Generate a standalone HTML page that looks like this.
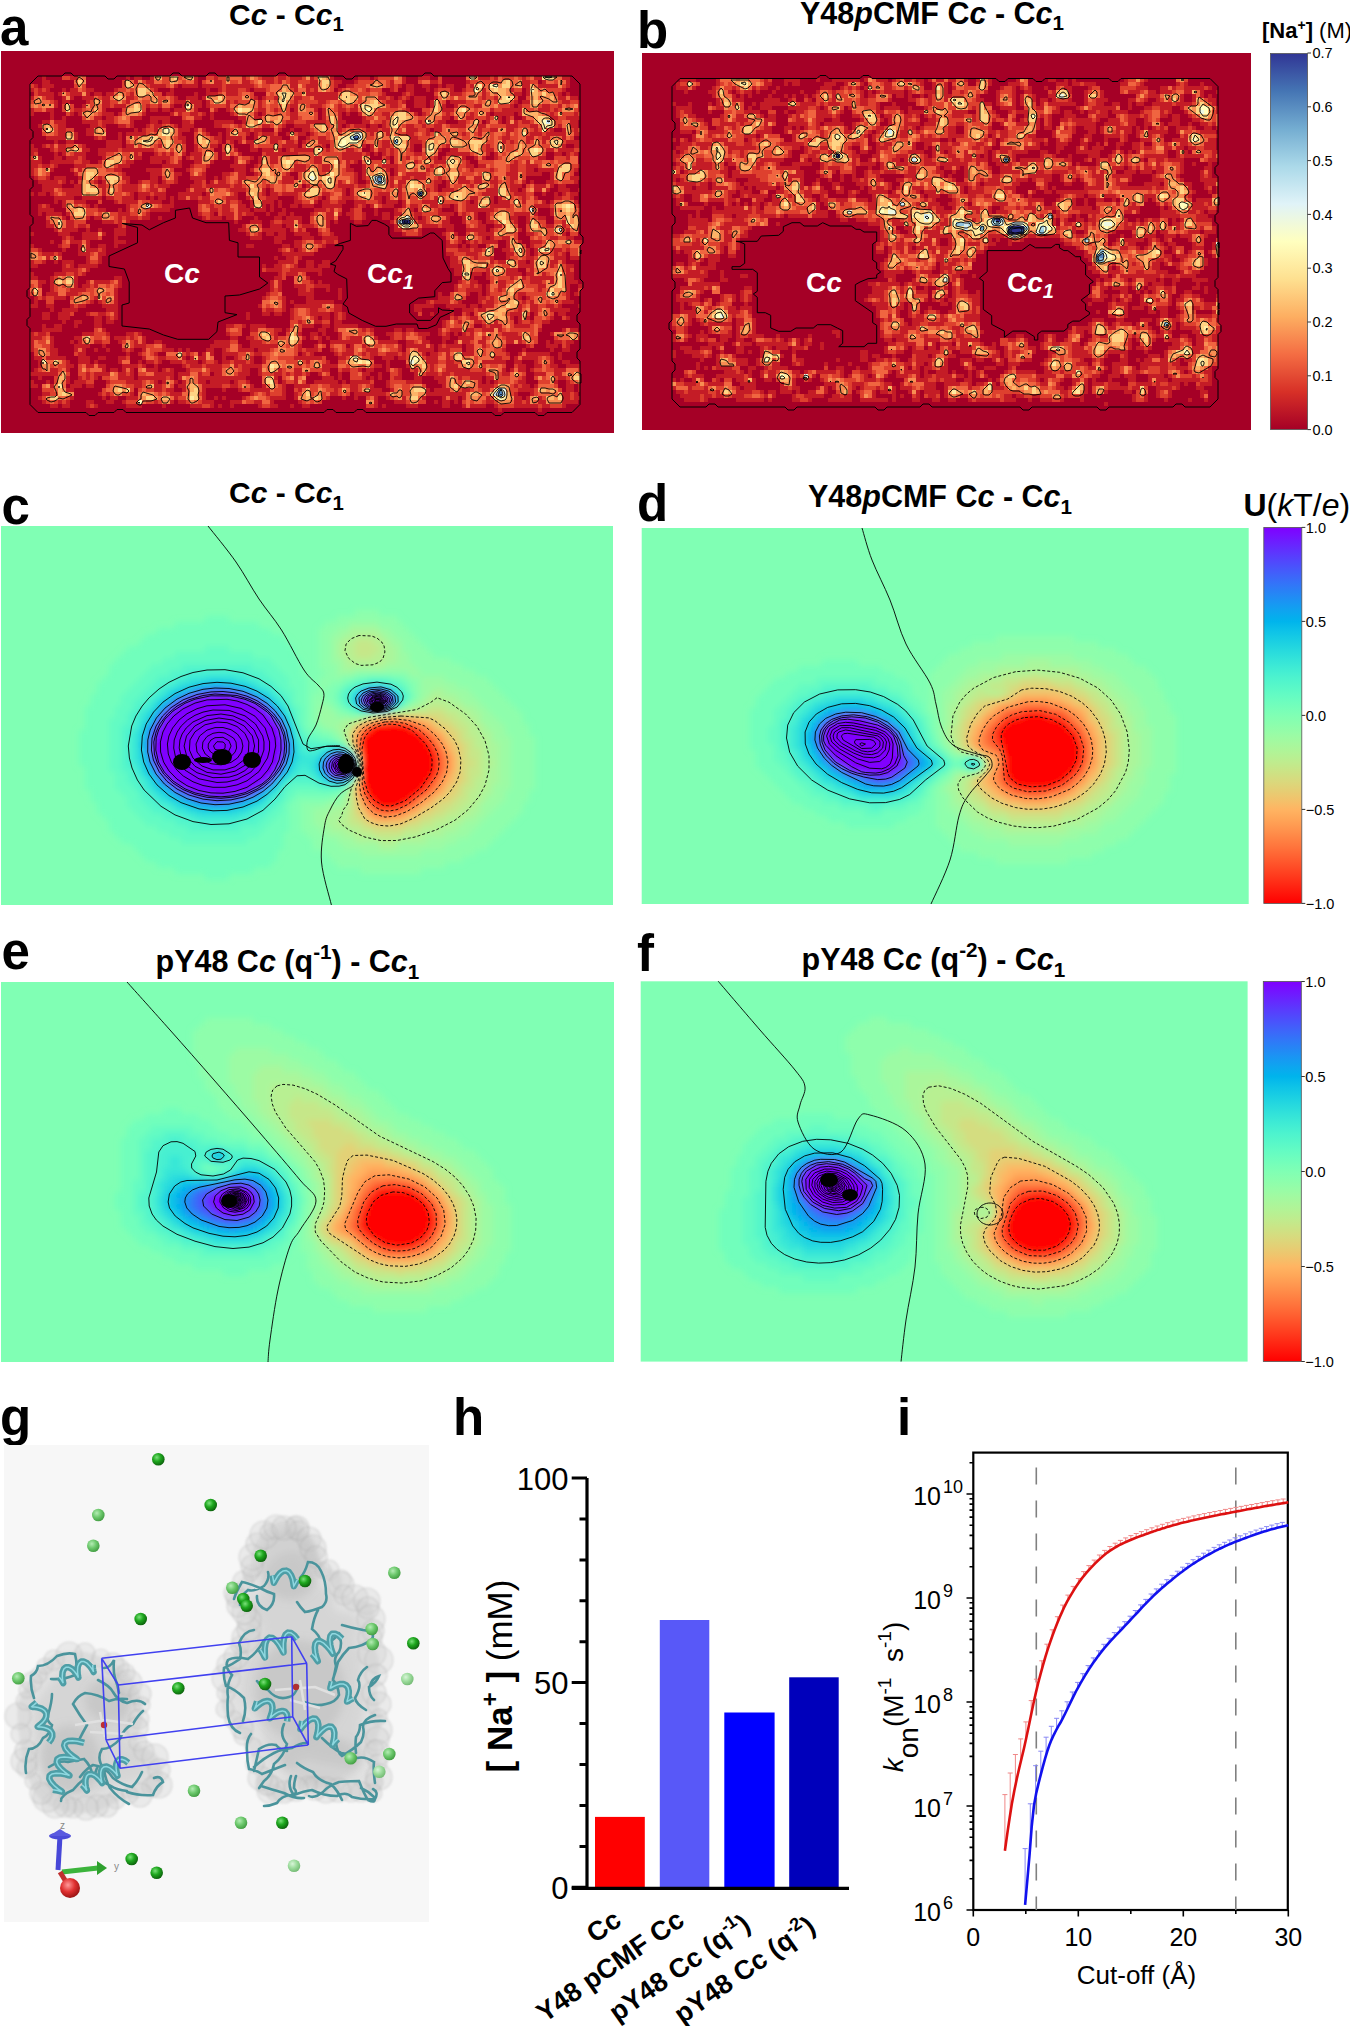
<!DOCTYPE html><html><head><meta charset="utf-8"><style>html,body{margin:0;padding:0;background:#fff;}svg{display:block;} text{font-family:"Liberation Sans", sans-serif;}</style></head><body><svg width="1350" height="2026" viewBox="0 0 1350 2026"><defs><linearGradient id="gNa" x1="0" y1="1" x2="0" y2="0"><stop offset="0.00" stop-color="#a50026"/><stop offset="0.10" stop-color="#d73027"/><stop offset="0.20" stop-color="#f46d43"/><stop offset="0.30" stop-color="#fdae61"/><stop offset="0.40" stop-color="#fee090"/><stop offset="0.50" stop-color="#ffffbf"/><stop offset="0.60" stop-color="#e0f3f8"/><stop offset="0.70" stop-color="#abd9e9"/><stop offset="0.80" stop-color="#74add1"/><stop offset="0.90" stop-color="#4575b4"/><stop offset="1.00" stop-color="#313695"/></linearGradient><linearGradient id="gU" x1="0" y1="0" x2="0" y2="1"><stop offset="0.000" stop-color="#8000ff"/><stop offset="0.025" stop-color="#7314ff"/><stop offset="0.050" stop-color="#6628fe"/><stop offset="0.075" stop-color="#593cfd"/><stop offset="0.100" stop-color="#4c4ffc"/><stop offset="0.125" stop-color="#4062fa"/><stop offset="0.150" stop-color="#3374f8"/><stop offset="0.175" stop-color="#2685f5"/><stop offset="0.200" stop-color="#1996f3"/><stop offset="0.225" stop-color="#0da6ef"/><stop offset="0.250" stop-color="#00b4ec"/><stop offset="0.275" stop-color="#0dc2e8"/><stop offset="0.300" stop-color="#19cee3"/><stop offset="0.325" stop-color="#26d9de"/><stop offset="0.350" stop-color="#33e3d9"/><stop offset="0.375" stop-color="#40ecd4"/><stop offset="0.400" stop-color="#4df3ce"/><stop offset="0.425" stop-color="#59f8c8"/><stop offset="0.450" stop-color="#66fcc2"/><stop offset="0.475" stop-color="#73febb"/><stop offset="0.500" stop-color="#80ffb4"/><stop offset="0.525" stop-color="#8cfead"/><stop offset="0.550" stop-color="#99fca6"/><stop offset="0.575" stop-color="#a6f89e"/><stop offset="0.600" stop-color="#b2f396"/><stop offset="0.625" stop-color="#bfec8e"/><stop offset="0.650" stop-color="#cce385"/><stop offset="0.675" stop-color="#d9d97d"/><stop offset="0.700" stop-color="#e5ce74"/><stop offset="0.725" stop-color="#f2c26b"/><stop offset="0.750" stop-color="#ffb462"/><stop offset="0.775" stop-color="#ffa658"/><stop offset="0.800" stop-color="#ff964f"/><stop offset="0.825" stop-color="#ff8545"/><stop offset="0.850" stop-color="#ff743c"/><stop offset="0.875" stop-color="#ff6232"/><stop offset="0.900" stop-color="#ff4f28"/><stop offset="0.925" stop-color="#ff3c1e"/><stop offset="0.950" stop-color="#ff2814"/><stop offset="0.975" stop-color="#ff140a"/><stop offset="1.000" stop-color="#ff0000"/></linearGradient></defs><rect width="1350" height="2026" fill="#fff"/><text x="0.0" y="44.5" font-size="51" font-weight="bold">a</text><text x="637.0" y="47.5" font-size="51" font-weight="bold">b</text><text x="1.5" y="524.0" font-size="51" font-weight="bold">c</text><text x="637.0" y="521.0" font-size="51" font-weight="bold">d</text><text x="1.5" y="968.5" font-size="51" font-weight="bold">e</text><text x="637.0" y="970.5" font-size="51" font-weight="bold">f</text><text x="0.0" y="1435.0" font-size="51" font-weight="bold">g</text><text x="453.0" y="1435.0" font-size="51" font-weight="bold">h</text><text x="897.0" y="1435.0" font-size="51" font-weight="bold">i</text><defs><filter id="nb" x="0" y="0" width="1" height="1"><feGaussianBlur stdDeviation="0.6"/></filter></defs><rect x="1.0" y="51.0" width="613.0" height="382.0" fill="#a50026"/><clipPath id="nca"><path d="M38.0 76.0L62.0 76.0L65.0 73.0L71.0 73.0L74.0 76.0L105.0 76.0L108.0 79.0L114.0 79.0L117.0 76.0L170.0 76.0L173.0 73.0L179.0 73.0L182.0 76.0L206.0 76.0L209.0 73.0L215.0 73.0L218.0 76.0L276.0 76.0L279.0 73.0L285.0 73.0L288.0 76.0L343.0 76.0L346.0 79.0L352.0 79.0L355.0 76.0L422.0 76.0L425.0 73.0L431.0 73.0L434.0 76.0L572.0 76.0L580.0 84.0L580.0 234.0L583.0 237.0L583.0 243.0L580.0 246.0L580.0 279.0L583.0 282.0L583.0 288.0L580.0 291.0L580.0 312.0L577.0 315.0L577.0 321.0L580.0 324.0L580.0 349.0L577.0 352.0L577.0 358.0L580.0 361.0L580.0 404.5L572.0 412.5L547.0 412.5L544.0 415.5L538.0 415.5L535.0 412.5L504.0 412.5L501.0 415.5L495.0 415.5L492.0 412.5L366.0 412.5L363.0 409.5L357.0 409.5L354.0 412.5L336.0 412.5L333.0 409.5L327.0 409.5L324.0 412.5L126.0 412.5L123.0 409.5L117.0 409.5L114.0 412.5L98.0 412.5L95.0 415.5L89.0 415.5L86.0 412.5L38.0 412.5L30.0 404.5L30.0 328.5L27.0 325.5L27.0 319.5L30.0 316.5L30.0 299.5L27.0 296.5L27.0 290.5L30.0 287.5L30.0 226.5L33.0 223.5L33.0 217.5L30.0 214.5L30.0 189.5L33.0 186.5L33.0 180.5L30.0 177.5L30.0 140.5L33.0 137.5L33.0 131.5L30.0 128.5L30.0 84.0Z"/></clipPath><g clip-path="url(#nca)"><g filter="url(#nb)" shape-rendering="crispEdges"><path fill="#c41e27" d="M42 76h4v4h-4zm20 0h24v4h-24zm64 0h4v4h-4zm8 0h8v4h-8zm16 0h48v4h-48zm56 0h128v4h-128zm152 0h12v4h-12zm16 0h32v4h-32zm44 0h12v4h-12zm20 0h4v4h-4zm28 0h104v4h-104zm-424 4h8v4h-8zm32 0h12v4h-12zm48 0h76v4h-76zm80 0h140v4h-140zm152 0h52v4h-52zm64 0h24v4h-24zm48 0h72v4h-72zm76 0h28v4h-28zm-512 4h8v4h-8zm12 0h12v4h-12zm32 0h12v4h-12zm48 0h56v4h-56zm60 0h16v4h-16zm20 0h136v4h-136zm144 0h56v4h-56zm60 0h8v4h-8zm16 0h8v4h-8zm16 0h4v4h-4zm8 0h8v4h-8zm20 0h104v4h-104zm-436 4h20v4h-20zm32 0h4v4h-4zm8 0h24v4h-24zm44 0h44v4h-44zm56 0h4v4h-4zm36 0h4v4h-4zm12 0h32v4h-32zm36 0h80v4h-80zm84 0h44v4h-44zm52 0h8v4h-8zm16 0h8v4h-8zm20 0h4v4h-4zm8 0h20v4h-20zm28 0h60v4h-60zm64 0h40v4h-40zm-492 4h20v4h-20zm24 0h32v4h-32zm36 0h8v4h-8zm12 0h56v4h-56zm60 0h8v4h-8zm28 0h4v4h-4zm12 0h48v4h-48zm60 0h120v4h-120zm136 0h12v4h-12zm32 0h88v4h-88zm92 0h36v4h-36zm40 0h4v4h-4zm-536 4h24v4h-24zm32 0h12v4h-12zm20 0h96v4h-96zm104 0h12v4h-12zm16 0h56v4h-56zm60 0h132v4h-132zm136 0h12v4h-12zm16 0h12v4h-12zm20 0h84v4h-84zm92 0h52v4h-52zm-496 4h28v4h-28zm32 0h8v4h-8zm24 0h116v4h-116zm120 0h200v4h-200zm208 0h12v4h-12zm16 0h16v4h-16zm20 0h68v4h-68zm72 0h60v4h-60zm-492 4h28v4h-28zm32 0h12v4h-12zm20 0h92v4h-92zm100 0h20v4h-20zm24 0h200v4h-200zm208 0h12v4h-12zm16 0h16v4h-16zm24 0h60v4h-60zm64 0h64v4h-64zm-488 4h24v4h-24zm32 0h44v4h-44zm60 0h24v4h-24zm28 0h8v4h-8zm12 0h8v4h-8zm12 0h24v4h-24zm36 0h8v4h-8zm16 0h64v4h-64zm68 0h24v4h-24zm28 0h88v4h-88zm100 0h160v4h-160zm-392 4h4v4h-4zm20 0h4v4h-4zm16 0h8v4h-8zm12 0h36v4h-36zm40 0h28v4h-28zm52 0h36v4h-36zm40 0h4v4h-4zm20 0h28v4h-28zm32 0h56v4h-56zm60 0h20v4h-20zm24 0h4v4h-4zm12 0h60v4h-60zm64 0h68v4h-68zm72 0h20v4h-20zm24 0h64v4h-64zm-468 4h4v4h-4zm12 0h4v4h-4zm20 0h20v4h-20zm24 0h36v4h-36zm44 0h20v4h-20zm32 0h20v4h-20zm28 0h4v4h-4zm28 0h80v4h-80zm84 0h20v4h-20zm40 0h88v4h-88zm92 0h48v4h-48zm52 0h8v4h-8zm16 0h60v4h-60zm-480 4h24v4h-24zm40 0h52v4h-52zm68 0h8v4h-8zm12 0h8v4h-8zm20 0h12v4h-12zm32 0h20v4h-20zm28 0h104v4h-104zm120 0h84v4h-84zm96 0h24v4h-24zm28 0h16v4h-16zm20 0h72v4h-72zm-468 4h28v4h-28zm52 0h16v4h-16zm28 0h16v4h-16zm28 0h32v4h-32zm36 0h12v4h-12zm32 0h72v4h-72zm80 0h48v4h-48zm52 0h20v4h-20zm24 0h8v4h-8zm12 0h196v4h-196zm-340 4h32v4h-32zm44 0h20v4h-20zm48 0h4v4h-4zm8 0h48v4h-48zm52 0h12v4h-12zm32 0h36v4h-36zm48 0h8v4h-8zm16 0h4v4h-4zm12 0h128v4h-128zm132 0h120v4h-120zm128 0h20v4h-20zm-520 4h36v4h-36zm44 0h20v4h-20zm32 0h4v4h-4zm8 0h56v4h-56zm68 0h16v4h-16zm24 0h4v4h-4zm8 0h24v4h-24zm28 0h24v4h-24zm32 0h20v4h-20zm24 0h272v4h-272zm-264 4h32v4h-32zm48 0h12v4h-12zm24 0h4v4h-4zm8 0h60v4h-60zm68 0h28v4h-28zm32 0h20v4h-20zm28 0h28v4h-28zm36 0h8v4h-8zm16 0h268v4h-268zm-252 4h4v4h-4zm12 0h8v4h-8zm40 0h16v4h-16zm20 0h60v4h-60zm68 0h28v4h-28zm32 0h8v4h-8zm12 0h60v4h-60zm64 0h280v4h-280zm-272 4h4v4h-4zm12 0h44v4h-44zm64 0h16v4h-16zm20 0h60v4h-60zm68 0h24v4h-24zm28 0h12v4h-12zm28 0h48v4h-48zm52 0h24v4h-24zm28 0h36v4h-36zm40 0h44v4h-44zm52 0h144v4h-144zm152 0h8v4h-8zm-544 4h8v4h-8zm20 0h40v4h-40zm48 0h88v4h-88zm96 0h20v4h-20zm28 0h16v4h-16zm28 0h8v4h-8zm12 0h20v4h-20zm24 0h76v4h-76zm84 0h44v4h-44zm52 0h20v4h-20zm28 0h132v4h-132zm-420 4h8v4h-8zm24 0h4v4h-4zm8 0h24v4h-24zm36 0h44v4h-44zm56 0h32v4h-32zm36 0h28v4h-28zm32 0h20v4h-20zm40 0h108v4h-108zm112 0h4v4h-4zm8 0h56v4h-56zm64 0h44v4h-44zm48 0h52v4h-52zm60 0h8v4h-8zm12 0h12v4h-12zm-536 4h12v4h-12zm24 0h8v4h-8zm12 0h20v4h-20zm36 0h40v4h-40zm48 0h32v4h-32zm36 0h32v4h-32zm36 0h8v4h-8zm12 0h20v4h-20zm24 0h112v4h-112zm124 0h8v4h-8zm12 0h44v4h-44zm48 0h24v4h-24zm32 0h12v4h-12zm20 0h52v4h-52zm60 0h24v4h-24zm-524 4h12v4h-12zm20 0h40v4h-40zm48 0h36v4h-36zm52 0h12v4h-12zm16 0h16v4h-16zm28 0h20v4h-20zm40 0h16v4h-16zm24 0h100v4h-100zm104 0h28v4h-28zm32 0h76v4h-76zm84 0h100v4h-100zm-448 4h28v4h-28zm44 0h56v4h-56zm88 0h20v4h-20zm28 0h20v4h-20zm40 0h16v4h-16zm24 0h96v4h-96zm108 0h112v4h-112zm116 0h104v4h-104zm-448 4h24v4h-24zm40 0h52v4h-52zm76 0h28v4h-28zm40 0h20v4h-20zm48 0h12v4h-12zm16 0h104v4h-104zm112 0h28v4h-28zm32 0h140v4h-140zm144 0h40v4h-40zm-508 4h20v4h-20zm44 0h52v4h-52zm76 0h32v4h-32zm40 0h16v4h-16zm32 0h24v4h-24zm32 0h36v4h-36zm44 0h60v4h-60zm64 0h28v4h-28zm32 0h148v4h-148zm156 0h24v4h-24zm-516 4h16v4h-16zm20 0h12v4h-12zm24 0h52v4h-52zm72 0h8v4h-8zm12 0h16v4h-16zm28 0h16v4h-16zm24 0h4v4h-4zm8 0h72v4h-72zm76 0h60v4h-60zm64 0h164v4h-164zm188 0h32v4h-32zm-512 4h28v4h-28zm32 0h4v4h-4zm8 0h20v4h-20zm24 0h28v4h-28zm36 0h20v4h-20zm24 0h16v4h-16zm32 0h12v4h-12zm16 0h148v4h-148zm156 0h76v4h-76zm80 0h80v4h-80zm84 0h4v4h-4zm16 0h32v4h-32zm-504 4h20v4h-20zm32 0h96v4h-96zm116 0h112v4h-112zm116 0h132v4h-132zm140 0h76v4h-76zm80 0h28v4h-28zm32 0h8v4h-8zm-516 4h124v4h-124zm144 0h80v4h-80zm84 0h76v4h-76zm80 0h88v4h-88zm92 0h76v4h-76zm80 0h28v4h-28zm36 0h12v4h-12zm20 0h4v4h-4zm-548 4h4v4h-4zm8 0h8v4h-8zm12 0h84v4h-84zm88 0h28v4h-28zm40 0h24v4h-24zm28 0h32v4h-32zm40 0h20v4h-20zm24 0h76v4h-76zm80 0h184v4h-184zm192 0h4v4h-4zm12 0h4v4h-4zm8 0h16v4h-16zm-508 4h20v4h-20zm28 0h20v4h-20zm24 0h28v4h-28zm32 0h8v4h-8zm12 0h4v4h-4zm8 0h8v4h-8zm12 0h4v4h-4zm8 0h60v4h-60zm68 0h32v4h-32zm48 0h28v4h-28zm32 0h56v4h-56zm60 0h108v4h-108zm112 0h40v4h-40zm56 0h20v4h-20zm-500 4h4v4h-4zm8 0h24v4h-24zm36 0h4v4h-4zm16 0h48v4h-48zm56 0h4v4h-4zm28 0h44v4h-44zm52 0h24v4h-24zm28 0h4v4h-4zm16 0h24v4h-24zm28 0h24v4h-24zm32 0h28v4h-28zm32 0h12v4h-12zm16 0h68v4h-68zm72 0h20v4h-20zm24 0h48v4h-48zm52 0h28v4h-28zm-512 4h12v4h-12zm24 0h28v4h-28zm32 0h4v4h-4zm32 0h48v4h-48zm72 0h48v4h-48zm52 0h16v4h-16zm20 0h4v4h-4zm8 0h4v4h-4zm12 0h8v4h-8zm12 0h12v4h-12zm20 0h20v4h-20zm32 0h12v4h-12zm16 0h24v4h-24zm32 0h48v4h-48zm52 0h128v4h-128zm-416 4h16v4h-16zm28 0h40v4h-40zm52 0h4v4h-4zm8 0h44v4h-44zm72 0h52v4h-52zm56 0h12v4h-12zm16 0h4v4h-4zm12 0h4v4h-4zm32 0h28v4h-28zm36 0h12v4h-12zm24 0h4v4h-4zm20 0h20v4h-20zm24 0h24v4h-24zm36 0h84v4h-84zm96 0h32v4h-32zm-512 4h4v4h-4zm8 0h16v4h-16zm20 0h84v4h-84zm132 0h16v4h-16zm20 0h36v4h-36zm48 0h4v4h-4zm12 0h8v4h-8zm12 0h4v4h-4zm20 0h32v4h-32zm36 0h20v4h-20zm28 0h4v4h-4zm8 0h8v4h-8zm12 0h60v4h-60zm64 0h20v4h-20zm28 0h52v4h-52zm64 0h32v4h-32zm-504 4h20v4h-20zm24 0h20v4h-20zm24 0h56v4h-56zm64 0h4v4h-4zm44 0h20v4h-20zm24 0h16v4h-16zm28 0h4v4h-4zm20 0h8v4h-8zm12 0h16v4h-16zm24 0h28v4h-28zm40 0h16v4h-16zm32 0h8v4h-8zm12 0h24v4h-24zm28 0h28v4h-28zm40 0h16v4h-16zm24 0h32v4h-32zm40 0h20v4h-20zm28 0h28v4h-28zm-508 4h40v4h-40zm56 0h28v4h-28zm132 0h4v4h-4zm16 0h12v4h-12zm20 0h32v4h-32zm40 0h20v4h-20zm24 0h4v4h-4zm20 0h8v4h-8zm36 0h60v4h-60zm72 0h20v4h-20zm24 0h32v4h-32zm40 0h20v4h-20zm28 0h28v4h-28zm-508 4h44v4h-44zm72 0h8v4h-8zm124 0h20v4h-20zm28 0h12v4h-12zm16 0h44v4h-44zm108 0h60v4h-60zm72 0h20v4h-20zm28 0h24v4h-24zm32 0h56v4h-56zm-472 4h24v4h-24zm32 0h4v4h-4zm12 0h4v4h-4zm16 0h12v4h-12zm124 0h48v4h-48zm52 0h16v4h-16zm28 0h12v4h-12zm76 0h28v4h-28zm52 0h8v4h-8zm20 0h20v4h-20zm24 0h32v4h-32zm36 0h56v4h-56zm-496 4h4v4h-4zm28 0h12v4h-12zm24 0h24v4h-24zm32 0h12v4h-12zm132 0h16v4h-16zm20 0h8v4h-8zm12 0h8v4h-8zm16 0h16v4h-16zm24 0h16v4h-16zm84 0h20v4h-20zm40 0h16v4h-16zm24 0h52v4h-52zm60 0h40v4h-40zm44 0h8v4h-8zm-508 4h12v4h-12zm20 0h20v4h-20zm32 0h4v4h-4zm136 0h12v4h-12zm24 0h12v4h-12zm28 0h12v4h-12zm20 0h16v4h-16zm124 0h40v4h-40zm44 0h28v4h-28zm40 0h44v4h-44zm-480 4h4v4h-4zm12 0h28v4h-28zm52 0h12v4h-12zm160 0h8v4h-8zm20 0h44v4h-44zm152 0h16v4h-16zm20 0h32v4h-32zm40 0h16v4h-16zm24 0h52v4h-52zm-500 4h4v4h-4zm28 0h12v4h-12zm20 0h12v4h-12zm20 0h8v4h-8zm16 0h4v4h-4zm132 0h8v4h-8zm36 0h8v4h-8zm12 0h32v4h-32zm152 0h12v4h-12zm16 0h4v4h-4zm8 0h8v4h-8zm16 0h12v4h-12zm20 0h20v4h-20zm24 0h52v4h-52zm-500 4h12v4h-12zm32 0h4v4h-4zm16 0h28v4h-28zm200 0h16v4h-16zm20 0h20v4h-20zm148 0h48v4h-48zm56 0h28v4h-28zm32 0h48v4h-48zm-504 4h32v4h-32zm48 0h28v4h-28zm204 0h32v4h-32zm164 0h48v4h-48zm60 0h24v4h-24zm28 0h32v4h-32zm36 0h12v4h-12zm-540 4h32v4h-32zm56 0h16v4h-16zm188 0h4v4h-4zm12 0h16v4h-16zm164 0h44v4h-44zm56 0h60v4h-60zm64 0h12v4h-12zm-540 4h16v4h-16zm24 0h4v4h-4zm8 0h12v4h-12zm24 0h16v4h-16zm192 0h20v4h-20zm28 0h8v4h-8zm16 0h8v4h-8zm128 0h76v4h-76zm80 0h36v4h-36zm-500 4h8v4h-8zm32 0h12v4h-12zm16 0h20v4h-20zm184 0h4v4h-4zm12 0h24v4h-24zm32 0h8v4h-8zm12 0h12v4h-12zm132 0h124v4h-124zm-388 4h28v4h-28zm200 0h60v4h-60zm192 0h64v4h-64zm72 0h48v4h-48zm-496 4h4v4h-4zm24 0h32v4h-32zm224 0h28v4h-28zm40 0h4v4h-4zm136 0h28v4h-28zm32 0h36v4h-36zm40 0h48v4h-48zm-496 4h8v4h-8zm20 0h28v4h-28zm64 0h8v4h-8zm160 0h12v4h-12zm20 0h16v4h-16zm168 0h12v4h-12zm24 0h88v4h-88zm-456 4h16v4h-16zm20 0h28v4h-28zm36 0h36v4h-36zm184 0h12v4h-12zm24 0h20v4h-20zm24 0h4v4h-4zm140 0h20v4h-20zm32 0h88v4h-88zm-460 4h12v4h-12zm20 0h28v4h-28zm32 0h40v4h-40zm188 0h12v4h-12zm24 0h36v4h-36zm160 0h28v4h-28zm32 0h84v4h-84zm92 0h4v4h-4zm-548 4h12v4h-12zm20 0h68v4h-68zm220 0h12v4h-12zm28 0h16v4h-16zm28 0h4v4h-4zm12 0h4v4h-4zm116 0h28v4h-28zm32 0h84v4h-84zm92 0h4v4h-4zm-548 4h12v4h-12zm16 0h72v4h-72zm220 0h16v4h-16zm32 0h16v4h-16zm40 0h4v4h-4zm100 0h4v4h-4zm12 0h20v4h-20zm28 0h4v4h-4zm8 0h84v4h-84zm88 0h8v4h-8zm-540 4h32v4h-32zm36 0h48v4h-48zm192 0h24v4h-24zm44 0h8v4h-8zm32 0h4v4h-4zm100 0h28v4h-28zm40 0h44v4h-44zm48 0h44v4h-44zm-492 4h4v4h-4zm12 0h8v4h-8zm24 0h24v4h-24zm28 0h20v4h-20zm164 0h24v4h-24zm28 0h4v4h-4zm16 0h28v4h-28zm120 0h36v4h-36zm52 0h96v4h-96zm-448 4h8v4h-8zm16 0h8v4h-8zm24 0h16v4h-16zm32 0h16v4h-16zm156 0h28v4h-28zm36 0h48v4h-48zm120 0h20v4h-20zm32 0h20v4h-20zm24 0h8v4h-8zm12 0h80v4h-80zm96 0h4v4h-4zm-528 4h4v4h-4zm12 0h16v4h-16zm44 0h12v4h-12zm156 0h24v4h-24zm28 0h52v4h-52zm124 0h8v4h-8zm36 0h4v4h-4zm12 0h108v4h-108zm-420 4h8v4h-8zm16 0h16v4h-16zm28 0h32v4h-32zm160 0h4v4h-4zm16 0h8v4h-8zm12 0h8v4h-8zm16 0h40v4h-40zm44 0h12v4h-12zm84 0h4v4h-4zm12 0h4v4h-4zm20 0h4v4h-4zm12 0h8v4h-8zm12 0h56v4h-56zm60 0h20v4h-20zm24 0h8v4h-8zm-516 4h8v4h-8zm16 0h12v4h-12zm36 0h8v4h-8zm12 0h12v4h-12zm140 0h4v4h-4zm44 0h28v4h-28zm32 0h8v4h-8zm12 0h12v4h-12zm116 0h64v4h-64zm68 0h12v4h-12zm16 0h20v4h-20zm28 0h8v4h-8zm-500 4h4v4h-4zm12 0h8v4h-8zm20 0h8v4h-8zm12 0h8v4h-8zm184 0h40v4h-40zm44 0h8v4h-8zm108 0h72v4h-72zm76 0h32v4h-32zm-476 4h4v4h-4zm12 0h8v4h-8zm20 0h4v4h-4zm20 0h8v4h-8zm132 0h20v4h-20zm24 0h16v4h-16zm40 0h24v4h-24zm32 0h8v4h-8zm12 0h24v4h-24zm108 0h32v4h-32zm40 0h60v4h-60zm-440 4h20v4h-20zm52 0h12v4h-12zm132 0h16v4h-16zm24 0h32v4h-32zm36 0h16v4h-16zm32 0h8v4h-8zm16 0h40v4h-40zm60 0h8v4h-8zm12 0h8v4h-8zm32 0h104v4h-104zm124 0h16v4h-16zm-532 4h20v4h-20zm52 0h28v4h-28zm44 0h16v4h-16zm100 0h16v4h-16zm24 0h28v4h-28zm36 0h16v4h-16zm24 0h8v4h-8zm12 0h4v4h-4zm16 0h36v4h-36zm48 0h44v4h-44zm52 0h12v4h-12zm16 0h4v4h-4zm8 0h76v4h-76zm88 0h32v4h-32zm-520 4h24v4h-24zm44 0h36v4h-36zm40 0h32v4h-32zm116 0h8v4h-8zm16 0h60v4h-60zm64 0h12v4h-12zm16 0h4v4h-4zm12 0h40v4h-40zm52 0h36v4h-36zm52 0h8v4h-8zm16 0h80v4h-80zm96 0h28v4h-28zm-524 4h24v4h-24zm40 0h4v4h-4zm8 0h32v4h-32zm40 0h28v4h-28zm36 0h8v4h-8zm60 0h24v4h-24zm36 0h52v4h-52zm68 0h4v4h-4zm12 0h68v4h-68zm76 0h24v4h-24zm36 0h4v4h-4zm12 0h84v4h-84zm92 0h4v4h-4zm8 0h20v4h-20zm-524 4h24v4h-24zm44 0h16v4h-16zm28 0h4v4h-4zm20 0h44v4h-44zm88 0h32v4h-32zm40 0h52v4h-52zm64 0h12v4h-12zm16 0h16v4h-16zm20 0h52v4h-52zm56 0h28v4h-28zm32 0h24v4h-24zm28 0h40v4h-40zm60 0h8v4h-8zm20 0h12v4h-12zm16 0h8v4h-8zm-532 4h28v4h-28zm44 0h12v4h-12zm20 0h4v4h-4zm12 0h4v4h-4zm16 0h12v4h-12zm20 0h32v4h-32zm36 0h4v4h-4zm8 0h4v4h-4zm20 0h8v4h-8zm16 0h32v4h-32zm36 0h64v4h-64zm72 0h72v4h-72zm76 0h28v4h-28zm32 0h24v4h-24zm28 0h40v4h-40zm56 0h4v4h-4zm28 0h4v4h-4zm12 0h8v4h-8zm-528 4h24v4h-24zm40 0h12v4h-12zm52 0h4v4h-4zm12 0h20v4h-20zm28 0h32v4h-32zm36 0h12v4h-12zm20 0h76v4h-76zm80 0h12v4h-12zm32 0h92v4h-92zm96 0h80v4h-80zm88 0h32v4h-32zm40 0h4v4h-4zm-524 4h32v4h-32zm44 0h12v4h-12zm20 0h8v4h-8zm20 0h12v4h-12zm24 0h44v4h-44zm48 0h24v4h-24zm32 0h4v4h-4zm12 0h20v4h-20zm28 0h64v4h-64zm76 0h36v4h-36zm44 0h12v4h-12zm16 0h112v4h-112zm116 0h40v4h-40zm44 0h4v4h-4zm-520 4h32v4h-32zm40 0h12v4h-12zm16 0h4v4h-4zm24 0h12v4h-12zm20 0h4v4h-4zm8 0h16v4h-16zm24 0h28v4h-28zm32 0h16v4h-16zm20 0h32v4h-32zm40 0h68v4h-68zm76 0h36v4h-36zm48 0h4v4h-4zm20 0h100v4h-100zm108 0h8v4h-8zm20 0h20v4h-20zm28 0h8v4h-8zm-524 4h36v4h-36zm40 0h28v4h-28zm44 0h24v4h-24zm32 0h4v4h-4zm28 0h200v4h-200zm204 0h4v4h-4zm20 0h100v4h-100zm108 0h12v4h-12zm20 0h24v4h-24zm32 0h16v4h-16zm-532 4h36v4h-36zm44 0h28v4h-28zm32 0h8v4h-8zm12 0h12v4h-12zm16 0h20v4h-20zm24 0h12v4h-12zm24 0h64v4h-64zm72 0h72v4h-72zm80 0h24v4h-24zm28 0h8v4h-8zm20 0h16v4h-16zm24 0h96v4h-96zm100 0h16v4h-16zm20 0h52v4h-52zm-500 4h40v4h-40zm48 0h56v4h-56zm60 0h36v4h-36zm40 0h32v4h-32zm36 0h36v4h-36zm44 0h52v4h-52zm60 0h12v4h-12zm20 0h4v4h-4zm12 0h20v4h-20zm28 0h4v4h-4zm12 0h12v4h-12zm24 0h112v4h-112zm120 0h48v4h-48zm-496 4h4v4h-4zm16 0h16v4h-16zm24 0h20v4h-20zm24 0h32v4h-32zm36 0h36v4h-36zm40 0h68v4h-68zm84 0h16v4h-16zm20 0h24v4h-24zm40 0h12v4h-12zm16 0h4v4h-4zm12 0h16v4h-16zm20 0h4v4h-4zm8 0h4v4h-4zm12 0h12v4h-12zm24 0h8v4h-8zm20 0h48v4h-48zm52 0h40v4h-40zm48 0h48v4h-48zm-504 4h4v4h-4zm16 0h4v4h-4zm8 0h16v4h-16zm20 0h20v4h-20zm32 0h52v4h-52zm56 0h16v4h-16zm20 0h24v4h-24zm28 0h20v4h-20zm24 0h16v4h-16zm28 0h16v4h-16zm20 0h24v4h-24zm32 0h24v4h-24zm28 0h4v4h-4zm8 0h24v4h-24zm36 0h36v4h-36zm52 0h44v4h-44zm48 0h4v4h-4zm8 0h32v4h-32zm44 0h20v4h-20zm28 0h16v4h-16zm-536 4h8v4h-8zm12 0h24v4h-24zm28 0h12v4h-12zm16 0h8v4h-8zm20 0h68v4h-68zm72 0h76v4h-76zm84 0h24v4h-24zm32 0h80v4h-80zm92 0h40v4h-40zm56 0h88v4h-88zm92 0h24v4h-24zm32 0h8v4h-8zm12 0h4v4h-4zm-536 4h32v4h-32zm60 0h32v4h-32zm36 0h36v4h-36zm44 0h24v4h-24zm40 0h4v4h-4zm16 0h48v4h-48zm56 0h88v4h-88zm96 0h40v4h-40zm44 0h128v4h-128zm132 0h8v4h-8zm12 0h4v4h-4zm-536 4h32v4h-32zm56 0h36v4h-36zm40 0h68v4h-68zm112 0h36v4h-36zm44 0h56v4h-56zm60 0h164v4h-164zm176 0h48v4h-48zm-492 4h36v4h-36zm64 0h4v4h-4zm8 0h8v4h-8zm16 0h80v4h-80zm88 0h4v4h-4zm8 0h4v4h-4zm20 0h44v4h-44zm52 0h36v4h-36zm48 0h4v4h-4zm12 0h4v4h-4zm12 0h12v4h-12zm20 0h40v4h-40zm56 0h16v4h-16zm20 0h60v4h-60zm64 0h56v4h-56zm-484 4h28v4h-28zm44 0h8v4h-8zm20 0h8v4h-8zm16 0h52v4h-52zm56 0h36v4h-36zm52 0h44v4h-44zm68 0h24v4h-24zm68 0h12v4h-12zm28 0h32v4h-32zm40 0h4v4h-4zm8 0h8v4h-8zm12 0h4v4h-4zm8 0h116v4h-116zm-412 4h8v4h-8zm12 0h8v4h-8zm24 0h12v4h-12zm40 0h16v4h-16zm36 0h4v4h-4zm28 0h24v4h-24zm28 0h4v4h-4zm12 0h4v4h-4zm28 0h20v4h-20zm32 0h4v4h-4zm12 0h8v4h-8zm64 0h12v4h-12zm16 0h4v4h-4zm24 0h12v4h-12zm36 0h8v4h-8zm20 0h24v4h-24zm32 0h72v4h-72zm4 4h4v4h-4zm40 0h4v4h-4z"/><path fill="#de3f2e" d="M62 76h8v4h-8zm16 0h8v4h-8zm76 0h40v4h-40zm52 0h8v4h-8zm12 0h24v4h-24zm28 0h16v4h-16zm28 0h4v4h-4zm12 0h4v4h-4zm16 0h8v4h-8zm12 0h16v4h-16zm64 0h24v4h-24zm60 0h4v4h-4zm28 0h12v4h-12zm24 0h4v4h-4zm8 0h24v4h-24zm28 0h8v4h-8zm16 0h20v4h-20zm-468 4h12v4h-12zm48 0h12v4h-12zm16 0h8v4h-8zm16 0h40v4h-40zm48 0h12v4h-12zm20 0h20v4h-20zm28 0h16v4h-16zm24 0h4v4h-4zm8 0h8v4h-8zm16 0h12v4h-12zm20 0h16v4h-16zm40 0h32v4h-32zm36 0h8v4h-8zm24 0h12v4h-12zm20 0h4v4h-4zm32 0h52v4h-52zm60 0h8v4h-8zm16 0h20v4h-20zm-516 4h4v4h-4zm44 0h12v4h-12zm48 0h28v4h-28zm44 0h8v4h-8zm56 0h4v4h-4zm32 0h36v4h-36zm44 0h8v4h-8zm20 0h16v4h-16zm36 0h36v4h-36zm40 0h4v4h-4zm72 0h4v4h-4zm8 0h48v4h-48zm56 0h8v4h-8zm28 0h8v4h-8zm-524 4h4v4h-4zm8 0h4v4h-4zm36 0h8v4h-8zm40 0h36v4h-36zm104 0h4v4h-4zm16 0h8v4h-8zm28 0h28v4h-28zm32 0h8v4h-8zm12 0h4v4h-4zm8 0h16v4h-16zm24 0h24v4h-24zm28 0h12v4h-12zm24 0h4v4h-4zm44 0h12v4h-12zm28 0h16v4h-16zm20 0h24v4h-24zm28 0h8v4h-8zm16 0h32v4h-32zm-496 4h4v4h-4zm28 0h8v4h-8zm20 0h4v4h-4zm32 0h16v4h-16zm20 0h28v4h-28zm84 0h8v4h-8zm20 0h16v4h-16zm28 0h40v4h-40zm72 0h44v4h-44zm68 0h4v4h-4zm28 0h16v4h-16zm28 0h20v4h-20zm24 0h28v4h-28zm44 0h28v4h-28zm-496 4h12v4h-12zm32 0h4v4h-4zm28 0h8v4h-8zm16 0h16v4h-16zm24 0h40v4h-40zm72 0h48v4h-48zm60 0h8v4h-8zm12 0h16v4h-16zm24 0h12v4h-12zm36 0h40v4h-40zm48 0h4v4h-4zm16 0h4v4h-4zm36 0h44v4h-44zm48 0h8v4h-8zm12 0h20v4h-20zm28 0h32v4h-32zm40 0h4v4h-4zm-536 4h24v4h-24zm60 0h12v4h-12zm20 0h16v4h-16zm20 0h44v4h-44zm56 0h4v4h-4zm24 0h16v4h-16zm20 0h4v4h-4zm8 0h20v4h-20zm24 0h32v4h-32zm36 0h20v4h-20zm28 0h60v4h-60zm72 0h4v4h-4zm36 0h12v4h-12zm32 0h48v4h-48zm64 0h32v4h-32zm40 0h8v4h-8zm-540 4h24v4h-24zm32 0h12v4h-12zm24 0h16v4h-16zm24 0h4v4h-4zm16 0h20v4h-20zm24 0h8v4h-8zm12 0h8v4h-8zm24 0h8v4h-8zm24 0h16v4h-16zm20 0h28v4h-28zm32 0h28v4h-28zm36 0h12v4h-12zm24 0h16v4h-16zm20 0h12v4h-12zm16 0h32v4h-32zm40 0h8v4h-8zm36 0h8v4h-8zm24 0h16v4h-16zm24 0h28v4h-28zm40 0h20v4h-20zm28 0h8v4h-8zm12 0h16v4h-16zm-528 4h12v4h-12zm28 0h12v4h-12zm20 0h20v4h-20zm40 0h24v4h-24zm64 0h8v4h-8zm24 0h4v4h-4zm20 0h28v4h-28zm36 0h8v4h-8zm12 0h12v4h-12zm20 0h16v4h-16zm28 0h12v4h-12zm20 0h4v4h-4zm12 0h48v4h-48zm64 0h20v4h-20zm32 0h36v4h-36zm40 0h8v4h-8zm28 0h16v4h-16zm28 0h4v4h-4zm8 0h20v4h-20zm-492 4h4v4h-4zm16 0h20v4h-20zm40 0h20v4h-20zm52 0h4v4h-4zm8 0h8v4h-8zm16 0h4v4h-4zm36 0h20v4h-20zm32 0h24v4h-24zm32 0h20v4h-20zm28 0h12v4h-12zm36 0h20v4h-20zm28 0h24v4h-24zm36 0h20v4h-20zm24 0h20v4h-20zm24 0h12v4h-12zm48 0h28v4h-28zm32 0h20v4h-20zm24 0h4v4h-4zm-496 4h12v4h-12zm32 0h16v4h-16zm68 0h12v4h-12zm64 0h8v4h-8zm16 0h28v4h-28zm36 0h20v4h-20zm28 0h12v4h-12zm40 0h20v4h-20zm24 0h52v4h-52zm64 0h12v4h-12zm20 0h12v4h-12zm16 0h8v4h-8zm20 0h4v4h-4zm16 0h24v4h-24zm32 0h8v4h-8zm-508 4h4v4h-4zm48 0h4v4h-4zm16 0h16v4h-16zm76 0h4v4h-4zm56 0h40v4h-40zm48 0h12v4h-12zm32 0h12v4h-12zm44 0h12v4h-12zm16 0h32v4h-32zm36 0h16v4h-16zm44 0h16v4h-16zm24 0h8v4h-8zm20 0h4v4h-4zm8 0h4v4h-4zm12 0h40v4h-40zm-488 4h16v4h-16zm56 0h4v4h-4zm28 0h4v4h-4zm24 0h4v4h-4zm12 0h12v4h-12zm60 0h16v4h-16zm20 0h20v4h-20zm28 0h12v4h-12zm40 0h28v4h-28zm40 0h4v4h-4zm36 0h20v4h-20zm28 0h8v4h-8zm12 0h8v4h-8zm16 0h8v4h-8zm24 0h12v4h-12zm20 0h20v4h-20zm32 0h12v4h-12zm20 0h20v4h-20zm24 0h8v4h-8zm-520 4h16v4h-16zm24 0h8v4h-8zm28 0h12v4h-12zm52 0h8v4h-8zm12 0h20v4h-20zm40 0h4v4h-4zm32 0h12v4h-12zm20 0h4v4h-4zm24 0h4v4h-4zm36 0h28v4h-28zm32 0h24v4h-24zm36 0h4v4h-4zm12 0h16v4h-16zm28 0h8v4h-8zm24 0h36v4h-36zm40 0h8v4h-8zm16 0h8v4h-8zm16 0h20v4h-20zm24 0h12v4h-12zm28 0h8v4h-8zm12 0h4v4h-4zm-536 4h16v4h-16zm24 0h8v4h-8zm28 0h12v4h-12zm52 0h32v4h-32zm48 0h12v4h-12zm36 0h16v4h-16zm28 0h4v4h-4zm16 0h4v4h-4zm16 0h8v4h-8zm24 0h56v4h-56zm60 0h12v4h-12zm16 0h16v4h-16zm24 0h12v4h-12zm16 0h32v4h-32zm36 0h12v4h-12zm16 0h24v4h-24zm28 0h20v4h-20zm32 0h4v4h-4zm24 0h8v4h-8zm-500 4h8v4h-8zm32 0h4v4h-4zm28 0h52v4h-52zm68 0h20v4h-20zm48 0h4v4h-4zm16 0h12v4h-12zm32 0h8v4h-8zm20 0h8v4h-8zm16 0h84v4h-84zm92 0h84v4h-84zm92 0h16v4h-16zm24 0h8v4h-8zm16 0h12v4h-12zm16 0h8v4h-8zm-440 4h56v4h-56zm68 0h24v4h-24zm32 0h4v4h-4zm16 0h4v4h-4zm12 0h16v4h-16zm24 0h8v4h-8zm16 0h4v4h-4zm12 0h12v4h-12zm24 0h52v4h-52zm60 0h20v4h-20zm32 0h80v4h-80zm84 0h4v4h-4zm8 0h12v4h-12zm16 0h12v4h-12zm16 0h20v4h-20zm-500 4h4v4h-4zm8 0h4v4h-4zm12 0h16v4h-16zm68 0h24v4h-24zm28 0h24v4h-24zm36 0h12v4h-12zm24 0h12v4h-12zm32 0h28v4h-28zm48 0h20v4h-20zm28 0h32v4h-32zm44 0h8v4h-8zm16 0h20v4h-20zm32 0h24v4h-24zm28 0h36v4h-36zm40 0h72v4h-72zm-436 4h4v4h-4zm12 0h16v4h-16zm52 0h4v4h-4zm36 0h32v4h-32zm44 0h16v4h-16zm24 0h12v4h-12zm52 0h4v4h-4zm16 0h4v4h-4zm24 0h12v4h-12zm16 0h16v4h-16zm24 0h8v4h-8zm20 0h4v4h-4zm12 0h4v4h-4zm8 0h16v4h-16zm28 0h16v4h-16zm36 0h28v4h-28zm36 0h52v4h-52zm60 0h4v4h-4zm20 0h8v4h-8zm-540 4h4v4h-4zm32 0h8v4h-8zm40 0h28v4h-28zm32 0h4v4h-4zm20 0h4v4h-4zm8 0h4v4h-4zm8 0h8v4h-8zm28 0h16v4h-16zm24 0h12v4h-12zm36 0h4v4h-4zm36 0h44v4h-44zm64 0h4v4h-4zm24 0h4v4h-4zm8 0h20v4h-20zm28 0h16v4h-16zm48 0h16v4h-16zm28 0h48v4h-48zm72 0h4v4h-4zm-540 4h8v4h-8zm48 0h4v4h-4zm28 0h28v4h-28zm64 0h12v4h-12zm20 0h4v4h-4zm12 0h16v4h-16zm36 0h12v4h-12zm24 0h8v4h-8zm16 0h36v4h-36zm44 0h20v4h-20zm40 0h8v4h-8zm20 0h4v4h-4zm12 0h12v4h-12zm16 0h24v4h-24zm36 0h16v4h-16zm32 0h4v4h-4zm20 0h40v4h-40zm56 0h12v4h-12zm16 0h8v4h-8zm-496 4h8v4h-8zm28 0h24v4h-24zm68 0h8v4h-8zm32 0h8v4h-8zm36 0h8v4h-8zm24 0h8v4h-8zm16 0h36v4h-36zm44 0h24v4h-24zm28 0h4v4h-4zm12 0h28v4h-28zm32 0h20v4h-20zm24 0h16v4h-16zm28 0h20v4h-20zm32 0h36v4h-36zm40 0h8v4h-8zm12 0h48v4h-48zm-492 4h4v4h-4zm12 0h4v4h-4zm36 0h32v4h-32zm108 0h12v4h-12zm64 0h36v4h-36zm48 0h16v4h-16zm24 0h16v4h-16zm36 0h16v4h-16zm32 0h32v4h-32zm36 0h32v4h-32zm52 0h24v4h-24zm32 0h8v4h-8zm20 0h40v4h-40zm-504 4h16v4h-16zm40 0h4v4h-4zm8 0h32v4h-32zm80 0h12v4h-12zm28 0h16v4h-16zm64 0h40v4h-40zm52 0h16v4h-16zm24 0h16v4h-16zm36 0h20v4h-20zm32 0h28v4h-28zm32 0h40v4h-40zm44 0h16v4h-16zm20 0h16v4h-16zm24 0h8v4h-8zm36 0h20v4h-20zm-520 4h16v4h-16zm44 0h44v4h-44zm84 0h12v4h-12zm28 0h12v4h-12zm40 0h8v4h-8zm28 0h28v4h-28zm40 0h56v4h-56zm68 0h24v4h-24zm32 0h8v4h-8zm28 0h80v4h-80zm92 0h8v4h-8zm36 0h20v4h-20zm-516 4h8v4h-8zm44 0h16v4h-16zm20 0h20v4h-20zm60 0h12v4h-12zm64 0h12v4h-12zm20 0h36v4h-36zm52 0h56v4h-56zm68 0h24v4h-24zm28 0h8v4h-8zm16 0h4v4h-4zm16 0h12v4h-12zm16 0h16v4h-16zm24 0h8v4h-8zm16 0h12v4h-12zm16 0h12v4h-12zm20 0h8v4h-8zm36 0h16v4h-16zm-496 4h4v4h-4zm20 0h16v4h-16zm28 0h20v4h-20zm36 0h8v4h-8zm24 0h8v4h-8zm36 0h4v4h-4zm12 0h4v4h-4zm12 0h12v4h-12zm16 0h40v4h-40zm52 0h44v4h-44zm48 0h12v4h-12zm28 0h20v4h-20zm24 0h4v4h-4zm12 0h28v4h-28zm44 0h8v4h-8zm20 0h4v4h-4zm12 0h8v4h-8zm16 0h12v4h-12zm16 0h8v4h-8zm40 0h20v4h-20zm-472 4h16v4h-16zm24 0h16v4h-16zm32 0h12v4h-12zm16 0h4v4h-4zm48 0h4v4h-4zm28 0h4v4h-4zm12 0h24v4h-24zm28 0h32v4h-32zm40 0h28v4h-28zm44 0h4v4h-4zm12 0h24v4h-24zm28 0h4v4h-4zm8 0h32v4h-32zm48 0h20v4h-20zm24 0h20v4h-20zm24 0h12v4h-12zm28 0h8v4h-8zm20 0h4v4h-4zm-492 4h8v4h-8zm28 0h20v4h-20zm24 0h16v4h-16zm32 0h12v4h-12zm20 0h8v4h-8zm32 0h4v4h-4zm16 0h24v4h-24zm40 0h16v4h-16zm28 0h20v4h-20zm32 0h36v4h-36zm48 0h44v4h-44zm48 0h24v4h-24zm28 0h4v4h-4zm24 0h32v4h-32zm44 0h12v4h-12zm28 0h8v4h-8zm16 0h4v4h-4zm-488 4h12v4h-12zm28 0h20v4h-20zm24 0h24v4h-24zm44 0h4v4h-4zm60 0h24v4h-24zm36 0h16v4h-16zm32 0h4v4h-4zm20 0h24v4h-24zm32 0h12v4h-12zm24 0h24v4h-24zm36 0h8v4h-8zm12 0h80v4h-80zm96 0h16v4h-16zm28 0h8v4h-8zm40 0h4v4h-4zm-452 4h8v4h-8zm72 0h4v4h-4zm12 0h4v4h-4zm12 0h16v4h-16zm40 0h16v4h-16zm48 0h20v4h-20zm32 0h12v4h-12zm24 0h20v4h-20zm36 0h8v4h-8zm12 0h32v4h-32zm36 0h32v4h-32zm40 0h12v4h-12zm24 0h20v4h-20zm24 0h8v4h-8zm36 0h8v4h-8zm-496 4h8v4h-8zm32 0h4v4h-4zm20 0h4v4h-4zm20 0h12v4h-12zm72 0h16v4h-16zm20 0h8v4h-8zm24 0h8v4h-8zm48 0h12v4h-12zm28 0h8v4h-8zm36 0h12v4h-12zm40 0h16v4h-16zm32 0h28v4h-28zm40 0h12v4h-12zm32 0h12v4h-12zm16 0h16v4h-16zm28 0h20v4h-20zm-512 4h4v4h-4zm24 0h20v4h-20zm64 0h32v4h-32zm68 0h12v4h-12zm16 0h8v4h-8zm16 0h8v4h-8zm24 0h8v4h-8zm104 0h4v4h-4zm16 0h8v4h-8zm32 0h4v4h-4zm12 0h12v4h-12zm20 0h4v4h-4zm20 0h8v4h-8zm20 0h12v4h-12zm32 0h24v4h-24zm40 0h28v4h-28zm-484 4h32v4h-32zm64 0h20v4h-20zm68 0h12v4h-12zm20 0h4v4h-4zm12 0h8v4h-8zm96 0h4v4h-4zm8 0h8v4h-8zm20 0h8v4h-8zm44 0h12v4h-12zm20 0h20v4h-20zm40 0h8v4h-8zm36 0h44v4h-44zm60 0h28v4h-28zm-484 4h48v4h-48zm60 0h16v4h-16zm72 0h8v4h-8zm16 0h4v4h-4zm16 0h4v4h-4zm8 0h4v4h-4zm72 0h12v4h-12zm20 0h4v4h-4zm20 0h8v4h-8zm48 0h12v4h-12zm20 0h16v4h-16zm36 0h4v4h-4zm8 0h8v4h-8zm24 0h24v4h-24zm40 0h4v4h-4zm24 0h24v4h-24zm-508 4h16v4h-16zm24 0h16v4h-16zm32 0h16v4h-16zm20 0h4v4h-4zm16 0h4v4h-4zm68 0h4v4h-4zm28 0h4v4h-4zm76 0h16v4h-16zm24 0h4v4h-4zm20 0h8v4h-8zm40 0h20v4h-20zm32 0h20v4h-20zm40 0h8v4h-8zm24 0h20v4h-20zm40 0h8v4h-8zm24 0h24v4h-24zm-504 4h16v4h-16zm24 0h12v4h-12zm40 0h4v4h-4zm8 0h4v4h-4zm152 0h8v4h-8zm20 0h4v4h-4zm16 0h16v4h-16zm84 0h24v4h-24zm32 0h16v4h-16zm40 0h12v4h-12zm28 0h20v4h-20zm36 0h16v4h-16zm24 0h8v4h-8zm12 0h16v4h-16zm-512 4h12v4h-12zm20 0h4v4h-4zm12 0h4v4h-4zm36 0h4v4h-4zm124 0h16v4h-16zm48 0h8v4h-8zm20 0h12v4h-12zm84 0h24v4h-24zm40 0h4v4h-4zm28 0h12v4h-12zm36 0h16v4h-16zm24 0h20v4h-20zm28 0h8v4h-8zm12 0h12v4h-12zm-508 4h4v4h-4zm188 0h16v4h-16zm48 0h4v4h-4zm8 0h4v4h-4zm16 0h12v4h-12zm84 0h16v4h-16zm92 0h24v4h-24zm32 0h40v4h-40zm44 0h8v4h-8zm-472 4h4v4h-4zm152 0h8v4h-8zm72 0h8v4h-8zm84 0h12v4h-12zm40 0h8v4h-8zm20 0h12v4h-12zm28 0h24v4h-24zm40 0h28v4h-28zm36 0h8v4h-8zm-504 4h4v4h-4zm32 0h4v4h-4zm348 0h12v4h-12zm20 0h16v4h-16zm28 0h8v4h-8zm16 0h8v4h-8zm20 0h20v4h-20zm28 0h8v4h-8zm-496 4h8v4h-8zm20 0h4v4h-4zm220 0h12v4h-12zm20 0h4v4h-4zm12 0h4v4h-4zm116 0h8v4h-8zm20 0h4v4h-4zm8 0h4v4h-4zm32 0h8v4h-8zm32 0h32v4h-32zm-480 4h8v4h-8zm20 0h4v4h-4zm220 0h20v4h-20zm184 0h12v4h-12zm24 0h16v4h-16zm24 0h48v4h-48zm-504 4h8v4h-8zm52 0h4v4h-4zm16 0h4v4h-4zm184 0h8v4h-8zm20 0h16v4h-16zm144 0h12v4h-12zm24 0h4v4h-4zm12 0h12v4h-12zm28 0h16v4h-16zm28 0h16v4h-16zm24 0h4v4h-4zm8 0h12v4h-12zm-540 4h12v4h-12zm24 0h4v4h-4zm36 0h8v4h-8zm364 0h12v4h-12zm24 0h16v4h-16zm36 0h12v4h-12zm24 0h16v4h-16zm20 0h4v4h-4zm12 0h12v4h-12zm-540 4h16v4h-16zm20 0h12v4h-12zm40 0h8v4h-8zm204 0h4v4h-4zm164 0h16v4h-16zm20 0h12v4h-12zm32 0h16v4h-16zm24 0h20v4h-20zm-500 4h8v4h-8zm56 0h8v4h-8zm204 0h4v4h-4zm164 0h32v4h-32zm36 0h4v4h-4zm12 0h12v4h-12zm28 0h16v4h-16zm24 0h4v4h-4zm-492 4h4v4h-4zm216 0h12v4h-12zm180 0h56v4h-56zm72 0h16v4h-16zm20 0h12v4h-12zm-476 4h8v4h-8zm184 0h4v4h-4zm20 0h8v4h-8zm180 0h24v4h-24zm28 0h16v4h-16zm36 0h4v4h-4zm8 0h32v4h-32zm36 0h4v4h-4zm-504 4h8v4h-8zm12 0h4v4h-4zm204 0h4v4h-4zm16 0h8v4h-8zm164 0h8v4h-8zm28 0h16v4h-16zm44 0h8v4h-8zm12 0h20v4h-20zm-492 4h20v4h-20zm228 0h4v4h-4zm12 0h12v4h-12zm168 0h8v4h-8zm28 0h20v4h-20zm24 0h8v4h-8zm12 0h4v4h-4zm28 0h12v4h-12zm-524 4h8v4h-8zm24 0h20v4h-20zm36 0h4v4h-4zm20 0h8v4h-8zm164 0h4v4h-4zm20 0h16v4h-16zm168 0h8v4h-8zm28 0h8v4h-8zm16 0h24v4h-24zm36 0h8v4h-8zm12 0h12v4h-12zm-524 4h8v4h-8zm24 0h20v4h-20zm36 0h4v4h-4zm8 0h20v4h-20zm176 0h4v4h-4zm32 0h8v4h-8zm152 0h12v4h-12zm16 0h4v4h-4zm16 0h8v4h-8zm16 0h32v4h-32zm40 0h20v4h-20zm-516 4h12v4h-12zm24 0h16v4h-16zm32 0h28v4h-28zm188 0h4v4h-4zm32 0h4v4h-4zm152 0h8v4h-8zm32 0h8v4h-8zm12 0h36v4h-36zm40 0h24v4h-24zm36 0h4v4h-4zm-548 4h12v4h-12zm28 0h8v4h-8zm20 0h36v4h-36zm192 0h12v4h-12zm180 0h16v4h-16zm40 0h28v4h-28zm36 0h40v4h-40zm52 0h4v4h-4zm-540 4h4v4h-4zm8 0h8v4h-8zm24 0h24v4h-24zm28 0h16v4h-16zm168 0h16v4h-16zm184 0h16v4h-16zm36 0h4v4h-4zm8 0h24v4h-24zm36 0h36v4h-36zm-484 4h8v4h-8zm24 0h20v4h-20zm32 0h12v4h-12zm160 0h20v4h-20zm168 0h4v4h-4zm20 0h8v4h-8zm32 0h4v4h-4zm12 0h28v4h-28zm32 0h4v4h-4zm8 0h28v4h-28zm-460 4h4v4h-4zm188 0h20v4h-20zm60 0h12v4h-12zm172 0h24v4h-24zm28 0h8v4h-8zm16 0h8v4h-8zm16 0h4v4h-4zm-292 4h4v4h-4zm12 0h8v4h-8zm20 0h16v4h-16zm24 0h16v4h-16zm156 0h4v4h-4zm12 0h32v4h-32zm36 0h8v4h-8zm16 0h12v4h-12zm-468 4h4v4h-4zm20 0h8v4h-8zm16 0h8v4h-8zm188 0h16v4h-16zm44 0h4v4h-4zm80 0h4v4h-4zm44 0h4v4h-4zm12 0h36v4h-36zm48 0h8v4h-8zm16 0h16v4h-16zm-428 4h4v4h-4zm184 0h20v4h-20zm44 0h4v4h-4zm112 0h4v4h-4zm8 0h12v4h-12zm20 0h32v4h-32zm44 0h4v4h-4zm12 0h16v4h-16zm28 0h4v4h-4zm-272 4h8v4h-8zm12 0h12v4h-12zm20 0h8v4h-8zm124 0h12v4h-12zm16 0h12v4h-12zm20 0h12v4h-12zm16 0h16v4h-16zm24 0h8v4h-8zm12 0h8v4h-8zm-300 4h8v4h-8zm56 0h12v4h-12zm156 0h28v4h-28zm40 0h4v4h-4zm16 0h12v4h-12zm28 0h12v4h-12zm-436 4h8v4h-8zm132 0h16v4h-16zm32 0h16v4h-16zm32 0h12v4h-12zm48 0h24v4h-24zm28 0h4v4h-4zm76 0h8v4h-8zm20 0h4v4h-4zm12 0h8v4h-8zm20 0h4v4h-4zm8 0h36v4h-36zm64 0h4v4h-4zm-532 4h4v4h-4zm12 0h4v4h-4zm48 0h12v4h-12zm40 0h4v4h-4zm96 0h12v4h-12zm20 0h24v4h-24zm36 0h12v4h-12zm56 0h32v4h-32zm52 0h8v4h-8zm12 0h12v4h-12zm36 0h4v4h-4zm24 0h4v4h-4zm8 0h28v4h-28zm44 0h20v4h-20zm36 0h28v4h-28zm-512 4h8v4h-8zm40 0h28v4h-28zm44 0h4v4h-4zm8 0h8v4h-8zm120 0h20v4h-20zm24 0h24v4h-24zm36 0h4v4h-4zm28 0h8v4h-8zm20 0h12v4h-12zm32 0h8v4h-8zm12 0h16v4h-16zm68 0h8v4h-8zm12 0h20v4h-20zm36 0h16v4h-16zm32 0h24v4h-24zm-520 4h16v4h-16zm48 0h12v4h-12zm20 0h8v4h-8zm20 0h12v4h-12zm16 0h4v4h-4zm92 0h8v4h-8zm32 0h40v4h-40zm100 0h16v4h-16zm52 0h8v4h-8zm44 0h4v4h-4zm12 0h8v4h-8zm16 0h20v4h-20zm28 0h4v4h-4zm8 0h16v4h-16zm40 0h4v4h-4zm-528 4h16v4h-16zm88 0h12v4h-12zm24 0h16v4h-16zm84 0h8v4h-8zm48 0h20v4h-20zm40 0h8v4h-8zm12 0h16v4h-16zm24 0h8v4h-8zm12 0h32v4h-32zm60 0h4v4h-4zm16 0h4v4h-4zm32 0h8v4h-8zm12 0h20v4h-20zm44 0h4v4h-4zm32 0h4v4h-4zm-528 4h16v4h-16zm44 0h4v4h-4zm48 0h4v4h-4zm20 0h16v4h-16zm80 0h12v4h-12zm44 0h28v4h-28zm32 0h4v4h-4zm16 0h4v4h-4zm16 0h12v4h-12zm20 0h12v4h-12zm24 0h20v4h-20zm28 0h12v4h-12zm44 0h12v4h-12zm24 0h28v4h-28zm-440 4h16v4h-16zm40 0h4v4h-4zm68 0h12v4h-12zm24 0h20v4h-20zm24 0h8v4h-8zm16 0h4v4h-4zm32 0h16v4h-16zm24 0h36v4h-36zm44 0h4v4h-4zm32 0h4v4h-4zm16 0h8v4h-8zm12 0h4v4h-4zm12 0h8v4h-8zm20 0h4v4h-4zm8 0h16v4h-16zm32 0h8v4h-8zm12 0h12v4h-12zm24 0h32v4h-32zm48 0h4v4h-4zm-480 4h4v4h-4zm84 0h4v4h-4zm20 0h12v4h-12zm20 0h16v4h-16zm28 0h4v4h-4zm12 0h8v4h-8zm32 0h12v4h-12zm28 0h28v4h-28zm56 0h4v4h-4zm24 0h24v4h-24zm60 0h20v4h-20zm32 0h8v4h-8zm12 0h44v4h-44zm52 0h8v4h-8zm16 0h4v4h-4zm20 0h12v4h-12zm-496 4h24v4h-24zm80 0h8v4h-8zm32 0h4v4h-4zm28 0h4v4h-4zm24 0h8v4h-8zm24 0h4v4h-4zm16 0h4v4h-4zm20 0h40v4h-40zm44 0h16v4h-16zm28 0h36v4h-36zm68 0h20v4h-20zm32 0h8v4h-8zm16 0h28v4h-28zm84 0h12v4h-12zm-496 4h24v4h-24zm36 0h8v4h-8zm16 0h4v4h-4zm44 0h4v4h-4zm48 0h4v4h-4zm16 0h4v4h-4zm20 0h12v4h-12zm16 0h4v4h-4zm24 0h60v4h-60zm76 0h36v4h-36zm72 0h20v4h-20zm24 0h12v4h-12zm24 0h48v4h-48zm56 0h4v4h-4zm28 0h8v4h-8zm-504 4h12v4h-12zm20 0h8v4h-8zm20 0h24v4h-24zm48 0h4v4h-4zm12 0h8v4h-8zm28 0h4v4h-4zm24 0h20v4h-20zm32 0h20v4h-20zm40 0h16v4h-16zm20 0h12v4h-12zm20 0h20v4h-20zm36 0h4v4h-4zm12 0h8v4h-8zm40 0h8v4h-8zm20 0h4v4h-4zm8 0h12v4h-12zm16 0h12v4h-12zm36 0h12v4h-12zm16 0h16v4h-16zm28 0h4v4h-4zm20 0h20v4h-20zm32 0h16v4h-16zm-508 4h12v4h-12zm20 0h8v4h-8zm12 0h4v4h-4zm20 0h8v4h-8zm16 0h4v4h-4zm12 0h16v4h-16zm52 0h8v4h-8zm12 0h8v4h-8zm20 0h16v4h-16zm40 0h12v4h-12zm20 0h4v4h-4zm8 0h4v4h-4zm12 0h4v4h-4zm20 0h8v4h-8zm28 0h12v4h-12zm40 0h8v4h-8zm28 0h8v4h-8zm20 0h4v4h-4zm12 0h4v4h-4zm36 0h16v4h-16zm24 0h16v4h-16zm36 0h8v4h-8zm16 0h20v4h-20zm-508 4h12v4h-12zm28 0h4v4h-4zm8 0h4v4h-4zm12 0h16v4h-16zm64 0h4v4h-4zm16 0h16v4h-16zm80 0h12v4h-12zm20 0h12v4h-12zm16 0h8v4h-8zm52 0h12v4h-12zm40 0h4v4h-4zm56 0h12v4h-12zm16 0h8v4h-8zm32 0h28v4h-28zm40 0h24v4h-24zm32 0h16v4h-16zm-512 4h12v4h-12zm32 0h8v4h-8zm24 0h16v4h-16zm32 0h12v4h-12zm24 0h8v4h-8zm20 0h12v4h-12zm52 0h8v4h-8zm24 0h16v4h-16zm24 0h8v4h-8zm12 0h8v4h-8zm72 0h4v4h-4zm20 0h16v4h-16zm56 0h32v4h-32zm52 0h20v4h-20zm40 0h16v4h-16zm32 0h12v4h-12zm-528 4h8v4h-8zm12 0h12v4h-12zm52 0h28v4h-28zm36 0h12v4h-12zm20 0h12v4h-12zm24 0h16v4h-16zm36 0h8v4h-8zm16 0h12v4h-12zm28 0h16v4h-16zm44 0h20v4h-20zm32 0h8v4h-8zm16 0h12v4h-12zm32 0h36v4h-36zm56 0h32v4h-32zm48 0h20v4h-20zm24 0h4v4h-4zm20 0h20v4h-20zm-496 4h24v4h-24zm60 0h32v4h-32zm36 0h16v4h-16zm24 0h4v4h-4zm24 0h16v4h-16zm56 0h8v4h-8zm28 0h12v4h-12zm24 0h4v4h-4zm8 0h32v4h-32zm36 0h12v4h-12zm20 0h12v4h-12zm36 0h32v4h-32zm56 0h12v4h-12zm20 0h12v4h-12zm20 0h28v4h-28zm44 0h28v4h-28zm-484 4h24v4h-24zm52 0h4v4h-4zm8 0h20v4h-20zm28 0h32v4h-32zm44 0h20v4h-20zm72 0h12v4h-12zm16 0h12v4h-12zm28 0h32v4h-32zm40 0h12v4h-12zm48 0h40v4h-40zm80 0h48v4h-48zm68 0h28v4h-28zm36 0h4v4h-4zm-528 4h28v4h-28zm96 0h36v4h-36zm40 0h24v4h-24zm68 0h24v4h-24zm52 0h28v4h-28zm68 0h8v4h-8zm24 0h12v4h-12zm16 0h16v4h-16zm40 0h4v4h-4zm20 0h20v4h-20zm24 0h24v4h-24zm40 0h8v4h-8zm12 0h20v4h-20zm28 0h4v4h-4zm-524 4h12v4h-12zm16 0h4v4h-4zm64 0h28v4h-28zm32 0h12v4h-12zm28 0h16v4h-16zm56 0h12v4h-12zm20 0h8v4h-8zm40 0h20v4h-20zm64 0h8v4h-8zm40 0h20v4h-20zm56 0h24v4h-24zm32 0h20v4h-20zm28 0h4v4h-4zm8 0h8v4h-8zm16 0h16v4h-16zm-456 4h4v4h-4zm112 0h8v4h-8zm60 0h8v4h-8zm104 0h8v4h-8zm100 0h4v4h-4zm32 0h16v4h-16zm40 0h4v4h-4zm12 0h12v4h-12z"/><path fill="#f06540" d="M78 76h8v4h-8zm76 0h8v4h-8zm16 0h8v4h-8zm12 0h12v4h-12zm44 0h16v4h-16zm24 0h8v4h-8zm56 0h4v4h-4zm12 0h12v4h-12zm76 0h8v4h-8zm72 0h12v4h-12zm32 0h4v4h-4zm16 0h4v4h-4zm16 0h4v4h-4zm12 0h20v4h-20zm-468 4h12v4h-12zm52 0h8v4h-8zm12 0h4v4h-4zm16 0h8v4h-8zm16 0h12v4h-12zm16 0h8v4h-8zm20 0h8v4h-8zm20 0h4v4h-4zm12 0h4v4h-4zm16 0h8v4h-8zm28 0h4v4h-4zm36 0h12v4h-12zm56 0h12v4h-12zm20 0h8v4h-8zm28 0h8v4h-8zm56 0h4v4h-4zm20 0h24v4h-24zm48 0h8v4h-8zm12 0h8v4h-8zm-480 4h4v4h-4zm48 0h20v4h-20zm44 0h4v4h-4zm88 0h4v4h-4zm12 0h20v4h-20zm28 0h4v4h-4zm20 0h12v4h-12zm48 0h20v4h-20zm108 0h48v4h-48zm56 0h8v4h-8zm28 0h4v4h-4zm-480 4h4v4h-4zm48 0h4v4h-4zm8 0h16v4h-16zm136 0h20v4h-20zm28 0h8v4h-8zm20 0h12v4h-12zm28 0h4v4h-4zm12 0h4v4h-4zm116 0h8v4h-8zm12 0h24v4h-24zm44 0h16v4h-16zm-468 4h4v4h-4zm20 0h4v4h-4zm32 0h12v4h-12zm20 0h20v4h-20zm88 0h4v4h-4zm20 0h8v4h-8zm24 0h4v4h-4zm8 0h20v4h-20zm28 0h4v4h-4zm36 0h20v4h-20zm32 0h8v4h-8zm68 0h12v4h-12zm28 0h16v4h-16zm24 0h24v4h-24zm40 0h24v4h-24zm-496 4h8v4h-8zm32 0h4v4h-4zm28 0h4v4h-4zm16 0h16v4h-16zm28 0h20v4h-20zm28 0h4v4h-4zm40 0h20v4h-20zm36 0h8v4h-8zm36 0h16v4h-16zm32 0h4v4h-4zm28 0h20v4h-20zm24 0h16v4h-16zm76 0h12v4h-12zm16 0h4v4h-4zm12 0h12v4h-12zm32 0h16v4h-16zm32 0h28v4h-28zm36 0h4v4h-4zm-532 4h16v4h-16zm60 0h8v4h-8zm24 0h4v4h-4zm12 0h12v4h-12zm20 0h8v4h-8zm12 0h8v4h-8zm24 0h4v4h-4zm24 0h16v4h-16zm40 0h8v4h-8zm16 0h8v4h-8zm12 0h12v4h-12zm52 0h8v4h-8zm12 0h16v4h-16zm20 0h20v4h-20zm72 0h8v4h-8zm40 0h4v4h-4zm8 0h12v4h-12zm16 0h12v4h-12zm32 0h28v4h-28zm-500 4h24v4h-24zm36 0h4v4h-4zm20 0h4v4h-4zm8 0h8v4h-8zm32 0h16v4h-16zm36 0h8v4h-8zm24 0h8v4h-8zm44 0h28v4h-28zm36 0h4v4h-4zm12 0h8v4h-8zm20 0h8v4h-8zm28 0h8v4h-8zm20 0h4v4h-4zm12 0h28v4h-28zm44 0h4v4h-4zm32 0h8v4h-8zm24 0h8v4h-8zm24 0h16v4h-16zm48 0h8v4h-8zm32 0h4v4h-4zm8 0h8v4h-8zm-528 4h4v4h-4zm24 0h4v4h-4zm20 0h16v4h-16zm40 0h16v4h-16zm60 0h8v4h-8zm24 0h4v4h-4zm24 0h20v4h-20zm32 0h4v4h-4zm16 0h4v4h-4zm16 0h16v4h-16zm28 0h8v4h-8zm32 0h20v4h-20zm40 0h4v4h-4zm32 0h12v4h-12zm24 0h20v4h-20zm24 0h12v4h-12zm44 0h4v4h-4zm12 0h4v4h-4zm28 0h12v4h-12zm-480 4h16v4h-16zm40 0h20v4h-20zm52 0h4v4h-4zm64 0h16v4h-16zm28 0h8v4h-8zm12 0h8v4h-8zm20 0h16v4h-16zm28 0h12v4h-12zm36 0h12v4h-12zm28 0h24v4h-24zm40 0h12v4h-12zm24 0h12v4h-12zm24 0h8v4h-8zm44 0h24v4h-24zm36 0h4v4h-4zm-472 4h8v4h-8zm32 0h12v4h-12zm68 0h8v4h-8zm60 0h8v4h-8zm16 0h28v4h-28zm40 0h12v4h-12zm24 0h12v4h-12zm48 0h4v4h-4zm16 0h28v4h-28zm36 0h16v4h-16zm32 0h8v4h-8zm36 0h4v4h-4zm32 0h24v4h-24zm-476 4h4v4h-4zm68 0h12v4h-12zm128 0h36v4h-36zm84 0h8v4h-8zm40 0h4v4h-4zm20 0h28v4h-28zm36 0h8v4h-8zm44 0h8v4h-8zm20 0h8v4h-8zm20 0h4v4h-4zm24 0h20v4h-20zm28 0h8v4h-8zm-520 4h12v4h-12zm124 0h4v4h-4zm64 0h4v4h-4zm16 0h16v4h-16zm28 0h4v4h-4zm36 0h16v4h-16zm20 0h8v4h-8zm60 0h12v4h-12zm52 0h4v4h-4zm24 0h12v4h-12zm20 0h4v4h-4zm52 0h16v4h-16zm24 0h8v4h-8zm-520 4h12v4h-12zm52 0h12v4h-12zm64 0h20v4h-20zm40 0h4v4h-4zm36 0h8v4h-8zm40 0h4v4h-4zm40 0h24v4h-24zm32 0h4v4h-4zm8 0h8v4h-8zm36 0h8v4h-8zm12 0h4v4h-4zm40 0h16v4h-16zm24 0h12v4h-12zm32 0h8v4h-8zm20 0h12v4h-12zm24 0h4v4h-4zm24 0h4v4h-4zm-520 4h8v4h-8zm20 0h8v4h-8zm28 0h12v4h-12zm56 0h4v4h-4zm8 0h20v4h-20zm40 0h4v4h-4zm32 0h8v4h-8zm60 0h4v4h-4zm28 0h8v4h-8zm12 0h8v4h-8zm12 0h24v4h-24zm32 0h12v4h-12zm16 0h8v4h-8zm28 0h4v4h-4zm16 0h24v4h-24zm36 0h4v4h-4zm12 0h8v4h-8zm12 0h8v4h-8zm16 0h4v4h-4zm8 0h8v4h-8zm48 0h8v4h-8zm-500 4h8v4h-8zm60 0h8v4h-8zm12 0h36v4h-36zm60 0h12v4h-12zm60 0h12v4h-12zm36 0h4v4h-4zm36 0h36v4h-36zm44 0h36v4h-36zm56 0h32v4h-32zm40 0h8v4h-8zm12 0h8v4h-8zm12 0h4v4h-4zm24 0h8v4h-8zm16 0h4v4h-4zm16 0h12v4h-12zm16 0h4v4h-4zm-436 4h28v4h-28zm32 0h12v4h-12zm36 0h12v4h-12zm44 0h4v4h-4zm12 0h16v4h-16zm28 0h4v4h-4zm28 0h8v4h-8zm24 0h28v4h-28zm32 0h12v4h-12zm24 0h20v4h-20zm36 0h60v4h-60zm68 0h8v4h-8zm24 0h8v4h-8zm16 0h8v4h-8zm12 0h16v4h-16zm-492 4h4v4h-4zm20 0h4v4h-4zm60 0h4v4h-4zm8 0h12v4h-12zm20 0h20v4h-20zm36 0h12v4h-12zm28 0h4v4h-4zm28 0h4v4h-4zm20 0h4v4h-4zm32 0h12v4h-12zm28 0h28v4h-28zm40 0h4v4h-4zm20 0h16v4h-16zm32 0h16v4h-16zm24 0h32v4h-32zm44 0h12v4h-12zm20 0h28v4h-28zm36 0h12v4h-12zm-484 4h16v4h-16zm92 0h12v4h-12zm16 0h8v4h-8zm28 0h8v4h-8zm24 0h8v4h-8zm48 0h4v4h-4zm40 0h8v4h-8zm20 0h12v4h-12zm24 0h4v4h-4zm16 0h4v4h-4zm24 0h8v4h-8zm24 0h16v4h-16zm36 0h24v4h-24zm36 0h12v4h-12zm20 0h32v4h-32zm40 0h4v4h-4zm-488 4h4v4h-4zm48 0h8v4h-8zm16 0h4v4h-4zm44 0h8v4h-8zm28 0h12v4h-12zm24 0h4v4h-4zm8 0h4v4h-4zm80 0h8v4h-8zm84 0h8v4h-8zm28 0h12v4h-12zm48 0h12v4h-12zm24 0h4v4h-4zm8 0h36v4h-36zm-472 4h4v4h-4zm72 0h20v4h-20zm24 0h4v4h-4zm44 0h4v4h-4zm28 0h12v4h-12zm36 0h4v4h-4zm24 0h8v4h-8zm16 0h32v4h-32zm44 0h16v4h-16zm40 0h8v4h-8zm36 0h4v4h-4zm12 0h4v4h-4zm8 0h4v4h-4zm8 0h4v4h-4zm20 0h16v4h-16zm32 0h4v4h-4zm24 0h16v4h-16zm28 0h8v4h-8zm40 0h8v4h-8zm-468 4h20v4h-20zm72 0h4v4h-4zm28 0h8v4h-8zm36 0h8v4h-8zm24 0h8v4h-8zm16 0h16v4h-16zm20 0h12v4h-12zm24 0h16v4h-16zm20 0h4v4h-4zm20 0h8v4h-8zm20 0h4v4h-4zm16 0h4v4h-4zm8 0h8v4h-8zm16 0h12v4h-12zm24 0h16v4h-16zm48 0h16v4h-16zm28 0h4v4h-4zm8 0h4v4h-4zm12 0h8v4h-8zm12 0h4v4h-4zm16 0h8v4h-8zm-468 4h12v4h-12zm160 0h8v4h-8zm12 0h20v4h-20zm36 0h8v4h-8zm20 0h16v4h-16zm36 0h4v4h-4zm8 0h4v4h-4zm32 0h20v4h-20zm32 0h4v4h-4zm8 0h12v4h-12zm40 0h4v4h-4zm8 0h12v4h-12zm48 0h12v4h-12zm16 0h12v4h-12zm-520 4h12v4h-12zm36 0h4v4h-4zm8 0h24v4h-24zm80 0h8v4h-8zm32 0h8v4h-8zm60 0h36v4h-36zm52 0h12v4h-12zm24 0h12v4h-12zm36 0h4v4h-4zm8 0h12v4h-12zm32 0h8v4h-8zm12 0h8v4h-8zm16 0h24v4h-24zm28 0h4v4h-4zm36 0h8v4h-8zm60 0h12v4h-12zm-520 4h8v4h-8zm40 0h40v4h-40zm84 0h12v4h-12zm32 0h4v4h-4zm40 0h4v4h-4zm28 0h20v4h-20zm40 0h16v4h-16zm24 0h16v4h-16zm40 0h20v4h-20zm32 0h4v4h-4zm32 0h32v4h-32zm44 0h4v4h-4zm8 0h8v4h-8zm12 0h12v4h-12zm24 0h4v4h-4zm36 0h16v4h-16zm-472 4h12v4h-12zm24 0h16v4h-16zm60 0h8v4h-8zm64 0h8v4h-8zm28 0h24v4h-24zm44 0h48v4h-48zm68 0h16v4h-16zm56 0h8v4h-8zm20 0h12v4h-12zm20 0h8v4h-8zm16 0h8v4h-8zm16 0h8v4h-8zm20 0h4v4h-4zm36 0h16v4h-16zm-472 4h8v4h-8zm24 0h16v4h-16zm108 0h4v4h-4zm16 0h4v4h-4zm12 0h20v4h-20zm24 0h12v4h-12zm28 0h8v4h-8zm12 0h32v4h-32zm40 0h4v4h-4zm24 0h16v4h-16zm24 0h4v4h-4zm12 0h24v4h-24zm44 0h8v4h-8zm32 0h8v4h-8zm20 0h4v4h-4zm16 0h4v4h-4zm40 0h4v4h-4zm-476 4h16v4h-16zm28 0h8v4h-8zm32 0h8v4h-8zm104 0h16v4h-16zm28 0h8v4h-8zm12 0h12v4h-12zm24 0h8v4h-8zm12 0h12v4h-12zm48 0h16v4h-16zm36 0h20v4h-20zm44 0h4v4h-4zm12 0h4v4h-4zm12 0h16v4h-16zm24 0h8v4h-8zm32 0h4v4h-4zm16 0h4v4h-4zm-492 4h4v4h-4zm28 0h20v4h-20zm24 0h12v4h-12zm36 0h4v4h-4zm16 0h4v4h-4zm32 0h4v4h-4zm16 0h8v4h-8zm12 0h8v4h-8zm32 0h12v4h-12zm24 0h8v4h-8zm12 0h8v4h-8zm20 0h16v4h-16zm20 0h8v4h-8zm28 0h20v4h-20zm28 0h4v4h-4zm8 0h8v4h-8zm12 0h24v4h-24zm56 0h28v4h-28zm40 0h12v4h-12zm28 0h8v4h-8zm16 0h4v4h-4zm-484 4h4v4h-4zm24 0h20v4h-20zm24 0h8v4h-8zm16 0h4v4h-4zm88 0h20v4h-20zm36 0h12v4h-12zm56 0h20v4h-20zm32 0h8v4h-8zm20 0h20v4h-20zm36 0h8v4h-8zm16 0h20v4h-20zm24 0h8v4h-8zm16 0h32v4h-32zm52 0h12v4h-12zm-312 4h4v4h-4zm24 0h12v4h-12zm40 0h8v4h-8zm52 0h12v4h-12zm28 0h8v4h-8zm28 0h16v4h-16zm32 0h8v4h-8zm16 0h4v4h-4zm12 0h4v4h-4zm12 0h4v4h-4zm8 0h32v4h-32zm40 0h12v4h-12zm24 0h8v4h-8zm12 0h4v4h-4zm16 0h4v4h-4zm-464 4h8v4h-8zm72 0h4v4h-4zm76 0h12v4h-12zm40 0h8v4h-8zm56 0h4v4h-4zm96 0h4v4h-4zm32 0h4v4h-4zm20 0h4v4h-4zm20 0h12v4h-12zm32 0h12v4h-12zm16 0h8v4h-8zm12 0h4v4h-4zm16 0h20v4h-20zm-488 4h8v4h-8zm12 0h4v4h-4zm60 0h20v4h-20zm64 0h4v4h-4zm28 0h8v4h-8zm24 0h8v4h-8zm120 0h4v4h-4zm32 0h4v4h-4zm16 0h8v4h-8zm36 0h4v4h-4zm20 0h12v4h-12zm36 0h8v4h-8zm12 0h8v4h-8zm28 0h20v4h-20zm-488 4h20v4h-20zm64 0h4v4h-4zm8 0h8v4h-8zm64 0h8v4h-8zm32 0h4v4h-4zm100 0h4v4h-4zm68 0h8v4h-8zm20 0h12v4h-12zm36 0h4v4h-4zm40 0h8v4h-8zm16 0h8v4h-8zm12 0h12v4h-12zm28 0h24v4h-24zm-484 4h16v4h-16zm24 0h4v4h-4zm8 0h8v4h-8zm36 0h4v4h-4zm96 0h4v4h-4zm84 0h8v4h-8zm16 0h4v4h-4zm68 0h8v4h-8zm68 0h4v4h-4zm24 0h16v4h-16zm36 0h4v4h-4zm24 0h24v4h-24zm-504 4h12v4h-12zm24 0h12v4h-12zm28 0h12v4h-12zm132 0h4v4h-4zm80 0h12v4h-12zm20 0h4v4h-4zm64 0h16v4h-16zm32 0h16v4h-16zm36 0h8v4h-8zm24 0h20v4h-20zm40 0h4v4h-4zm24 0h24v4h-24zm-504 4h16v4h-16zm72 0h4v4h-4zm172 0h4v4h-4zm20 0h12v4h-12zm80 0h20v4h-20zm36 0h12v4h-12zm36 0h4v4h-4zm32 0h12v4h-12zm32 0h8v4h-8zm36 0h12v4h-12zm-512 4h12v4h-12zm192 0h12v4h-12zm48 0h4v4h-4zm24 0h8v4h-8zm80 0h24v4h-24zm72 0h4v4h-4zm32 0h12v4h-12zm28 0h12v4h-12zm24 0h8v4h-8zm16 0h8v4h-8zm-512 4h4v4h-4zm192 0h12v4h-12zm44 0h4v4h-4zm28 0h4v4h-4zm80 0h4v4h-4zm12 0h4v4h-4zm84 0h20v4h-20zm32 0h16v4h-16zm24 0h8v4h-8zm16 0h8v4h-8zm-472 4h4v4h-4zm152 0h4v4h-4zm200 0h4v4h-4zm20 0h4v4h-4zm24 0h20v4h-20zm44 0h8v4h-8zm16 0h8v4h-8zm-104 4h8v4h-8zm16 0h12v4h-12zm44 0h4v4h-4zm24 0h4v4h-4zm8 0h4v4h-4zm-476 4h4v4h-4zm16 0h4v4h-4zm224 0h8v4h-8zm144 0h4v4h-4zm60 0h8v4h-8zm36 0h28v4h-28zm-464 4h4v4h-4zm220 0h16v4h-16zm188 0h8v4h-8zm20 0h12v4h-12zm32 0h20v4h-20zm28 0h12v4h-12zm-488 4h4v4h-4zm204 0h4v4h-4zm20 0h8v4h-8zm180 0h8v4h-8zm28 0h12v4h-12zm24 0h12v4h-12zm40 0h4v4h-4zm-548 4h8v4h-8zm64 0h4v4h-4zm388 0h12v4h-12zm32 0h12v4h-12zm24 0h12v4h-12zm40 0h4v4h-4zm-548 4h16v4h-16zm20 0h8v4h-8zm40 0h8v4h-8zm368 0h12v4h-12zm60 0h4v4h-4zm20 0h16v4h-16zm-76 4h28v4h-28zm44 0h12v4h-12zm28 0h16v4h-16zm24 0h4v4h-4zm-272 4h4v4h-4zm176 0h24v4h-24zm32 0h8v4h-8zm16 0h8v4h-8zm24 0h16v4h-16zm24 0h4v4h-4zm-476 4h4v4h-4zm380 0h12v4h-12zm28 0h16v4h-16zm44 0h28v4h-28zm-236 4h4v4h-4zm164 0h8v4h-8zm28 0h16v4h-16zm44 0h8v4h-8zm16 0h16v4h-16zm-492 4h16v4h-16zm236 0h12v4h-12zm168 0h8v4h-8zm32 0h4v4h-4zm24 0h4v4h-4zm36 0h12v4h-12zm-524 4h8v4h-8zm24 0h20v4h-20zm36 0h4v4h-4zm24 0h4v4h-4zm160 0h4v4h-4zm20 0h8v4h-8zm172 0h4v4h-4zm28 0h4v4h-4zm20 0h8v4h-8zm32 0h4v4h-4zm8 0h12v4h-12zm-520 4h4v4h-4zm24 0h4v4h-4zm8 0h8v4h-8zm32 0h8v4h-8zm12 0h4v4h-4zm164 0h4v4h-4zm184 0h4v4h-4zm32 0h8v4h-8zm16 0h20v4h-20zm40 0h20v4h-20zm-516 4h12v4h-12zm28 0h8v4h-8zm36 0h20v4h-20zm396 0h4v4h-4zm16 0h28v4h-28zm40 0h20v4h-20zm-512 4h8v4h-8zm24 0h8v4h-8zm24 0h8v4h-8zm12 0h12v4h-12zm16 0h4v4h-4zm168 0h4v4h-4zm176 0h12v4h-12zm48 0h12v4h-12zm44 0h16v4h-16zm-472 4h16v4h-16zm24 0h4v4h-4zm8 0h8v4h-8zm164 0h8v4h-8zm184 0h8v4h-8zm44 0h16v4h-16zm36 0h8v4h-8zm12 0h20v4h-20zm-476 4h16v4h-16zm36 0h8v4h-8zm156 0h20v4h-20zm188 0h4v4h-4zm48 0h20v4h-20zm36 0h12v4h-12zm16 0h8v4h-8zm-288 4h4v4h-4zm8 0h12v4h-12zm52 0h12v4h-12zm172 0h24v4h-24zm32 0h4v4h-4zm-228 4h8v4h-8zm28 0h4v4h-4zm160 0h28v4h-28zm36 0h8v4h-8zm20 0h8v4h-8zm-432 4h4v4h-4zm188 0h8v4h-8zm180 0h28v4h-28zm44 0h4v4h-4zm16 0h12v4h-12zm-236 4h8v4h-8zm160 0h4v4h-4zm16 0h32v4h-32zm44 0h4v4h-4zm20 0h4v4h-4zm-236 4h8v4h-8zm144 0h4v4h-4zm12 0h12v4h-12zm24 0h8v4h-8zm12 0h12v4h-12zm-204 4h4v4h-4zm156 0h4v4h-4zm12 0h8v4h-8zm40 0h8v4h-8zm32 0h4v4h-4zm-436 4h4v4h-4zm132 0h8v4h-8zm28 0h8v4h-8zm32 0h8v4h-8zm48 0h20v4h-20zm104 0h4v4h-4zm20 0h4v4h-4zm32 0h4v4h-4zm12 0h4v4h-4zm28 0h4v4h-4zm32 0h4v4h-4zm-308 4h12v4h-12zm32 0h8v4h-8zm52 0h16v4h-16zm24 0h4v4h-4zm44 0h4v4h-4zm64 0h8v4h-8zm12 0h12v4h-12zm36 0h8v4h-8zm12 0h4v4h-4zm20 0h24v4h-24zm-508 4h4v4h-4zm36 0h12v4h-12zm20 0h4v4h-4zm36 0h4v4h-4zm120 0h16v4h-16zm28 0h16v4h-16zm56 0h4v4h-4zm20 0h12v4h-12zm44 0h12v4h-12zm68 0h8v4h-8zm16 0h12v4h-12zm32 0h8v4h-8zm36 0h20v4h-20zm-524 4h4v4h-4zm12 0h4v4h-4zm36 0h12v4h-12zm44 0h4v4h-4zm12 0h4v4h-4zm128 0h4v4h-4zm12 0h20v4h-20zm84 0h16v4h-16zm56 0h4v4h-4zm40 0h4v4h-4zm16 0h4v4h-4zm12 0h20v4h-20zm28 0h4v4h-4zm12 0h8v4h-8zm-492 4h8v4h-8zm88 0h8v4h-8zm32 0h8v4h-8zm76 0h8v4h-8zm48 0h8v4h-8zm12 0h4v4h-4zm28 0h4v4h-4zm16 0h8v4h-8zm20 0h8v4h-8zm16 0h4v4h-4zm12 0h4v4h-4zm12 0h4v4h-4zm32 0h4v4h-4zm48 0h8v4h-8zm16 0h12v4h-12zm-452 4h8v4h-8zm40 0h4v4h-4zm68 0h4v4h-4zm84 0h8v4h-8zm44 0h20v4h-20zm64 0h4v4h-4zm16 0h8v4h-8zm24 0h12v4h-12zm32 0h8v4h-8zm64 0h8v4h-8zm12 0h8v4h-8zm-448 4h12v4h-12zm108 0h4v4h-4zm20 0h16v4h-16zm28 0h4v4h-4zm12 0h4v4h-4zm40 0h4v4h-4zm24 0h24v4h-24zm84 0h4v4h-4zm56 0h12v4h-12zm32 0h4v4h-4zm8 0h12v4h-12zm24 0h8v4h-8zm12 0h8v4h-8zm36 0h4v4h-4zm-480 4h4v4h-4zm104 0h8v4h-8zm32 0h4v4h-4zm16 0h4v4h-4zm12 0h8v4h-8zm36 0h8v4h-8zm28 0h8v4h-8zm80 0h12v4h-12zm60 0h12v4h-12zm28 0h8v4h-8zm16 0h20v4h-20zm24 0h16v4h-16zm40 0h4v4h-4zm24 0h4v4h-4zm-500 4h20v4h-20zm80 0h8v4h-8zm144 0h20v4h-20zm32 0h4v4h-4zm12 0h12v4h-12zm36 0h28v4h-28zm60 0h20v4h-20zm56 0h12v4h-12zm16 0h4v4h-4zm64 0h8v4h-8zm-500 4h8v4h-8zm12 0h4v4h-4zm28 0h4v4h-4zm12 0h4v4h-4zm136 0h4v4h-4zm32 0h32v4h-32zm40 0h4v4h-4zm8 0h12v4h-12zm28 0h8v4h-8zm12 0h20v4h-20zm60 0h16v4h-16zm28 0h8v4h-8zm20 0h24v4h-24zm28 0h4v4h-4zm12 0h4v4h-4zm44 0h4v4h-4zm-500 4h8v4h-8zm20 0h4v4h-4zm20 0h4v4h-4zm8 0h12v4h-12zm36 0h4v4h-4zm12 0h8v4h-8zm64 0h4v4h-4zm20 0h16v4h-16zm40 0h16v4h-16zm24 0h8v4h-8zm16 0h8v4h-8zm88 0h4v4h-4zm28 0h8v4h-8zm20 0h4v4h-4zm48 0h16v4h-16zm28 0h4v4h-4zm28 0h4v4h-4zm24 0h12v4h-12zm-508 4h8v4h-8zm52 0h8v4h-8zm36 0h8v4h-8zm44 0h8v4h-8zm32 0h12v4h-12zm100 0h4v4h-4zm36 0h4v4h-4zm60 0h4v4h-4zm72 0h8v4h-8zm20 0h12v4h-12zm36 0h8v4h-8zm16 0h20v4h-20zm-504 4h8v4h-8zm52 0h8v4h-8zm72 0h16v4h-16zm80 0h12v4h-12zm24 0h8v4h-8zm12 0h8v4h-8zm148 0h12v4h-12zm48 0h4v4h-4zm16 0h8v4h-8zm28 0h4v4h-4zm8 0h8v4h-8zm24 0h12v4h-12zm-512 4h8v4h-8zm88 0h4v4h-4zm20 0h8v4h-8zm20 0h12v4h-12zm76 0h12v4h-12zm36 0h4v4h-4zm148 0h12v4h-12zm16 0h16v4h-16zm48 0h4v4h-4zm40 0h4v4h-4zm24 0h8v4h-8zm-532 4h8v4h-8zm12 0h12v4h-12zm56 0h16v4h-16zm36 0h8v4h-8zm20 0h4v4h-4zm20 0h16v4h-16zm56 0h8v4h-8zm24 0h12v4h-12zm52 0h4v4h-4zm44 0h4v4h-4zm32 0h8v4h-8zm16 0h12v4h-12zm36 0h32v4h-32zm52 0h12v4h-12zm40 0h16v4h-16zm-484 4h12v4h-12zm52 0h24v4h-24zm36 0h4v4h-4zm44 0h16v4h-16zm84 0h4v4h-4zm32 0h8v4h-8zm16 0h8v4h-8zm24 0h8v4h-8zm20 0h8v4h-8zm32 0h8v4h-8zm16 0h16v4h-16zm40 0h8v4h-8zm24 0h4v4h-4zm16 0h20v4h-20zm48 0h20v4h-20zm-480 4h16v4h-16zm56 0h8v4h-8zm24 0h20v4h-20zm24 0h4v4h-4zm20 0h16v4h-16zm76 0h4v4h-4zm44 0h8v4h-8zm12 0h8v4h-8zm12 0h4v4h-4zm16 0h4v4h-4zm48 0h12v4h-12zm20 0h16v4h-16zm56 0h16v4h-16zm20 0h24v4h-24zm52 0h24v4h-24zm-492 4h20v4h-20zm92 0h36v4h-36zm48 0h16v4h-16zm64 0h16v4h-16zm48 0h24v4h-24zm72 0h4v4h-4zm24 0h8v4h-8zm12 0h16v4h-16zm40 0h4v4h-4zm20 0h20v4h-20zm28 0h20v4h-20zm36 0h8v4h-8zm16 0h16v4h-16zm-496 4h4v4h-4zm88 0h8v4h-8zm24 0h8v4h-8zm28 0h8v4h-8zm52 0h4v4h-4zm20 0h8v4h-8zm44 0h4v4h-4zm8 0h4v4h-4zm52 0h8v4h-8zm44 0h8v4h-8zm56 0h4v4h-4zm8 0h8v4h-8zm24 0h16v4h-16zm32 0h8v4h-8zm16 0h16v4h-16zm-80 4h4v4h-4z"/><path fill="#f88e52" d="M78 76h4v4h-4zm76 0h8v4h-8zm16 0h8v4h-8zm16 0h8v4h-8zm40 0h4v4h-4zm24 0h4v4h-4zm56 0h4v4h-4zm12 0h12v4h-12zm76 0h4v4h-4zm76 0h8v4h-8zm72 0h12v4h-12zm-464 4h8v4h-8zm48 0h4v4h-4zm12 0h4v4h-4zm32 0h8v4h-8zm40 0h4v4h-4zm16 0h4v4h-4zm32 0h4v4h-4zm60 0h12v4h-12zm56 0h4v4h-4zm128 0h8v4h-8zm16 0h4v4h-4zm40 0h4v4h-4zm-480 4h4v4h-4zm48 0h8v4h-8zm12 0h8v4h-8zm144 0h8v4h-8zm16 0h4v4h-4zm20 0h12v4h-12zm52 0h12v4h-12zm104 0h8v4h-8zm16 0h20v4h-20zm24 0h8v4h-8zm16 0h4v4h-4zm28 0h4v4h-4zm-420 4h12v4h-12zm144 0h8v4h-8zm36 0h8v4h-8zm156 0h8v4h-8zm16 0h20v4h-20zm40 0h8v4h-8zm12 0h4v4h-4zm-480 4h4v4h-4zm20 0h4v4h-4zm36 0h4v4h-4zm20 0h16v4h-16zm140 0h16v4h-16zm24 0h4v4h-4zm40 0h12v4h-12zm96 0h12v4h-12zm36 0h4v4h-4zm16 0h4v4h-4zm8 0h12v4h-12zm32 0h24v4h-24zm-492 4h4v4h-4zm28 0h4v4h-4zm48 0h12v4h-12zm24 0h4v4h-4zm12 0h8v4h-8zm56 0h20v4h-20zm36 0h8v4h-8zm36 0h12v4h-12zm60 0h20v4h-20zm24 0h16v4h-16zm80 0h4v4h-4zm12 0h4v4h-4zm12 0h12v4h-12zm32 0h16v4h-16zm32 0h8v4h-8zm12 0h12v4h-12zm-508 4h8v4h-8zm60 0h8v4h-8zm24 0h4v4h-4zm32 0h8v4h-8zm12 0h8v4h-8zm24 0h4v4h-4zm28 0h12v4h-12zm36 0h4v4h-4zm16 0h4v4h-4zm12 0h12v4h-12zm64 0h12v4h-12zm24 0h12v4h-12zm68 0h4v4h-4zm52 0h4v4h-4zm12 0h12v4h-12zm32 0h12v4h-12zm20 0h8v4h-8zm-516 4h4v4h-4zm8 0h12v4h-12zm24 0h4v4h-4zm20 0h4v4h-4zm8 0h4v4h-4zm36 0h12v4h-12zm56 0h8v4h-8zm52 0h16v4h-16zm44 0h4v4h-4zm16 0h8v4h-8zm32 0h4v4h-4zm28 0h28v4h-28zm76 0h8v4h-8zm48 0h8v4h-8zm12 0h4v4h-4zm36 0h8v4h-8zm44 0h4v4h-4zm-508 4h4v4h-4zm28 0h4v4h-4zm32 0h16v4h-16zm60 0h4v4h-4zm48 0h20v4h-20zm48 0h4v4h-4zm16 0h8v4h-8zm28 0h4v4h-4zm36 0h12v4h-12zm72 0h8v4h-8zm24 0h12v4h-12zm64 0h4v4h-4zm40 0h12v4h-12zm-480 4h12v4h-12zm44 0h12v4h-12zm112 0h12v4h-12zm72 0h4v4h-4zm16 0h8v4h-8zm36 0h12v4h-12zm32 0h16v4h-16zm36 0h12v4h-12zm24 0h12v4h-12zm24 0h8v4h-8zm44 0h20v4h-20zm36 0h4v4h-4zm-472 4h4v4h-4zm36 0h4v4h-4zm124 0h8v4h-8zm20 0h16v4h-16zm64 0h8v4h-8zm44 0h4v4h-4zm16 0h24v4h-24zm36 0h8v4h-8zm32 0h4v4h-4zm36 0h4v4h-4zm40 0h16v4h-16zm-288 4h16v4h-16zm20 0h4v4h-4zm8 0h8v4h-8zm56 0h8v4h-8zm60 0h16v4h-16zm36 0h8v4h-8zm48 0h4v4h-4zm36 0h4v4h-4zm24 0h20v4h-20zm-492 4h8v4h-8zm204 0h12v4h-12zm28 0h4v4h-4zm40 0h12v4h-12zm20 0h4v4h-4zm56 0h8v4h-8zm80 0h8v4h-8zm72 0h12v4h-12zm24 0h4v4h-4zm-520 4h8v4h-8zm48 0h8v4h-8zm64 0h16v4h-16zm76 0h4v4h-4zm84 0h8v4h-8zm12 0h8v4h-8zm60 0h8v4h-8zm12 0h4v4h-4zm44 0h4v4h-4zm20 0h8v4h-8zm32 0h8v4h-8zm24 0h4v4h-4zm20 0h4v4h-4zm24 0h4v4h-4zm-500 4h8v4h-8zm28 0h12v4h-12zm64 0h16v4h-16zm40 0h4v4h-4zm32 0h8v4h-8zm60 0h4v4h-4zm44 0h4v4h-4zm8 0h24v4h-24zm36 0h4v4h-4zm12 0h4v4h-4zm44 0h4v4h-4zm16 0h8v4h-8zm20 0h4v4h-4zm16 0h4v4h-4zm36 0h4v4h-4zm44 0h4v4h-4zm-500 4h8v4h-8zm64 0h4v4h-4zm8 0h32v4h-32zm60 0h8v4h-8zm60 0h8v4h-8zm76 0h32v4h-32zm44 0h4v4h-4zm12 0h20v4h-20zm44 0h12v4h-12zm16 0h4v4h-4zm20 0h4v4h-4zm12 0h4v4h-4zm72 0h4v4h-4zm-420 4h20v4h-20zm28 0h12v4h-12zm36 0h12v4h-12zm56 0h12v4h-12zm56 0h8v4h-8zm24 0h28v4h-28zm40 0h4v4h-4zm16 0h16v4h-16zm36 0h20v4h-20zm24 0h36v4h-36zm48 0h4v4h-4zm20 0h4v4h-4zm16 0h4v4h-4zm16 0h12v4h-12zm-476 4h4v4h-4zm60 0h4v4h-4zm8 0h8v4h-8zm20 0h8v4h-8zm16 0h4v4h-4zm24 0h8v4h-8zm24 0h4v4h-4zm48 0h4v4h-4zm32 0h8v4h-8zm28 0h16v4h-16zm20 0h8v4h-8zm20 0h4v4h-4zm20 0h12v4h-12zm32 0h12v4h-12zm24 0h16v4h-16zm20 0h12v4h-12zm28 0h4v4h-4zm20 0h8v4h-8zm16 0h4v4h-4zm16 0h12v4h-12zm-484 4h16v4h-16zm100 0h4v4h-4zm8 0h8v4h-8zm52 0h4v4h-4zm48 0h4v4h-4zm40 0h8v4h-8zm24 0h4v4h-4zm60 0h8v4h-8zm28 0h12v4h-12zm44 0h12v4h-12zm28 0h4v4h-4zm20 0h4v4h-4zm8 0h16v4h-16zm-408 4h4v4h-4zm12 0h4v4h-4zm48 0h4v4h-4zm28 0h8v4h-8zm20 0h4v4h-4zm88 0h4v4h-4zm84 0h4v4h-4zm28 0h8v4h-8zm52 0h4v4h-4zm32 0h12v4h-12zm20 0h12v4h-12zm-496 4h4v4h-4zm76 0h12v4h-12zm20 0h4v4h-4zm72 0h12v4h-12zm60 0h4v4h-4zm20 0h28v4h-28zm40 0h16v4h-16zm40 0h8v4h-8zm36 0h4v4h-4zm52 0h12v4h-12zm56 0h8v4h-8zm-400 4h16v4h-16zm96 0h8v4h-8zm36 0h4v4h-4zm24 0h4v4h-4zm20 0h12v4h-12zm20 0h4v4h-4zm20 0h16v4h-16zm44 0h4v4h-4zm16 0h4v4h-4zm16 0h4v4h-4zm12 0h4v4h-4zm12 0h8v4h-8zm24 0h16v4h-16zm60 0h4v4h-4zm24 0h4v4h-4zm-424 4h8v4h-8zm156 0h8v4h-8zm20 0h12v4h-12zm28 0h4v4h-4zm24 0h4v4h-4zm40 0h4v4h-4zm32 0h8v4h-8zm12 0h4v4h-4zm28 0h12v4h-12zm96 0h8v4h-8zm16 0h12v4h-12zm-520 4h4v4h-4zm8 0h4v4h-4zm40 0h12v4h-12zm80 0h4v4h-4zm92 0h12v4h-12zm16 0h4v4h-4zm8 0h8v4h-8zm28 0h8v4h-8zm20 0h8v4h-8zm36 0h4v4h-4zm8 0h8v4h-8zm32 0h4v4h-4zm12 0h8v4h-8zm16 0h12v4h-12zm16 0h8v4h-8zm108 0h12v4h-12zm-520 4h4v4h-4zm44 0h16v4h-16zm84 0h4v4h-4zm28 0h4v4h-4zm68 0h12v4h-12zm16 0h4v4h-4zm24 0h16v4h-16zm24 0h12v4h-12zm40 0h20v4h-20zm32 0h4v4h-4zm36 0h8v4h-8zm12 0h12v4h-12zm36 0h8v4h-8zm36 0h4v4h-4zm36 0h8v4h-8zm-472 4h12v4h-12zm24 0h16v4h-16zm60 0h4v4h-4zm92 0h24v4h-24zm44 0h32v4h-32zm68 0h16v4h-16zm80 0h8v4h-8zm32 0h8v4h-8zm20 0h4v4h-4zm16 0h4v4h-4zm36 0h8v4h-8zm-472 4h8v4h-8zm24 0h12v4h-12zm136 0h20v4h-20zm28 0h8v4h-8zm28 0h4v4h-4zm12 0h8v4h-8zm12 0h12v4h-12zm24 0h4v4h-4zm24 0h16v4h-16zm24 0h4v4h-4zm12 0h12v4h-12zm20 0h4v4h-4zm24 0h4v4h-4zm-368 4h12v4h-12zm28 0h4v4h-4zm32 0h4v4h-4zm108 0h8v4h-8zm44 0h4v4h-4zm20 0h4v4h-4zm12 0h8v4h-8zm44 0h16v4h-16zm36 0h16v4h-16zm56 0h4v4h-4zm16 0h12v4h-12zm20 0h8v4h-8zm-416 4h16v4h-16zm28 0h4v4h-4zm100 0h4v4h-4zm40 0h12v4h-12zm60 0h12v4h-12zm52 0h8v4h-8zm32 0h4v4h-4zm12 0h20v4h-20zm52 0h12v4h-12zm16 0h4v4h-4zm24 0h8v4h-8zm32 0h4v4h-4zm12 0h4v4h-4zm-460 4h16v4h-16zm28 0h4v4h-4zm100 0h4v4h-4zm16 0h4v4h-4zm24 0h8v4h-8zm52 0h16v4h-16zm56 0h12v4h-12zm32 0h8v4h-8zm16 0h4v4h-4zm8 0h12v4h-12zm36 0h24v4h-24zm48 0h12v4h-12zm-244 4h4v4h-4zm52 0h4v4h-4zm56 0h8v4h-8zm32 0h4v4h-4zm12 0h4v4h-4zm12 0h4v4h-4zm20 0h4v4h-4zm8 0h20v4h-20zm36 0h8v4h-8zm24 0h4v4h-4zm-292 4h8v4h-8zm40 0h8v4h-8zm56 0h4v4h-4zm96 0h4v4h-4zm32 0h4v4h-4zm40 0h12v4h-12zm36 0h4v4h-4zm48 0h8v4h-8zm-496 4h8v4h-8zm76 0h12v4h-12zm112 0h8v4h-8zm120 0h4v4h-4zm48 0h4v4h-4zm56 0h8v4h-8zm36 0h8v4h-8zm40 0h20v4h-20zm-484 4h16v4h-16zm68 0h4v4h-4zm268 0h4v4h-4zm16 0h8v4h-8zm108 0h4v4h-4zm24 0h4v4h-4zm8 0h12v4h-12zm-488 4h12v4h-12zm28 0h8v4h-8zm36 0h4v4h-4zm180 0h4v4h-4zm16 0h4v4h-4zm68 0h8v4h-8zm92 0h16v4h-16zm36 0h4v4h-4zm24 0h20v4h-20zm-504 4h8v4h-8zm24 0h12v4h-12zm28 0h8v4h-8zm212 0h8v4h-8zm84 0h12v4h-12zm32 0h12v4h-12zm36 0h4v4h-4zm28 0h16v4h-16zm64 0h4v4h-4zm8 0h12v4h-12zm-512 4h8v4h-8zm240 0h4v4h-4zm24 0h8v4h-8zm80 0h16v4h-16zm36 0h4v4h-4zm64 0h12v4h-12zm32 0h8v4h-8zm36 0h12v4h-12zm-508 4h4v4h-4zm192 0h8v4h-8zm44 0h4v4h-4zm24 0h8v4h-8zm80 0h20v4h-20zm108 0h8v4h-8zm24 0h8v4h-8zm28 0h4v4h-4zm12 0h8v4h-8zm-320 4h8v4h-8zm252 0h16v4h-16zm28 0h16v4h-16zm24 0h8v4h-8zm20 0h4v4h-4zm-476 4h4v4h-4zm352 0h4v4h-4zm20 0h4v4h-4zm24 0h12v4h-12zm48 0h4v4h-4zm16 0h4v4h-4zm-108 4h4v4h-4zm16 0h8v4h-8zm44 0h4v4h-4zm0 4h4v4h-4zm36 0h8v4h-8zm12 0h12v4h-12zm-476 4h4v4h-4zm224 0h8v4h-8zm184 0h4v4h-4zm20 0h12v4h-12zm36 0h8v4h-8zm-464 4h4v4h-4zm224 0h4v4h-4zm180 0h8v4h-8zm28 0h8v4h-8zm24 0h12v4h-12zm40 0h4v4h-4zm-548 4h8v4h-8zm452 0h12v4h-12zm36 0h4v4h-4zm60 0h4v4h-4zm-548 4h8v4h-8zm12 0h4v4h-4zm12 0h4v4h-4zm408 0h4v4h-4zm76 0h12v4h-12zm-76 4h16v4h-16zm24 0h4v4h-4zm20 0h8v4h-8zm28 0h16v4h-16zm-72 4h24v4h-24zm32 0h4v4h-4zm16 0h8v4h-8zm24 0h12v4h-12zm24 0h4v4h-4zm-96 4h8v4h-8zm28 0h16v4h-16zm48 0h4v4h-4zm20 0h4v4h-4zm-96 4h8v4h-8zm32 0h8v4h-8zm40 0h4v4h-4zm20 0h8v4h-8zm-496 4h4v4h-4zm8 0h8v4h-8zm232 0h4v4h-4zm164 0h8v4h-8zm56 0h4v4h-4zm36 0h12v4h-12zm-500 4h20v4h-20zm244 0h4v4h-4zm196 0h4v4h-4zm20 0h8v4h-8zm32 0h4v4h-4zm8 0h12v4h-12zm-488 4h8v4h-8zm444 0h12v4h-12zm36 0h20v4h-20zm-512 4h4v4h-4zm64 0h8v4h-8zm408 0h12v4h-12zm44 0h16v4h-16zm-516 4h4v4h-4zm64 0h4v4h-4zm356 0h4v4h-4zm52 0h8v4h-8zm40 0h12v4h-12zm-472 4h16v4h-16zm24 0h4v4h-4zm8 0h8v4h-8zm348 0h8v4h-8zm44 0h16v4h-16zm40 0h4v4h-4zm12 0h4v4h-4zm-476 4h8v4h-8zm32 0h4v4h-4zm164 0h8v4h-8zm236 0h12v4h-12zm32 0h4v4h-4zm16 0h4v4h-4zm-280 4h4v4h-4zm52 0h4v4h-4zm172 0h20v4h-20zm-4 4h12v4h-12zm32 0h4v4h-4zm16 0h4v4h-4zm-64 4h28v4h-28zm44 0h4v4h-4zm20 0h4v4h-4zm-236 4h4v4h-4zm176 0h24v4h-24zm40 0h4v4h-4zm-216 4h8v4h-8zm144 0h4v4h-4zm16 0h4v4h-4zm20 0h8v4h-8zm16 0h4v4h-4zm-208 4h4v4h-4zm168 0h4v4h-4zm44 0h4v4h-4zm-212 4h4v4h-4zm52 0h12v4h-12zm116 0h4v4h-4zm32 0h4v4h-4zm-236 4h12v4h-12zm32 0h8v4h-8zm64 0h4v4h-4zm124 0h4v4h-4zm8 0h4v4h-4zm8 0h4v4h-4zm28 0h8v4h-8zm32 0h8v4h-8zm12 0h12v4h-12zm-484 4h8v4h-8zm180 0h8v4h-8zm28 0h8v4h-8zm72 0h12v4h-12zm132 0h4v4h-4zm28 0h8v4h-8zm48 0h8v4h-8zm-524 4h4v4h-4zm40 0h4v4h-4zm40 0h4v4h-4zm152 0h8v4h-8zm12 0h8v4h-8zm76 0h8v4h-8zm92 0h4v4h-4zm32 0h12v4h-12zm24 0h4v4h-4zm12 0h4v4h-4zm-400 4h4v4h-4zm152 0h4v4h-4zm12 0h4v4h-4zm80 0h4v4h-4zm124 0h8v4h-8zm-456 4h8v4h-8zm240 0h8v4h-8zm80 0h4v4h-4zm24 0h4v4h-4zm28 0h4v4h-4zm68 0h4v4h-4zm-440 4h8v4h-8zm140 0h4v4h-4zm28 0h4v4h-4zm40 0h4v4h-4zm28 0h4v4h-4zm136 0h8v4h-8zm44 0h8v4h-8zm24 0h4v4h-4zm12 0h4v4h-4zm-312 4h4v4h-4zm16 0h4v4h-4zm12 0h4v4h-4zm40 0h4v4h-4zm104 0h12v4h-12zm60 0h12v4h-12zm44 0h8v4h-8zm16 0h4v4h-4zm-428 4h4v4h-4zm12 0h8v4h-8zm216 0h8v4h-8zm28 0h4v4h-4zm16 0h4v4h-4zm32 0h24v4h-24zm64 0h16v4h-16zm52 0h12v4h-12zm16 0h4v4h-4zm64 0h4v4h-4zm-500 4h8v4h-8zm188 0h4v4h-4zm40 0h12v4h-12zm16 0h8v4h-8zm28 0h8v4h-8zm36 0h8v4h-8zm16 0h4v4h-4zm44 0h4v4h-4zm8 0h8v4h-8zm44 0h8v4h-8zm16 0h4v4h-4zm-432 4h4v4h-4zm36 0h4v4h-4zm60 0h4v4h-4zm60 0h4v4h-4zm24 0h8v4h-8zm36 0h4v4h-4zm8 0h8v4h-8zm32 0h8v4h-8zm120 0h4v4h-4zm16 0h4v4h-4zm48 0h12v4h-12zm-424 4h4v4h-4zm48 0h4v4h-4zm116 0h8v4h-8zm192 0h4v4h-4zm76 0h4v4h-4zm20 0h4v4h-4zm52 0h4v4h-4zm8 0h8v4h-8zm-516 4h8v4h-8zm124 0h4v4h-4zm8 0h4v4h-4zm76 0h8v4h-8zm24 0h4v4h-4zm12 0h4v4h-4zm148 0h4v4h-4zm44 0h4v4h-4zm44 0h4v4h-4zm12 0h4v4h-4zm20 0h12v4h-12zm-512 4h4v4h-4zm108 0h4v4h-4zm24 0h4v4h-4zm76 0h8v4h-8zm32 0h4v4h-4zm152 0h4v4h-4zm12 0h12v4h-12zm88 0h4v4h-4zm28 0h4v4h-4zm-532 4h4v4h-4zm8 0h8v4h-8zm60 0h8v4h-8zm32 0h8v4h-8zm20 0h4v4h-4zm20 0h12v4h-12zm56 0h4v4h-4zm28 0h4v4h-4zm144 0h8v4h-8zm36 0h8v4h-8zm12 0h12v4h-12zm36 0h12v4h-12zm-440 4h8v4h-8zm56 0h16v4h-16zm76 0h8v4h-8zm116 0h4v4h-4zm12 0h4v4h-4zm24 0h4v4h-4zm20 0h8v4h-8zm36 0h4v4h-4zm12 0h16v4h-16zm44 0h4v4h-4zm40 0h16v4h-16zm44 0h20v4h-20zm-480 4h16v4h-16zm56 0h8v4h-8zm28 0h12v4h-12zm48 0h8v4h-8zm112 0h8v4h-8zm16 0h4v4h-4zm72 0h12v4h-12zm20 0h16v4h-16zm60 0h12v4h-12zm20 0h20v4h-20zm60 0h4v4h-4zm8 0h4v4h-4zm-512 4h12v4h-12zm96 0h16v4h-16zm20 0h8v4h-8zm24 0h12v4h-12zm68 0h4v4h-4zm44 0h12v4h-12zm16 0h8v4h-8zm84 0h4v4h-4zm12 0h8v4h-8zm60 0h8v4h-8zm24 0h20v4h-20zm36 0h8v4h-8zm16 0h16v4h-16zm-408 4h4v4h-4zm24 0h8v4h-8zm28 0h4v4h-4zm176 0h8v4h-8zm44 0h8v4h-8zm88 0h12v4h-12zm32 0h4v4h-4zm16 0h16v4h-16z"/><path fill="#fdb467" d="M158 76h4v4h-4zm12 0h8v4h-8zm16 0h8v4h-8zm132 0h8v4h-8zm152 0h4v4h-4zm72 0h12v4h-12zm-464 4h4v4h-4zm48 0h4v4h-4zm44 0h4v4h-4zm152 0h8v4h-8zm180 0h8v4h-8zm-376 4h8v4h-8zm196 0h8v4h-8zm52 0h4v4h-4zm100 0h8v4h-8zm16 0h8v4h-8zm12 0h8v4h-8zm16 0h4v4h-4zm12 0h4v4h-4zm-392 4h12v4h-12zm144 0h4v4h-4zm40 0h4v4h-4zm152 0h8v4h-8zm16 0h16v4h-16zm40 0h8v4h-8zm-412 4h4v4h-4zm20 0h8v4h-8zm12 0h4v4h-4zm128 0h16v4h-16zm24 0h4v4h-4zm40 0h8v4h-8zm100 0h4v4h-4zm56 0h8v4h-8zm32 0h8v4h-8zm12 0h4v4h-4zm-428 4h8v4h-8zm92 0h4v4h-4zm12 0h4v4h-4zm60 0h12v4h-12zm60 0h20v4h-20zm104 0h4v4h-4zm60 0h12v4h-12zm32 0h4v4h-4zm16 0h4v4h-4zm-456 4h4v4h-4zm60 0h4v4h-4zm60 0h8v4h-8zm36 0h4v4h-4zm28 0h8v4h-8zm68 0h8v4h-8zm24 0h8v4h-8zm64 0h4v4h-4zm52 0h4v4h-4zm12 0h12v4h-12zm32 0h12v4h-12zm-464 4h4v4h-4zm68 0h8v4h-8zm52 0h4v4h-4zm52 0h4v4h-4zm44 0h4v4h-4zm80 0h20v4h-20zm72 0h4v4h-4zm100 0h4v4h-4zm-468 4h4v4h-4zm28 0h4v4h-4zm32 0h16v4h-16zm60 0h4v4h-4zm48 0h20v4h-20zm48 0h4v4h-4zm80 0h12v4h-12zm72 0h4v4h-4zm24 0h8v4h-8zm64 0h4v4h-4zm-436 4h4v4h-4zm152 0h4v4h-4zm128 0h4v4h-4zm28 0h12v4h-12zm84 0h4v4h-4zm44 0h16v4h-16zm36 0h4v4h-4zm-292 4h4v4h-4zm12 0h4v4h-4zm52 0h4v4h-4zm60 0h20v4h-20zm68 0h4v4h-4zm36 0h4v4h-4zm40 0h16v4h-16zm-284 4h4v4h-4zm8 0h4v4h-4zm8 0h4v4h-4zm8 0h8v4h-8zm56 0h4v4h-4zm60 0h12v4h-12zm36 0h8v4h-8zm48 0h4v4h-4zm64 0h16v4h-16zm-492 4h4v4h-4zm200 0h8v4h-8zm68 0h12v4h-12zm20 0h4v4h-4zm56 0h8v4h-8zm152 0h12v4h-12zm24 0h4v4h-4zm-520 4h8v4h-8zm52 0h4v4h-4zm64 0h12v4h-12zm156 0h8v4h-8zm152 0h4v4h-4zm52 0h4v4h-4zm20 0h4v4h-4zm24 0h4v4h-4zm-500 4h4v4h-4zm36 0h4v4h-4zm56 0h16v4h-16zm76 0h4v4h-4zm56 0h4v4h-4zm44 0h4v4h-4zm12 0h20v4h-20zm32 0h4v4h-4zm12 0h4v4h-4zm44 0h4v4h-4zm20 0h4v4h-4zm68 0h4v4h-4zm-456 4h8v4h-8zm64 0h4v4h-4zm12 0h16v4h-16zm24 0h4v4h-4zm32 0h4v4h-4zm64 0h4v4h-4zm76 0h28v4h-28zm40 0h4v4h-4zm12 0h20v4h-20zm-252 4h16v4h-16zm24 0h12v4h-12zm36 0h12v4h-12zm56 0h8v4h-8zm80 0h28v4h-28zm60 0h12v4h-12zm32 0h8v4h-8zm12 0h8v4h-8zm12 0h12v4h-12zm20 0h16v4h-16zm64 0h4v4h-4zm16 0h12v4h-12zm-404 4h4v4h-4zm20 0h4v4h-4zm12 0h4v4h-4zm24 0h4v4h-4zm24 0h4v4h-4zm48 0h4v4h-4zm32 0h4v4h-4zm28 0h16v4h-16zm24 0h4v4h-4zm16 0h4v4h-4zm20 0h12v4h-12zm32 0h12v4h-12zm24 0h12v4h-12zm20 0h12v4h-12zm28 0h4v4h-4zm20 0h4v4h-4zm32 0h8v4h-8zm-484 4h4v4h-4zm8 0h4v4h-4zm104 0h4v4h-4zm48 0h4v4h-4zm48 0h4v4h-4zm40 0h8v4h-8zm88 0h4v4h-4zm24 0h8v4h-8zm44 0h8v4h-8zm28 0h4v4h-4zm20 0h4v4h-4zm12 0h12v4h-12zm-324 4h8v4h-8zm20 0h4v4h-4zm88 0h4v4h-4zm112 0h8v4h-8zm52 0h4v4h-4zm32 0h12v4h-12zm20 0h8v4h-8zm-496 4h4v4h-4zm80 0h8v4h-8zm16 0h4v4h-4zm76 0h4v4h-4zm56 0h4v4h-4zm20 0h4v4h-4zm8 0h20v4h-20zm72 0h4v4h-4zm88 0h4v4h-4zm60 0h4v4h-4zm-404 4h16v4h-16zm156 0h4v4h-4zm20 0h12v4h-12zm48 0h8v4h-8zm36 0h4v4h-4zm16 0h4v4h-4zm44 0h4v4h-4zm20 0h12v4h-12zm-340 4h4v4h-4zm176 0h8v4h-8zm52 0h4v4h-4zm72 0h8v4h-8zm44 0h8v4h-8zm112 0h8v4h-8zm-516 4h4v4h-4zm40 0h12v4h-12zm176 0h8v4h-8zm48 0h8v4h-8zm24 0h4v4h-4zm32 0h4v4h-4zm12 0h4v4h-4zm56 0h8v4h-8zm124 0h12v4h-12zm-472 4h12v4h-12zm80 0h4v4h-4zm96 0h8v4h-8zm44 0h12v4h-12zm24 0h8v4h-8zm36 0h4v4h-4zm8 0h12v4h-12zm60 0h8v4h-8zm16 0h8v4h-8zm32 0h8v4h-8zm76 0h4v4h-4zm-472 4h8v4h-8zm20 0h12v4h-12zm160 0h8v4h-8zm40 0h12v4h-12zm16 0h12v4h-12zm48 0h16v4h-16zm80 0h4v4h-4zm32 0h8v4h-8zm76 0h4v4h-4zm-476 4h4v4h-4zm28 0h8v4h-8zm136 0h4v4h-4zm24 0h4v4h-4zm28 0h4v4h-4zm12 0h8v4h-8zm12 0h12v4h-12zm52 0h12v4h-12zm36 0h8v4h-8zm16 0h4v4h-4zm24 0h4v4h-4zm-368 4h8v4h-8zm168 0h4v4h-4zm44 0h4v4h-4zm32 0h8v4h-8zm52 0h8v4h-8zm28 0h16v4h-16zm72 0h8v4h-8zm24 0h4v4h-4zm-420 4h16v4h-16zm28 0h4v4h-4zm100 0h4v4h-4zm40 0h8v4h-8zm60 0h8v4h-8zm56 0h4v4h-4zm28 0h4v4h-4zm12 0h8v4h-8zm12 0h4v4h-4zm44 0h4v4h-4zm36 0h8v4h-8zm-416 4h4v4h-4zm8 0h8v4h-8zm20 0h4v4h-4zm140 0h8v4h-8zm56 0h12v4h-12zm52 0h12v4h-12zm60 0h8v4h-8zm32 0h16v4h-16zm48 0h8v4h-8zm-244 4h4v4h-4zm112 0h4v4h-4zm52 0h4v4h-4zm20 0h4v4h-4zm12 0h16v4h-16zm36 0h4v4h-4zm20 0h4v4h-4zm-288 4h4v4h-4zm36 0h8v4h-8zm184 0h4v4h-4zm44 0h8v4h-8zm32 0h4v4h-4zm-444 4h4v4h-4zm72 0h8v4h-8zm112 0h8v4h-8zm224 0h8v4h-8zm76 0h20v4h-20zm-480 4h12v4h-12zm332 0h4v4h-4zm16 0h8v4h-8zm108 0h4v4h-4zm32 0h12v4h-12zm-488 4h12v4h-12zm32 0h4v4h-4zm228 0h4v4h-4zm72 0h4v4h-4zm92 0h8v4h-8zm56 0h4v4h-4zm12 0h4v4h-4zm-248 4h4v4h-4zm80 0h12v4h-12zm32 0h8v4h-8zm36 0h4v4h-4zm28 0h12v4h-12zm72 0h4v4h-4zm8 0h4v4h-4zm-516 4h4v4h-4zm260 0h4v4h-4zm80 0h16v4h-16zm104 0h8v4h-8zm28 0h4v4h-4zm36 0h4v4h-4zm8 0h4v4h-4zm-516 4h4v4h-4zm236 0h4v4h-4zm104 0h20v4h-20zm108 0h8v4h-8zm24 0h8v4h-8zm40 0h8v4h-8zm-320 4h8v4h-8zm256 0h8v4h-8zm28 0h4v4h-4zm8 0h4v4h-4zm12 0h8v4h-8zm-56 4h4v4h-4zm44 0h4v4h-4zm-76 4h8v4h-8zm44 4h4v4h-4zm36 0h4v4h-4zm20 0h4v4h-4zm-260 4h4v4h-4zm208 0h8v4h-8zm32 0h4v4h-4zm-464 4h4v4h-4zm404 0h4v4h-4zm28 0h8v4h-8zm24 0h12v4h-12zm-52 4h4v4h-4zm32 0h4v4h-4zm-464 4h4v4h-4zm484 0h8v4h-8zm-76 4h8v4h-8zm44 0h8v4h-8zm32 0h8v4h-8zm-72 4h8v4h-8zm12 0h8v4h-8zm32 0h4v4h-4zm28 0h8v4h-8zm20 0h4v4h-4zm-92 4h4v4h-4zm28 0h8v4h-8zm64 0h4v4h-4zm-96 4h8v4h-8zm32 0h4v4h-4zm64 0h4v4h-4zm-492 4h8v4h-8zm232 0h4v4h-4zm168 0h4v4h-4zm92 0h4v4h-4zm-504 4h8v4h-8zm12 0h8v4h-8zm452 0h4v4h-4zm40 0h4v4h-4zm-48 4h12v4h-12zm44 0h8v4h-8zm-520 4h4v4h-4zm64 0h4v4h-4zm408 0h8v4h-8zm44 0h4v4h-4zm12 0h4v4h-4zm-528 4h4v4h-4zm476 0h4v4h-4zm36 0h12v4h-12zm-464 4h4v4h-4zm16 0h4v4h-4zm356 0h8v4h-8zm44 0h8v4h-8zm12 4h8v4h-8zm-4 4h12v4h-12zm-8 4h8v4h-8zm-16 4h20v4h-20zm40 0h4v4h-4zm-36 4h8v4h-8zm12 0h8v4h-8zm24 0h4v4h-4zm-36 4h4v4h-4zm-192 4h4v4h-4zm168 0h4v4h-4zm-168 4h4v4h-4zm168 0h4v4h-4zm-200 4h8v4h-8zm28 0h4v4h-4zm196 0h4v4h-4zm36 0h4v4h-4zm48 0h4v4h-4zm-484 4h4v4h-4zm176 0h8v4h-8zm28 0h8v4h-8zm76 0h4v4h-4zm156 0h8v4h-8zm48 0h4v4h-4zm-484 4h4v4h-4zm192 0h4v4h-4zm12 0h8v4h-8zm76 0h8v4h-8zm128 0h4v4h-4zm-368 4h4v4h-4zm368 0h4v4h-4zm-16 4h4v4h-4zm-300 4h4v4h-4zm232 0h8v4h-8zm44 0h8v4h-8zm24 0h4v4h-4zm12 0h4v4h-4zm-296 4h4v4h-4zm52 0h4v4h-4zm104 0h8v4h-8zm60 0h12v4h-12zm44 0h8v4h-8zm-412 4h4v4h-4zm12 0h4v4h-4zm244 0h4v4h-4zm52 0h20v4h-20zm60 0h16v4h-16zm52 0h8v4h-8zm-192 4h8v4h-8zm44 0h4v4h-4zm52 0h4v4h-4zm44 0h4v4h-4zm12 0h4v4h-4zm44 0h4v4h-4zm12 0h4v4h-4zm-208 4h4v4h-4zm152 0h4v4h-4zm-360 4h4v4h-4zm356 0h4v4h-4zm96 0h4v4h-4zm60 0h4v4h-4zm-516 4h8v4h-8zm208 0h8v4h-8zm184 0h4v4h-4zm44 0h4v4h-4zm56 0h4v4h-4zm24 0h8v4h-8zm-516 4h4v4h-4zm208 0h8v4h-8zm184 0h4v4h-4zm16 0h4v4h-4zm-408 4h4v4h-4zm92 0h4v4h-4zm40 0h8v4h-8zm80 0h4v4h-4zm180 0h8v4h-8zm12 0h4v4h-4zm36 0h8v4h-8zm-440 4h4v4h-4zm56 0h8v4h-8zm12 0h4v4h-4zm64 0h8v4h-8zm116 0h4v4h-4zm36 0h4v4h-4zm24 0h4v4h-4zm44 0h16v4h-16zm44 0h4v4h-4zm40 0h12v4h-12zm44 0h8v4h-8zm12 0h4v4h-4zm-492 4h12v4h-12zm84 0h4v4h-4zm48 0h8v4h-8zm116 0h4v4h-4zm84 0h4v4h-4zm20 0h8v4h-8zm60 0h8v4h-8zm20 0h20v4h-20zm68 0h4v4h-4zm-508 4h8v4h-8zm96 0h8v4h-8zm16 0h8v4h-8zm28 0h8v4h-8zm116 0h4v4h-4zm8 0h8v4h-8zm96 0h8v4h-8zm84 0h16v4h-16zm40 0h4v4h-4zm12 0h8v4h-8zm12 0h4v4h-4zm-420 4h4v4h-4z"/><path fill="#fed484" d="M174 76h4v4h-4zm144 0h4v4h-4zm152 0h4v4h-4zm72 0h12v4h-12zm-464 4h4v4h-4zm48 0h4v4h-4zm196 0h8v4h-8zm184 0h4v4h-4zm-380 4h4v4h-4zm196 0h4v4h-4zm156 0h4v4h-4zm12 0h8v4h-8zm12 0h8v4h-8zm-364 4h8v4h-8zm336 0h4v4h-4zm20 0h4v4h-4zm36 0h4v4h-4zm-392 4h8v4h-8zm140 0h12v4h-12zm64 0h8v4h-8zm100 0h4v4h-4zm100 0h4v4h-4zm-424 4h4v4h-4zm100 0h4v4h-4zm64 0h8v4h-8zm60 0h8v4h-8zm160 0h12v4h-12zm-288 4h4v4h-4zm64 0h8v4h-8zm68 0h4v4h-4zm28 0h4v4h-4zm60 0h4v4h-4zm64 0h12v4h-12zm36 0h4v4h-4zm-468 4h4v4h-4zm68 0h4v4h-4zm52 0h4v4h-4zm96 0h4v4h-4zm80 0h16v4h-16zm72 0h4v4h-4zm-368 4h4v4h-4zm68 0h8v4h-8zm104 0h12v4h-12zm124 0h12v4h-12zm72 0h4v4h-4zm24 0h8v4h-8zm-92 4h4v4h-4zm32 0h8v4h-8zm-68 4h4v4h-4zm64 0h12v4h-12zm100 0h4v4h-4zm44 0h8v4h-8zm-280 4h4v4h-4zm72 0h4v4h-4zm60 0h8v4h-8zm36 0h4v4h-4zm48 0h4v4h-4zm64 0h16v4h-16zm-288 4h4v4h-4zm72 0h4v4h-4zm68 0h8v4h-8zm152 0h12v4h-12zm-496 4h4v4h-4zm116 0h12v4h-12zm160 0h4v4h-4zm220 0h4v4h-4zm-380 4h8v4h-8zm72 0h4v4h-4zm56 0h4v4h-4zm60 0h12v4h-12zm28 0h4v4h-4zm56 0h4v4h-4zm88 0h4v4h-4zm-456 4h4v4h-4zm84 0h8v4h-8zm48 0h4v4h-4zm140 0h24v4h-24zm52 0h20v4h-20zm-248 4h12v4h-12zm24 0h4v4h-4zm32 0h4v4h-4zm8 0h4v4h-4zm48 0h4v4h-4zm84 0h20v4h-20zm56 0h8v4h-8zm36 0h4v4h-4zm20 0h8v4h-8zm20 0h12v4h-12zm80 0h12v4h-12zm-384 4h4v4h-4zm60 0h4v4h-4zm48 0h4v4h-4zm32 0h4v4h-4zm32 0h12v4h-12zm20 0h4v4h-4zm36 0h12v4h-12zm32 0h8v4h-8zm48 0h4v4h-4zm24 0h4v4h-4zm56 0h4v4h-4zm-480 4h4v4h-4zm152 0h4v4h-4zm88 0h8v4h-8zm112 0h8v4h-8zm48 0h4v4h-4zm24 0h4v4h-4zm32 0h12v4h-12zm-324 4h4v4h-4zm108 0h4v4h-4zm112 0h4v4h-4zm88 0h4v4h-4zm16 0h8v4h-8zm-496 4h4v4h-4zm416 0h4v4h-4zm-344 4h8v4h-8zm156 0h4v4h-4zm20 0h12v4h-12zm52 0h4v4h-4zm32 0h4v4h-4zm16 0h4v4h-4zm44 0h4v4h-4zm20 0h12v4h-12zm-340 4h4v4h-4zm180 0h4v4h-4zm48 0h4v4h-4zm72 0h8v4h-8zm44 0h4v4h-4zm112 0h8v4h-8zm-300 4h8v4h-8zm48 0h4v4h-4zm128 0h4v4h-4zm120 0h12v4h-12zm-472 4h8v4h-8zm180 0h4v4h-4zm40 0h12v4h-12zm24 0h4v4h-4zm48 0h4v4h-4zm60 0h4v4h-4zm12 0h8v4h-8zm32 0h4v4h-4zm76 0h4v4h-4zm-472 4h4v4h-4zm20 0h12v4h-12zm200 0h12v4h-12zm16 0h12v4h-12zm48 0h16v4h-16zm80 0h4v4h-4zm36 0h4v4h-4zm72 0h4v4h-4zm-448 4h4v4h-4zm200 0h4v4h-4zm16 0h8v4h-8zm48 0h12v4h-12zm36 0h4v4h-4zm16 0h4v4h-4zm-340 4h4v4h-4zm164 0h4v4h-4zm76 0h8v4h-8zm52 0h8v4h-8zm32 0h12v4h-12zm72 0h4v4h-4zm-396 4h12v4h-12zm24 0h4v4h-4zm200 0h8v4h-8zm108 0h4v4h-4zm80 0h8v4h-8zm-248 4h4v4h-4zm56 0h12v4h-12zm52 0h12v4h-12zm60 0h8v4h-8zm36 0h8v4h-8zm44 0h8v4h-8zm-244 4h4v4h-4zm112 0h4v4h-4zm72 0h4v4h-4zm16 0h8v4h-8zm52 0h4v4h-4zm-288 4h4v4h-4zm220 0h4v4h-4zm44 0h8v4h-8zm32 0h4v4h-4zm-368 4h4v4h-4zm108 0h8v4h-8zm224 0h4v4h-4zm84 0h12v4h-12zm-484 4h4v4h-4zm344 0h4v4h-4zm108 0h4v4h-4zm36 0h4v4h-4zm-492 4h12v4h-12zm428 0h4v4h-4zm-100 4h8v4h-8zm96 0h8v4h-8zm68 0h4v4h-4zm-508 4h4v4h-4zm340 0h16v4h-16zm104 0h4v4h-4zm28 0h4v4h-4zm36 0h4v4h-4zm-508 4h4v4h-4zm344 0h8v4h-8zm104 0h4v4h-4zm24 0h8v4h-8zm40 0h4v4h-4zm-316 4h4v4h-4zm252 0h8v4h-8zm48 0h8v4h-8zm-88 8h4v4h-4zm100 4h4v4h-4zm-48 4h4v4h-4zm28 0h4v4h-4zm-464 4h4v4h-4zm404 0h4v4h-4zm28 0h8v4h-8zm24 0h12v4h-12zm-52 4h4v4h-4zm32 0h4v4h-4zm-464 4h4v4h-4zm408 4h8v4h-8zm44 0h8v4h-8zm32 0h8v4h-8zm-72 4h4v4h-4zm16 0h4v4h-4zm56 0h8v4h-8zm-72 4h4v4h-4zm28 0h8v4h-8zm-32 4h8v4h-8zm96 0h4v4h-4zm-92 4h4v4h-4zm92 0h4v4h-4zm-500 4h4v4h-4zm8 0h8v4h-8zm492 0h4v4h-4zm-40 4h4v4h-4zm40 0h4v4h-4zm-524 4h4v4h-4zm476 0h4v4h-4zm40 0h4v4h-4zm-4 4h8v4h-8zm-32 8h4v4h-4zm-8 4h4v4h-4zm-20 8h8v4h-8zm36 0h4v4h-4zm-36 4h8v4h-8zm-224 16h4v4h-4zm28 0h4v4h-4zm-204 4h4v4h-4zm180 0h4v4h-4zm24 0h8v4h-8zm76 0h4v4h-4zm160 0h4v4h-4zm-236 4h4v4h-4zm76 0h8v4h-8zm-188 12h4v4h-4zm232 0h8v4h-8zm48 0h4v4h-4zm32 0h4v4h-4zm-140 4h8v4h-8zm60 0h12v4h-12zm44 0h8v4h-8zm-412 4h4v4h-4zm12 0h4v4h-4zm244 0h4v4h-4zm56 0h16v4h-16zm56 0h12v4h-12zm52 0h8v4h-8zm-192 4h8v4h-8zm140 0h4v4h-4zm12 0h4v4h-4zm44 0h4v4h-4zm-196 4h4v4h-4zm-4 8h4v4h-4zm308 0h8v4h-8zm-308 4h8v4h-8zm200 0h4v4h-4zm-408 4h4v4h-4zm212 0h4v4h-4zm184 0h4v4h-4zm-336 4h4v4h-4zm8 0h4v4h-4zm68 0h4v4h-4zm172 0h4v4h-4zm48 0h12v4h-12zm80 0h12v4h-12zm-432 4h4v4h-4zm128 0h8v4h-8zm116 0h4v4h-4zm184 0h16v4h-16zm-440 4h8v4h-8zm96 0h8v4h-8zm44 0h8v4h-8zm124 0h4v4h-4zm96 0h8v4h-8zm84 0h12v4h-12zm64 0h4v4h-4zm-420 4h4v4h-4z"/><path fill="#feeca2" d="M470 76h4v4h-4zm76 0h4v4h-4zm-68 8h4v4h-4zm12 0h8v4h-8zm-16 4h4v4h-4zm56 0h4v4h-4zm-248 4h4v4h-4zm0 4h4v4h-4zm224 0h4v4h-4zm-224 4h4v4h-4zm-96 4h4v4h-4zm176 0h4v4h-4zm-124 4h4v4h-4zm128 0h4v4h-4zm96 0h4v4h-4zm-68 8h4v4h-4zm-136 4h4v4h-4zm136 0h4v4h-4zm32 0h4v4h-4zm116 0h8v4h-8zm-148 4h4v4h-4zm148 0h8v4h-8zm-496 4h4v4h-4zm116 0h8v4h-8zm380 0h4v4h-4zm-380 4h8v4h-8zm188 0h12v4h-12zm172 0h4v4h-4zm-372 4h4v4h-4zm192 0h20v4h-20zm52 0h4v4h-4zm-252 4h8v4h-8zm196 0h20v4h-20zm56 0h8v4h-8zm160 0h4v4h-4zm-280 4h4v4h-4zm64 0h8v4h-8zm92 0h4v4h-4zm68 0h4v4h-4zm-272 4h4v4h-4zm92 0h4v4h-4zm108 0h8v4h-8zm72 0h4v4h-4zm36 0h4v4h-4zm-248 12h4v4h-4zm48 0h4v4h-4zm32 0h4v4h-4zm16 0h4v4h-4zm68 0h4v4h-4zm-12 8h4v4h-4zm-128 4h4v4h-4zm20 0h4v4h-4zm48 0h4v4h-4zm-68 4h8v4h-8zm16 0h4v4h-4zm44 0h16v4h-16zm-44 4h4v4h-4zm48 0h12v4h-12zm36 4h4v4h-4zm8 4h4v4h-4zm-56 4h4v4h-4zm56 0h4v4h-4zm36 4h4v4h-4zm-16 4h4v4h-4zm76 0h4v4h-4zm-368 4h4v4h-4zm420 0h4v4h-4zm-36 4h4v4h-4zm-128 8h8v4h-8zm-344 4h4v4h-4zm340 0h16v4h-16zm104 0h4v4h-4zm-100 4h8v4h-8zm156 4h4v4h-4zm-72 20h4v4h-4zm32 0h4v4h-4zm24 0h8v4h-8zm-4 12h4v4h-4zm-44 8h4v4h-4zm-32 4h8v4h-8zm96 0h4v4h-4zm-8 20h4v4h-4zm-64 20h8v4h-8zm0 4h4v4h-4zm-196 20h4v4h-4zm76 0h4v4h-4zm0 4h4v4h-4zm-188 12h4v4h-4zm176 4h4v4h-4zm56 0h8v4h-8zm-368 4h4v4h-4zm316 0h4v4h-4zm8 0h4v4h-4zm44 0h8v4h-8zm56 0h4v4h-4zm-196 4h4v4h-4zm0 16h4v4h-4zm-212 4h4v4h-4zm436 4h12v4h-12zm0 4h12v4h-12zm-304 4h4v4h-4zm308 0h8v4h-8zm-360 4h4v4h-4z"/><path fill="#ffffbf" d="M494 84h4v4h-4zm-20 4h4v4h-4zm-288 16h4v4h-4zm180 4h4v4h-4zm60 12h4v4h-4zm116 0h8v4h-8zm-376 8h4v4h-4zm188 4h8v4h-8zm-4 4h12v4h-12zm44 0h4v4h-4zm-52 4h4v4h-4zm8 0h8v4h-8zm44 0h4v4h-4zm-56 4h8v4h-8zm-20 4h4v4h-4zm48 12h4v4h-4zm-56 12h4v4h-4zm0 4h4v4h-4zm64 0h12v4h-12zm0 4h12v4h-12zm44 12h4v4h-4zm20 8h4v4h-4zm-292 4h4v4h-4zm384 4h4v4h-4zm-124 8h4v4h-4zm-8 4h16v4h-16zm4 4h8v4h-8zm156 4h4v4h-4zm-64 40h4v4h-4zm56 24h4v4h-4zm-196 64h4v4h-4zm60 0h4v4h-4zm-4 4h4v4h-4zm88 28h8v4h-8zm-4 4h12v4h-12zm4 4h4v4h-4zm-360 4h4v4h-4z"/><path fill="#ecf8e3" d="M546 120h4v4h-4zm-192 12h8v4h-8zm-4 4h12v4h-12zm44 4h4v4h-4zm-84 36h4v4h-4zm64 0h8v4h-8zm0 4h12v4h-12zm44 12h4v4h-4zm-272 12h4v4h-4zm384 4h4v4h-4zm-124 8h4v4h-4zm-8 4h12v4h-12zm160 8h4v4h-4zm-148 132h4v4h-4zm88 28h8v4h-8zm-4 4h12v4h-12z"/><path fill="#d3ecf4" d="M546 120h4v4h-4zm-196 16h12v4h-12zm44 4h4v4h-4zm-20 36h8v4h-8zm0 4h8v4h-8zm44 12h4v4h-4zm-20 28h12v4h-12zm100 168h4v4h-4zm-4 4h12v4h-12z"/><path fill="#b2dceb" d="M350 136h8v4h-8zm44 4h4v4h-4zm-20 36h8v4h-8zm4 4h4v4h-4zm40 12h4v4h-4zm-20 28h12v4h-12zm100 168h4v4h-4zm0 4h4v4h-4z"/><path fill="#90c3dd" d="M354 136h4v4h-4zm40 4h4v4h-4zm-16 36h4v4h-4zm0 4h4v4h-4zm40 12h4v4h-4zm-16 28h8v4h-8zm96 168h4v4h-4zm0 4h4v4h-4z"/><path fill="#6ea6cd" d="M354 136h4v4h-4zm24 40h4v4h-4zm0 4h4v4h-4zm40 12h4v4h-4zm-16 28h8v4h-8zm96 168h4v4h-4zm0 4h4v4h-4z"/><path fill="#5183bb" d="M354 136h4v4h-4zm24 40h4v4h-4zm40 16h4v4h-4zm-16 28h8v4h-8zm96 172h4v4h-4z"/><path fill="#3e5da8" d="M354 136h4v4h-4zm64 56h4v4h-4zm-16 28h8v4h-8z"/><path fill="#313695" d="M402 220h8v4h-8z"/></g></g><path fill="none" stroke="#000" stroke-width="0.9" d="M161 77L159 80L157 80L155 77ZM178 77L177 81L171 82L170 81L170 77ZM193 77L191 80L187 79L184 77ZM229 77L229 81L227 81L227 77ZM328 77L330 81L330 85L329 87L327 89L323 90L321 89L319 85L320 81L318 77ZM477 77L475 79L473 79L471 79L469 77ZM557 77L553 80L549 80L545 79L543 77ZM31 253L35 255L36 257L35 258L31 258ZM581 254L580 253L581 250ZM581 383L577 383L573 380L572 379L572 377L577 372L581 374ZM79 77L82 79L84 81L79 87L76 81L79 77ZM505 79L509 79L512 81L513 85L510 89L510 91L511 93L513 94L515 97L509 103L501 104L499 103L498 101L501 97L497 93L493 93L489 89L489 85L491 83L493 82L497 82L501 83L503 80L505 79ZM127 80L130 81L134 85L133 86L129 88L127 88L126 87L125 85L125 81L127 80ZM211 81L212 81L210 81L211 81ZM377 80L383 85L377 87L373 86L370 85L373 84L375 81L377 80ZM561 80L562 81L561 85L561 80ZM139 83L143 84L153 93L153 95L157 99L157 102L155 103L151 101L151 97L149 95L147 95L143 97L139 97L137 95L136 89L139 83ZM479 82L481 81L485 85L481 91L478 93L476 97L469 97L469 96L473 96L475 95L475 93L474 91L474 89L477 83L479 82ZM519 82L521 81L522 85L521 86L515 85L519 82ZM283 85L287 85L289 89L294 93L287 104L285 111L283 112L281 107L278 101L279 97L276 93L278 91L281 89L283 85ZM533 84L541 91L545 89L549 93L553 92L557 101L557 102L553 102L549 99L541 96L540 97L542 99L543 101L539 104L537 107L533 107L532 105L532 97L531 89L533 84ZM345 91L349 91L357 95L358 97L355 101L353 103L349 104L347 104L339 98L339 97L341 93L345 91ZM445 91L449 93L447 97L445 98L443 98L440 93L441 92L445 91ZM63 93L64 93L63 94L63 93ZM119 92L123 93L124 97L122 99L119 101L115 99L113 97L119 92ZM303 92L305 93L303 94L302 93L303 92ZM219 95L223 95L225 97L223 101L219 103L215 103L211 98L209 98L207 97L209 96L215 96L219 95ZM245 97L247 95L249 97L247 98L245 97ZM367 97L375 97L381 103L385 105L377 108L372 115L369 116L367 115L362 111L360 105L366 101L366 97L367 97ZM39 98L41 101L41 103L35 104L34 101L39 98ZM95 98L99 100L100 101L99 104L96 105L97 105L98 109L95 112L93 112L88 117L87 118L83 113L87 111L91 112L92 109L95 105L94 101L95 98ZM251 99L255 101L254 105L253 109L252 111L248 113L247 115L245 114L239 114L237 113L234 109L235 107L239 104L245 105L247 104L249 103L251 99ZM163 101L167 100L168 101L167 102L165 102L163 102L163 101ZM269 101L270 101L269 101ZM435 101L437 99L439 101L442 109L441 111L439 113L435 115L434 121L433 122L429 124L427 124L425 121L427 118L431 115L433 111L435 105L435 101ZM487 101L489 100L491 101L490 105L489 106L487 106L485 105L487 101ZM135 103L139 102L140 103L141 105L141 110L139 112L131 113L127 115L126 113L127 107L135 103ZM187 101L189 102L192 105L191 109L189 110L187 110L185 107L185 105L187 101ZM43 104L45 105L43 106L42 105L43 104ZM49 105L51 105L49 105ZM65 105L67 103L69 105L70 109L67 111L65 109L65 105ZM87 105L87 106L87 105ZM301 105L303 104L305 105L304 109L301 111L300 109L301 105ZM461 106L465 106L470 109L465 113L464 117L461 119L459 117L458 115L456 113L458 109L461 106ZM329 108L334 113L335 115L337 121L337 131L339 134L341 135L345 133L349 130L359 129L361 130L366 133L366 137L363 141L361 147L359 148L353 145L341 150L339 150L335 147L335 145L334 137L331 129L333 128L334 125L331 124L330 121L328 109L329 108ZM525 108L529 112L537 111L541 113L545 114L549 116L555 121L555 125L553 127L549 128L545 132L543 130L541 125L533 117L525 114L524 113L524 111L524 109L525 108ZM565 109L569 108L573 109L569 110L565 109ZM399 111L405 111L409 113L413 117L412 119L405 121L401 124L395 133L401 135L407 135L410 137L410 139L408 141L408 145L405 151L402 153L401 161L401 153L400 151L399 149L395 147L392 143L390 137L392 131L392 129L390 125L391 117L395 112L399 111ZM481 111L483 112L484 113L481 115L479 113L481 111ZM311 112L313 113L311 115L309 113L311 112ZM561 112L562 113L561 115L560 113L561 112ZM269 115L273 116L281 114L283 117L281 122L277 125L275 124L273 122L267 122L266 121L265 117L267 115L269 115ZM249 115L255 120L261 119L263 121L261 124L257 125L253 127L249 127L246 125L248 117L249 115ZM495 117L497 116L498 117L497 120L495 119L495 117ZM475 120L477 119L479 121L477 126L473 133L468 129L473 125L474 121L475 120ZM569 123L570 125L571 131L571 133L569 135L568 131L567 125L569 123ZM43 125L47 124L50 125L53 129L52 131L51 132L47 133L45 131L43 129L43 125ZM315 124L325 124L328 129L325 132L321 132L315 127L314 125L315 124ZM163 127L169 126L174 129L174 133L171 137L173 141L173 143L169 148L167 149L164 147L161 139L159 138L155 141L153 144L149 146L147 146L139 143L135 145L135 141L139 138L143 136L147 136L151 134L155 135L157 134L159 129L163 127ZM95 129L99 127L101 128L103 130L104 133L103 134L95 133L95 129ZM449 129L449 132L449 129ZM501 129L503 129L501 131L501 129ZM523 129L525 128L527 129L528 133L525 136L523 136L522 133L523 129ZM233 131L235 129L237 130L238 133L237 134L235 135L233 134L231 133L233 131ZM67 132L71 132L72 133L72 137L71 139L67 139L66 137L66 133L67 132ZM291 132L293 132L294 133L293 135L291 134L290 133L291 132ZM379 132L381 131L383 133L383 136L383 137L381 138L378 139L377 147L375 145L375 141L377 138L377 133L379 132ZM435 132L437 132L440 133L441 135L445 138L446 141L445 143L441 144L439 146L435 153L429 157L427 155L426 153L426 149L426 143L427 141L429 139L433 138L435 137L435 132ZM451 133L457 132L458 133L457 136L455 136L453 136L452 135L450 133L451 133ZM487 133L489 132L489 135L487 137L487 141L482 145L481 149L483 153L481 155L481 155L472 151L470 149L469 144L468 143L469 141L473 137L481 139L484 137L487 133ZM199 134L209 140L210 141L209 143L207 148L203 148L198 143L197 137L199 134ZM131 136L132 137L131 139L130 137L131 136ZM261 137L263 136L267 137L266 139L265 141L257 144L255 143L254 141L259 139L261 137ZM557 137L561 139L563 141L561 146L557 148L553 147L551 145L550 141L553 138L557 137ZM451 138L453 137L457 138L464 141L466 143L467 145L463 147L453 147L451 145L450 141L451 138ZM311 141L313 140L315 141L314 143L312 145L309 147L307 146L306 145L307 144L311 141ZM521 140L523 141L526 145L526 147L524 149L523 153L521 155L516 157L511 160L509 162L506 161L507 157L509 155L510 153L518 149L519 143L521 140ZM537 139L539 141L539 145L541 146L543 149L543 151L541 154L537 156L533 157L531 155L528 149L535 145L536 141L537 139ZM499 142L501 142L504 145L504 149L503 151L501 153L499 151L498 149L498 145L499 142ZM177 145L179 144L181 145L182 149L179 153L177 151L176 149L177 145ZM227 144L230 145L231 149L229 153L227 154L225 149L226 145L227 144ZM275 144L277 144L278 145L277 150L275 150L274 149L274 145L275 144ZM73 147L75 145L77 147L79 149L77 151L75 151L71 150L67 152L66 149L67 148L71 148L73 147ZM315 147L319 146L321 147L323 149L322 151L317 155L315 155L314 153L314 149L315 147ZM207 150L211 151L213 153L213 155L209 160L207 161L205 161L204 161L204 157L206 151L207 150ZM119 153L121 155L122 157L121 161L119 163L115 164L109 167L107 168L105 167L104 165L105 161L107 159L116 155L119 153ZM131 154L133 157L131 159L130 157L131 154ZM35 156L36 157L35 159L33 157L35 156ZM263 157L265 156L266 157L268 165L271 169L273 171L275 169L276 171L275 173L277 175L277 177L276 181L275 183L271 183L267 180L263 179L261 182L257 185L259 189L258 193L258 197L259 199L261 201L262 205L261 207L259 208L255 207L254 205L253 199L250 195L249 193L250 189L249 187L245 183L244 181L247 180L255 182L257 181L261 176L262 173L259 169L262 165L262 161L263 157ZM283 156L305 155L309 156L310 157L309 160L305 162L297 160L295 161L291 167L289 169L287 170L284 169L282 167L281 159L282 157L283 156ZM327 157L333 157L337 157L339 161L339 165L339 169L339 173L339 175L336 177L334 187L331 189L327 188L321 180L319 181L317 185L315 185L311 184L305 179L304 177L304 173L309 169L311 166L313 165L317 168L319 175L321 176L325 175L329 173L332 169L332 165L329 162L324 161L325 158L327 157ZM365 156L369 158L371 161L371 163L369 165L367 164L365 161L364 157L365 156ZM451 156L453 156L459 157L461 159L461 161L459 165L457 169L459 173L459 175L456 181L453 184L451 182L449 177L446 173L449 171L450 169L447 163L447 161L451 156ZM427 159L429 157L431 161L429 163L425 164L424 161L427 159ZM383 160L385 159L386 161L385 163L383 163L382 161L383 160ZM409 163L413 162L415 165L413 168L409 169L407 168L406 165L409 163ZM565 163L569 163L571 164L571 169L569 172L565 173L563 179L561 181L557 179L556 177L557 173L559 167L563 164L565 163ZM547 164L549 163L551 165L549 166L546 165L547 164ZM421 166L423 166L425 169L421 169L421 166ZM439 167L441 166L444 169L445 173L441 175L435 175L434 173L435 169L439 167ZM47 168L48 169L47 171L46 169L47 168ZM87 168L95 168L97 169L98 173L97 174L92 179L89 181L91 185L95 186L98 189L99 193L96 195L83 195L82 193L82 183L83 173L85 169L87 168ZM167 169L170 173L169 177L167 178L165 173L167 169ZM367 169L369 167L371 171L373 172L376 169L377 167L381 168L385 171L387 175L388 181L387 185L385 189L373 186L370 177L367 173L367 169ZM39 171L39 171L39 171ZM279 172L280 173L279 176L277 175L277 173L279 172ZM483 173L485 172L490 173L491 177L489 181L485 180L484 179L483 175L483 173ZM107 175L111 174L115 175L119 177L119 178L119 181L117 183L113 185L114 189L114 191L113 194L111 195L108 193L110 185L106 179L105 177L107 175ZM521 174L522 177L521 178L520 177L521 174ZM505 177L505 180L504 177L505 177ZM429 178L431 181L430 183L427 183L426 181L429 178ZM299 181L301 181L299 182L299 181ZM411 180L413 180L417 180L422 183L424 185L424 189L427 193L426 195L421 199L419 198L415 194L413 193L410 195L409 199L407 191L406 187L408 183L411 180ZM505 182L508 191L511 197L510 199L509 200L505 197L501 196L499 193L499 189L501 185L505 182ZM295 184L297 183L298 185L297 186L295 187L294 185L295 184ZM479 185L485 183L487 183L489 185L485 188L481 189L479 189L478 187L479 185ZM313 186L315 185L317 185L320 189L319 193L318 195L315 196L309 198L306 197L304 195L305 193L313 186ZM465 186L469 190L475 193L469 194L465 199L461 201L455 200L452 199L449 197L451 193L459 190L465 186ZM211 188L213 189L213 192L211 193L210 191L210 189L211 188ZM365 189L369 189L371 190L372 193L371 197L369 200L367 199L361 197L358 195L357 193L359 191L365 189ZM395 189L397 189L398 191L397 197L395 197L393 195L392 193L395 189ZM439 197L441 196L443 197L444 199L443 203L441 204L439 203L438 201L439 197ZM485 197L489 197L490 201L490 203L489 205L486 207L481 207L479 205L482 199L485 197ZM219 199L223 201L222 203L219 204L216 203L215 201L217 199L219 199ZM517 199L519 201L521 207L517 207L514 203L514 201L515 200L517 199ZM565 201L569 201L573 203L575 205L576 211L573 215L573 218L575 215L577 215L578 217L579 223L577 231L573 229L570 225L568 223L565 215L561 219L557 217L556 215L555 205L557 203L561 203L565 201ZM147 203L152 205L151 207L149 208L145 209L141 207L142 205L147 203ZM67 204L71 204L73 207L75 208L79 207L83 208L84 209L85 213L83 218L75 219L71 211L67 207L67 204ZM423 207L425 205L427 206L431 209L430 211L425 212L423 211L422 209L423 207ZM531 206L533 206L536 209L536 211L533 215L530 211L529 209L531 206ZM139 209L140 209L141 211L140 213L139 214L138 213L139 209ZM407 209L409 208L412 217L418 225L418 227L417 228L413 228L409 229L403 229L399 226L397 223L397 219L404 213L407 209ZM561 210L561 212L561 210ZM105 213L108 213L109 215L109 217L107 218L103 218L102 217L103 214L105 213ZM497 213L501 211L505 211L509 213L510 221L516 229L516 231L513 233L507 233L501 236L499 235L498 233L503 229L505 227L504 225L495 218L494 217L495 215L497 213ZM319 215L321 215L323 217L323 226L321 226L319 225L317 221L317 217L319 215ZM433 216L437 216L440 217L441 219L437 222L433 221L431 219L432 217L433 216ZM469 216L471 217L471 219L469 220L468 219L468 217L469 216ZM51 217L55 218L59 218L60 219L62 223L62 225L61 228L59 229L56 227L53 220L51 219L51 217ZM533 218L539 223L541 228L545 228L546 229L547 233L545 236L541 231L535 231L533 231L531 229L530 225L531 221L533 218ZM295 225L297 225L297 226L295 225L295 225ZM251 226L255 225L257 226L259 229L258 231L255 232L251 232L250 229L250 227L251 226ZM557 226L561 226L564 229L564 231L561 234L557 233L555 231L555 229L557 226ZM453 234L454 237L453 239L451 237L452 235L453 234ZM471 235L473 235L474 237L473 239L469 240L468 239L467 237L469 235L471 235ZM513 238L516 243L521 244L523 247L525 251L524 253L524 255L521 257L519 256L515 251L514 247L512 243L512 241L513 238ZM549 240L552 241L554 243L555 245L552 251L549 254L545 255L541 253L539 251L539 249L541 248L545 246L548 241L549 240ZM567 241L569 240L571 241L571 243L569 244L566 243L566 241L567 241ZM83 245L85 249L85 251L83 252L82 251L81 249L83 245ZM307 244L309 244L311 244L313 245L313 247L311 249L308 249L306 247L307 244ZM491 247L493 246L493 247L493 253L491 255L489 256L487 256L485 255L486 251L487 249L491 247ZM55 256L56 257L56 259L55 260L54 259L54 257L55 256ZM541 256L545 255L548 257L549 259L547 268L542 271L541 272L539 273L537 267L536 263L537 261L541 256ZM463 258L465 257L469 259L473 262L477 263L488 263L487 267L485 268L477 267L473 268L472 271L470 279L469 280L467 280L465 279L462 275L464 269L462 261L463 258ZM509 260L513 260L515 261L516 265L515 266L513 267L507 263L508 261L509 260ZM561 264L565 275L566 291L565 292L561 291L558 297L553 299L548 297L547 295L547 293L550 287L555 285L556 283L557 279L556 275L561 264ZM497 266L503 268L505 271L503 274L497 276L494 275L492 271L493 269L497 266ZM537 273L539 273L537 274L537 273ZM67 277L71 277L73 279L73 283L71 287L67 287L63 284L59 286L54 283L55 280L59 278L63 280L67 277ZM299 276L301 276L302 279L301 281L299 282L298 281L298 279L299 276ZM521 279L524 287L523 288L517 291L514 295L514 299L518 301L519 303L518 305L517 308L509 310L507 311L506 315L507 319L507 323L505 325L502 321L497 319L491 323L489 324L487 323L482 317L481 315L489 311L495 310L500 307L501 306L505 305L507 303L510 299L509 298L507 301L501 302L499 299L500 297L507 295L507 291L509 288L521 279ZM497 281L497 283L496 283L497 281ZM549 283L549 284L549 283ZM33 289L35 288L38 291L37 295L35 296L33 295L32 293L32 291L33 289ZM99 288L103 289L104 291L100 293L99 295L100 297L99 299L98 297L99 295L97 291L99 288ZM83 295L87 296L88 297L88 299L83 301L75 303L74 301L75 299L83 295ZM457 294L461 296L462 297L462 299L457 300L455 299L455 297L457 294ZM109 298L111 298L111 301L107 303L106 301L107 299L109 298ZM539 298L541 297L542 299L541 303L538 299L539 298ZM557 300L558 301L557 303L555 301L557 300ZM275 302L278 303L277 305L275 304L274 303L275 302ZM327 307L330 307L329 308L327 308L327 307ZM525 311L527 311L526 317L525 320L523 315L525 311ZM545 310L547 313L547 315L545 316L544 313L544 311L545 310ZM307 320L309 320L310 321L310 323L308 323L307 320ZM465 322L467 322L469 323L465 332L463 329L463 327L465 322ZM295 326L297 326L298 327L297 335L299 339L297 343L293 346L291 346L289 343L289 339L291 333L293 331L295 326ZM351 331L355 330L357 331L357 333L355 334L349 331L351 331ZM261 332L265 332L268 333L270 335L271 339L269 341L267 341L262 339L259 335L261 332ZM525 332L529 335L530 337L531 341L529 343L524 339L523 335L525 332ZM569 333L573 333L577 334L578 335L577 337L575 339L573 340L572 339L569 336L566 335L569 333ZM489 334L491 335L489 336L488 335L489 334ZM497 334L497 337L501 340L502 343L501 347L497 348L494 347L492 343L495 339L497 334ZM557 335L564 335L561 337L557 335L557 335ZM87 337L90 339L89 343L87 344L85 343L83 339L87 337ZM367 336L369 336L373 339L375 343L373 346L369 346L365 343L364 339L365 337L367 336ZM279 342L281 341L285 343L281 347L279 345L278 343L279 342ZM127 343L128 345L128 347L127 348L125 347L127 343ZM281 349L285 351L283 352L281 352L280 351L281 349ZM479 349L481 349L483 351L481 357L479 355L477 351L479 349ZM39 350L43 351L45 355L43 357L39 354L39 350ZM179 353L181 353L182 355L181 357L179 358L176 355L179 353ZM411 353L413 351L417 352L426 363L427 367L425 371L423 373L422 375L421 376L419 375L421 371L419 367L417 366L413 369L411 368L410 365L409 361L410 355L411 353ZM457 353L461 353L465 359L471 359L473 360L474 363L472 367L469 369L463 367L461 361L457 361L455 360L454 359L454 355L457 353ZM491 352L493 352L494 353L495 355L493 358L491 357L490 355L491 352ZM247 354L249 355L249 357L249 359L247 360L246 359L247 354ZM353 356L357 356L361 359L369 360L372 363L369 367L363 366L353 367L351 366L348 363L350 359L353 356ZM195 358L196 359L195 359L195 358ZM43 359L45 361L47 363L47 371L45 369L43 369L41 365L41 362L43 359ZM55 361L59 363L55 366L53 363L55 361ZM275 361L277 362L280 367L275 371L271 373L269 371L268 367L271 362L275 361ZM545 360L547 363L545 364L544 363L545 360ZM299 361L301 361L303 363L301 365L299 365L298 363L299 361ZM315 363L317 362L319 363L320 367L317 368L314 367L315 363ZM481 363L482 367L481 368L479 367L481 363ZM287 367L289 366L292 367L291 368L289 368L287 367ZM231 367L234 371L231 374L229 374L227 373L226 371L231 367ZM307 370L308 371L305 371L307 370ZM489 370L495 370L498 371L498 379L497 380L496 379L496 375L495 373L493 372L489 371L489 370ZM63 371L65 375L65 379L62 383L63 389L65 392L71 394L72 395L63 399L59 398L55 401L51 402L47 400L46 399L47 398L51 397L55 397L57 395L56 391L54 387L57 383L59 376L63 371ZM515 375L517 373L519 375L517 377L515 376L515 375ZM569 373L572 375L569 376L568 375L569 373ZM267 377L271 377L273 379L275 387L273 389L271 389L265 383L265 379L267 377ZM553 376L555 379L553 383L551 379L552 377L553 376ZM191 378L193 379L193 383L198 387L199 391L198 395L199 399L197 401L193 403L191 403L188 399L189 391L187 387L190 383L190 379L191 378ZM451 378L453 378L455 379L456 383L461 387L457 392L455 391L450 387L450 383L451 378ZM467 381L470 381L475 383L474 387L473 388L469 387L465 388L461 387L465 381L467 381ZM167 382L169 383L167 384L167 382ZM505 385L509 387L511 396L512 399L511 402L510 403L501 404L495 400L490 395L495 389L501 385L505 385ZM115 386L127 389L129 391L127 393L123 392L119 395L117 395L115 394L113 391L114 387L115 386ZM147 386L151 385L152 387L151 388L149 388L147 388L146 387L147 386ZM245 387L246 387L244 387L245 387ZM415 387L421 387L425 389L426 391L425 394L421 397L417 402L413 403L411 402L410 399L411 395L410 391L413 387L415 387ZM367 389L369 389L370 391L369 392L367 392L364 391L365 389L367 389ZM541 388L545 388L549 389L553 389L556 391L555 393L553 394L549 393L541 393L540 391L541 388ZM307 390L310 391L311 398L313 398L318 395L319 392L321 391L322 399L320 401L317 402L315 401L313 399L311 399L307 401L301 399L303 394L307 390ZM343 391L345 390L346 391L345 393L343 391ZM399 390L401 390L402 391L402 395L401 397L399 398L397 396L393 397L390 395L393 393L397 393L399 390ZM143 392L153 395L157 399L151 401L143 401L142 403L141 405L139 405L136 403L139 400L141 399L141 395L143 392ZM475 392L477 392L482 395L477 401L473 400L471 399L471 395L475 392ZM559 394L561 393L563 397L563 399L561 403L549 403L547 399L548 397L553 395L557 397L559 394ZM163 397L167 397L170 399L167 403L163 403L161 399L163 397ZM533 398L537 397L539 399L537 402L533 403L532 399L533 398ZM371 402L372 403L371 404L369 403L371 402ZM552 77L549 78L545 77ZM493 85L497 84L498 85L497 87L493 86L493 85ZM477 87L479 89L477 90L476 89L477 87ZM533 89L533 90L533 89ZM283 93L286 93L285 98L284 99L284 101L283 102L282 101L284 97L282 93L283 93ZM347 97L346 97L347 97ZM509 97L510 97L509 98L508 97L509 97ZM187 104L189 105L187 106L187 104ZM365 105L369 106L371 107L372 109L369 112L365 109L365 105ZM397 117L398 117L398 119L397 123L395 125L393 125L393 121L397 117ZM543 119L545 118L549 118L552 121L552 125L547 126L545 129L544 125L542 121L543 119ZM429 120L431 121L429 122L428 121L429 120ZM47 128L48 129L47 130L46 129L47 128ZM163 129L167 128L169 129L169 133L167 134L163 133L163 129ZM353 132L357 132L361 132L362 133L363 137L362 139L357 143L349 143L347 145L343 147L341 147L339 146L338 145L339 143L341 139L353 132ZM525 133L525 133L525 133ZM151 137L153 137L151 141L147 142L143 141L149 140L151 137ZM395 137L399 137L401 139L402 141L401 143L399 145L397 145L394 143L394 139L395 137ZM555 141L557 140L558 141L557 145L555 143L554 141L555 141ZM431 144L433 143L434 145L433 149L431 150L429 150L429 145L431 144ZM501 146L501 149L501 146ZM319 149L320 149L319 150L318 149L319 149ZM453 159L455 161L453 164L450 161L453 159ZM369 161L369 161L367 161L369 161ZM313 171L316 177L316 179L313 181L311 180L308 177L310 173L313 171ZM381 173L384 175L385 179L385 184L383 185L379 185L375 183L372 177L375 175L381 173ZM329 178L331 178L331 181L331 183L329 183L328 181L328 179L329 178ZM419 190L421 189L424 193L423 195L421 197L419 196L418 195L417 193L419 190ZM365 193L365 193L364 193L365 193ZM457 196L458 197L457 197L457 196ZM441 200L441 202L440 201L441 200ZM147 204L149 205L147 207L146 205L147 204ZM533 208L534 209L533 212L532 209L533 208ZM405 217L407 215L409 216L413 221L413 223L409 227L405 227L403 226L399 223L399 220L401 218L405 217ZM59 222L59 225L59 222ZM561 228L562 229L561 232L560 231L559 229L561 228ZM519 249L521 248L522 251L521 253L519 251L519 249ZM545 249L549 248L549 249L549 250L545 251L545 249ZM489 251L489 252L489 251ZM541 261L544 263L543 264L541 265L540 263L541 261ZM497 269L499 271L497 272L496 271L497 269ZM465 273L468 273L469 275L465 275L465 273ZM561 274L561 276L561 274ZM553 292L554 293L554 295L553 295L552 295L552 293L553 292ZM489 314L494 315L493 317L489 320L487 315L489 314ZM293 339L293 339L293 339ZM415 356L417 357L419 359L419 361L413 366L411 364L411 362L413 357L415 356ZM355 358L357 358L358 359L357 362L354 361L353 359L355 358ZM43 362L43 364L43 362ZM467 363L469 362L470 363L469 365L466 363L467 363ZM59 386L59 388L59 386ZM499 388L501 388L505 388L507 391L507 395L506 399L505 400L501 401L497 399L493 395L496 391L499 388ZM139 402L140 403L139 403L138 403L139 402ZM549 121L550 121L549 122L547 121L549 121ZM353 135L357 133L359 134L361 137L357 140L353 140L351 139L350 137L353 135ZM397 139L398 141L397 143L395 141L397 139ZM377 176L381 175L383 177L384 181L382 183L379 183L376 181L375 177L377 176ZM419 192L421 191L423 193L421 196L419 194L419 192ZM405 219L409 218L411 221L411 223L409 225L405 225L400 223L400 221L401 220L405 219ZM501 389L504 391L505 395L504 397L501 398L496 395L498 391L501 389ZM355 136L357 135L359 137L357 139L355 139L353 137L355 136ZM379 177L381 177L382 181L381 182L378 181L377 179L378 177L379 177ZM421 193L421 194L420 193L421 193ZM403 220L407 219L409 220L410 221L410 223L407 224L403 223L402 221L403 220ZM501 390L502 391L503 395L501 397L498 395L500 391L501 390ZM405 221L408 221L407 223L405 223L404 221L405 221ZM501 394L501 395L501 394Z"/><path fill="none" stroke="#000" stroke-width="1" stroke-linejoin="round" d="M38.0 76.0L62.0 76.0L65.0 73.0L71.0 73.0L74.0 76.0L105.0 76.0L108.0 79.0L114.0 79.0L117.0 76.0L170.0 76.0L173.0 73.0L179.0 73.0L182.0 76.0L206.0 76.0L209.0 73.0L215.0 73.0L218.0 76.0L276.0 76.0L279.0 73.0L285.0 73.0L288.0 76.0L343.0 76.0L346.0 79.0L352.0 79.0L355.0 76.0L422.0 76.0L425.0 73.0L431.0 73.0L434.0 76.0L572.0 76.0L580.0 84.0L580.0 234.0L583.0 237.0L583.0 243.0L580.0 246.0L580.0 279.0L583.0 282.0L583.0 288.0L580.0 291.0L580.0 312.0L577.0 315.0L577.0 321.0L580.0 324.0L580.0 349.0L577.0 352.0L577.0 358.0L580.0 361.0L580.0 404.5L572.0 412.5L547.0 412.5L544.0 415.5L538.0 415.5L535.0 412.5L504.0 412.5L501.0 415.5L495.0 415.5L492.0 412.5L366.0 412.5L363.0 409.5L357.0 409.5L354.0 412.5L336.0 412.5L333.0 409.5L327.0 409.5L324.0 412.5L126.0 412.5L123.0 409.5L117.0 409.5L114.0 412.5L98.0 412.5L95.0 415.5L89.0 415.5L86.0 412.5L38.0 412.5L30.0 404.5L30.0 328.5L27.0 325.5L27.0 319.5L30.0 316.5L30.0 299.5L27.0 296.5L27.0 290.5L30.0 287.5L30.0 226.5L33.0 223.5L33.0 217.5L30.0 214.5L30.0 189.5L33.0 186.5L33.0 180.5L30.0 177.5L30.0 140.5L33.0 137.5L33.0 131.5L30.0 128.5L30.0 84.0ZM175.4 210.3L189.6 208.0L192.5 218.0L206.0 222.7L228.7 222.7L229.4 240.4L238.0 242.8L238.0 257.0L259.5 257.0L259.5 277.0L267.8 283.0L259.5 289.0L239.4 295.0L225.0 296.0L225.0 312.7L237.0 314.6L218.0 322.0L216.9 331.7L208.6 339.3L177.8 339.3L163.5 335.0L149.3 329.0L122.0 326.0L122.0 305.0L129.2 303.0L129.2 282.0L124.4 269.0L109.0 266.5L109.0 256.0L137.5 242.8L137.5 227.4L122.0 223.4L142.0 225.0L149.3 229.8L163.5 222.7L175.4 218.0ZM350.4 223.3L356.3 226.3L368.1 225.6L371.9 220.4L376.3 220.4L384.4 224.1L388.9 227.0L388.9 234.4L391.9 238.1L421.5 238.1L430.4 233.0L434.0 233.0L442.2 240.4L443.0 258.0L448.0 268.5L451.0 273.0L451.0 281.9L442.2 282.6L434.8 290.7L434.8 296.7L418.5 298.1L409.6 304.0L409.6 313.0L417.0 320.4L430.4 320.4L438.5 313.0L438.5 307.8L442.2 310.0L454.0 310.7L449.6 313.0L440.0 317.4L436.3 324.8L427.4 328.5L418.5 328.5L417.0 324.0L396.3 324.0L386.0 326.3L375.6 326.3L362.2 320.4L348.9 313.0L347.4 307.0L343.0 304.0L347.4 298.0L346.7 278.9L337.8 274.4L334.0 271.5L335.6 265.6L330.4 264.0L335.6 261.0L343.0 249.3L343.0 245.6L334.8 245.6L340.7 243.3L350.4 240.4Z"/><rect x="642.0" y="53.0" width="609.0" height="377.0" fill="#a50026"/><clipPath id="ncb"><path d="M680.0 78.5L817.0 78.5L820.0 75.5L826.0 75.5L829.0 78.5L860.0 78.5L863.0 75.5L869.0 75.5L872.0 78.5L996.0 78.5L999.0 81.5L1005.0 81.5L1008.0 78.5L1033.0 78.5L1036.0 81.5L1042.0 81.5L1045.0 78.5L1109.0 78.5L1112.0 81.5L1118.0 81.5L1121.0 78.5L1210.0 78.5L1218.0 86.5L1218.0 164.5L1215.0 167.5L1215.0 173.5L1218.0 176.5L1218.0 212.5L1215.0 215.5L1215.0 221.5L1218.0 224.5L1218.0 277.5L1215.0 280.5L1215.0 286.5L1218.0 289.5L1218.0 322.5L1221.0 325.5L1221.0 331.5L1218.0 334.5L1218.0 368.5L1215.0 371.5L1215.0 377.5L1218.0 380.5L1218.0 399.0L1210.0 407.0L1185.0 407.0L1182.0 404.0L1176.0 404.0L1173.0 407.0L1109.0 407.0L1106.0 410.0L1100.0 410.0L1097.0 407.0L1032.0 407.0L1029.0 410.0L1023.0 410.0L1020.0 407.0L932.0 407.0L929.0 404.0L923.0 404.0L920.0 407.0L887.0 407.0L884.0 410.0L878.0 410.0L875.0 407.0L797.0 407.0L794.0 410.0L788.0 410.0L785.0 407.0L718.0 407.0L715.0 404.0L709.0 404.0L706.0 407.0L680.0 407.0L672.0 399.0L672.0 373.0L675.0 370.0L675.0 364.0L672.0 361.0L672.0 332.0L669.0 329.0L669.0 323.0L672.0 320.0L672.0 291.0L675.0 288.0L675.0 282.0L672.0 279.0L672.0 226.0L675.0 223.0L675.0 217.0L672.0 214.0L672.0 132.0L675.0 129.0L675.0 123.0L672.0 120.0L672.0 86.5Z"/></clipPath><g clip-path="url(#ncb)"><g filter="url(#nb)" shape-rendering="crispEdges"><path fill="#c41e27" d="M680 78h16v4h-16zm36 0h56v4h-56zm68 0h16v4h-16zm32 0h4v4h-4zm16 0h28v4h-28zm32 0h24v4h-24zm28 0h32v4h-32zm36 0h40v4h-40zm48 0h16v4h-16zm40 0h12v4h-12zm32 0h8v4h-8zm16 0h4v4h-4zm8 0h4v4h-4zm52 0h24v4h-24zm52 0h12v4h-12zm-500 4h24v4h-24zm40 0h56v4h-56zm68 0h4v4h-4zm8 0h8v4h-8zm32 0h12v4h-12zm20 0h20v4h-20zm24 0h56v4h-56zm64 0h16v4h-16zm20 0h16v4h-16zm24 0h16v4h-16zm32 0h20v4h-20zm48 0h12v4h-12zm16 0h24v4h-24zm48 0h24v4h-24zm56 0h12v4h-12zm24 0h4v4h-4zm-524 4h20v4h-20zm36 0h56v4h-56zm64 0h4v4h-4zm44 0h12v4h-12zm20 0h20v4h-20zm24 0h60v4h-60zm68 0h16v4h-16zm20 0h36v4h-36zm48 0h16v4h-16zm20 0h12v4h-12zm24 0h4v4h-4zm12 0h16v4h-16zm32 0h12v4h-12zm32 0h28v4h-28zm40 0h52v4h-52zm-476 4h4v4h-4zm24 0h24v4h-24zm28 0h16v4h-16zm20 0h4v4h-4zm16 0h4v4h-4zm28 0h4v4h-4zm16 0h48v4h-48zm52 0h4v4h-4zm8 0h28v4h-28zm32 0h40v4h-40zm44 0h36v4h-36zm44 0h20v4h-20zm28 0h8v4h-8zm24 0h24v4h-24zm36 0h20v4h-20zm36 0h36v4h-36zm40 0h44v4h-44zm56 0h4v4h-4zm-504 4h24v4h-24zm28 0h4v4h-4zm8 0h4v4h-4zm20 0h4v4h-4zm16 0h4v4h-4zm8 0h4v4h-4zm12 0h4v4h-4zm8 0h52v4h-52zm56 0h24v4h-24zm28 0h8v4h-8zm12 0h4v4h-4zm12 0h4v4h-4zm8 0h52v4h-52zm68 0h20v4h-20zm24 0h16v4h-16zm28 0h24v4h-24zm36 0h20v4h-20zm52 0h48v4h-48zm56 0h12v4h-12zm16 0h4v4h-4zm-492 4h28v4h-28zm48 0h16v4h-16zm24 0h8v4h-8zm16 0h8v4h-8zm12 0h76v4h-76zm92 0h76v4h-76zm88 0h20v4h-20zm24 0h16v4h-16zm20 0h8v4h-8zm12 0h20v4h-20zm32 0h24v4h-24zm44 0h20v4h-20zm28 0h28v4h-28zm36 0h24v4h-24zm-520 4h4v4h-4zm16 0h4v4h-4zm20 0h4v4h-4zm8 0h28v4h-28zm36 0h4v4h-4zm8 0h120v4h-120zm132 0h4v4h-4zm24 0h76v4h-76zm80 0h20v4h-20zm24 0h16v4h-16zm20 0h36v4h-36zm44 0h20v4h-20zm28 0h8v4h-8zm16 0h4v4h-4zm8 0h8v4h-8zm16 0h64v4h-64zm-476 4h16v4h-16zm32 0h36v4h-36zm40 0h4v4h-4zm12 0h12v4h-12zm28 0h32v4h-32zm36 0h20v4h-20zm24 0h32v4h-32zm36 0h16v4h-16zm24 0h4v4h-4zm16 0h68v4h-68zm76 0h16v4h-16zm24 0h36v4h-36zm52 0h44v4h-44zm52 0h4v4h-4zm16 0h28v4h-28zm36 0h40v4h-40zm-504 4h16v4h-16zm32 0h4v4h-4zm16 0h36v4h-36zm44 0h8v4h-8zm16 0h4v4h-4zm12 0h48v4h-48zm56 0h52v4h-52zm56 0h60v4h-60zm68 0h20v4h-20zm32 0h52v4h-52zm56 0h8v4h-8zm16 0h4v4h-4zm8 0h20v4h-20zm24 0h16v4h-16zm28 0h32v4h-32zm44 0h36v4h-36zm-508 4h20v4h-20zm44 0h44v4h-44zm48 0h8v4h-8zm20 0h52v4h-52zm64 0h28v4h-28zm32 0h36v4h-36zm40 0h76v4h-76zm84 0h8v4h-8zm16 0h28v4h-28zm40 0h12v4h-12zm24 0h20v4h-20zm28 0h52v4h-52zm56 0h8v4h-8zm16 0h32v4h-32zm-508 4h24v4h-24zm32 0h64v4h-64zm76 0h36v4h-36zm44 0h8v4h-8zm28 0h24v4h-24zm28 0h32v4h-32zm40 0h88v4h-88zm92 0h20v4h-20zm24 0h8v4h-8zm16 0h40v4h-40zm48 0h28v4h-28zm36 0h16v4h-16zm28 0h8v4h-8zm20 0h28v4h-28zm-512 4h28v4h-28zm32 0h64v4h-64zm76 0h32v4h-32zm36 0h20v4h-20zm28 0h28v4h-28zm36 0h32v4h-32zm36 0h68v4h-68zm76 0h40v4h-40zm44 0h8v4h-8zm16 0h36v4h-36zm44 0h32v4h-32zm40 0h20v4h-20zm24 0h12v4h-12zm20 0h4v4h-4zm12 0h20v4h-20zm-520 4h28v4h-28zm36 0h56v4h-56zm68 0h8v4h-8zm12 0h4v4h-4zm8 0h44v4h-44zm48 0h64v4h-64zm68 0h36v4h-36zm44 0h28v4h-28zm40 0h36v4h-36zm40 0h8v4h-8zm12 0h20v4h-20zm28 0h12v4h-12zm16 0h32v4h-32zm36 0h4v4h-4zm8 0h4v4h-4zm8 0h16v4h-16zm24 0h20v4h-20zm28 0h8v4h-8zm12 0h4v4h-4zm-536 4h12v4h-12zm16 0h76v4h-76zm88 0h88v4h-88zm92 0h80v4h-80zm88 0h72v4h-72zm88 0h24v4h-24zm36 0h8v4h-8zm12 0h32v4h-32zm36 0h32v4h-32zm40 0h40v4h-40zm-484 4h64v4h-64zm68 0h20v4h-20zm32 0h76v4h-76zm80 0h116v4h-116zm120 0h44v4h-44zm60 0h20v4h-20zm32 0h8v4h-8zm20 0h24v4h-24zm32 0h28v4h-28zm44 0h40v4h-40zm-508 4h4v4h-4zm8 0h8v4h-8zm12 0h52v4h-52zm56 0h36v4h-36zm44 0h76v4h-76zm80 0h68v4h-68zm76 0h4v4h-4zm8 0h40v4h-40zm44 0h48v4h-48zm56 0h16v4h-16zm24 0h12v4h-12zm24 0h4v4h-4zm16 0h8v4h-8zm20 0h24v4h-24zm32 0h44v4h-44zm-492 4h188v4h-188zm196 0h40v4h-40zm48 0h72v4h-72zm76 0h40v4h-40zm44 0h4v4h-4zm12 0h12v4h-12zm24 0h8v4h-8zm16 0h4v4h-4zm8 0h4v4h-4zm12 0h8v4h-8zm16 0h12v4h-12zm20 0h64v4h-64zm-476 4h124v4h-124zm128 0h48v4h-48zm56 0h12v4h-12zm16 0h40v4h-40zm48 0h4v4h-4zm8 0h60v4h-60zm68 0h40v4h-40zm56 0h8v4h-8zm20 0h12v4h-12zm16 0h12v4h-12zm24 0h4v4h-4zm16 0h52v4h-52zm56 0h28v4h-28zm-516 4h4v4h-4zm8 0h112v4h-112zm124 0h52v4h-52zm56 0h8v4h-8zm16 0h48v4h-48zm56 0h12v4h-12zm16 0h40v4h-40zm44 0h36v4h-36zm48 0h8v4h-8zm16 0h4v4h-4zm20 0h24v4h-24zm36 0h12v4h-12zm16 0h4v4h-4zm8 0h32v4h-32zm40 0h12v4h-12zm16 0h28v4h-28zm-520 4h120v4h-120zm128 0h60v4h-60zm72 0h56v4h-56zm60 0h48v4h-48zm52 0h4v4h-4zm8 0h24v4h-24zm48 0h16v4h-16zm28 0h4v4h-4zm20 0h12v4h-12zm20 0h60v4h-60zm68 0h44v4h-44zm-504 4h112v4h-112zm128 0h8v4h-8zm12 0h48v4h-48zm56 0h32v4h-32zm36 0h84v4h-84zm88 0h24v4h-24zm28 0h52v4h-52zm64 0h8v4h-8zm12 0h48v4h-48zm52 0h36v4h-36zm52 0h20v4h-20zm-524 4h48v4h-48zm52 0h52v4h-52zm64 0h20v4h-20zm28 0h56v4h-56zm60 0h108v4h-108zm116 0h76v4h-76zm80 0h4v4h-4zm20 0h88v4h-88zm96 0h4v4h-4zm16 0h4v4h-4zm-536 4h56v4h-56zm64 0h64v4h-64zm84 0h36v4h-36zm48 0h4v4h-4zm12 0h60v4h-60zm64 0h16v4h-16zm20 0h28v4h-28zm36 0h124v4h-124zm128 0h56v4h-56zm76 0h8v4h-8zm-532 4h8v4h-8zm12 0h44v4h-44zm48 0h72v4h-72zm84 0h20v4h-20zm24 0h16v4h-16zm24 0h80v4h-80zm88 0h4v4h-4zm12 0h28v4h-28zm36 0h116v4h-116zm124 0h12v4h-12zm16 0h12v4h-12zm16 0h28v4h-28zm44 0h12v4h-12zm-528 4h56v4h-56zm60 0h72v4h-72zm88 0h12v4h-12zm20 0h4v4h-4zm12 0h4v4h-4zm12 0h16v4h-16zm40 0h40v4h-40zm44 0h4v4h-4zm16 0h88v4h-88zm96 0h72v4h-72zm92 0h28v4h-28zm48 0h12v4h-12zm-528 4h4v4h-4zm8 0h56v4h-56zm68 0h56v4h-56zm68 0h4v4h-4zm12 0h4v4h-4zm12 0h4v4h-4zm12 0h32v4h-32zm44 0h60v4h-60zm68 0h64v4h-64zm68 0h20v4h-20zm28 0h16v4h-16zm20 0h52v4h-52zm72 0h32v4h-32zm48 0h20v4h-20zm-528 4h36v4h-36zm40 0h28v4h-28zm32 0h60v4h-60zm68 0h8v4h-8zm20 0h8v4h-8zm24 0h36v4h-36zm44 0h80v4h-80zm84 0h36v4h-36zm52 0h12v4h-12zm28 0h8v4h-8zm20 0h44v4h-44zm60 0h16v4h-16zm20 0h28v4h-28zm40 0h16v4h-16zm-532 4h20v4h-20zm24 0h12v4h-12zm16 0h32v4h-32zm36 0h4v4h-4zm8 0h20v4h-20zm24 0h44v4h-44zm52 0h12v4h-12zm28 0h4v4h-4zm8 0h24v4h-24zm28 0h68v4h-68zm72 0h48v4h-48zm68 0h12v4h-12zm16 0h4v4h-4zm32 0h108v4h-108zm120 0h8v4h-8zm12 0h4v4h-4zm-544 4h64v4h-64zm68 0h12v4h-12zm20 0h8v4h-8zm16 0h52v4h-52zm60 0h8v4h-8zm12 0h12v4h-12zm20 0h20v4h-20zm24 0h28v4h-28zm32 0h40v4h-40zm44 0h48v4h-48zm60 0h8v4h-8zm16 0h8v4h-8zm12 0h140v4h-140zm152 0h4v4h-4zm8 0h4v4h-4zm-544 4h12v4h-12zm20 0h40v4h-40zm48 0h28v4h-28zm32 0h40v4h-40zm48 0h8v4h-8zm28 0h8v4h-8zm24 0h52v4h-52zm56 0h12v4h-12zm20 0h76v4h-76zm80 0h4v4h-4zm32 0h24v4h-24zm28 0h104v4h-104zm124 0h8v4h-8zm-536 4h8v4h-8zm16 0h48v4h-48zm60 0h12v4h-12zm20 0h44v4h-44zm48 0h48v4h-48zm52 0h64v4h-64zm80 0h92v4h-92zm104 0h20v4h-20zm28 0h4v4h-4zm12 0h8v4h-8zm16 0h4v4h-4zm8 0h28v4h-28zm32 0h40v4h-40zm44 0h24v4h-24zm-520 4h12v4h-12zm28 0h4v4h-4zm20 0h8v4h-8zm12 0h4v4h-4zm8 0h4v4h-4zm8 0h8v4h-8zm12 0h56v4h-56zm60 0h116v4h-116zm124 0h20v4h-20zm24 0h72v4h-72zm80 0h24v4h-24zm32 0h4v4h-4zm12 0h48v4h-48zm60 0h64v4h-64zm-476 4h24v4h-24zm32 0h4v4h-4zm12 0h36v4h-36zm40 0h56v4h-56zm64 0h116v4h-116zm124 0h40v4h-40zm48 0h92v4h-92zm96 0h44v4h-44zm64 0h4v4h-4zm8 0h52v4h-52zm-472 4h4v4h-4zm16 0h116v4h-116zm124 0h156v4h-156zm160 0h56v4h-56zm60 0h84v4h-84zm104 0h44v4h-44zm48 0h8v4h-8zm-520 4h4v4h-4zm8 0h4v4h-4zm16 0h20v4h-20zm24 0h48v4h-48zm52 0h40v4h-40zm48 0h236v4h-236zm240 0h4v4h-4zm12 0h36v4h-36zm72 0h48v4h-48zm-472 4h20v4h-20zm24 0h56v4h-56zm128 0h8v4h-8zm16 0h200v4h-200zm204 0h8v4h-8zm16 0h8v4h-8zm12 0h40v4h-40zm48 0h4v4h-4zm8 0h24v4h-24zm28 0h4v4h-4zm8 0h32v4h-32zm-492 4h80v4h-80zm88 0h4v4h-4zm92 0h188v4h-188zm192 0h108v4h-108zm112 0h40v4h-40zm-484 4h64v4h-64zm192 0h16v4h-16zm24 0h312v4h-312zm-220 4h64v4h-64zm196 0h20v4h-20zm28 0h168v4h-168zm176 0h32v4h-32zm48 0h24v4h-24zm28 0h40v4h-40zm44 0h12v4h-12zm-532 4h76v4h-76zm208 0h228v4h-228zm240 0h4v4h-4zm12 0h24v4h-24zm32 0h12v4h-12zm16 0h28v4h-28zm-508 4h68v4h-68zm208 0h60v4h-60zm68 0h44v4h-44zm48 0h4v4h-4zm12 0h16v4h-16zm52 0h48v4h-48zm56 0h28v4h-28zm32 0h12v4h-12zm16 0h8v4h-8zm24 0h16v4h-16zm28 0h4v4h-4zm-544 4h68v4h-68zm204 0h64v4h-64zm72 0h48v4h-48zm60 0h4v4h-4zm56 0h44v4h-44zm48 0h24v4h-24zm36 0h16v4h-16zm20 0h8v4h-8zm24 0h12v4h-12zm20 0h8v4h-8zm-540 4h52v4h-52zm56 0h12v4h-12zm148 0h8v4h-8zm12 0h24v4h-24zm28 0h72v4h-72zm160 0h64v4h-64zm68 0h24v4h-24zm28 0h12v4h-12zm20 0h12v4h-12zm20 0h8v4h-8zm-536 4h4v4h-4zm8 0h40v4h-40zm44 0h8v4h-8zm148 0h8v4h-8zm12 0h96v4h-96zm196 0h80v4h-80zm88 0h12v4h-12zm16 0h16v4h-16zm20 0h12v4h-12zm-520 4h32v4h-32zm40 0h8v4h-8zm160 0h88v4h-88zm196 0h88v4h-88zm92 0h28v4h-28zm36 0h8v4h-8zm-524 4h16v4h-16zm20 0h12v4h-12zm176 0h92v4h-92zm204 0h84v4h-84zm92 0h28v4h-28zm-504 4h8v4h-8zm12 0h12v4h-12zm20 0h8v4h-8zm172 0h56v4h-56zm60 0h32v4h-32zm152 0h68v4h-68zm72 0h44v4h-44zm-492 4h44v4h-44zm208 0h56v4h-56zm60 0h32v4h-32zm148 0h24v4h-24zm28 0h44v4h-44zm60 0h28v4h-28zm-504 4h36v4h-36zm48 0h4v4h-4zm164 0h20v4h-20zm28 0h20v4h-20zm28 0h28v4h-28zm152 0h76v4h-76zm88 0h20v4h-20zm-508 4h36v4h-36zm48 0h4v4h-4zm20 0h8v4h-8zm144 0h12v4h-12zm32 0h44v4h-44zm56 0h4v4h-4zm128 0h8v4h-8zm12 0h84v4h-84zm-428 4h20v4h-20zm36 0h8v4h-8zm168 0h8v4h-8zm24 0h52v4h-52zm184 0h4v4h-4zm8 0h24v4h-24zm28 0h24v4h-24zm28 0h4v4h-4zm12 0h8v4h-8zm20 0h16v4h-16zm-504 4h32v4h-32zm180 0h32v4h-32zm36 0h44v4h-44zm48 0h12v4h-12zm144 0h52v4h-52zm56 0h12v4h-12zm20 0h4v4h-4zm24 0h4v4h-4zm-516 4h40v4h-40zm64 0h8v4h-8zm128 0h44v4h-44zm52 0h4v4h-4zm12 0h12v4h-12zm16 0h12v4h-12zm140 0h16v4h-16zm20 0h16v4h-16zm20 0h12v4h-12zm16 0h28v4h-28zm44 0h8v4h-8zm12 0h4v4h-4zm-524 4h24v4h-24zm32 0h8v4h-8zm28 0h12v4h-12zm132 0h56v4h-56zm60 0h16v4h-16zm20 0h16v4h-16zm24 0h4v4h-4zm116 0h12v4h-12zm28 0h8v4h-8zm16 0h4v4h-4zm8 0h4v4h-4zm8 0h24v4h-24zm32 0h8v4h-8zm20 0h4v4h-4zm-528 4h24v4h-24zm44 0h16v4h-16zm20 0h12v4h-12zm128 0h60v4h-60zm64 0h16v4h-16zm20 0h28v4h-28zm136 0h20v4h-20zm24 0h20v4h-20zm28 0h32v4h-32zm40 0h20v4h-20zm36 0h4v4h-4zm-540 4h24v4h-24zm28 0h8v4h-8zm16 0h16v4h-16zm20 0h12v4h-12zm124 0h64v4h-64zm68 0h12v4h-12zm16 0h32v4h-32zm144 0h12v4h-12zm20 0h4v4h-4zm8 0h12v4h-12zm20 0h32v4h-32zm36 0h28v4h-28zm40 0h4v4h-4zm-536 4h4v4h-4zm8 0h24v4h-24zm28 0h16v4h-16zm28 0h4v4h-4zm128 0h32v4h-32zm36 0h12v4h-12zm32 0h8v4h-8zm12 0h28v4h-28zm136 0h4v4h-4zm20 0h20v4h-20zm32 0h32v4h-32zm36 0h44v4h-44zm-496 4h4v4h-4zm12 0h44v4h-44zm48 0h12v4h-12zm136 0h28v4h-28zm32 0h12v4h-12zm20 0h4v4h-4zm24 0h28v4h-28zm156 0h20v4h-20zm24 0h12v4h-12zm16 0h20v4h-20zm28 0h44v4h-44zm-496 4h72v4h-72zm196 0h24v4h-24zm32 0h12v4h-12zm16 0h16v4h-16zm24 0h32v4h-32zm148 0h4v4h-4zm12 0h20v4h-20zm40 0h8v4h-8zm12 0h8v4h-8zm20 0h16v4h-16zm32 0h8v4h-8zm-540 4h80v4h-80zm204 0h24v4h-24zm32 0h72v4h-72zm200 0h20v4h-20zm52 0h8v4h-8zm16 0h44v4h-44zm-504 4h20v4h-20zm24 0h36v4h-36zm40 0h20v4h-20zm144 0h24v4h-24zm32 0h68v4h-68zm180 0h12v4h-12zm24 0h8v4h-8zm24 0h12v4h-12zm16 0h64v4h-64zm-484 4h20v4h-20zm28 0h32v4h-32zm36 0h20v4h-20zm144 0h28v4h-28zm32 0h68v4h-68zm176 0h20v4h-20zm24 0h20v4h-20zm24 0h12v4h-12zm20 0h20v4h-20zm24 0h40v4h-40zm-508 4h16v4h-16zm36 0h24v4h-24zm28 0h20v4h-20zm144 0h100v4h-100zm192 0h80v4h-80zm88 0h16v4h-16zm20 0h40v4h-40zm-504 4h12v4h-12zm24 0h4v4h-4zm8 0h24v4h-24zm28 0h20v4h-20zm96 0h8v4h-8zm48 0h104v4h-104zm188 0h16v4h-16zm20 0h68v4h-68zm72 0h12v4h-12zm32 0h28v4h-28zm-520 4h20v4h-20zm24 0h12v4h-12zm24 0h12v4h-12zm16 0h28v4h-28zm40 0h4v4h-4zm32 0h4v4h-4zm28 0h4v4h-4zm44 0h100v4h-100zm136 0h8v4h-8zm28 0h12v4h-12zm24 0h16v4h-16zm24 0h80v4h-80zm88 0h8v4h-8zm16 0h24v4h-24zm-524 4h16v4h-16zm24 0h20v4h-20zm24 0h8v4h-8zm16 0h8v4h-8zm16 0h32v4h-32zm36 0h12v4h-12zm16 0h8v4h-8zm80 0h8v4h-8zm12 0h84v4h-84zm104 0h28v4h-28zm44 0h12v4h-12zm20 0h16v4h-16zm24 0h44v4h-44zm48 0h20v4h-20zm28 0h28v4h-28zm32 0h24v4h-24zm-488 4h16v4h-16zm24 0h20v4h-20zm24 0h44v4h-44zm48 0h8v4h-8zm16 0h4v4h-4zm68 0h48v4h-48zm52 0h12v4h-12zm16 0h28v4h-28zm36 0h4v4h-4zm8 0h28v4h-28zm40 0h40v4h-40zm44 0h48v4h-48zm56 0h12v4h-12zm32 0h20v4h-20zm24 0h24v4h-24zm-516 4h12v4h-12zm20 0h12v4h-12zm16 0h8v4h-8zm20 0h8v4h-8zm24 0h12v4h-12zm16 0h12v4h-12zm16 0h16v4h-16zm28 0h4v4h-4zm64 0h24v4h-24zm28 0h12v4h-12zm16 0h8v4h-8zm12 0h56v4h-56zm64 0h32v4h-32zm36 0h92v4h-92zm96 0h16v4h-16zm32 0h52v4h-52zm-496 4h4v4h-4zm12 0h28v4h-28zm36 0h4v4h-4zm16 0h8v4h-8zm12 0h4v4h-4zm12 0h20v4h-20zm32 0h4v4h-4zm68 0h8v4h-8zm24 0h20v4h-20zm28 0h40v4h-40zm48 0h40v4h-40zm44 0h32v4h-32zm44 0h80v4h-80zm96 0h4v4h-4zm20 0h56v4h-56zm-492 4h4v4h-4zm20 0h20v4h-20zm24 0h20v4h-20zm44 0h24v4h-24zm32 0h4v4h-4zm68 0h8v4h-8zm12 0h8v4h-8zm20 0h4v4h-4zm20 0h16v4h-16zm20 0h24v4h-24zm40 0h28v4h-28zm32 0h28v4h-28zm44 0h60v4h-60zm72 0h8v4h-8zm28 0h12v4h-12zm16 0h56v4h-56zm-464 4h4v4h-4zm16 0h32v4h-32zm40 0h24v4h-24zm36 0h12v4h-12zm44 0h4v4h-4zm24 0h8v4h-8zm16 0h24v4h-24zm32 0h40v4h-40zm52 0h12v4h-12zm16 0h8v4h-8zm16 0h12v4h-12zm16 0h24v4h-24zm36 0h40v4h-40zm48 0h12v4h-12zm28 0h8v4h-8zm16 0h4v4h-4zm8 0h36v4h-36zm40 0h36v4h-36zm-488 4h4v4h-4zm20 0h32v4h-32zm40 0h24v4h-24zm36 0h12v4h-12zm32 0h4v4h-4zm24 0h4v4h-4zm20 0h56v4h-56zm60 0h20v4h-20zm32 0h12v4h-12zm36 0h8v4h-8zm12 0h12v4h-12zm32 0h48v4h-48zm52 0h12v4h-12zm20 0h16v4h-16zm28 0h40v4h-40zm48 0h32v4h-32zm-492 4h4v4h-4zm8 0h4v4h-4zm8 0h28v4h-28zm36 0h8v4h-8zm16 0h24v4h-24zm60 0h4v4h-4zm12 0h8v4h-8zm20 0h4v4h-4zm12 0h40v4h-40zm44 0h8v4h-8zm12 0h24v4h-24zm40 0h12v4h-12zm20 0h12v4h-12zm24 0h8v4h-8zm36 0h64v4h-64zm68 0h24v4h-24zm28 0h72v4h-72zm-456 4h12v4h-12zm40 0h20v4h-20zm24 0h4v4h-4zm12 0h40v4h-40zm44 0h40v4h-40zm48 0h40v4h-40zm44 0h24v4h-24zm28 0h4v4h-4zm12 0h12v4h-12zm16 0h4v4h-4zm16 0h4v4h-4zm8 0h8v4h-8zm28 0h32v4h-32zm40 0h60v4h-60zm68 0h72v4h-72zm76 0h24v4h-24zm-504 4h20v4h-20zm32 0h36v4h-36zm44 0h56v4h-56zm60 0h24v4h-24zm28 0h20v4h-20zm24 0h16v4h-16zm24 0h24v4h-24zm28 0h40v4h-40zm44 0h4v4h-4zm8 0h12v4h-12zm24 0h100v4h-100zm108 0h12v4h-12zm16 0h12v4h-12zm24 0h16v4h-16zm20 0h44v4h-44zm-496 4h4v4h-4zm8 0h4v4h-4zm12 0h12v4h-12zm20 0h8v4h-8zm12 0h8v4h-8zm12 0h20v4h-20zm28 0h8v4h-8zm12 0h20v4h-20zm28 0h8v4h-8zm16 0h64v4h-64zm84 0h52v4h-52zm60 0h8v4h-8zm24 0h4v4h-4zm8 0h44v4h-44zm48 0h20v4h-20zm28 0h16v4h-16zm20 0h4v4h-4zm16 0h4v4h-4zm20 0h8v4h-8zm20 0h20v4h-20zm24 0h40v4h-40zm-500 4h60v4h-60zm68 0h16v4h-16zm40 0h16v4h-16zm44 0h68v4h-68zm76 0h36v4h-36zm44 0h28v4h-28zm32 0h20v4h-20zm24 0h60v4h-60zm72 0h16v4h-16zm20 0h28v4h-28zm36 0h52v4h-52zm56 0h4v4h-4zm12 0h16v4h-16zm-524 4h68v4h-68zm72 0h12v4h-12zm36 0h20v4h-20zm36 0h12v4h-12zm16 0h24v4h-24zm28 0h36v4h-36zm40 0h36v4h-36zm44 0h120v4h-120zm124 0h20v4h-20zm24 0h56v4h-56zm64 0h24v4h-24zm40 0h8v4h-8zm-520 4h88v4h-88zm92 0h8v4h-8zm12 0h12v4h-12zm16 0h4v4h-4zm12 0h20v4h-20zm28 0h16v4h-16zm20 0h20v4h-20zm24 0h16v4h-16zm28 0h12v4h-12zm16 0h16v4h-16zm20 0h144v4h-144zm148 0h16v4h-16zm32 0h8v4h-8zm12 0h12v4h-12zm20 0h16v4h-16zm44 0h8v4h-8zm-520 4h96v4h-96zm112 0h32v4h-32zm40 0h20v4h-20zm28 0h16v4h-16zm32 0h4v4h-4zm8 0h4v4h-4zm12 0h8v4h-8zm12 0h16v4h-16zm20 0h68v4h-68zm72 0h68v4h-68zm80 0h4v4h-4zm36 0h16v4h-16zm24 0h16v4h-16zm44 0h8v4h-8zm-516 4h24v4h-24zm52 0h28v4h-28zm32 0h4v4h-4zm24 0h20v4h-20zm36 0h24v4h-24zm32 0h28v4h-28zm32 0h4v4h-4zm20 0h8v4h-8zm20 0h8v4h-8zm16 0h8v4h-8zm20 0h48v4h-48zm60 0h4v4h-4zm12 0h24v4h-24zm40 0h4v4h-4zm52 0h16v4h-16zm32 0h4v4h-4zm24 0h4v4h-4zm16 0h4v4h-4zm-100 4h4v4h-4z"/><path fill="#de3f2e" d="M720 78h44v4h-44zm48 0h4v4h-4zm100 0h8v4h-8zm28 0h8v4h-8zm16 0h4v4h-4zm20 0h4v4h-4zm12 0h4v4h-4zm12 0h8v4h-8zm24 0h8v4h-8zm40 0h8v4h-8zm108 0h16v4h-16zm48 0h12v4h-12zm-496 4h20v4h-20zm40 0h44v4h-44zm128 0h12v4h-12zm20 0h16v4h-16zm24 0h28v4h-28zm44 0h8v4h-8zm16 0h16v4h-16zm24 0h12v4h-12zm44 0h8v4h-8zm60 0h4v4h-4zm48 0h12v4h-12zm52 0h4v4h-4zm-492 4h4v4h-4zm28 0h16v4h-16zm20 0h16v4h-16zm20 0h4v4h-4zm88 0h4v4h-4zm8 0h4v4h-4zm16 0h16v4h-16zm24 0h12v4h-12zm16 0h16v4h-16zm28 0h8v4h-8zm20 0h32v4h-32zm48 0h8v4h-8zm20 0h4v4h-4zm32 0h8v4h-8zm36 0h8v4h-8zm28 0h16v4h-16zm48 0h4v4h-4zm8 0h8v4h-8zm28 0h4v4h-4zm-488 4h12v4h-12zm24 0h4v4h-4zm80 0h12v4h-12zm16 0h24v4h-24zm44 0h4v4h-4zm32 0h12v4h-12zm24 0h8v4h-8zm16 0h8v4h-8zm12 0h20v4h-20zm36 0h12v4h-12zm48 0h4v4h-4zm8 0h12v4h-12zm32 0h12v4h-12zm32 0h8v4h-8zm20 0h8v4h-8zm32 0h12v4h-12zm20 0h8v4h-8zm-476 4h16v4h-16zm100 0h16v4h-16zm20 0h24v4h-24zm40 0h16v4h-16zm56 0h12v4h-12zm20 0h24v4h-24zm48 0h12v4h-12zm24 0h8v4h-8zm32 0h16v4h-16zm32 0h12v4h-12zm48 0h12v4h-12zm24 0h20v4h-20zm36 0h4v4h-4zm-476 4h12v4h-12zm72 0h4v4h-4zm12 0h4v4h-4zm12 0h16v4h-16zm20 0h24v4h-24zm32 0h20v4h-20zm48 0h12v4h-12zm16 0h12v4h-12zm16 0h28v4h-28zm52 0h12v4h-12zm24 0h8v4h-8zm32 0h12v4h-12zm32 0h8v4h-8zm48 0h8v4h-8zm24 0h20v4h-20zm36 0h12v4h-12zm-476 4h24v4h-24zm68 0h12v4h-12zm28 0h4v4h-4zm8 0h4v4h-4zm16 0h20v4h-20zm28 0h8v4h-8zm48 0h12v4h-12zm16 0h52v4h-52zm68 0h12v4h-12zm24 0h12v4h-12zm20 0h4v4h-4zm44 0h8v4h-8zm84 0h4v4h-4zm20 0h20v4h-20zm-484 4h8v4h-8zm16 0h20v4h-20zm84 0h8v4h-8zm20 0h16v4h-16zm24 0h24v4h-24zm76 0h44v4h-44zm48 0h16v4h-16zm48 0h12v4h-12zm20 0h12v4h-12zm36 0h12v4h-12zm36 0h4v4h-4zm36 0h8v4h-8zm32 0h32v4h-32zm-504 4h4v4h-4zm44 0h20v4h-20zm44 0h8v4h-8zm36 0h12v4h-12zm24 0h12v4h-12zm24 0h24v4h-24zm32 0h16v4h-16zm40 0h28v4h-28zm52 0h16v4h-16zm36 0h4v4h-4zm16 0h24v4h-24zm68 0h4v4h-4zm48 0h16v4h-16zm20 0h4v4h-4zm24 0h28v4h-28zm-508 4h8v4h-8zm44 0h12v4h-12zm20 0h16v4h-16zm48 0h4v4h-4zm8 0h16v4h-16zm32 0h4v4h-4zm28 0h20v4h-20zm32 0h12v4h-12zm20 0h4v4h-4zm16 0h4v4h-4zm8 0h16v4h-16zm28 0h8v4h-8zm12 0h20v4h-20zm32 0h8v4h-8zm20 0h12v4h-12zm16 0h4v4h-4zm44 0h8v4h-8zm28 0h12v4h-12zm24 0h4v4h-4zm8 0h12v4h-12zm44 0h28v4h-28zm-512 4h16v4h-16zm32 0h8v4h-8zm12 0h12v4h-12zm24 0h16v4h-16zm40 0h8v4h-8zm16 0h12v4h-12zm60 0h16v4h-16zm28 0h12v4h-12zm16 0h12v4h-12zm28 0h36v4h-36zm40 0h16v4h-16zm20 0h8v4h-8zm12 0h4v4h-4zm16 0h12v4h-12zm20 0h4v4h-4zm24 0h4v4h-4zm24 0h4v4h-4zm28 0h8v4h-8zm28 0h12v4h-12zm52 0h20v4h-20zm-520 4h24v4h-24zm32 0h8v4h-8zm24 0h4v4h-4zm8 0h20v4h-20zm24 0h8v4h-8zm40 0h8v4h-8zm48 0h24v4h-24zm36 0h12v4h-12zm44 0h20v4h-20zm28 0h28v4h-28zm40 0h12v4h-12zm24 0h8v4h-8zm16 0h4v4h-4zm16 0h16v4h-16zm60 0h8v4h-8zm32 0h8v4h-8zm56 0h4v4h-4zm8 0h4v4h-4zm-536 4h28v4h-28zm44 0h8v4h-8zm12 0h28v4h-28zm72 0h8v4h-8zm12 0h24v4h-24zm36 0h20v4h-20zm28 0h20v4h-20zm24 0h4v4h-4zm16 0h24v4h-24zm40 0h24v4h-24zm44 0h28v4h-28zm48 0h8v4h-8zm12 0h4v4h-4zm36 0h12v4h-12zm52 0h4v4h-4zm8 0h4v4h-4zm24 0h4v4h-4zm-492 4h12v4h-12zm28 0h32v4h-32zm64 0h4v4h-4zm12 0h20v4h-20zm24 0h20v4h-20zm28 0h16v4h-16zm28 0h20v4h-20zm28 0h8v4h-8zm12 0h28v4h-28zm44 0h24v4h-24zm32 0h4v4h-4zm12 0h28v4h-28zm48 0h16v4h-16zm48 0h12v4h-12zm16 0h4v4h-4zm20 0h8v4h-8zm40 0h20v4h-20zm-484 4h12v4h-12zm16 0h32v4h-32zm52 0h16v4h-16zm32 0h24v4h-24zm28 0h40v4h-40zm52 0h24v4h-24zm32 0h12v4h-12zm16 0h4v4h-4zm8 0h16v4h-16zm32 0h24v4h-24zm32 0h4v4h-4zm12 0h20v4h-20zm48 0h16v4h-16zm64 0h4v4h-4zm20 0h8v4h-8zm12 0h8v4h-8zm28 0h4v4h-4zm8 0h28v4h-28zm-508 4h4v4h-4zm16 0h16v4h-16zm32 0h16v4h-16zm24 0h4v4h-4zm8 0h24v4h-24zm36 0h12v4h-12zm16 0h56v4h-56zm64 0h44v4h-44zm80 0h28v4h-28zm32 0h4v4h-4zm16 0h28v4h-28zm40 0h4v4h-4zm16 0h8v4h-8zm24 0h4v4h-4zm36 0h4v4h-4zm32 0h12v4h-12zm36 0h20v4h-20zm-496 4h4v4h-4zm20 0h12v4h-12zm24 0h8v4h-8zm16 0h28v4h-28zm52 0h48v4h-48zm56 0h8v4h-8zm20 0h4v4h-4zm12 0h20v4h-20zm40 0h8v4h-8zm16 0h4v4h-4zm12 0h16v4h-16zm24 0h8v4h-8zm16 0h36v4h-36zm104 0h4v4h-4zm36 0h4v4h-4zm12 0h12v4h-12zm16 0h12v4h-12zm20 0h16v4h-16zm-500 4h12v4h-12zm20 0h20v4h-20zm48 0h36v4h-36zm52 0h12v4h-12zm20 0h20v4h-20zm32 0h8v4h-8zm28 0h24v4h-24zm48 0h4v4h-4zm16 0h20v4h-20zm28 0h4v4h-4zm32 0h12v4h-12zm68 0h4v4h-4zm60 0h4v4h-4zm12 0h12v4h-12zm20 0h4v4h-4zm24 0h8v4h-8zm-512 4h44v4h-44zm48 0h8v4h-8zm12 0h44v4h-44zm64 0h4v4h-4zm12 0h8v4h-8zm12 0h20v4h-20zm48 0h28v4h-28zm56 0h4v4h-4zm16 0h12v4h-12zm16 0h16v4h-16zm28 0h4v4h-4zm12 0h4v4h-4zm108 0h4v4h-4zm24 0h24v4h-24zm40 0h4v4h-4zm12 0h20v4h-20zm-512 4h60v4h-60zm64 0h44v4h-44zm56 0h8v4h-8zm16 0h36v4h-36zm64 0h16v4h-16zm28 0h16v4h-16zm28 0h12v4h-12zm20 0h8v4h-8zm16 0h4v4h-4zm24 0h16v4h-16zm48 0h8v4h-8zm68 0h12v4h-12zm16 0h16v4h-16zm52 0h4v4h-4zm24 0h8v4h-8zm12 0h4v4h-4zm-540 4h20v4h-20zm28 0h20v4h-20zm28 0h28v4h-28zm68 0h4v4h-4zm20 0h32v4h-32zm36 0h4v4h-4zm16 0h4v4h-4zm8 0h12v4h-12zm28 0h16v4h-16zm24 0h20v4h-20zm28 0h4v4h-4zm12 0h4v4h-4zm28 0h12v4h-12zm44 0h20v4h-20zm44 0h4v4h-4zm12 0h8v4h-8zm12 0h12v4h-12zm16 0h12v4h-12zm20 0h8v4h-8zm16 0h4v4h-4zm36 0h8v4h-8zm-520 4h16v4h-16zm32 0h12v4h-12zm24 0h20v4h-20zm28 0h12v4h-12zm60 0h28v4h-28zm32 0h4v4h-4zm28 0h12v4h-12zm24 0h16v4h-16zm28 0h4v4h-4zm32 0h8v4h-8zm12 0h8v4h-8zm24 0h4v4h-4zm8 0h8v4h-8zm16 0h44v4h-44zm72 0h24v4h-24zm28 0h16v4h-16zm20 0h8v4h-8zm12 0h20v4h-20zm-484 4h4v4h-4zm8 0h8v4h-8zm28 0h12v4h-12zm24 0h20v4h-20zm24 0h16v4h-16zm64 0h4v4h-4zm16 0h12v4h-12zm44 0h24v4h-24zm32 0h20v4h-20zm36 0h4v4h-4zm16 0h20v4h-20zm44 0h56v4h-56zm64 0h12v4h-12zm20 0h16v4h-16zm36 0h4v4h-4zm8 0h4v4h-4zm12 0h4v4h-4zm12 0h16v4h-16zm-492 4h8v4h-8zm16 0h32v4h-32zm52 0h56v4h-56zm80 0h12v4h-12zm20 0h12v4h-12zm28 0h4v4h-4zm12 0h4v4h-4zm16 0h12v4h-12zm20 0h20v4h-20zm52 0h24v4h-24zm52 0h16v4h-16zm24 0h8v4h-8zm24 0h4v4h-4zm8 0h16v4h-16zm20 0h4v4h-4zm8 0h12v4h-12zm60 0h16v4h-16zm40 0h4v4h-4zm-524 4h44v4h-44zm76 0h32v4h-32zm68 0h8v4h-8zm44 0h8v4h-8zm48 0h24v4h-24zm52 0h24v4h-24zm32 0h28v4h-28zm64 0h12v4h-12zm16 0h12v4h-12zm24 0h8v4h-8zm52 0h20v4h-20zm48 0h4v4h-4zm-520 4h24v4h-24zm28 0h12v4h-12zm48 0h28v4h-28zm32 0h8v4h-8zm68 0h4v4h-4zm8 0h8v4h-8zm36 0h8v4h-8zm12 0h36v4h-36zm48 0h16v4h-16zm20 0h4v4h-4zm16 0h16v4h-16zm36 0h8v4h-8zm28 0h8v4h-8zm20 0h12v4h-12zm20 0h12v4h-12zm16 0h8v4h-8zm44 0h16v4h-16zm-492 4h4v4h-4zm24 0h4v4h-4zm20 0h20v4h-20zm52 0h8v4h-8zm12 0h20v4h-20zm36 0h4v4h-4zm52 0h20v4h-20zm32 0h56v4h-56zm68 0h8v4h-8zm32 0h12v4h-12zm36 0h8v4h-8zm52 0h8v4h-8zm16 0h12v4h-12zm60 0h20v4h-20zm52 0h4v4h-4zm-544 4h12v4h-12zm56 0h8v4h-8zm56 0h16v4h-16zm20 0h4v4h-4zm8 0h8v4h-8zm24 0h4v4h-4zm36 0h4v4h-4zm12 0h4v4h-4zm16 0h12v4h-12zm24 0h36v4h-36zm48 0h4v4h-4zm12 0h20v4h-20zm56 0h4v4h-4zm64 0h16v4h-16zm48 0h4v4h-4zm12 0h24v4h-24zm44 0h4v4h-4zm-536 4h12v4h-12zm40 0h16v4h-16zm48 0h8v4h-8zm24 0h20v4h-20zm28 0h8v4h-8zm40 0h4v4h-4zm44 0h20v4h-20zm40 0h24v4h-24zm48 0h28v4h-28zm44 0h4v4h-4zm60 0h104v4h-104zm-412 4h4v4h-4zm24 0h28v4h-28zm44 0h4v4h-4zm32 0h12v4h-12zm16 0h12v4h-12zm32 0h4v4h-4zm52 0h12v4h-12zm24 0h20v4h-20zm52 0h16v4h-16zm24 0h8v4h-8zm16 0h28v4h-28zm72 0h12v4h-12zm32 0h8v4h-8zm20 0h28v4h-28zm40 0h32v4h-32zm56 0h8v4h-8zm-512 4h8v4h-8zm24 0h4v4h-4zm12 0h4v4h-4zm16 0h4v4h-4zm28 0h32v4h-32zm48 0h8v4h-8zm20 0h8v4h-8zm28 0h48v4h-48zm52 0h4v4h-4zm28 0h12v4h-12zm16 0h56v4h-56zm88 0h12v4h-12zm60 0h24v4h-24zm36 0h36v4h-36zm56 0h8v4h-8zm-532 4h8v4h-8zm44 0h4v4h-4zm44 0h4v4h-4zm12 0h36v4h-36zm48 0h12v4h-12zm16 0h24v4h-24zm32 0h40v4h-40zm44 0h8v4h-8zm36 0h8v4h-8zm16 0h20v4h-20zm36 0h20v4h-20zm24 0h12v4h-12zm24 0h16v4h-16zm40 0h20v4h-20zm24 0h12v4h-12zm16 0h8v4h-8zm24 0h4v4h-4zm8 0h24v4h-24zm36 0h4v4h-4zm8 0h8v4h-8zm-468 4h4v4h-4zm8 0h4v4h-4zm12 0h52v4h-52zm64 0h40v4h-40zm48 0h52v4h-52zm56 0h4v4h-4zm24 0h12v4h-12zm24 0h8v4h-8zm24 0h12v4h-12zm16 0h4v4h-4zm16 0h8v4h-8zm20 0h16v4h-16zm44 0h28v4h-28zm72 0h20v4h-20zm36 0h8v4h-8zm-456 4h4v4h-4zm12 0h52v4h-52zm72 0h100v4h-100zm116 0h24v4h-24zm28 0h8v4h-8zm28 0h24v4h-24zm28 0h16v4h-16zm24 0h20v4h-20zm40 0h24v4h-24zm32 0h4v4h-4zm44 0h12v4h-12zm20 0h4v4h-4zm-484 4h12v4h-12zm36 0h12v4h-12zm28 0h4v4h-4zm32 0h4v4h-4zm32 0h100v4h-100zm104 0h96v4h-96zm100 0h12v4h-12zm16 0h8v4h-8zm28 0h4v4h-4zm8 0h28v4h-28zm84 0h16v4h-16zm-468 4h20v4h-20zm32 0h24v4h-24zm124 0h8v4h-8zm12 0h12v4h-12zm20 0h44v4h-44zm48 0h24v4h-24zm28 0h76v4h-76zm84 0h4v4h-4zm36 0h28v4h-28zm52 0h4v4h-4zm12 0h8v4h-8zm24 0h12v4h-12zm-476 4h16v4h-16zm40 0h20v4h-20zm132 0h12v4h-12zm24 0h36v4h-36zm44 0h104v4h-104zm112 0h4v4h-4zm12 0h12v4h-12zm16 0h4v4h-4zm8 0h28v4h-28zm32 0h4v4h-4zm8 0h4v4h-4zm8 0h24v4h-24zm36 0h32v4h-32zm-492 4h8v4h-8zm20 0h12v4h-12zm24 0h16v4h-16zm148 0h16v4h-16zm32 0h24v4h-24zm28 0h116v4h-116zm120 0h12v4h-12zm16 0h8v4h-8zm12 0h36v4h-36zm48 0h40v4h-40zm44 0h20v4h-20zm24 0h8v4h-8zm-508 4h8v4h-8zm12 0h16v4h-16zm20 0h16v4h-16zm156 0h12v4h-12zm28 0h12v4h-12zm28 0h132v4h-132zm148 0h24v4h-24zm44 0h24v4h-24zm36 0h20v4h-20zm-488 4h44v4h-44zm52 0h8v4h-8zm152 0h20v4h-20zm32 0h12v4h-12zm36 0h36v4h-36zm52 0h24v4h-24zm32 0h8v4h-8zm24 0h16v4h-16zm24 0h24v4h-24zm52 0h8v4h-8zm56 0h12v4h-12zm-520 4h24v4h-24zm28 0h24v4h-24zm32 0h4v4h-4zm156 0h12v4h-12zm16 0h20v4h-20zm28 0h4v4h-4zm20 0h36v4h-36zm60 0h8v4h-8zm52 0h44v4h-44zm56 0h4v4h-4zm32 0h4v4h-4zm16 0h4v4h-4zm24 0h12v4h-12zm24 0h4v4h-4zm-544 4h20v4h-20zm28 0h20v4h-20zm28 0h8v4h-8zm152 0h4v4h-4zm8 0h8v4h-8zm16 0h4v4h-4zm12 0h4v4h-4zm16 0h4v4h-4zm20 0h16v4h-16zm28 0h8v4h-8zm92 0h36v4h-36zm44 0h12v4h-12zm36 0h8v4h-8zm44 0h8v4h-8zm20 0h4v4h-4zm-540 4h4v4h-4zm28 0h16v4h-16zm24 0h8v4h-8zm148 0h8v4h-8zm16 0h4v4h-4zm12 0h4v4h-4zm20 0h4v4h-4zm12 0h4v4h-4zm16 0h32v4h-32zm128 0h40v4h-40zm48 0h8v4h-8zm20 0h16v4h-16zm28 0h8v4h-8zm40 0h4v4h-4zm-524 4h28v4h-28zm36 0h8v4h-8zm164 0h8v4h-8zm12 0h4v4h-4zm12 0h16v4h-16zm20 0h4v4h-4zm12 0h28v4h-28zm140 0h76v4h-76zm88 0h8v4h-8zm16 0h12v4h-12zm20 0h8v4h-8zm-520 4h16v4h-16zm196 0h48v4h-48zm56 0h32v4h-32zm148 0h72v4h-72zm96 0h16v4h-16zm28 0h4v4h-4zm-520 4h4v4h-4zm192 0h28v4h-28zm32 0h16v4h-16zm24 0h8v4h-8zm16 0h4v4h-4zm8 0h4v4h-4zm124 0h64v4h-64zm72 0h4v4h-4zm20 0h20v4h-20zm-492 4h4v4h-4zm192 0h52v4h-52zm60 0h4v4h-4zm12 0h16v4h-16zm136 0h20v4h-20zm24 0h16v4h-16zm20 0h16v4h-16zm32 0h4v4h-4zm12 0h24v4h-24zm-508 4h12v4h-12zm16 0h8v4h-8zm196 0h20v4h-20zm24 0h24v4h-24zm44 0h20v4h-20zm144 0h12v4h-12zm24 0h32v4h-32zm60 0h8v4h-8zm12 0h12v4h-12zm-520 4h16v4h-16zm28 0h4v4h-4zm216 0h4v4h-4zm28 0h4v4h-4zm8 0h4v4h-4zm148 0h8v4h-8zm20 0h16v4h-16zm24 0h12v4h-12zm40 0h8v4h-8zm-268 4h12v4h-12zm24 0h12v4h-12zm176 0h4v4h-4zm44 0h4v4h-4zm16 0h4v4h-4zm-488 4h12v4h-12zm200 0h4v4h-4zm28 0h36v4h-36zm40 0h4v4h-4zm156 0h12v4h-12zm24 0h8v4h-8zm-448 4h4v4h-4zm188 0h4v4h-4zm32 0h4v4h-4zm12 0h8v4h-8zm12 0h16v4h-16zm20 0h8v4h-8zm144 0h4v4h-4zm8 0h24v4h-24zm28 0h12v4h-12zm-428 4h4v4h-4zm8 0h8v4h-8zm176 0h12v4h-12zm16 0h12v4h-12zm36 0h4v4h-4zm16 0h4v4h-4zm136 0h8v4h-8zm44 0h4v4h-4zm20 0h8v4h-8zm16 0h4v4h-4zm-492 4h20v4h-20zm32 0h8v4h-8zm32 0h8v4h-8zm140 0h16v4h-16zm20 0h12v4h-12zm28 0h16v4h-16zm24 0h4v4h-4zm136 0h8v4h-8zm64 0h12v4h-12zm16 0h4v4h-4zm-492 4h16v4h-16zm44 0h8v4h-8zm20 0h4v4h-4zm140 0h44v4h-44zm48 0h12v4h-12zm24 0h12v4h-12zm136 0h8v4h-8zm28 0h4v4h-4zm8 0h4v4h-4zm16 0h24v4h-24zm40 0h8v4h-8zm-476 4h4v4h-4zm16 0h8v4h-8zm20 0h4v4h-4zm124 0h12v4h-12zm16 0h40v4h-40zm52 0h4v4h-4zm20 0h16v4h-16zm168 0h4v4h-4zm20 0h12v4h-12zm16 0h8v4h-8zm24 0h16v4h-16zm32 0h4v4h-4zm-524 4h8v4h-8zm12 0h8v4h-8zm16 0h12v4h-12zm168 0h12v4h-12zm24 0h8v4h-8zm44 0h16v4h-16zm156 0h4v4h-4zm36 0h20v4h-20zm28 0h28v4h-28zm40 0h4v4h-4zm-520 4h12v4h-12zm16 0h16v4h-16zm176 0h8v4h-8zm24 0h8v4h-8zm44 0h16v4h-16zm20 0h4v4h-4zm136 0h12v4h-12zm40 0h4v4h-4zm28 0h12v4h-12zm20 0h4v4h-4zm12 0h8v4h-8zm-516 4h8v4h-8zm12 0h20v4h-20zm32 0h8v4h-8zm140 0h16v4h-16zm32 0h8v4h-8zm16 0h8v4h-8zm28 0h16v4h-16zm20 0h4v4h-4zm132 0h16v4h-16zm76 0h12v4h-12zm32 0h4v4h-4zm-544 4h16v4h-16zm24 0h36v4h-36zm40 0h16v4h-16zm144 0h8v4h-8zm12 0h4v4h-4zm20 0h4v4h-4zm12 0h16v4h-16zm20 0h20v4h-20zm172 0h8v4h-8zm64 0h16v4h-16zm32 0h8v4h-8zm-540 4h16v4h-16zm28 0h32v4h-32zm44 0h8v4h-8zm140 0h4v4h-4zm8 0h12v4h-12zm32 0h16v4h-16zm24 0h16v4h-16zm212 0h12v4h-12zm20 0h36v4h-36zm-508 4h16v4h-16zm32 0h4v4h-4zm40 0h8v4h-8zm136 0h24v4h-24zm40 0h8v4h-8zm24 0h36v4h-36zm148 0h12v4h-12zm24 0h4v4h-4zm24 0h8v4h-8zm20 0h12v4h-12zm24 0h36v4h-36zm-508 4h8v4h-8zm36 0h20v4h-20zm28 0h12v4h-12zm140 0h20v4h-20zm36 0h36v4h-36zm44 0h20v4h-20zm112 0h4v4h-4zm20 0h16v4h-16zm24 0h20v4h-20zm24 0h8v4h-8zm20 0h12v4h-12zm36 0h20v4h-20zm-520 4h8v4h-8zm36 0h16v4h-16zm28 0h12v4h-12zm144 0h16v4h-16zm24 0h48v4h-48zm52 0h20v4h-20zm112 0h4v4h-4zm20 0h60v4h-60zm72 0h4v4h-4zm36 0h16v4h-16zm-524 4h12v4h-12zm64 0h8v4h-8zm144 0h8v4h-8zm20 0h20v4h-20zm24 0h28v4h-28zm36 0h16v4h-16zm84 0h4v4h-4zm20 0h12v4h-12zm24 0h8v4h-8zm16 0h24v4h-24zm28 0h20v4h-20zm28 0h8v4h-8zm40 0h8v4h-8zm-528 4h8v4h-8zm24 0h4v4h-4zm8 0h8v4h-8zm48 0h16v4h-16zm20 0h4v4h-4zm16 0h4v4h-4zm16 0h4v4h-4zm100 0h16v4h-16zm32 0h12v4h-12zm16 0h4v4h-4zm44 0h8v4h-8zm16 0h8v4h-8zm32 0h4v4h-4zm20 0h12v4h-12zm24 0h36v4h-36zm48 0h12v4h-12zm24 0h4v4h-4zm16 0h8v4h-8zm24 0h8v4h-8zm-468 4h4v4h-4zm52 0h8v4h-8zm108 0h8v4h-8zm20 0h8v4h-8zm12 0h4v4h-4zm28 0h4v4h-4zm12 0h12v4h-12zm32 0h28v4h-28zm44 0h8v4h-8zm16 0h12v4h-12zm28 0h40v4h-40zm52 0h12v4h-12zm40 0h12v4h-12zm24 0h16v4h-16zm-484 4h4v4h-4zm44 0h4v4h-4zm40 0h4v4h-4zm84 0h16v4h-16zm28 0h8v4h-8zm24 0h8v4h-8zm16 0h4v4h-4zm16 0h16v4h-16zm36 0h20v4h-20zm36 0h28v4h-28zm40 0h44v4h-44zm60 0h4v4h-4zm36 0h12v4h-12zm24 0h16v4h-16zm-504 4h12v4h-12zm64 0h16v4h-16zm124 0h8v4h-8zm52 0h12v4h-12zm32 0h24v4h-24zm36 0h4v4h-4zm12 0h12v4h-12zm36 0h16v4h-16zm32 0h20v4h-20zm80 0h24v4h-24zm32 0h20v4h-20zm-496 4h4v4h-4zm16 0h12v4h-12zm44 0h16v4h-16zm28 0h4v4h-4zm120 0h4v4h-4zm24 0h12v4h-12zm40 0h16v4h-16zm32 0h4v4h-4zm8 0h16v4h-16zm36 0h20v4h-20zm40 0h12v4h-12zm28 0h4v4h-4zm48 0h52v4h-52zm-448 4h16v4h-16zm40 0h20v4h-20zm32 0h4v4h-4zm92 0h4v4h-4zm8 0h4v4h-4zm20 0h4v4h-4zm20 0h12v4h-12zm64 0h4v4h-4zm12 0h16v4h-16zm40 0h32v4h-32zm48 0h4v4h-4zm56 0h8v4h-8zm16 0h8v4h-8zm24 0h28v4h-28zm-472 4h16v4h-16zm40 0h12v4h-12zm36 0h4v4h-4zm76 0h32v4h-32zm40 0h4v4h-4zm20 0h12v4h-12zm32 0h8v4h-8zm80 0h32v4h-32zm48 0h8v4h-8zm76 0h4v4h-4zm20 0h32v4h-32zm-476 4h4v4h-4zm20 0h8v4h-8zm36 0h4v4h-4zm56 0h4v4h-4zm48 0h32v4h-32zm40 0h4v4h-4zm20 0h8v4h-8zm36 0h4v4h-4zm44 0h4v4h-4zm36 0h40v4h-40zm48 0h8v4h-8zm24 0h12v4h-12zm28 0h12v4h-12zm20 0h8v4h-8zm20 0h20v4h-20zm-504 4h12v4h-12zm52 0h4v4h-4zm28 0h4v4h-4zm12 0h16v4h-16zm32 0h8v4h-8zm28 0h4v4h-4zm16 0h8v4h-8zm20 0h16v4h-16zm28 0h4v4h-4zm80 0h4v4h-4zm28 0h8v4h-8zm44 0h8v4h-8zm12 0h36v4h-36zm56 0h12v4h-12zm20 0h20v4h-20zm28 0h12v4h-12zm24 0h12v4h-12zm-504 4h4v4h-4zm56 0h4v4h-4zm20 0h4v4h-4zm12 0h20v4h-20zm24 0h12v4h-12zm20 0h20v4h-20zm32 0h12v4h-12zm24 0h8v4h-8zm32 0h8v4h-8zm24 0h4v4h-4zm20 0h4v4h-4zm28 0h4v4h-4zm20 0h36v4h-36zm56 0h8v4h-8zm16 0h20v4h-20zm100 0h20v4h-20zm24 0h12v4h-12zm-500 4h8v4h-8zm16 0h4v4h-4zm12 0h8v4h-8zm20 0h8v4h-8zm32 0h16v4h-16zm28 0h4v4h-4zm20 0h40v4h-40zm52 0h4v4h-4zm28 0h12v4h-12zm24 0h8v4h-8zm12 0h4v4h-4zm60 0h36v4h-36zm48 0h12v4h-12zm32 0h4v4h-4zm72 0h4v4h-4zm48 0h8v4h-8zm-528 4h12v4h-12zm24 0h12v4h-12zm28 0h8v4h-8zm60 0h8v4h-8zm52 0h16v4h-16zm28 0h20v4h-20zm40 0h20v4h-20zm56 0h8v4h-8zm24 0h8v4h-8zm16 0h40v4h-40zm48 0h8v4h-8zm28 0h8v4h-8zm28 0h4v4h-4zm24 0h8v4h-8zm24 0h4v4h-4zm8 0h8v4h-8zm36 0h4v4h-4zm-520 4h12v4h-12zm16 0h12v4h-12zm16 0h28v4h-28zm80 0h4v4h-4zm32 0h4v4h-4zm16 0h16v4h-16zm28 0h12v4h-12zm16 0h4v4h-4zm8 0h4v4h-4zm24 0h12v4h-12zm36 0h20v4h-20zm24 0h20v4h-20zm32 0h52v4h-52zm68 0h12v4h-12zm20 0h16v4h-16zm36 0h4v4h-4zm12 0h8v4h-8zm32 0h4v4h-4zm-488 4h4v4h-4zm24 0h8v4h-8zm12 0h16v4h-16zm32 0h8v4h-8zm64 0h8v4h-8zm20 0h16v4h-16zm24 0h12v4h-12zm28 0h4v4h-4zm24 0h4v4h-4zm36 0h112v4h-112zm120 0h16v4h-16zm24 0h12v4h-12zm44 0h12v4h-12zm24 0h8v4h-8zm-460 4h4v4h-4zm12 0h4v4h-4zm12 0h8v4h-8zm20 0h20v4h-20zm24 0h4v4h-4zm28 0h8v4h-8zm44 0h4v4h-4zm20 0h12v4h-12zm52 0h4v4h-4zm12 0h4v4h-4zm12 0h4v4h-4zm12 0h12v4h-12zm20 0h36v4h-36zm56 0h8v4h-8zm16 0h24v4h-24zm28 0h12v4h-12zm68 0h8v4h-8zm24 0h8v4h-8zm44 0h4v4h-4zm-504 4h4v4h-4zm100 0h8v4h-8zm172 0h4v4h-4zm28 0h4v4h-4zm52 0h8v4h-8zm84 0h8v4h-8z"/><path fill="#f06540" d="M720 78h40v4h-40zm148 0h8v4h-8zm32 0h4v4h-4zm32 0h4v4h-4zm12 0h4v4h-4zm12 0h8v4h-8zm24 0h8v4h-8zm40 0h8v4h-8zm116 0h4v4h-4zm40 0h8v4h-8zm-488 4h8v4h-8zm36 0h4v4h-4zm8 0h32v4h-32zm116 0h12v4h-12zm24 0h8v4h-8zm20 0h24v4h-24zm44 0h8v4h-8zm20 0h8v4h-8zm24 0h8v4h-8zm44 0h4v4h-4zm104 0h8v4h-8zm-440 4h4v4h-4zm32 0h4v4h-4zm20 0h12v4h-12zm128 0h16v4h-16zm28 0h8v4h-8zm16 0h8v4h-8zm24 0h8v4h-8zm20 0h8v4h-8zm20 0h12v4h-12zm84 0h4v4h-4zm108 0h4v4h-4zm-452 4h12v4h-12zm104 0h8v4h-8zm24 0h4v4h-4zm8 0h4v4h-4zm64 0h4v4h-4zm20 0h8v4h-8zm32 0h8v4h-8zm12 0h4v4h-4zm76 0h12v4h-12zm36 0h8v4h-8zm32 0h4v4h-4zm20 0h4v4h-4zm32 0h8v4h-8zm16 0h8v4h-8zm-476 4h16v4h-16zm104 0h12v4h-12zm16 0h4v4h-4zm12 0h12v4h-12zm28 0h12v4h-12zm60 0h8v4h-8zm28 0h12v4h-12zm36 0h8v4h-8zm24 0h4v4h-4zm32 0h12v4h-12zm32 0h12v4h-12zm52 0h4v4h-4zm20 0h20v4h-20zm36 0h4v4h-4zm-476 4h12v4h-12zm104 0h4v4h-4zm12 0h8v4h-8zm16 0h4v4h-4zm24 0h12v4h-12zm44 0h4v4h-4zm16 0h8v4h-8zm12 0h24v4h-24zm52 0h12v4h-12zm24 0h8v4h-8zm64 0h4v4h-4zm48 0h4v4h-4zm28 0h4v4h-4zm8 0h8v4h-8zm24 0h8v4h-8zm-472 4h8v4h-8zm12 0h4v4h-4zm52 0h8v4h-8zm64 0h4v4h-4zm68 0h4v4h-4zm24 0h4v4h-4zm8 0h16v4h-16zm28 0h4v4h-4zm24 0h8v4h-8zm20 0h8v4h-8zm20 0h4v4h-4zm152 0h12v4h-12zm-488 4h4v4h-4zm16 0h16v4h-16zm104 0h12v4h-12zm24 0h12v4h-12zm80 0h4v4h-4zm12 0h4v4h-4zm12 0h12v4h-12zm24 0h12v4h-12zm48 0h4v4h-4zm16 0h8v4h-8zm40 0h4v4h-4zm32 0h4v4h-4zm68 0h32v4h-32zm-452 4h4v4h-4zm76 0h8v4h-8zm24 0h4v4h-4zm24 0h20v4h-20zm28 0h4v4h-4zm12 0h4v4h-4zm28 0h28v4h-28zm56 0h8v4h-8zm48 0h8v4h-8zm16 0h8v4h-8zm108 0h8v4h-8zm36 0h24v4h-24zm-504 4h4v4h-4zm44 0h8v4h-8zm16 0h12v4h-12zm56 0h4v4h-4zm8 0h8v4h-8zm56 0h12v4h-12zm28 0h12v4h-12zm44 0h12v4h-12zm44 0h12v4h-12zm28 0h4v4h-4zm20 0h8v4h-8zm64 0h4v4h-4zm28 0h4v4h-4zm32 0h8v4h-8zm44 0h16v4h-16zm20 0h4v4h-4zm-536 4h12v4h-12zm48 0h4v4h-4zm20 0h16v4h-16zm40 0h4v4h-4zm20 0h4v4h-4zm56 0h16v4h-16zm28 0h12v4h-12zm20 0h4v4h-4zm28 0h8v4h-8zm24 0h8v4h-8zm16 0h12v4h-12zm28 0h4v4h-4zm20 0h8v4h-8zm92 0h4v4h-4zm32 0h4v4h-4zm52 0h8v4h-8zm12 0h4v4h-4zm-532 4h16v4h-16zm68 0h12v4h-12zm16 0h4v4h-4zm40 0h4v4h-4zm52 0h4v4h-4zm8 0h8v4h-8zm24 0h12v4h-12zm44 0h12v4h-12zm32 0h4v4h-4zm16 0h4v4h-4zm20 0h12v4h-12zm24 0h8v4h-8zm32 0h4v4h-4zm8 0h4v4h-4zm56 0h4v4h-4zm28 0h8v4h-8zm64 0h4v4h-4zm-520 4h4v4h-4zm28 0h4v4h-4zm16 0h20v4h-20zm84 0h4v4h-4zm8 0h12v4h-12zm24 0h16v4h-16zm32 0h12v4h-12zm48 0h8v4h-8zm32 0h12v4h-12zm40 0h4v4h-4zm16 0h12v4h-12zm36 0h4v4h-4zm44 0h12v4h-12zm-404 4h8v4h-8zm28 0h4v4h-4zm12 0h16v4h-16zm48 0h4v4h-4zm16 0h12v4h-12zm24 0h16v4h-16zm24 0h12v4h-12zm32 0h16v4h-16zm24 0h4v4h-4zm16 0h20v4h-20zm44 0h20v4h-20zm48 0h20v4h-20zm40 0h4v4h-4zm48 0h8v4h-8zm16 0h4v4h-4zm24 0h4v4h-4zm36 0h4v4h-4zm12 0h4v4h-4zm-496 4h8v4h-8zm20 0h4v4h-4zm8 0h12v4h-12zm40 0h4v4h-4zm32 0h24v4h-24zm32 0h32v4h-32zm52 0h16v4h-16zm28 0h12v4h-12zm28 0h4v4h-4zm32 0h16v4h-16zm28 0h4v4h-4zm20 0h8v4h-8zm40 0h12v4h-12zm84 0h8v4h-8zm16 0h4v4h-4zm32 0h16v4h-16zm-488 4h4v4h-4zm28 0h4v4h-4zm36 0h16v4h-16zm32 0h8v4h-8zm16 0h44v4h-44zm52 0h4v4h-4zm12 0h16v4h-16zm20 0h4v4h-4zm12 0h8v4h-8zm64 0h8v4h-8zm36 0h16v4h-16zm52 0h4v4h-4zm24 0h4v4h-4zm68 0h8v4h-8zm36 0h20v4h-20zm-476 4h12v4h-12zm44 0h20v4h-20zm52 0h12v4h-12zm20 0h16v4h-16zm36 0h4v4h-4zm28 0h20v4h-20zm40 0h8v4h-8zm28 0h8v4h-8zm28 0h4v4h-4zm12 0h24v4h-24zm28 0h4v4h-4zm128 0h4v4h-4zm16 0h8v4h-8zm20 0h12v4h-12zm-504 4h12v4h-12zm24 0h16v4h-16zm48 0h24v4h-24zm52 0h8v4h-8zm16 0h16v4h-16zm36 0h4v4h-4zm28 0h20v4h-20zm44 0h4v4h-4zm20 0h12v4h-12zm60 0h8v4h-8zm64 0h4v4h-4zm76 0h8v4h-8zm16 0h4v4h-4zm-484 4h40v4h-40zm60 0h16v4h-16zm24 0h16v4h-16zm60 0h12v4h-12zm48 0h4v4h-4zm12 0h8v4h-8zm44 0h4v4h-4zm20 0h8v4h-8zm12 0h8v4h-8zm148 0h4v4h-4zm24 0h4v4h-4zm16 0h8v4h-8zm24 0h4v4h-4zm12 0h8v4h-8zm-508 4h12v4h-12zm20 0h24v4h-24zm28 0h4v4h-4zm16 0h16v4h-16zm24 0h12v4h-12zm48 0h28v4h-28zm60 0h8v4h-8zm28 0h12v4h-12zm28 0h8v4h-8zm20 0h8v4h-8zm16 0h4v4h-4zm24 0h12v4h-12zm120 0h8v4h-8zm16 0h8v4h-8zm72 0h4v4h-4zm12 0h4v4h-4zm-536 4h16v4h-16zm32 0h12v4h-12zm20 0h12v4h-12zm16 0h8v4h-8zm52 0h4v4h-4zm20 0h32v4h-32zm52 0h4v4h-4zm8 0h8v4h-8zm28 0h12v4h-12zm28 0h12v4h-12zm64 0h12v4h-12zm44 0h8v4h-8zm68 0h12v4h-12zm16 0h12v4h-12zm72 0h4v4h-4zm-516 4h8v4h-8zm32 0h4v4h-4zm20 0h20v4h-20zm32 0h4v4h-4zm60 0h4v4h-4zm16 0h4v4h-4zm40 0h12v4h-12zm28 0h8v4h-8zm56 0h8v4h-8zm12 0h4v4h-4zm36 0h4v4h-4zm12 0h8v4h-8zm16 0h24v4h-24zm56 0h8v4h-8zm16 0h4v4h-4zm16 0h4v4h-4zm8 0h4v4h-4zm12 0h4v4h-4zm12 0h8v4h-8zm-480 4h8v4h-8zm32 0h4v4h-4zm24 0h12v4h-12zm24 0h12v4h-12zm80 0h8v4h-8zm44 0h20v4h-20zm32 0h16v4h-16zm32 0h4v4h-4zm16 0h16v4h-16zm44 0h28v4h-28zm32 0h8v4h-8zm32 0h4v4h-4zm24 0h12v4h-12zm40 0h4v4h-4zm24 0h12v4h-12zm-492 4h4v4h-4zm24 0h12v4h-12zm44 0h12v4h-12zm32 0h8v4h-8zm12 0h12v4h-12zm36 0h12v4h-12zm80 0h4v4h-4zm16 0h16v4h-16zm52 0h20v4h-20zm52 0h16v4h-16zm60 0h8v4h-8zm16 0h4v4h-4zm12 0h4v4h-4zm56 0h12v4h-12zm40 0h4v4h-4zm-516 4h20v4h-20zm28 0h8v4h-8zm52 0h20v4h-20zm60 0h4v4h-4zm88 0h24v4h-24zm52 0h8v4h-8zm12 0h12v4h-12zm24 0h8v4h-8zm16 0h8v4h-8zm44 0h8v4h-8zm20 0h4v4h-4zm20 0h8v4h-8zm56 0h16v4h-16zm-472 4h16v4h-16zm28 0h8v4h-8zm52 0h20v4h-20zm24 0h8v4h-8zm76 0h8v4h-8zm36 0h4v4h-4zm12 0h8v4h-8zm16 0h16v4h-16zm36 0h8v4h-8zm32 0h12v4h-12zm64 0h8v4h-8zm20 0h8v4h-8zm20 0h8v4h-8zm16 0h8v4h-8zm48 0h8v4h-8zm-452 4h16v4h-16zm56 0h4v4h-4zm12 0h16v4h-16zm84 0h8v4h-8zm12 0h4v4h-4zm24 0h16v4h-16zm20 0h4v4h-4zm8 0h24v4h-24zm40 0h4v4h-4zm32 0h8v4h-8zm32 0h8v4h-8zm52 0h4v4h-4zm16 0h8v4h-8zm64 0h16v4h-16zm48 0h4v4h-4zm-544 4h12v4h-12zm56 0h4v4h-4zm56 0h16v4h-16zm20 0h4v4h-4zm8 0h8v4h-8zm24 0h4v4h-4zm36 0h4v4h-4zm32 0h8v4h-8zm20 0h4v4h-4zm12 0h24v4h-24zm60 0h4v4h-4zm108 0h8v4h-8zm64 0h20v4h-20zm-496 4h12v4h-12zm44 0h8v4h-8zm48 0h4v4h-4zm24 0h12v4h-12zm108 0h16v4h-16zm40 0h4v4h-4zm8 0h16v4h-16zm48 0h12v4h-12zm16 0h4v4h-4zm20 0h4v4h-4zm72 0h8v4h-8zm12 0h36v4h-36zm40 0h4v4h-4zm8 0h12v4h-12zm16 0h12v4h-12zm-476 4h8v4h-8zm12 0h12v4h-12zm64 0h8v4h-8zm20 0h8v4h-8zm80 0h12v4h-12zm24 0h20v4h-20zm56 0h4v4h-4zm36 0h16v4h-16zm20 0h8v4h-8zm56 0h4v4h-4zm32 0h4v4h-4zm20 0h24v4h-24zm36 0h28v4h-28zm60 0h4v4h-4zm-516 4h8v4h-8zm52 0h4v4h-4zm28 0h8v4h-8zm16 0h12v4h-12zm52 0h8v4h-8zm28 0h20v4h-20zm24 0h20v4h-20zm60 0h8v4h-8zm16 0h8v4h-8zm20 0h16v4h-16zm20 0h8v4h-8zm48 0h8v4h-8zm60 0h20v4h-20zm32 0h32v4h-32zm56 0h8v4h-8zm-532 4h4v4h-4zm100 0h12v4h-12zm16 0h20v4h-20zm32 0h12v4h-12zm24 0h12v4h-12zm24 0h36v4h-36zm44 0h8v4h-8zm40 0h4v4h-4zm16 0h16v4h-16zm32 0h8v4h-8zm12 0h8v4h-8zm16 0h4v4h-4zm20 0h16v4h-16zm56 0h4v4h-4zm8 0h8v4h-8zm16 0h8v4h-8zm24 0h4v4h-4zm12 0h20v4h-20zm40 0h8v4h-8zm-468 4h4v4h-4zm32 0h20v4h-20zm32 0h8v4h-8zm20 0h12v4h-12zm24 0h16v4h-16zm24 0h40v4h-40zm44 0h4v4h-4zm36 0h8v4h-8zm28 0h4v4h-4zm52 0h8v4h-8zm24 0h12v4h-12zm40 0h12v4h-12zm16 0h8v4h-8zm56 0h20v4h-20zm-396 4h8v4h-8zm24 0h12v4h-12zm40 0h28v4h-28zm36 0h24v4h-24zm32 0h28v4h-28zm48 0h16v4h-16zm24 0h8v4h-8zm32 0h8v4h-8zm12 0h8v4h-8zm12 0h4v4h-4zm12 0h4v4h-4zm12 0h8v4h-8zm40 0h12v4h-12zm16 0h8v4h-8zm16 0h4v4h-4zm48 0h8v4h-8zm-372 4h4v4h-4zm36 0h8v4h-8zm20 0h4v4h-4zm8 0h36v4h-36zm40 0h28v4h-28zm36 0h16v4h-16zm32 0h24v4h-24zm28 0h16v4h-16zm20 0h8v4h-8zm16 0h8v4h-8zm60 0h20v4h-20zm-388 4h8v4h-8zm32 0h12v4h-12zm16 0h4v4h-4zm120 0h4v4h-4zm20 0h4v4h-4zm8 0h28v4h-28zm36 0h24v4h-24zm32 0h72v4h-72zm120 0h24v4h-24zm60 0h4v4h-4zm24 0h8v4h-8zm-472 4h8v4h-8zm36 0h8v4h-8zm12 0h8v4h-8zm124 0h8v4h-8zm20 0h8v4h-8zm12 0h20v4h-20zm32 0h104v4h-104zm112 0h4v4h-4zm16 0h4v4h-4zm20 0h24v4h-24zm52 0h8v4h-8zm12 0h8v4h-8zm24 0h12v4h-12zm-476 4h8v4h-8zm24 0h8v4h-8zm152 0h12v4h-12zm28 0h12v4h-12zm16 0h4v4h-4zm16 0h112v4h-112zm124 0h4v4h-4zm20 0h4v4h-4zm8 0h20v4h-20zm40 0h20v4h-20zm24 0h8v4h-8zm12 0h4v4h-4zm12 0h12v4h-12zm20 0h8v4h-8zm-504 4h4v4h-4zm8 0h16v4h-16zm24 0h8v4h-8zm156 0h4v4h-4zm24 0h12v4h-12zm28 0h20v4h-20zm24 0h24v4h-24zm32 0h60v4h-60zm64 0h12v4h-12zm28 0h20v4h-20zm48 0h16v4h-16zm32 0h8v4h-8zm12 0h4v4h-4zm-496 4h8v4h-8zm24 0h16v4h-16zm24 0h8v4h-8zm156 0h12v4h-12zm28 0h12v4h-12zm36 0h12v4h-12zm16 0h20v4h-20zm40 0h16v4h-16zm52 0h12v4h-12zm28 0h8v4h-8zm12 0h4v4h-4zm36 0h8v4h-8zm56 0h8v4h-8zm-512 4h12v4h-12zm20 0h24v4h-24zm32 0h4v4h-4zm156 0h8v4h-8zm16 0h20v4h-20zm28 0h4v4h-4zm20 0h16v4h-16zm20 0h4v4h-4zm8 0h8v4h-8zm92 0h4v4h-4zm8 0h28v4h-28zm40 0h4v4h-4zm72 0h8v4h-8zm-488 4h4v4h-4zm28 0h4v4h-4zm156 0h4v4h-4zm28 0h4v4h-4zm16 0h4v4h-4zm24 0h8v4h-8zm24 0h4v4h-4zm104 0h4v4h-4zm8 0h12v4h-12zm28 0h4v4h-4zm32 0h4v4h-4zm64 0h4v4h-4zm-540 4h4v4h-4zm28 0h12v4h-12zm28 0h4v4h-4zm172 0h4v4h-4zm20 0h4v4h-4zm28 0h24v4h-24zm28 0h4v4h-4zm104 0h8v4h-8zm12 0h12v4h-12zm16 0h8v4h-8zm40 0h8v4h-8zm64 0h4v4h-4zm-524 4h28v4h-28zm200 0h4v4h-4zm12 0h4v4h-4zm16 0h8v4h-8zm16 0h4v4h-4zm12 0h28v4h-28zm140 0h32v4h-32zm40 0h8v4h-8zm16 0h16v4h-16zm32 0h4v4h-4zm20 0h8v4h-8zm16 0h8v4h-8zm-520 4h12v4h-12zm200 0h8v4h-8zm16 0h24v4h-24zm40 0h12v4h-12zm20 0h8v4h-8zm124 0h36v4h-36zm40 0h28v4h-28zm64 0h8v4h-8zm20 0h4v4h-4zm-520 4h4v4h-4zm192 0h20v4h-20zm40 0h8v4h-8zm16 0h4v4h-4zm148 0h36v4h-36zm44 0h16v4h-16zm52 0h16v4h-16zm-300 4h12v4h-12zm16 0h20v4h-20zm24 0h4v4h-4zm32 0h4v4h-4zm8 0h4v4h-4zm128 0h12v4h-12zm20 0h12v4h-12zm24 0h12v4h-12zm28 0h4v4h-4zm16 0h20v4h-20zm-508 4h8v4h-8zm16 0h4v4h-4zm196 0h8v4h-8zm12 0h4v4h-4zm12 0h8v4h-8zm12 0h4v4h-4zm28 0h20v4h-20zm144 0h12v4h-12zm24 0h8v4h-8zm24 0h4v4h-4zm48 0h8v4h-8zm-520 4h12v4h-12zm428 0h8v4h-8zm24 0h4v4h-4zm60 0h4v4h-4zm-264 4h8v4h-8zm20 0h8v4h-8zm176 0h4v4h-4zm-428 4h8v4h-8zm228 0h12v4h-12zm16 0h16v4h-16zm24 0h4v4h-4zm156 0h8v4h-8zm24 0h8v4h-8zm-448 4h4v4h-4zm244 0h16v4h-16zm24 0h4v4h-4zm148 0h4v4h-4zm8 0h12v4h-12zm24 0h8v4h-8zm-424 4h8v4h-8zm180 0h4v4h-4zm16 0h4v4h-4zm32 0h4v4h-4zm156 0h4v4h-4zm40 0h4v4h-4zm-452 4h12v4h-12zm28 0h8v4h-8zm176 0h12v4h-12zm20 0h8v4h-8zm28 0h12v4h-12zm156 0h8v4h-8zm68 0h4v4h-4zm-480 4h16v4h-16zm208 0h12v4h-12zm16 0h8v4h-8zm28 0h12v4h-12zm164 0h4v4h-4zm24 0h4v4h-4zm24 0h4v4h-4zm12 0h12v4h-12zm-428 4h4v4h-4zm144 0h4v4h-4zm16 0h12v4h-12zm20 0h16v4h-16zm48 0h12v4h-12zm188 0h8v4h-8zm16 0h8v4h-8zm24 0h8v4h-8zm12 0h4v4h-4zm-492 4h4v4h-4zm184 0h12v4h-12zm24 0h8v4h-8zm44 0h16v4h-16zm196 0h4v4h-4zm28 0h12v4h-12zm36 0h4v4h-4zm-520 4h8v4h-8zm20 0h8v4h-8zm176 0h4v4h-4zm20 0h8v4h-8zm44 0h16v4h-16zm160 0h8v4h-8zm36 0h4v4h-4zm32 0h8v4h-8zm28 0h8v4h-8zm-516 4h8v4h-8zm12 0h20v4h-20zm36 0h4v4h-4zm136 0h8v4h-8zm12 0h4v4h-4zm20 0h4v4h-4zm44 0h8v4h-8zm152 0h16v4h-16zm76 0h8v4h-8zm32 0h4v4h-4zm-536 4h8v4h-8zm16 0h32v4h-32zm48 0h4v4h-4zm136 0h8v4h-8zm12 0h4v4h-4zm32 0h16v4h-16zm24 0h8v4h-8zm12 0h4v4h-4zm156 0h4v4h-4zm68 0h12v4h-12zm-508 4h12v4h-12zm28 0h4v4h-4zm8 0h16v4h-16zm32 0h8v4h-8zm148 0h8v4h-8zm36 0h8v4h-8zm20 0h8v4h-8zm212 0h8v4h-8zm24 0h12v4h-12zm16 0h8v4h-8zm12 0h4v4h-4zm-536 4h8v4h-8zm68 0h8v4h-8zm140 0h16v4h-16zm72 0h8v4h-8zm12 0h8v4h-8zm128 0h8v4h-8zm44 0h4v4h-4zm20 0h12v4h-12zm36 0h20v4h-20zm-484 4h12v4h-12zm28 0h12v4h-12zm144 0h4v4h-4zm8 0h8v4h-8zm28 0h16v4h-16zm20 0h8v4h-8zm24 0h16v4h-16zm128 0h16v4h-16zm24 0h16v4h-16zm48 0h4v4h-4zm36 0h16v4h-16zm-484 4h4v4h-4zm24 0h12v4h-12zm144 0h8v4h-8zm24 0h8v4h-8zm12 0h32v4h-32zm44 0h16v4h-16zm128 0h56v4h-56zm108 0h12v4h-12zm-524 4h8v4h-8zm232 0h12v4h-12zm32 0h16v4h-16zm32 0h8v4h-8zm100 0h8v4h-8zm36 0h20v4h-20zm32 0h12v4h-12zm24 0h4v4h-4zm-484 4h4v4h-4zm76 0h8v4h-8zm36 0h4v4h-4zm116 0h16v4h-16zm32 0h8v4h-8zm80 0h4v4h-4zm28 0h4v4h-4zm24 0h8v4h-8zm24 0h4v4h-4zm12 0h20v4h-20zm32 0h12v4h-12zm40 0h4v4h-4zm24 0h4v4h-4zm-468 4h4v4h-4zm56 0h4v4h-4zm124 0h8v4h-8zm12 0h4v4h-4zm28 0h4v4h-4zm12 0h4v4h-4zm40 0h4v4h-4zm8 0h8v4h-8zm72 0h36v4h-36zm56 0h8v4h-8zm40 0h4v4h-4zm20 0h12v4h-12zm-484 4h4v4h-4zm168 0h8v4h-8zm12 0h4v4h-4zm44 0h4v4h-4zm32 0h8v4h-8zm32 0h4v4h-4zm12 0h4v4h-4zm28 0h20v4h-20zm36 0h4v4h-4zm8 0h36v4h-36zm88 0h12v4h-12zm24 0h16v4h-16zm-500 4h4v4h-4zm60 0h8v4h-8zm180 0h4v4h-4zm28 0h20v4h-20zm52 0h8v4h-8zm32 0h12v4h-12zm36 0h12v4h-12zm76 0h24v4h-24zm32 0h20v4h-20zm-480 4h4v4h-4zm8 0h4v4h-4zm36 0h16v4h-16zm172 0h8v4h-8zm44 0h8v4h-8zm36 0h16v4h-16zm40 0h4v4h-4zm8 0h4v4h-4zm28 0h12v4h-12zm76 0h24v4h-24zm28 0h20v4h-20zm-476 4h12v4h-12zm40 0h12v4h-12zm16 0h4v4h-4zm160 0h8v4h-8zm60 0h4v4h-4zm20 0h4v4h-4zm36 0h8v4h-8zm12 0h8v4h-8zm88 0h8v4h-8zm16 0h8v4h-8zm28 0h20v4h-20zm-476 4h16v4h-16zm44 0h8v4h-8zm116 0h8v4h-8zm12 0h4v4h-4zm20 0h4v4h-4zm20 0h12v4h-12zm32 0h4v4h-4zm84 0h24v4h-24zm48 0h4v4h-4zm96 0h20v4h-20zm-320 4h12v4h-12zm28 0h4v4h-4zm36 0h4v4h-4zm112 0h12v4h-12zm16 0h8v4h-8zm16 0h4v4h-4zm16 0h8v4h-8zm28 0h8v4h-8zm68 0h16v4h-16zm-504 4h4v4h-4zm92 0h12v4h-12zm32 0h4v4h-4zm64 0h12v4h-12zm24 0h4v4h-4zm112 0h4v4h-4zm64 0h8v4h-8zm16 0h4v4h-4zm32 0h4v4h-4zm20 0h4v4h-4zm24 0h12v4h-12zm24 0h8v4h-8zm-428 4h4v4h-4zm12 0h16v4h-16zm28 0h8v4h-8zm24 0h4v4h-4zm24 0h8v4h-8zm24 0h8v4h-8zm36 0h4v4h-4zm40 0h4v4h-4zm28 0h4v4h-4zm24 0h12v4h-12zm28 0h4v4h-4zm24 0h8v4h-8zm16 0h8v4h-8zm12 0h4v4h-4zm92 0h4v4h-4zm24 0h4v4h-4zm-504 4h4v4h-4zm52 0h4v4h-4zm32 0h12v4h-12zm48 0h16v4h-16zm28 0h4v4h-4zm52 0h8v4h-8zm92 0h16v4h-16zm20 0h8v4h-8zm28 0h4v4h-4zm32 0h4v4h-4zm72 0h4v4h-4zm-480 4h4v4h-4zm28 0h4v4h-4zm24 0h8v4h-8zm60 0h8v4h-8zm52 0h12v4h-12zm32 0h12v4h-12zm36 0h4v4h-4zm8 0h12v4h-12zm76 0h4v4h-4zm16 0h32v4h-32zm44 0h8v4h-8zm28 0h8v4h-8zm-400 4h12v4h-12zm32 0h8v4h-8zm16 0h8v4h-8zm96 0h4v4h-4zm16 0h12v4h-12zm52 0h4v4h-4zm28 0h4v4h-4zm32 0h20v4h-20zm32 0h12v4h-12zm28 0h32v4h-32zm40 0h4v4h-4zm24 0h12v4h-12zm24 0h8v4h-8zm44 0h4v4h-4zm-420 4h16v4h-16zm96 0h8v4h-8zm24 0h8v4h-8zm24 0h8v4h-8zm48 0h4v4h-4zm36 0h44v4h-44zm72 0h40v4h-40zm52 0h12v4h-12zm24 0h8v4h-8zm44 0h8v4h-8zm24 0h4v4h-4zm-440 4h4v4h-4zm28 0h8v4h-8zm16 0h4v4h-4zm96 0h8v4h-8zm84 0h12v4h-12zm20 0h12v4h-12zm16 0h8v4h-8zm12 0h4v4h-4zm56 0h8v4h-8zm88 0h4v4h-4zm64 0h4v4h-4z"/><path fill="#f88e52" d="M732 78h16v4h-16zm136 0h4v4h-4zm112 0h4v4h-4zm40 0h4v4h-4zm116 0h4v4h-4zm44 0h4v4h-4zm-492 4h4v4h-4zm48 0h16v4h-16zm20 0h4v4h-4zm96 0h4v4h-4zm44 0h8v4h-8zm12 0h4v4h-4zm48 0h8v4h-8zm24 0h8v4h-8zm-260 4h4v4h-4zm20 0h8v4h-8zm128 0h4v4h-4zm8 0h4v4h-4zm36 0h8v4h-8zm24 0h8v4h-8zm44 0h4v4h-4zm-260 4h4v4h-4zm216 0h8v4h-8zm32 0h4v4h-4zm88 0h12v4h-12zm36 0h4v4h-4zm100 0h4v4h-4zm-472 4h4v4h-4zm100 0h8v4h-8zm16 0h4v4h-4zm12 0h8v4h-8zm32 0h8v4h-8zm56 0h8v4h-8zm32 0h4v4h-4zm36 0h4v4h-4zm20 0h4v4h-4zm32 0h12v4h-12zm32 0h8v4h-8zm52 0h4v4h-4zm24 0h4v4h-4zm8 0h8v4h-8zm-448 4h8v4h-8zm100 0h4v4h-4zm12 0h8v4h-8zm100 0h4v4h-4zm12 0h16v4h-16zm52 0h8v4h-8zm24 0h8v4h-8zm140 0h4v4h-4zm8 0h4v4h-4zm24 0h8v4h-8zm-472 4h8v4h-8zm12 0h4v4h-4zm52 0h8v4h-8zm64 0h4v4h-4zm92 0h4v4h-4zm8 0h16v4h-16zm28 0h4v4h-4zm28 0h4v4h-4zm16 0h8v4h-8zm172 0h12v4h-12zm-472 4h4v4h-4zm12 0h4v4h-4zm96 0h8v4h-8zm20 0h4v4h-4zm80 0h4v4h-4zm12 0h4v4h-4zm12 0h12v4h-12zm24 0h4v4h-4zm48 0h4v4h-4zm16 0h4v4h-4zm40 0h4v4h-4zm104 0h24v4h-24zm-356 4h4v4h-4zm32 0h8v4h-8zm60 0h4v4h-4zm12 0h12v4h-12zm44 0h8v4h-8zm48 0h8v4h-8zm16 0h4v4h-4zm148 0h20v4h-20zm-464 4h4v4h-4zm20 0h8v4h-8zm116 0h12v4h-12zm32 0h4v4h-4zm44 0h4v4h-4zm40 0h8v4h-8zm48 0h8v4h-8zm172 0h12v4h-12zm-516 4h4v4h-4zm44 0h4v4h-4zm28 0h8v4h-8zm52 0h4v4h-4zm60 0h8v4h-8zm24 0h8v4h-8zm48 0h8v4h-8zm24 0h8v4h-8zm16 0h8v4h-8zm48 0h8v4h-8zm176 0h4v4h-4zm-520 4h4v4h-4zm8 0h8v4h-8zm60 0h8v4h-8zm16 0h4v4h-4zm100 0h8v4h-8zm28 0h4v4h-4zm40 0h12v4h-12zm48 0h4v4h-4zm20 0h4v4h-4zm24 0h8v4h-8zm124 0h8v4h-8zm-408 4h12v4h-12zm80 0h4v4h-4zm12 0h4v4h-4zm20 0h12v4h-12zm32 0h12v4h-12zm48 0h8v4h-8zm36 0h4v4h-4zm52 0h12v4h-12zm36 0h4v4h-4zm48 0h4v4h-4zm-408 4h4v4h-4zm28 0h4v4h-4zm16 0h8v4h-8zm64 0h4v4h-4zm24 0h8v4h-8zm24 0h8v4h-8zm28 0h12v4h-12zm24 0h4v4h-4zm16 0h4v4h-4zm12 0h8v4h-8zm32 0h16v4h-16zm56 0h8v4h-8zm32 0h4v4h-4zm52 0h4v4h-4zm36 0h4v4h-4zm36 0h4v4h-4zm-484 4h8v4h-8zm32 0h4v4h-4zm36 0h4v4h-4zm36 0h8v4h-8zm28 0h16v4h-16zm20 0h12v4h-12zm32 0h16v4h-16zm32 0h4v4h-4zm56 0h16v4h-16zm48 0h8v4h-8zm128 0h4v4h-4zm44 0h12v4h-12zm-376 4h36v4h-36zm68 0h8v4h-8zm28 0h4v4h-4zm68 0h4v4h-4zm180 0h4v4h-4zm32 0h16v4h-16zm-476 4h8v4h-8zm48 0h12v4h-12zm48 0h12v4h-12zm20 0h16v4h-16zm68 0h8v4h-8zm12 0h4v4h-4zm28 0h4v4h-4zm28 0h4v4h-4zm24 0h4v4h-4zm16 0h20v4h-20zm24 0h4v4h-4zm144 0h4v4h-4zm20 0h8v4h-8zm-500 4h4v4h-4zm20 0h12v4h-12zm48 0h4v4h-4zm16 0h4v4h-4zm52 0h16v4h-16zm36 0h4v4h-4zm28 0h8v4h-8zm44 0h4v4h-4zm84 0h4v4h-4zm136 0h8v4h-8zm-464 4h8v4h-8zm12 0h4v4h-4zm8 0h12v4h-12zm48 0h4v4h-4zm12 0h12v4h-12zm64 0h4v4h-4zm56 0h4v4h-4zm44 0h4v4h-4zm20 0h4v4h-4zm12 0h4v4h-4zm172 0h4v4h-4zm40 0h4v4h-4zm16 0h4v4h-4zm-512 4h8v4h-8zm28 0h12v4h-12zm36 0h16v4h-16zm72 0h8v4h-8zm12 0h16v4h-16zm48 0h4v4h-4zm32 0h8v4h-8zm60 0h4v4h-4zm24 0h12v4h-12zm120 0h4v4h-4zm-436 4h16v4h-16zm32 0h12v4h-12zm20 0h4v4h-4zm16 0h8v4h-8zm72 0h12v4h-12zm16 0h16v4h-16zm72 0h12v4h-12zm28 0h12v4h-12zm64 0h8v4h-8zm44 0h8v4h-8zm68 0h12v4h-12zm20 0h8v4h-8zm-444 4h4v4h-4zm28 0h4v4h-4zm24 0h16v4h-16zm148 0h8v4h-8zm140 0h8v4h-8zm16 0h8v4h-8zm12 0h12v4h-12zm44 0h8v4h-8zm16 0h4v4h-4zm36 0h4v4h-4zm-464 4h4v4h-4zm28 0h4v4h-4zm24 0h12v4h-12zm28 0h4v4h-4zm120 0h4v4h-4zm8 0h8v4h-8zm24 0h4v4h-4zm48 0h8v4h-8zm44 0h12v4h-12zm16 0h8v4h-8zm16 0h8v4h-8zm56 0h12v4h-12zm68 0h8v4h-8zm-496 4h4v4h-4zm28 0h8v4h-8zm84 0h4v4h-4zm8 0h4v4h-4zm32 0h4v4h-4zm96 0h8v4h-8zm48 0h20v4h-20zm56 0h12v4h-12zm60 0h4v4h-4zm24 0h4v4h-4zm-420 4h20v4h-20zm88 0h4v4h-4zm8 0h4v4h-4zm132 0h12v4h-12zm52 0h8v4h-8zm16 0h4v4h-4zm20 0h8v4h-8zm16 0h4v4h-4zm48 0h4v4h-4zm36 0h4v4h-4zm60 0h8v4h-8zm-476 4h16v4h-16zm28 0h8v4h-8zm68 0h4v4h-4zm88 0h4v4h-4zm60 0h12v4h-12zm36 0h8v4h-8zm32 0h12v4h-12zm104 0h4v4h-4zm64 0h8v4h-8zm-444 4h4v4h-4zm48 0h4v4h-4zm12 0h4v4h-4zm8 0h8v4h-8zm80 0h4v4h-4zm8 0h4v4h-4zm24 0h8v4h-8zm12 0h4v4h-4zm8 0h4v4h-4zm8 0h8v4h-8zm12 0h12v4h-12zm160 0h8v4h-8zm64 0h16v4h-16zm48 0h4v4h-4zm-544 4h8v4h-8zm112 0h16v4h-16zm32 0h4v4h-4zm88 0h8v4h-8zm32 0h24v4h-24zm168 0h4v4h-4zm64 0h20v4h-20zm-496 4h12v4h-12zm44 0h8v4h-8zm76 0h8v4h-8zm112 0h4v4h-4zm32 0h4v4h-4zm12 0h12v4h-12zm48 0h8v4h-8zm120 0h4v4h-4zm44 0h8v4h-8zm16 0h12v4h-12zm-472 4h4v4h-4zm12 0h4v4h-4zm60 0h8v4h-8zm20 0h8v4h-8zm80 0h8v4h-8zm32 0h12v4h-12zm84 0h12v4h-12zm108 0h4v4h-4zm20 0h4v4h-4zm12 0h12v4h-12zm24 0h12v4h-12zm20 0h8v4h-8zm-392 4h4v4h-4zm12 0h8v4h-8zm56 0h4v4h-4zm24 0h16v4h-16zm24 0h4v4h-4zm60 0h8v4h-8zm36 0h8v4h-8zm20 0h4v4h-4zm48 0h8v4h-8zm60 0h4v4h-4zm8 0h12v4h-12zm28 0h4v4h-4zm12 0h12v4h-12zm40 0h8v4h-8zm-532 4h4v4h-4zm100 0h12v4h-12zm20 0h4v4h-4zm12 0h4v4h-4zm16 0h8v4h-8zm48 0h16v4h-16zm24 0h12v4h-12zm20 0h8v4h-8zm56 0h4v4h-4zm8 0h4v4h-4zm52 0h4v4h-4zm20 0h16v4h-16zm68 0h4v4h-4zm16 0h4v4h-4zm32 0h20v4h-20zm40 0h8v4h-8zm-468 4h4v4h-4zm36 0h12v4h-12zm28 0h8v4h-8zm24 0h4v4h-4zm24 0h8v4h-8zm20 0h24v4h-24zm36 0h4v4h-4zm48 0h4v4h-4zm76 0h4v4h-4zm24 0h8v4h-8zm44 0h8v4h-8zm72 0h12v4h-12zm-400 4h4v4h-4zm32 0h4v4h-4zm36 0h24v4h-24zm32 0h24v4h-24zm36 0h20v4h-20zm44 0h16v4h-16zm24 0h8v4h-8zm32 0h4v4h-4zm52 0h4v4h-4zm40 0h4v4h-4zm12 0h4v4h-4zm64 0h4v4h-4zm-332 4h4v4h-4zm32 0h28v4h-28zm32 0h24v4h-24zm36 0h16v4h-16zm32 0h8v4h-8zm12 0h8v4h-8zm16 0h4v4h-4zm12 0h4v4h-4zm8 0h8v4h-8zm16 0h8v4h-8zm72 0h8v4h-8zm-364 4h4v4h-4zm132 0h4v4h-4zm28 0h28v4h-28zm40 0h20v4h-20zm28 0h28v4h-28zm36 0h8v4h-8zm12 0h24v4h-24zm72 0h24v4h-24zm84 0h8v4h-8zm-468 4h4v4h-4zm44 0h4v4h-4zm124 0h8v4h-8zm20 0h4v4h-4zm12 0h20v4h-20zm36 0h76v4h-76zm84 0h16v4h-16zm40 0h4v4h-4zm24 0h20v4h-20zm48 0h4v4h-4zm12 0h4v4h-4zm24 0h12v4h-12zm-472 4h4v4h-4zm172 0h8v4h-8zm28 0h12v4h-12zm16 0h4v4h-4zm16 0h112v4h-112zm156 0h16v4h-16zm36 0h8v4h-8zm12 0h8v4h-8zm12 0h4v4h-4zm12 0h4v4h-4zm12 0h4v4h-4zm8 0h4v4h-4zm-480 4h8v4h-8zm20 0h8v4h-8zm156 0h4v4h-4zm24 0h8v4h-8zm28 0h8v4h-8zm12 0h4v4h-4zm12 0h24v4h-24zm36 0h28v4h-28zm32 0h24v4h-24zm32 0h8v4h-8zm24 0h8v4h-8zm16 0h4v4h-4zm32 0h8v4h-8zm12 0h4v4h-4zm-436 4h8v4h-8zm20 0h4v4h-4zm156 0h8v4h-8zm28 0h8v4h-8zm36 0h8v4h-8zm16 0h12v4h-12zm40 0h16v4h-16zm56 0h8v4h-8zm24 0h4v4h-4zm48 0h8v4h-8zm60 0h4v4h-4zm-512 4h8v4h-8zm20 0h4v4h-4zm12 0h4v4h-4zm172 0h8v4h-8zm24 0h8v4h-8zm20 0h4v4h-4zm24 0h8v4h-8zm28 0h4v4h-4zm96 0h16v4h-16zm20 0h4v4h-4zm20 0h4v4h-4zm76 0h4v4h-4zm-492 4h4v4h-4zm252 0h8v4h-8zm128 0h4v4h-4zm12 0h8v4h-8zm24 0h4v4h-4zm32 0h4v4h-4zm64 0h4v4h-4zm-508 4h8v4h-8zm216 0h4v4h-4zm32 0h8v4h-8zm12 0h8v4h-8zm116 0h4v4h-4zm12 0h12v4h-12zm56 0h4v4h-4zm64 0h4v4h-4zm-520 4h4v4h-4zm12 0h8v4h-8zm212 0h8v4h-8zm16 0h4v4h-4zm16 0h8v4h-8zm16 0h8v4h-8zm128 0h24v4h-24zm36 0h4v4h-4zm16 0h12v4h-12zm28 0h4v4h-4zm20 0h4v4h-4zm20 0h4v4h-4zm-520 4h8v4h-8zm196 0h4v4h-4zm24 0h12v4h-12zm32 0h4v4h-4zm20 0h4v4h-4zm124 0h28v4h-28zm44 0h24v4h-24zm64 0h4v4h-4zm16 0h4v4h-4zm-324 4h12v4h-12zm36 0h4v4h-4zm16 0h4v4h-4zm148 0h28v4h-28zm32 0h4v4h-4zm16 0h8v4h-8zm52 0h12v4h-12zm-304 4h8v4h-8zm20 0h8v4h-8zm60 0h4v4h-4zm128 0h12v4h-12zm24 0h8v4h-8zm24 0h4v4h-4zm48 0h12v4h-12zm-516 4h4v4h-4zm16 0h4v4h-4zm196 0h8v4h-8zm28 0h4v4h-4zm40 0h8v4h-8zm144 0h8v4h-8zm24 0h4v4h-4zm20 0h4v4h-4zm52 0h4v4h-4zm-520 4h8v4h-8zm428 0h4v4h-4zm20 0h4v4h-4zm-204 4h4v4h-4zm20 0h8v4h-8zm-20 4h8v4h-8zm16 0h12v4h-12zm0 4h8v4h-8zm20 0h4v4h-4zm156 0h12v4h-12zm24 0h8v4h-8zm-424 4h4v4h-4zm180 0h4v4h-4zm16 0h4v4h-4zm228 0h4v4h-4zm-452 4h12v4h-12zm204 0h8v4h-8zm20 0h4v4h-4zm28 0h8v4h-8zm224 0h4v4h-4zm-476 4h8v4h-8zm204 0h12v4h-12zm16 0h8v4h-8zm32 0h4v4h-4zm224 0h8v4h-8zm-272 4h12v4h-12zm20 0h12v4h-12zm52 0h4v4h-4zm184 0h8v4h-8zm44 0h4v4h-4zm-296 4h4v4h-4zm20 0h4v4h-4zm44 0h12v4h-12zm228 0h8v4h-8zm32 0h4v4h-4zm-520 4h8v4h-8zm24 0h4v4h-4zm192 0h4v4h-4zm44 0h12v4h-12zm160 0h4v4h-4zm36 0h4v4h-4zm32 0h8v4h-8zm-488 4h4v4h-4zm16 0h16v4h-16zm244 0h4v4h-4zm152 0h16v4h-16zm80 0h4v4h-4zm28 0h4v4h-4zm-536 4h4v4h-4zm28 0h20v4h-20zm184 0h4v4h-4zm36 0h8v4h-8zm20 0h4v4h-4zm240 0h4v4h-4zm-512 4h8v4h-8zm28 0h4v4h-4zm12 0h8v4h-8zm236 0h4v4h-4zm212 0h4v4h-4zm20 0h8v4h-8zm16 0h4v4h-4zm-520 4h4v4h-4zm64 0h8v4h-8zm148 0h8v4h-8zm68 0h4v4h-4zm12 0h4v4h-4zm124 0h4v4h-4zm44 0h4v4h-4zm20 0h12v4h-12zm40 0h8v4h-8zm-488 4h8v4h-8zm32 0h8v4h-8zm148 0h8v4h-8zm28 0h8v4h-8zm44 0h12v4h-12zm132 0h8v4h-8zm24 0h4v4h-4zm8 0h4v4h-4zm36 0h4v4h-4zm36 0h16v4h-16zm-460 4h8v4h-8zm188 0h24v4h-24zm36 0h16v4h-16zm132 0h12v4h-12zm16 0h16v4h-16zm20 0h4v4h-4zm8 0h8v4h-8zm60 0h12v4h-12zm-524 4h8v4h-8zm232 0h8v4h-8zm32 0h12v4h-12zm32 0h8v4h-8zm104 0h4v4h-4zm32 0h20v4h-20zm32 0h8v4h-8zm24 0h4v4h-4zm-92 4h4v4h-4zm36 0h16v4h-16zm32 0h8v4h-8zm-348 4h4v4h-4zm136 0h4v4h-4zm40 0h4v4h-4zm48 0h8v4h-8zm80 0h28v4h-28zm48 0h4v4h-4zm60 0h4v4h-4zm-316 4h8v4h-8zm88 0h4v4h-4zm72 0h16v4h-16zm44 0h16v4h-16zm24 0h8v4h-8zm68 0h8v4h-8zm24 0h4v4h-4zm8 0h4v4h-4zm-452 4h8v4h-8zm180 0h4v4h-4zm28 0h16v4h-16zm56 0h4v4h-4zm28 0h12v4h-12zm36 0h12v4h-12zm80 0h20v4h-20zm36 0h8v4h-8zm-444 4h16v4h-16zm256 0h4v4h-4zm76 0h4v4h-4zm72 0h12v4h-12zm16 0h4v4h-4zm12 0h12v4h-12zm16 0h4v4h-4zm-492 4h8v4h-8zm44 0h8v4h-8zm12 0h4v4h-4zm160 0h8v4h-8zm116 0h8v4h-8zm116 0h4v4h-4zm28 0h16v4h-16zm-476 4h16v4h-16zm44 0h4v4h-4zm128 0h4v4h-4zm44 0h8v4h-8zm28 0h4v4h-4zm84 0h12v4h-12zm16 0h8v4h-8zm132 0h16v4h-16zm-296 4h4v4h-4zm152 0h8v4h-8zm12 0h8v4h-8zm32 0h4v4h-4zm28 0h4v4h-4zm68 0h12v4h-12zm-412 4h8v4h-8zm296 0h4v4h-4zm48 0h4v4h-4zm48 0h4v4h-4zm24 0h4v4h-4zm-432 4h4v4h-4zm12 0h16v4h-16zm28 0h4v4h-4zm72 0h4v4h-4zm128 0h12v4h-12zm68 0h8v4h-8zm104 0h4v4h-4zm24 0h4v4h-4zm-504 4h4v4h-4zm52 0h4v4h-4zm32 0h12v4h-12zm48 0h4v4h-4zm8 0h4v4h-4zm72 0h8v4h-8zm96 0h8v4h-8zm148 0h4v4h-4zm-480 4h4v4h-4zm28 0h4v4h-4zm84 0h8v4h-8zm56 0h4v4h-4zm148 0h4v4h-4zm16 0h12v4h-12zm16 0h8v4h-8zm28 0h4v4h-4zm32 0h4v4h-4zm-368 4h4v4h-4zm12 0h4v4h-4zm116 0h8v4h-8zm48 0h4v4h-4zm64 0h4v4h-4zm32 0h8v4h-8zm24 0h32v4h-32zm68 0h8v4h-8zm20 0h8v4h-8zm44 0h4v4h-4zm-416 4h8v4h-8zm116 0h8v4h-8zm72 0h4v4h-4zm36 0h16v4h-16zm20 0h8v4h-8zm16 0h8v4h-8zm40 0h16v4h-16zm20 0h4v4h-4zm28 0h12v4h-12zm24 0h8v4h-8zm44 0h4v4h-4zm-276 4h4v4h-4zm88 0h4v4h-4zm20 0h4v4h-4zm80 0h8v4h-8z"/><path fill="#fdb467" d="M732 78h4v4h-4zm8 0h8v4h-8zm240 0h4v4h-4zm-292 4h4v4h-4zm48 0h16v4h-16zm116 0h4v4h-4zm48 0h4v4h-4zm8 0h4v4h-4zm52 0h4v4h-4zm20 0h4v4h-4zm-236 4h4v4h-4zm124 0h4v4h-4zm44 0h8v4h-8zm24 0h4v4h-4zm44 0h4v4h-4zm-260 4h4v4h-4zm216 0h4v4h-4zm124 0h8v4h-8zm132 0h4v4h-4zm-472 4h4v4h-4zm104 0h4v4h-4zm12 0h4v4h-4zm100 0h4v4h-4zm32 0h4v4h-4zm88 0h12v4h-12zm32 0h8v4h-8zm76 0h4v4h-4zm8 0h4v4h-4zm-448 4h4v4h-4zm100 0h4v4h-4zm128 0h12v4h-12zm72 0h8v4h-8zm148 0h4v4h-4zm24 0h4v4h-4zm-472 4h8v4h-8zm64 0h8v4h-8zm64 0h4v4h-4zm100 0h16v4h-16zm28 0h4v4h-4zm48 0h4v4h-4zm172 0h4v4h-4zm-464 4h4v4h-4zm100 0h4v4h-4zm120 0h8v4h-8zm24 0h4v4h-4zm48 0h4v4h-4zm160 0h4v4h-4zm8 0h16v4h-16zm-332 4h8v4h-8zm60 0h4v4h-4zm12 0h8v4h-8zm44 0h8v4h-8zm48 0h8v4h-8zm168 0h16v4h-16zm-448 4h8v4h-8zm116 0h12v4h-12zm32 0h4v4h-4zm84 0h8v4h-8zm48 0h8v4h-8zm172 0h8v4h-8zm-516 4h4v4h-4zm184 0h8v4h-8zm28 0h4v4h-4zm44 0h8v4h-8zm28 0h4v4h-4zm12 0h8v4h-8zm48 0h8v4h-8zm-336 4h4v4h-4zm64 0h4v4h-4zm116 0h4v4h-4zm68 0h8v4h-8zm-196 4h8v4h-8zm112 0h8v4h-8zm32 0h8v4h-8zm140 0h4v4h-4zm80 0h4v4h-4zm-364 4h8v4h-8zm92 0h4v4h-4zm20 0h8v4h-8zm28 0h12v4h-12zm24 0h4v4h-4zm28 0h8v4h-8zm36 0h12v4h-12zm52 0h8v4h-8zm120 0h4v4h-4zm-416 4h4v4h-4zm72 0h4v4h-4zm32 0h12v4h-12zm20 0h8v4h-8zm32 0h12v4h-12zm88 0h8v4h-8zm44 0h8v4h-8zm128 0h4v4h-4zm48 0h8v4h-8zm-376 4h8v4h-8zm16 0h12v4h-12zm48 0h4v4h-4zm276 0h4v4h-4zm32 0h12v4h-12zm-472 4h4v4h-4zm44 0h8v4h-8zm48 0h12v4h-12zm20 0h16v4h-16zm68 0h8v4h-8zm12 0h4v4h-4zm264 0h4v4h-4zm-460 4h12v4h-12zm64 0h4v4h-4zm56 0h8v4h-8zm60 0h8v4h-8zm44 0h4v4h-4zm-220 4h8v4h-8zm60 0h8v4h-8zm60 0h4v4h-4zm344 0h4v4h-4zm16 0h4v4h-4zm-480 4h8v4h-8zm32 0h8v4h-8zm12 0h4v4h-4zm60 0h8v4h-8zm12 0h16v4h-16zm80 0h4v4h-4zm60 0h4v4h-4zm28 0h4v4h-4zm116 0h4v4h-4zm-432 4h4v4h-4zm32 0h8v4h-8zm36 0h4v4h-4zm68 0h8v4h-8zm16 0h12v4h-12zm72 0h12v4h-12zm32 0h8v4h-8zm64 0h4v4h-4zm40 0h8v4h-8zm72 0h4v4h-4zm16 0h8v4h-8zm-444 4h4v4h-4zm52 0h4v4h-4zm148 0h4v4h-4zm144 0h4v4h-4zm12 0h8v4h-8zm16 0h4v4h-4zm40 0h8v4h-8zm-412 4h4v4h-4zm28 0h4v4h-4zm24 0h12v4h-12zm148 0h4v4h-4zm12 0h4v4h-4zm72 0h4v4h-4zm56 0h8v4h-8zm72 0h8v4h-8zm-428 4h4v4h-4zm28 0h4v4h-4zm84 0h4v4h-4zm40 0h4v4h-4zm96 0h4v4h-4zm52 0h4v4h-4zm52 0h12v4h-12zm84 0h4v4h-4zm-420 4h16v4h-16zm96 0h4v4h-4zm132 0h8v4h-8zm152 0h4v4h-4zm36 0h4v4h-4zm60 0h4v4h-4zm-476 4h12v4h-12zm28 0h8v4h-8zm216 0h12v4h-12zm72 0h8v4h-8zm-212 4h8v4h-8zm80 0h4v4h-4zm32 0h8v4h-8zm28 0h8v4h-8zm12 0h8v4h-8zm224 0h8v4h-8zm-496 4h8v4h-8zm120 0h8v4h-8zm112 0h4v4h-4zm32 0h4v4h-4zm8 0h12v4h-12zm232 0h8v4h-8zm-500 4h4v4h-4zm40 0h4v4h-4zm76 0h4v4h-4zm112 0h4v4h-4zm32 0h4v4h-4zm60 0h8v4h-8zm184 0h8v4h-8zm-464 4h4v4h-4zm60 0h4v4h-4zm20 0h4v4h-4zm84 0h4v4h-4zm116 0h8v4h-8zm104 0h4v4h-4zm36 0h4v4h-4zm24 0h8v4h-8zm-376 4h4v4h-4zm12 0h8v4h-8zm84 0h8v4h-8zm80 0h4v4h-4zm40 0h4v4h-4zm124 0h4v4h-4zm12 0h4v4h-4zm24 0h4v4h-4zm12 0h12v4h-12zm40 0h8v4h-8zm-532 4h4v4h-4zm100 0h8v4h-8zm32 0h4v4h-4zm16 0h8v4h-8zm52 0h12v4h-12zm20 0h8v4h-8zm20 0h8v4h-8zm136 0h16v4h-16zm68 0h4v4h-4zm48 0h20v4h-20zm44 0h4v4h-4zm-432 4h4v4h-4zm24 0h8v4h-8zm68 0h20v4h-20zm84 0h4v4h-4zm76 0h4v4h-4zm24 0h8v4h-8zm48 0h4v4h-4zm68 0h12v4h-12zm-332 4h24v4h-24zm32 0h24v4h-24zm36 0h20v4h-20zm44 0h16v4h-16zm28 0h4v4h-4zm132 0h4v4h-4zm-232 4h24v4h-24zm28 0h24v4h-24zm40 0h12v4h-12zm28 0h8v4h-8zm28 0h4v4h-4zm20 0h8v4h-8zm20 0h4v4h-4zm68 0h4v4h-4zm-364 4h4v4h-4zm160 0h28v4h-28zm40 0h12v4h-12zm32 0h20v4h-20zm36 0h4v4h-4zm8 0h8v4h-8zm16 0h8v4h-8zm56 0h20v4h-20zm88 0h4v4h-4zm-304 4h4v4h-4zm20 0h4v4h-4zm12 0h16v4h-16zm36 0h24v4h-24zm28 0h48v4h-48zm56 0h16v4h-16zm40 0h4v4h-4zm24 0h16v4h-16zm48 0h4v4h-4zm12 0h4v4h-4zm24 0h8v4h-8zm-296 4h4v4h-4zm28 0h8v4h-8zm28 0h4v4h-4zm8 0h40v4h-40zm48 0h56v4h-56zm100 0h16v4h-16zm36 0h8v4h-8zm12 0h4v4h-4zm12 0h4v4h-4zm12 0h4v4h-4zm-460 4h8v4h-8zm204 0h4v4h-4zm28 0h4v4h-4zm8 0h4v4h-4zm16 0h16v4h-16zm32 0h28v4h-28zm36 0h20v4h-20zm28 0h8v4h-8zm72 0h8v4h-8zm12 0h4v4h-4zm-436 4h8v4h-8zm176 0h8v4h-8zm64 0h4v4h-4zm20 0h8v4h-8zm36 0h12v4h-12zm60 0h4v4h-4zm68 0h4v4h-4zm-452 4h8v4h-8zm20 0h4v4h-4zm212 0h4v4h-4zm40 0h8v4h-8zm28 0h4v4h-4zm100 0h8v4h-8zm16 0h4v4h-4zm20 0h4v4h-4zm76 0h4v4h-4zm-240 4h8v4h-8zm140 0h4v4h-4zm24 0h4v4h-4zm96 0h4v4h-4zm-260 4h8v4h-8zm16 0h4v4h-4zm124 0h8v4h-8zm120 0h4v4h-4zm-520 4h4v4h-4zm224 0h8v4h-8zm32 0h8v4h-8zm16 0h4v4h-4zm128 0h20v4h-20zm52 0h12v4h-12zm68 0h4v4h-4zm-520 4h4v4h-4zm196 0h4v4h-4zm28 0h8v4h-8zm48 0h4v4h-4zm128 0h24v4h-24zm40 0h4v4h-4zm8 0h12v4h-12zm-252 4h8v4h-8zm52 0h4v4h-4zm148 0h28v4h-28zm52 0h4v4h-4zm52 0h4v4h-4zm-308 4h8v4h-8zm208 0h8v4h-8zm28 0h4v4h-4zm20 0h4v4h-4zm48 0h8v4h-8zm-236 4h4v4h-4zm144 0h8v4h-8zm44 0h4v4h-4zm-200 8h4v4h-4zm-24 4h8v4h-8zm16 0h12v4h-12zm0 4h8v4h-8zm176 0h4v4h-4zm24 0h4v4h-4zm-228 4h4v4h-4zm228 0h4v4h-4zm-448 4h4v4h-4zm204 0h4v4h-4zm16 0h4v4h-4zm28 0h8v4h-8zm224 0h4v4h-4zm-268 4h4v4h-4zm16 0h4v4h-4zm28 0h4v4h-4zm-44 4h8v4h-8zm16 0h4v4h-4zm8 0h4v4h-4zm228 0h8v4h-8zm-252 4h4v4h-4zm20 0h4v4h-4zm48 0h8v4h-8zm224 0h8v4h-8zm32 0h4v4h-4zm-520 4h4v4h-4zm216 0h4v4h-4zm48 0h8v4h-8zm192 0h4v4h-4zm36 0h4v4h-4zm-476 4h12v4h-12zm400 0h12v4h-12zm76 0h4v4h-4zm28 0h4v4h-4zm-504 4h16v4h-16zm216 0h8v4h-8zm-248 4h4v4h-4zm484 0h4v4h-4zm-272 4h8v4h-8zm68 0h4v4h-4zm136 0h4v4h-4zm44 0h4v4h-4zm20 0h8v4h-8zm40 0h8v4h-8zm-484 4h4v4h-4zm28 0h4v4h-4zm176 0h4v4h-4zm48 0h8v4h-8zm128 0h8v4h-8zm104 0h12v4h-12zm-456 4h4v4h-4zm196 0h4v4h-4zm8 0h4v4h-4zm24 0h4v4h-4zm124 0h8v4h-8zm20 0h8v4h-8zm84 0h8v4h-8zm-288 4h4v4h-4zm36 0h4v4h-4zm160 0h16v4h-16zm32 0h8v4h-8zm24 0h4v4h-4zm-52 4h12v4h-12zm32 0h4v4h-4zm-176 4h4v4h-4zm52 0h4v4h-4zm76 0h8v4h-8zm16 0h8v4h-8zm32 0h4v4h-4zm-168 4h4v4h-4zm72 0h16v4h-16zm48 0h8v4h-8zm24 0h4v4h-4zm64 0h4v4h-4zm-420 4h4v4h-4zm180 0h4v4h-4zm32 0h12v4h-12zm120 0h8v4h-8zm80 0h16v4h-16zm-412 4h16v4h-16zm256 0h4v4h-4zm152 0h4v4h-4zm12 0h4v4h-4zm16 0h4v4h-4zm-480 4h8v4h-8zm44 0h8v4h-8zm172 0h8v4h-8zm116 0h4v4h-4zm116 0h4v4h-4zm28 0h12v4h-12zm-304 4h4v4h-4zm44 0h4v4h-4zm116 0h8v4h-8zm12 0h8v4h-8zm132 0h12v4h-12zm-144 4h4v4h-4zm12 0h8v4h-8zm32 0h4v4h-4zm100 0h4v4h-4zm-416 4h4v4h-4zm296 0h4v4h-4zm-296 4h8v4h-8zm24 0h4v4h-4zm204 0h8v4h-8zm-260 4h4v4h-4zm32 0h8v4h-8zm224 0h8v4h-8zm-16 4h4v4h-4zm20 0h4v4h-4zm72 0h4v4h-4zm-192 4h4v4h-4zm96 0h8v4h-8zm28 0h4v4h-4zm12 0h4v4h-4zm8 0h4v4h-4zm44 0h8v4h-8zm24 0h4v4h-4zm40 0h4v4h-4zm-416 4h8v4h-8zm120 0h4v4h-4zm104 0h12v4h-12zm24 0h4v4h-4zm12 0h4v4h-4zm48 0h8v4h-8zm40 0h8v4h-8zm24 0h4v4h-4zm44 0h4v4h-4zm-84 4h4v4h-4z"/><path fill="#fed484" d="M980 78h4v4h-4zm-292 4h4v4h-4zm52 0h8v4h-8zm160 0h4v4h-4zm80 0h4v4h-4zm-236 4h4v4h-4zm124 0h4v4h-4zm68 0h4v4h-4zm44 0h4v4h-4zm-260 4h4v4h-4zm340 0h8v4h-8zm-236 4h4v4h-4zm12 0h4v4h-4zm100 0h4v4h-4zm120 0h12v4h-12zm36 0h4v4h-4zm-140 4h12v4h-12zm220 0h4v4h-4zm-448 4h4v4h-4zm68 0h4v4h-4zm164 0h8v4h-8zm24 0h4v4h-4zm48 0h4v4h-4zm172 0h4v4h-4zm-464 4h4v4h-4zm244 0h4v4h-4zm216 0h16v4h-16zm-260 4h4v4h-4zm44 0h4v4h-4zm216 0h12v4h-12zm-332 4h12v4h-12zm116 0h8v4h-8zm48 0h8v4h-8zm172 0h8v4h-8zm-332 4h8v4h-8zm72 0h4v4h-4zm40 0h8v4h-8zm48 0h8v4h-8zm-272 4h4v4h-4zm184 0h4v4h-4zm-196 4h8v4h-8zm116 0h4v4h-4zm28 0h4v4h-4zm-144 4h8v4h-8zm112 0h8v4h-8zm28 0h12v4h-12zm24 0h4v4h-4zm-108 4h4v4h-4zm32 0h12v4h-12zm20 0h8v4h-8zm32 0h12v4h-12zm92 0h4v4h-4zm44 0h4v4h-4zm172 0h8v4h-8zm-376 4h4v4h-4zm16 0h12v4h-12zm48 0h4v4h-4zm312 0h8v4h-8zm-428 4h4v4h-4zm44 0h12v4h-12zm24 0h8v4h-8zm-120 4h8v4h-8zm120 0h4v4h-4zm104 0h4v4h-4zm-220 4h8v4h-8zm60 0h4v4h-4zm60 0h4v4h-4zm-120 4h8v4h-8zm32 0h8v4h-8zm76 0h4v4h-4zm8 0h12v4h-12zm80 0h4v4h-4zm204 0h4v4h-4zm-400 4h4v4h-4zm36 0h4v4h-4zm84 0h4v4h-4zm8 0h4v4h-4zm68 0h8v4h-8zm32 0h4v4h-4zm60 0h4v4h-4zm112 0h4v4h-4zm16 0h4v4h-4zm-444 4h4v4h-4zm200 0h4v4h-4zm156 0h4v4h-4zm56 0h8v4h-8zm-412 4h4v4h-4zm340 0h8v4h-8zm-356 4h4v4h-4zm28 0h4v4h-4zm-8 4h12v4h-12zm92 0h4v4h-4zm132 0h8v4h-8zm-224 4h8v4h-8zm240 0h8v4h-8zm72 0h8v4h-8zm-208 4h4v4h-4zm140 0h4v4h-4zm12 0h4v4h-4zm-276 4h4v4h-4zm120 0h8v4h-8zm112 0h4v4h-4zm40 0h12v4h-12zm236 0h4v4h-4zm-276 4h4v4h-4zm276 0h4v4h-4zm-404 4h4v4h-4zm20 0h4v4h-4zm200 0h8v4h-8zm140 0h4v4h-4zm24 0h8v4h-8zm-364 4h8v4h-8zm84 0h4v4h-4zm256 0h4v4h-4zm40 0h8v4h-8zm40 0h4v4h-4zm-432 4h4v4h-4zm104 0h4v4h-4zm12 0h8v4h-8zm160 0h4v4h-4zm64 0h4v4h-4zm52 0h12v4h-12zm-364 4h4v4h-4zm68 0h16v4h-16zm180 0h4v4h-4zm120 0h8v4h-8zm-336 4h8v4h-8zm32 0h20v4h-20zm36 0h8v4h-8zm12 0h8v4h-8zm36 0h4v4h-4zm8 0h4v4h-4zm16 0h4v4h-4zm132 0h4v4h-4zm-228 4h4v4h-4zm8 0h12v4h-12zm16 0h24v4h-24zm48 0h4v4h-4zm68 0h4v4h-4zm20 0h4v4h-4zm68 0h4v4h-4zm-200 4h24v4h-24zm36 0h12v4h-12zm32 0h20v4h-20zm44 0h4v4h-4zm16 0h4v4h-4zm56 0h16v4h-16zm-196 4h4v4h-4zm12 0h16v4h-16zm36 0h20v4h-20zm28 0h48v4h-48zm56 0h16v4h-16zm40 0h4v4h-4zm24 0h16v4h-16zm60 0h4v4h-4zm24 0h8v4h-8zm-296 4h4v4h-4zm28 0h4v4h-4zm28 0h4v4h-4zm8 0h40v4h-40zm48 0h28v4h-28zm36 0h20v4h-20zm64 0h12v4h-12zm48 0h4v4h-4zm12 0h4v4h-4zm-244 4h4v4h-4zm28 0h4v4h-4zm28 0h12v4h-12zm32 0h24v4h-24zm32 0h12v4h-12zm28 0h8v4h-8zm72 0h8v4h-8zm-244 4h4v4h-4zm80 0h8v4h-8zm36 0h12v4h-12zm60 0h4v4h-4zm-364 4h4v4h-4zm212 0h4v4h-4zm44 0h4v4h-4zm24 0h4v4h-4zm100 0h8v4h-8zm36 0h4v4h-4zm-160 4h4v4h-4zm256 0h4v4h-4zm-260 4h4v4h-4zm144 0h4v4h-4zm116 0h4v4h-4zm-292 4h4v4h-4zm32 0h4v4h-4zm12 0h4v4h-4zm128 0h16v4h-16zm56 0h8v4h-8zm-456 4h4v4h-4zm196 0h4v4h-4zm28 0h8v4h-8zm176 0h24v4h-24zm56 0h4v4h-4zm-208 4h4v4h-4zm152 0h20v4h-20zm100 0h4v4h-4zm-100 4h4v4h-4zm100 0h4v4h-4zm-240 4h4v4h-4zm148 0h4v4h-4zm-160 8h4v4h-4zm-4 4h8v4h-8zm196 8h4v4h-4zm-244 4h4v4h-4zm16 0h4v4h-4zm32 0h4v4h-4zm220 0h4v4h-4zm-252 4h4v4h-4zm28 0h4v4h-4zm-44 4h4v4h-4zm256 0h4v4h-4zm-256 4h4v4h-4zm68 0h8v4h-8zm224 0h8v4h-8zm-272 4h4v4h-4zm52 0h4v4h-4zm-248 4h8v4h-8zm400 0h8v4h-8zm-404 4h16v4h-16zm216 0h8v4h-8zm-36 8h4v4h-4zm268 0h8v4h-8zm40 0h8v4h-8zm-280 4h4v4h-4zm48 0h8v4h-8zm128 0h8v4h-8zm104 0h8v4h-8zm-260 4h4v4h-4zm156 0h8v4h-8zm24 0h4v4h-4zm84 0h4v4h-4zm-92 4h12v4h-12zm28 0h8v4h-8zm24 0h4v4h-4zm-52 4h12v4h-12zm32 0h4v4h-4zm-92 8h8v4h-8zm44 0h8v4h-8zm88 0h4v4h-4zm-240 4h4v4h-4zm152 0h4v4h-4zm80 0h16v4h-16zm-412 4h8v4h-8zm12 0h4v4h-4zm-12 4h8v4h-8zm172 0h4v4h-4zm260 0h12v4h-12zm-260 4h4v4h-4zm116 0h4v4h-4zm144 0h12v4h-12zm-120 8h4v4h-4zm-296 4h8v4h-8zm24 0h4v4h-4zm204 0h8v4h-8zm-20 8h4v4h-4zm0 4h4v4h-4zm36 0h4v4h-4zm8 0h4v4h-4zm44 0h4v4h-4zm64 0h4v4h-4zm-416 4h4v4h-4zm228 0h4v4h-4zm20 0h4v4h-4zm60 0h4v4h-4zm40 0h8v4h-8zm68 0h4v4h-4z"/><path fill="#feeca2" d="M688 82h4v4h-4zm52 0h8v4h-8zm196 4h4v4h-4zm120 8h12v4h-12zm-104 4h4v4h-4zm4 4h8v4h-8zm244 4h8v4h-8zm0 4h8v4h-8zm-332 4h4v4h-4zm164 0h4v4h-4zm-176 16h4v4h-4zm32 0h8v4h-8zm-52 4h4v4h-4zm48 0h8v4h-8zm308 0h4v4h-4zm0 4h8v4h-8zm-476 8h4v4h-4zm0 8h4v4h-4zm116 0h12v4h-12zm-116 4h4v4h-4zm196 0h8v4h-8zm92 0h4v4h-4zm28 8h4v4h-4zm-128 20h4v4h-4zm44 0h4v4h-4zm48 8h8v4h-8zm164 0h4v4h-4zm56 4h4v4h-4zm-432 4h4v4h-4zm104 0h4v4h-4zm12 0h4v4h-4zm280 0h8v4h-8zm-300 4h4v4h-4zm8 0h4v4h-4zm292 0h8v4h-8zm-332 4h4v4h-4zm32 0h16v4h-16zm36 0h4v4h-4zm12 0h4v4h-4zm32 0h4v4h-4zm-48 4h20v4h-20zm136 0h4v4h-4zm68 0h4v4h-4zm-196 4h12v4h-12zm32 0h12v4h-12zm36 0h16v4h-16zm56 0h4v4h-4zm60 0h8v4h-8zm-152 4h20v4h-20zm28 0h4v4h-4zm8 0h16v4h-16zm20 0h20v4h-20zm28 0h12v4h-12zm40 0h4v4h-4zm24 0h16v4h-16zm-212 4h4v4h-4zm28 0h4v4h-4zm40 0h16v4h-16zm20 0h8v4h-8zm28 0h24v4h-24zm32 0h16v4h-16zm68 0h8v4h-8zm-132 4h12v4h-12zm32 0h24v4h-24zm32 0h12v4h-12zm-28 4h12v4h-12zm-304 4h4v4h-4zm256 0h4v4h-4zm24 0h4v4h-4zm100 0h4v4h-4zm132 4h4v4h-4zm-120 8h12v4h-12zm60 0h4v4h-4zm-236 4h4v4h-4zm176 0h20v4h-20zm0 4h16v4h-16zm-152 16h4v4h-4zm0 4h4v4h-4zm-36 12h4v4h-4zm240 8h4v4h-4zm-432 12h8v4h-8zm400 0h4v4h-4zm-400 4h8v4h-8zm448 8h4v4h-4zm40 4h4v4h-4zm-148 20h4v4h-4zm128 4h4v4h-4zm-416 4h4v4h-4zm-4 4h4v4h-4zm436 0h4v4h-4zm-148 4h4v4h-4zm148 0h4v4h-4zm-124 8h4v4h-4zm-296 4h8v4h-8zm24 0h4v4h-4zm184 12h4v4h-4zm-36 4h4v4h-4zm124 0h4v4h-4z"/><path fill="#ffffbf" d="M1060 94h4v4h-4zm140 12h8v4h-8zm0 4h8v4h-8zm-168 4h4v4h-4zm-176 16h4v4h-4zm32 0h4v4h-4zm-52 4h4v4h-4zm52 0h4v4h-4zm304 4h4v4h-4zm-360 16h8v4h-8zm80 4h4v4h-4zm92 0h4v4h-4zm-104 44h4v4h-4zm280 0h8v4h-8zm0 4h4v4h-4zm-332 4h4v4h-4zm32 0h4v4h-4zm8 0h8v4h-8zm36 4h8v4h-8zm124 0h4v4h-4zm-124 4h8v4h-8zm64 0h16v4h-16zm-36 4h20v4h-20zm36 0h16v4h-16zm24 0h12v4h-12zm28 0h4v4h-4zm60 0h12v4h-12zm-212 4h4v4h-4zm76 0h4v4h-4zm16 0h4v4h-4zm24 0h24v4h-24zm32 0h16v4h-16zm68 0h4v4h-4zm-124 4h4v4h-4zm28 0h16v4h-16zm28 0h12v4h-12zm-24 4h8v4h-8zm72 4h4v4h-4zm132 4h4v4h-4zm-116 8h8v4h-8zm-4 4h16v4h-16zm0 4h8v4h-8zm-152 20h4v4h-4zm204 20h4v4h-4zm-432 16h8v4h-8zm448 8h4v4h-4zm-108 24h4v4h-4zm128 4h4v4h-4zm-420 8h4v4h-4zm16 16h4v4h-4zm24 0h4v4h-4z"/><path fill="#ecf8e3" d="M1060 94h4v4h-4zm140 16h4v4h-4zm-312 20h4v4h-4zm-52 24h4v4h-4zm76 4h4v4h-4zm92 0h4v4h-4zm-104 44h4v4h-4zm-52 8h4v4h-4zm40 0h8v4h-8zm36 4h8v4h-8zm124 0h4v4h-4zm-124 4h4v4h-4zm68 0h12v4h-12zm-36 4h16v4h-16zm36 0h12v4h-12zm20 0h12v4h-12zm92 0h8v4h-8zm-140 4h4v4h-4zm16 0h4v4h-4zm28 0h20v4h-20zm32 0h8v4h-8zm-32 4h16v4h-16zm28 0h8v4h-8zm-24 4h4v4h-4zm72 4h4v4h-4zm132 4h4v4h-4zm-116 8h4v4h-4zm-4 4h12v4h-12zm0 4h8v4h-8zm-152 20h4v4h-4zm-224 36h4v4h-4zm444 8h4v4h-4zm-360 52h4v4h-4z"/><path fill="#d3ecf4" d="M888 130h4v4h-4zm-52 24h4v4h-4zm76 4h4v4h-4zm92 0h4v4h-4zm-104 44h4v4h-4zm24 12h4v4h-4zm124 0h4v4h-4zm-56 4h12v4h-12zm-36 4h16v4h-16zm36 0h8v4h-8zm20 0h8v4h-8zm-48 4h4v4h-4zm16 0h4v4h-4zm28 0h20v4h-20zm32 0h4v4h-4zm-32 4h16v4h-16zm32 0h4v4h-4zm-28 4h4v4h-4zm72 4h4v4h-4zm16 12h4v4h-4zm-4 4h8v4h-8zm0 4h8v4h-8zm68 64h4v4h-4z"/><path fill="#b2dceb" d="M836 154h4v4h-4zm168 4h4v4h-4zm44 56h4v4h-4zm-56 4h12v4h-12zm-36 4h8v4h-8zm12 0h4v4h-4zm24 0h8v4h-8zm-12 4h4v4h-4zm28 0h20v4h-20zm32 0h4v4h-4zm-32 4h16v4h-16zm32 0h4v4h-4zm44 8h4v4h-4zm16 12h4v4h-4zm-4 4h8v4h-8zm0 4h8v4h-8zm68 64h4v4h-4z"/><path fill="#90c3dd" d="M836 154h4v4h-4zm168 4h4v4h-4zm-12 60h8v4h-8zm-36 4h8v4h-8zm40 0h4v4h-4zm-16 4h4v4h-4zm28 0h16v4h-16zm0 4h16v4h-16zm32 0h4v4h-4zm60 20h4v4h-4zm-4 4h8v4h-8zm0 4h8v4h-8zm68 64h4v4h-4z"/><path fill="#6ea6cd" d="M836 154h4v4h-4zm168 4h4v4h-4zm-12 60h8v4h-8zm-12 8h4v4h-4zm28 0h16v4h-16zm0 4h16v4h-16zm88 24h8v4h-8zm0 4h4v4h-4z"/><path fill="#5183bb" d="M836 154h4v4h-4zm160 64h4v4h-4zm12 8h16v4h-16zm0 4h16v4h-16zm92 24h4v4h-4z"/><path fill="#3e5da8" d="M836 154h4v4h-4zm160 64h4v4h-4zm12 8h16v4h-16zm0 4h16v4h-16z"/><path fill="#313695" d="M836 154h4v4h-4zm160 64h4v4h-4zm16 8h12v4h-12zm-4 4h12v4h-12z"/></g></g><path fill="none" stroke="#000" stroke-width="0.9" d="M749 80L752 84L748 88L745 89L735 84L731 80ZM985 80L986 84L985 88L983 90L981 90L979 88L980 84L981 80ZM1184 80L1183 80L1181 80ZM673 170L675 172L673 174ZM673 186L677 186L679 188L681 192L677 194L673 193ZM1219 205L1215 205L1214 202L1215 199L1219 197ZM1219 257L1217 254L1216 246L1217 244L1219 242ZM1219 309L1218 306L1219 303ZM1219 315L1218 314L1218 312L1219 310ZM689 81L693 84L689 87L687 84L689 81ZM901 81L903 82L905 84L903 86L901 86L899 86L897 84L901 81ZM961 81L963 82L964 84L963 85L961 86L959 85L957 84L961 81ZM853 82L856 84L853 85L851 84L853 82ZM909 83L912 84L911 85L909 84L908 84L909 83ZM915 85L919 87L919 90L917 90L913 88L913 86L915 85ZM937 85L939 84L941 84L943 88L943 96L941 99L939 100L937 100L936 96L936 88L937 85ZM869 86L871 86L872 88L871 89L869 89L868 88L869 86ZM877 86L879 87L880 88L877 88L876 88L877 86ZM721 88L723 90L724 96L729 100L731 104L729 107L725 107L723 104L722 100L719 96L718 92L721 88ZM1061 89L1063 88L1067 90L1068 92L1070 96L1068 98L1063 99L1059 98L1057 97L1056 96L1057 93L1061 89ZM1095 90L1097 92L1097 96L1095 98L1091 98L1089 96L1095 90ZM1195 91L1197 92L1195 93L1194 92L1195 91ZM823 93L825 92L827 93L828 96L828 100L825 101L820 96L823 93ZM969 93L971 92L973 96L971 97L969 97L968 96L969 93ZM837 94L839 94L842 100L839 100L837 99L836 96L837 94ZM849 95L853 94L855 96L853 97L849 95ZM881 95L886 96L885 97L883 97L881 97L880 96L881 95ZM1165 95L1167 95L1170 96L1167 100L1165 95ZM1173 95L1175 94L1177 94L1179 96L1178 100L1175 102L1172 100L1172 96L1173 95ZM953 97L963 97L965 98L968 104L966 108L961 109L957 108L950 100L953 97ZM1005 97L1007 97L1007 100L1003 100L1005 97ZM1027 96L1031 98L1032 100L1032 108L1036 112L1037 116L1034 128L1032 132L1031 132L1026 134L1023 138L1019 139L1017 138L1017 135L1019 133L1024 132L1026 128L1029 124L1028 120L1029 108L1026 104L1025 99L1027 96ZM1199 97L1214 108L1213 114L1211 119L1210 120L1207 120L1201 118L1188 108L1191 106L1195 106L1196 106L1198 104L1198 100L1199 97ZM793 101L796 104L795 105L793 106L788 104L793 101ZM853 101L855 102L855 104L856 108L855 108L853 108L852 104L853 101ZM737 103L739 108L737 110L735 107L737 103ZM981 102L983 102L984 104L985 107L990 116L989 122L987 124L985 124L981 121L980 120L980 104L981 102ZM833 107L837 107L839 108L837 109L833 110L832 108L833 107ZM933 107L935 107L937 109L941 110L943 110L945 108L948 112L944 116L947 117L948 120L948 124L943 128L944 132L941 134L937 134L935 132L937 128L940 118L942 116L937 114L934 112L933 107ZM863 111L869 110L871 110L875 114L877 120L875 124L873 125L871 125L869 123L864 116L862 112L863 111ZM925 111L927 110L928 112L927 113L925 112L924 112L925 111ZM729 115L730 116L729 118L728 116L729 115ZM749 114L753 114L755 116L755 118L757 119L761 119L762 120L759 126L755 128L751 133L749 134L745 134L742 132L743 128L745 126L751 125L755 120L748 118L747 116L749 114ZM897 114L900 116L901 120L896 138L883 142L881 142L879 140L881 136L884 132L889 126L895 124L894 120L895 116L897 114ZM685 117L687 120L687 122L685 124L683 120L685 117ZM967 119L969 119L971 119L971 122L969 122L967 121L966 120L967 119ZM693 123L697 123L698 124L697 127L693 125L691 124L693 123ZM1157 123L1159 124L1159 124L1157 124L1156 124L1157 123ZM861 125L868 128L865 130L859 137L853 139L848 138L848 136L853 133L857 127L861 125ZM1109 127L1111 127L1112 128L1112 132L1111 132L1108 132L1108 128L1109 127ZM835 129L837 128L839 129L840 132L846 138L847 140L843 144L842 148L841 152L847 155L848 158L849 160L847 162L845 163L841 162L837 162L833 160L831 160L827 162L821 160L820 158L821 155L825 154L828 156L829 157L829 156L834 152L829 148L827 140L825 140L821 142L817 147L811 146L809 146L808 144L811 141L814 138L817 136L821 138L827 139L829 138L831 132L835 129ZM971 129L973 128L975 128L983 131L984 132L983 136L979 139L975 140L970 136L971 129ZM701 131L701 135L701 131ZM909 130L911 130L912 132L912 134L911 135L909 134L908 132L909 130ZM1147 131L1148 136L1147 137L1144 136L1146 132L1147 131ZM729 132L732 136L729 138L727 136L729 132ZM803 133L807 133L807 136L801 139L799 138L799 136L801 134L803 133ZM1193 133L1195 133L1201 135L1204 140L1203 142L1199 144L1195 145L1191 142L1190 140L1190 136L1193 133ZM1157 139L1159 138L1160 140L1159 142L1157 141L1157 139ZM763 141L765 140L767 140L771 143L770 146L765 148L763 150L762 152L763 156L761 157L757 158L755 162L752 166L751 168L749 170L745 171L741 170L740 168L740 164L741 162L745 164L747 164L748 162L747 156L749 153L753 153L757 154L759 153L760 150L759 144L763 141ZM909 141L910 144L909 145L908 144L909 141ZM713 143L717 142L719 143L723 148L725 152L724 156L723 160L721 162L718 164L719 168L717 170L716 168L716 164L713 160L713 156L711 152L712 146L713 143ZM897 142L901 142L903 143L903 146L897 151L894 152L893 148L897 142ZM1009 143L1011 142L1015 143L1019 142L1021 144L1020 146L1019 146L1015 144L1009 144L1007 144L1009 143ZM1175 143L1176 144L1175 146L1174 144L1175 143ZM937 145L939 146L939 148L939 151L937 151L936 148L937 145ZM693 147L697 150L698 152L693 154L691 154L691 152L693 147ZM775 147L777 146L779 147L784 152L782 154L779 155L777 155L775 155L773 154L772 152L775 147ZM957 151L959 151L959 153L957 151ZM1183 150L1184 152L1183 154L1182 152L1183 150ZM1197 151L1199 150L1201 152L1199 153L1196 152L1197 151ZM685 155L689 154L693 158L694 160L691 164L691 168L689 170L686 168L686 164L681 161L680 160L685 155ZM911 155L915 154L918 156L921 160L920 162L919 163L915 164L911 163L910 162L909 160L911 155ZM973 154L975 154L976 156L975 157L973 156L972 156L973 154ZM1001 155L1007 156L1009 157L1010 160L1009 162L1007 163L1005 163L1002 162L1000 156L1001 155ZM1117 155L1119 154L1121 156L1122 158L1122 160L1119 164L1117 163L1115 160L1117 155ZM939 157L945 158L948 160L947 161L945 162L939 161L937 160L939 157ZM1135 157L1139 158L1140 160L1139 162L1135 163L1132 162L1131 160L1135 157ZM733 159L734 160L733 159ZM1045 159L1047 158L1049 158L1052 160L1053 164L1051 168L1047 169L1045 168L1044 164L1045 159ZM887 163L889 162L893 163L894 164L895 167L901 167L904 168L903 170L901 170L895 168L889 169L887 166L887 163ZM1033 163L1035 164L1038 168L1035 173L1033 173L1025 174L1023 174L1023 171L1021 169L1015 168L1019 167L1023 168L1025 169L1031 164L1033 163ZM1061 163L1063 162L1066 164L1065 166L1063 166L1061 165L1059 164L1061 163ZM1101 163L1103 162L1107 162L1109 164L1112 172L1111 174L1109 175L1107 181L1106 176L1108 174L1108 172L1107 170L1103 169L1101 168L1101 163ZM769 167L770 168L769 169L768 168L769 167ZM923 167L926 170L927 171L927 176L923 179L921 180L917 179L916 176L917 174L921 168L923 167ZM971 166L975 167L977 170L979 171L981 170L985 172L987 174L988 176L987 176L985 176L979 173L975 176L974 178L974 180L971 181L969 180L969 170L970 168L971 166ZM1171 167L1173 168L1173 170L1171 170L1170 168L1171 167ZM699 171L701 170L704 172L706 176L705 178L701 181L697 182L689 181L687 180L687 176L689 174L695 174L699 171ZM785 171L787 172L788 174L785 181L782 176L785 171ZM825 171L828 172L827 173L825 174L824 172L825 171ZM1085 171L1087 172L1085 171ZM777 175L778 176L777 176L777 175ZM1023 174L1023 176L1023 174ZM1069 175L1071 175L1072 176L1071 179L1069 178L1068 178L1069 175ZM1167 174L1171 174L1173 179L1177 182L1179 184L1183 184L1187 188L1189 192L1188 194L1185 196L1185 198L1186 200L1192 204L1192 206L1187 212L1183 213L1178 210L1174 206L1173 204L1173 200L1178 196L1178 192L1175 189L1171 188L1169 184L1170 180L1166 178L1165 176L1167 174ZM933 177L935 177L941 178L944 180L945 181L954 184L957 188L958 190L957 193L953 193L949 193L941 189L939 192L937 192L936 188L932 184L932 180L933 177ZM1005 176L1007 176L1011 177L1012 180L1011 182L1007 183L1002 182L1002 180L1005 176ZM717 178L721 178L722 180L722 182L721 183L717 182L716 180L717 178ZM873 179L875 181L876 184L875 186L873 186L871 184L871 181L873 179ZM793 181L797 181L799 184L799 188L798 192L804 200L805 202L803 204L801 205L797 203L795 202L795 196L787 188L785 186L787 185L789 186L793 181ZM773 183L773 184L773 183ZM785 182L786 184L785 185L785 182ZM905 183L909 182L912 184L910 188L909 195L907 196L905 196L903 194L902 192L903 186L905 183ZM1107 182L1109 184L1107 188L1107 182ZM999 189L1003 191L1006 196L1005 200L1003 201L999 201L994 198L994 196L997 190L999 189ZM717 191L721 191L722 194L720 196L717 197L715 195L716 192L717 191ZM1137 193L1140 194L1143 195L1143 202L1141 203L1137 202L1133 200L1133 196L1137 193ZM1161 193L1163 192L1167 192L1170 196L1169 198L1163 202L1159 200L1158 198L1158 196L1161 193ZM777 195L780 196L781 197L777 198L776 196L777 195ZM879 195L881 195L884 196L887 198L891 200L893 204L897 206L900 202L903 198L910 204L911 206L909 207L900 210L900 212L901 213L908 216L907 218L905 219L893 218L888 220L887 222L888 224L893 228L892 234L896 236L896 238L895 240L891 242L889 240L889 234L885 228L884 220L882 218L877 215L876 214L877 198L879 195ZM911 195L916 196L916 198L913 198L910 196L911 195ZM1103 194L1104 196L1103 197L1102 196L1103 194ZM1123 195L1124 196L1123 197L1122 196L1123 195ZM783 199L785 198L787 200L790 204L790 208L788 210L783 210L780 208L780 204L781 201L783 199ZM963 199L965 200L963 202L962 202L961 200L963 199ZM1019 199L1019 200L1018 200L1019 199ZM1067 199L1071 199L1072 204L1071 206L1067 211L1063 211L1058 206L1058 204L1067 199ZM1127 198L1129 200L1129 202L1129 204L1127 206L1124 206L1124 204L1126 200L1127 198ZM681 203L682 204L681 206L680 204L681 203ZM813 203L815 205L815 209L809 214L808 212L807 208L809 206L813 203ZM829 203L833 203L835 204L835 206L834 208L831 208L829 206L829 203ZM921 203L923 202L926 204L926 206L923 207L921 206L920 204L921 203ZM1039 205L1041 208L1041 210L1039 211L1037 210L1037 208L1039 205ZM861 207L867 212L866 214L865 214L857 214L849 217L845 216L843 214L843 212L845 210L849 209L855 209L861 207ZM913 207L919 209L931 210L933 212L940 220L939 222L935 224L931 228L925 228L922 232L921 240L919 242L917 243L914 242L914 240L917 238L916 236L913 232L914 228L915 226L915 224L912 222L911 214L911 210L913 207ZM961 207L963 207L965 210L967 211L972 212L972 214L971 214L967 214L965 216L965 218L967 219L971 220L975 223L977 224L979 223L981 222L982 220L981 218L981 214L982 212L985 209L987 210L989 216L1001 216L1009 220L1011 220L1017 220L1021 217L1023 217L1025 220L1027 220L1029 214L1031 213L1035 215L1037 218L1039 219L1043 219L1048 214L1051 213L1053 216L1052 224L1053 226L1055 228L1056 232L1054 234L1041 236L1037 235L1031 231L1025 236L1019 239L1015 240L1009 238L995 230L988 232L983 237L979 239L975 239L973 239L969 235L963 232L959 232L958 234L963 237L965 240L964 250L959 255L953 255L951 257L950 256L955 248L956 244L955 240L951 233L945 234L944 234L943 232L945 227L949 226L950 226L950 218L951 216L956 214L961 207ZM1107 207L1111 207L1112 208L1111 211L1107 214L1105 212L1104 210L1106 208L1107 207ZM1119 209L1121 212L1123 216L1123 220L1119 224L1115 230L1107 233L1101 231L1100 230L1099 226L1100 220L1107 216L1111 217L1115 216L1117 211L1119 209ZM1009 215L1011 214L1013 215L1013 218L1011 219L1009 219L1008 218L1009 215ZM753 219L755 220L754 222L753 222L751 222L752 220L753 219ZM1187 219L1191 218L1192 220L1195 224L1196 226L1196 228L1195 229L1187 228L1186 228L1185 226L1185 224L1187 219ZM1163 221L1166 224L1166 226L1165 229L1163 230L1161 229L1160 226L1161 223L1163 221ZM905 222L907 222L908 224L908 226L905 225L904 223L905 222ZM1033 223L1032 224L1031 225L1033 226L1034 226L1035 224L1033 223ZM1077 223L1079 222L1081 224L1081 226L1079 227L1076 226L1076 224L1077 223ZM1151 222L1153 224L1155 228L1154 230L1151 234L1149 233L1148 232L1148 230L1149 225L1151 222ZM1139 227L1144 228L1146 230L1146 232L1143 237L1139 238L1137 236L1137 234L1137 230L1139 227ZM1175 227L1175 230L1174 230L1175 227ZM713 229L718 232L720 234L720 240L717 241L711 238L712 232L713 229ZM735 231L737 231L737 233L733 238L732 236L733 232L735 231ZM1065 231L1069 230L1071 230L1072 234L1072 238L1071 238L1069 238L1065 236L1063 234L1064 232L1065 231ZM1091 232L1094 234L1094 236L1095 242L1097 242L1099 242L1103 238L1105 240L1105 242L1103 244L1104 246L1107 248L1111 250L1117 250L1119 251L1121 256L1122 258L1122 262L1123 263L1125 261L1127 260L1128 262L1128 266L1127 269L1121 264L1113 263L1110 264L1108 266L1108 270L1107 272L1105 272L1103 271L1097 265L1094 262L1094 260L1094 256L1097 248L1095 242L1091 243L1087 245L1085 245L1082 242L1083 240L1090 236L1091 232ZM687 237L689 237L690 240L690 242L684 242L684 240L685 238L687 237ZM1199 236L1201 240L1200 242L1199 243L1197 242L1196 240L1197 238L1199 236ZM703 239L705 238L708 240L708 242L705 245L702 242L703 239ZM983 239L985 238L987 238L988 240L988 242L987 243L985 243L983 242L983 239ZM1123 239L1124 242L1124 244L1123 246L1121 244L1121 242L1123 239ZM1155 245L1156 248L1161 251L1161 254L1159 257L1155 259L1151 260L1149 262L1149 268L1147 270L1145 268L1143 262L1137 258L1136 256L1139 255L1143 255L1147 254L1153 250L1155 245ZM709 247L713 249L715 252L713 253L709 253L707 250L709 247ZM973 247L975 248L976 250L975 252L971 257L969 257L967 254L967 252L969 249L973 247ZM925 249L927 250L929 258L927 259L923 259L921 259L918 258L918 256L919 254L921 252L925 249ZM697 251L700 254L701 256L700 258L697 260L694 258L694 256L694 254L697 251ZM1199 252L1201 254L1199 255L1198 254L1199 252ZM893 254L895 254L900 260L901 262L897 264L893 268L891 268L889 268L888 266L891 261L893 254ZM1199 256L1203 257L1203 264L1203 266L1199 268L1194 266L1193 264L1195 260L1198 258L1199 256ZM945 259L947 259L948 260L947 262L945 262L945 259ZM917 267L917 268L917 267ZM957 267L961 266L963 268L962 270L957 270L955 270L956 268L957 267ZM677 268L681 272L677 273L676 272L676 270L677 268ZM1127 270L1127 272L1127 270ZM943 275L945 274L948 276L949 278L949 282L947 284L941 287L937 286L935 284L935 282L943 275ZM921 277L925 278L927 280L927 282L925 283L921 282L920 282L920 280L921 277ZM1115 282L1120 284L1119 286L1114 286L1114 284L1115 282ZM1139 283L1141 284L1142 286L1139 290L1138 290L1137 287L1137 286L1139 283ZM909 288L911 288L913 292L913 298L915 299L919 299L920 302L917 304L916 310L915 311L913 311L912 304L909 302L906 298L907 292L909 288ZM891 291L893 290L895 290L896 292L899 300L899 302L897 306L895 307L893 308L891 306L890 302L890 298L889 294L891 291ZM939 291L941 290L943 290L944 292L945 294L939 299L937 299L935 298L935 296L937 292L939 291ZM1163 291L1165 293L1165 296L1165 298L1163 298L1161 296L1161 293L1163 291ZM685 293L689 292L693 294L689 297L685 297L683 296L684 294L685 293ZM1147 299L1151 298L1153 300L1153 302L1151 304L1147 302L1146 302L1147 299ZM961 301L963 301L968 304L969 306L969 310L967 311L959 312L957 306L959 302L961 301ZM1189 301L1191 300L1193 304L1193 320L1191 322L1188 322L1187 320L1189 318L1188 314L1185 306L1185 304L1189 301ZM697 307L701 310L697 314L696 310L697 307ZM1155 307L1156 310L1155 310L1154 310L1154 308L1155 307ZM717 309L721 309L726 314L727 318L723 321L721 322L717 322L707 318L711 313L717 309ZM1117 309L1119 308L1123 310L1124 314L1123 315L1119 316L1112 314L1114 312L1117 309ZM929 315L933 315L935 316L936 318L935 320L933 321L931 320L929 320L927 318L929 315ZM681 317L683 318L684 322L681 326L678 324L677 322L681 317ZM705 319L706 320L706 322L705 322L704 322L705 319ZM1163 321L1167 320L1169 322L1171 326L1169 329L1167 330L1163 328L1161 326L1162 324L1163 321ZM1203 321L1207 322L1209 324L1211 326L1214 328L1214 330L1211 334L1207 336L1203 335L1201 331L1200 326L1201 323L1203 321ZM749 323L750 330L747 334L745 335L743 335L741 334L743 330L745 325L749 323ZM893 322L895 322L897 322L899 324L899 327L897 330L893 329L892 328L891 326L893 322ZM961 324L963 324L964 326L963 327L961 326L960 326L961 324ZM973 325L975 326L977 330L978 336L977 338L975 337L971 334L967 333L965 330L966 328L973 325ZM1097 325L1099 324L1103 326L1106 330L1106 334L1103 335L1099 335L1095 334L1097 325ZM1143 324L1144 326L1143 327L1142 326L1143 324ZM717 327L720 330L717 332L714 330L717 327ZM921 327L923 327L928 330L923 331L921 331L920 330L921 327ZM1121 329L1124 330L1128 334L1127 338L1124 346L1125 350L1123 350L1121 350L1119 349L1115 349L1111 347L1109 348L1103 355L1099 357L1097 357L1094 354L1094 352L1094 350L1097 344L1099 342L1107 344L1109 343L1110 342L1109 338L1110 336L1115 332L1121 329ZM939 331L943 330L947 332L949 332L951 332L952 334L952 338L949 339L945 339L939 335L936 334L939 331ZM1135 332L1136 334L1134 334L1135 332ZM1141 333L1143 332L1147 333L1150 338L1150 344L1147 347L1140 338L1141 333ZM911 335L913 335L916 338L913 339L911 339L910 338L911 335ZM1167 335L1169 338L1167 339L1165 338L1167 335ZM677 336L681 338L677 339L676 338L677 336ZM1021 343L1023 344L1024 346L1023 347L1021 347L1019 346L1021 343ZM971 345L971 346L969 346L971 345ZM1053 347L1059 347L1062 348L1065 350L1065 354L1059 355L1055 352L1050 350L1051 348L1053 347ZM1185 347L1187 346L1191 348L1192 350L1193 354L1191 357L1187 359L1183 356L1179 357L1175 360L1171 362L1170 362L1171 358L1173 354L1183 350L1185 347ZM891 349L892 350L891 349ZM977 349L979 348L983 351L987 352L989 354L987 356L985 356L977 355L975 354L977 349ZM765 351L769 352L773 355L777 355L779 358L778 360L777 361L773 360L769 365L765 365L762 362L764 354L765 351ZM945 350L947 350L948 352L948 354L947 355L945 355L944 354L945 350ZM1211 350L1215 350L1217 352L1217 354L1215 357L1210 356L1209 354L1211 350ZM1029 353L1029 354L1028 354L1029 353ZM1203 355L1207 357L1213 359L1213 362L1211 366L1204 370L1199 373L1195 372L1194 370L1197 360L1199 357L1203 355ZM1021 357L1023 356L1025 358L1023 358L1021 358L1021 357ZM721 359L725 360L727 361L729 364L733 364L734 366L733 366L721 366L720 362L721 359ZM937 359L939 358L941 359L943 362L942 366L939 367L937 367L935 366L935 362L937 359ZM1053 361L1055 360L1059 361L1061 366L1058 370L1055 371L1052 370L1050 366L1053 361ZM1067 363L1071 364L1072 366L1071 370L1067 371L1065 370L1064 366L1067 363ZM893 364L895 365L896 366L895 366L893 367L892 366L893 364ZM1099 367L1101 370L1099 370L1098 370L1099 367ZM901 369L902 370L901 370L901 369ZM1079 371L1081 372L1082 374L1079 377L1077 377L1076 376L1076 374L1077 372L1079 371ZM781 372L787 374L789 376L790 378L789 385L781 383L780 382L777 378L779 374L781 372ZM1175 373L1177 374L1175 374L1173 374L1175 373ZM805 375L808 376L809 377L807 380L805 380L803 378L805 375ZM1009 375L1013 374L1015 375L1016 378L1013 382L1019 387L1025 384L1027 384L1029 386L1031 387L1035 386L1039 389L1041 394L1035 395L1033 395L1029 394L1024 394L1019 391L1013 391L1010 390L1006 386L1004 382L1005 378L1009 375ZM1203 377L1203 378L1203 377ZM697 381L698 382L697 383L696 382L697 381ZM749 380L750 382L749 382L748 382L749 380ZM831 381L830 382L831 381ZM837 381L839 382L837 382L835 382L837 381ZM911 381L913 382L911 382L910 382L911 381ZM1155 381L1155 382L1154 382L1155 381ZM841 384L845 387L847 390L847 394L845 395L841 393L840 386L841 384ZM989 384L991 384L992 386L992 392L989 395L985 395L983 394L983 390L989 384ZM1081 384L1083 384L1084 386L1084 390L1083 394L1079 396L1075 396L1073 395L1072 394L1073 392L1081 384ZM711 389L713 389L714 390L713 391L710 390L711 389ZM725 388L729 390L732 394L729 396L725 396L722 394L725 388ZM889 389L891 390L889 391L888 390L889 389ZM953 389L955 389L963 394L955 397L953 397L949 394L950 392L953 389ZM1099 389L1103 389L1104 390L1102 394L1099 395L1097 394L1099 389ZM1141 389L1143 388L1145 390L1146 394L1143 396L1141 395L1140 394L1141 389ZM975 391L977 394L975 398L973 398L969 394L973 392L975 391ZM1055 395L1059 395L1061 398L1059 399L1055 399L1053 398L1055 395ZM1219 248L1218 246L1219 243ZM741 83L745 82L746 84L745 85L741 83ZM1061 93L1063 92L1065 93L1067 96L1063 97L1061 97L1059 96L1061 93ZM955 99L956 100L955 101L953 100L955 99ZM959 102L961 103L962 104L959 104L958 104L959 102ZM1203 104L1209 108L1210 112L1207 116L1203 116L1200 112L1200 108L1203 104ZM869 115L871 116L869 116L868 116L869 115ZM1031 115L1033 114L1035 115L1035 117L1033 119L1032 118L1031 115ZM889 129L891 129L894 132L893 136L889 137L887 137L885 136L886 132L889 129ZM857 131L859 130L860 132L857 134L857 131ZM835 135L837 134L840 136L840 138L839 139L837 140L835 138L835 135ZM1195 135L1198 138L1199 140L1195 142L1193 140L1195 135ZM717 147L718 150L717 152L719 152L721 156L717 160L716 156L717 152L716 148L717 147ZM835 153L837 152L839 152L843 156L842 158L839 160L837 160L835 159L834 158L833 156L835 153ZM913 157L915 157L918 160L916 162L913 162L911 160L913 157ZM1005 157L1007 157L1009 160L1007 162L1005 162L1003 160L1005 157ZM1033 167L1035 168L1033 169L1032 168L1033 167ZM901 203L903 202L905 204L904 206L901 206L900 204L901 203ZM1181 202L1183 202L1188 204L1188 206L1187 208L1183 210L1180 208L1179 204L1181 202ZM883 207L885 208L887 208L888 208L889 206L890 208L895 210L896 212L896 214L895 215L891 215L881 214L879 212L881 208L883 207ZM849 211L852 212L851 214L849 214L848 214L847 212L849 211ZM915 213L917 212L921 214L929 212L931 213L933 216L933 220L931 223L929 224L925 224L921 223L919 222L915 218L914 216L915 213ZM1049 215L1051 215L1052 216L1052 218L1051 219L1049 219L1048 218L1049 215ZM1119 215L1119 217L1119 215ZM995 217L999 217L1003 218L1004 220L1006 224L1007 225L1015 222L1023 222L1027 224L1029 228L1029 230L1026 234L1023 235L1017 238L1013 238L1009 236L1001 228L991 227L988 226L987 222L988 220L995 217ZM955 219L959 220L961 219L965 221L971 222L972 224L973 228L975 229L977 229L981 225L983 224L986 226L987 228L983 233L975 236L973 231L971 230L967 231L961 229L955 228L953 226L953 224L953 222L955 219ZM1047 220L1048 224L1052 228L1052 230L1046 234L1043 235L1038 234L1036 232L1037 229L1039 224L1043 223L1047 220ZM1103 221L1107 220L1111 220L1113 222L1115 224L1114 226L1111 228L1107 230L1105 229L1103 228L1101 226L1101 224L1103 221ZM889 227L890 228L889 230L889 227ZM1085 239L1087 239L1089 239L1089 242L1087 243L1085 242L1085 239ZM1101 249L1103 249L1111 254L1115 255L1116 258L1115 260L1107 262L1103 264L1099 264L1096 262L1096 258L1097 254L1101 249ZM945 277L947 278L947 280L947 282L945 282L943 282L943 280L945 277ZM717 313L721 312L723 316L724 318L721 319L717 319L715 318L715 315L717 313ZM1165 323L1167 322L1169 324L1169 325L1167 328L1164 326L1165 323ZM1207 328L1207 330L1206 330L1207 328ZM1057 349L1059 349L1060 350L1059 351L1056 350L1057 349ZM1187 350L1190 354L1187 355L1184 354L1187 350ZM767 357L770 358L768 362L765 362L764 362L765 358L767 357ZM1203 361L1204 362L1204 364L1203 366L1202 366L1201 364L1201 362L1203 361ZM781 376L783 376L785 378L783 379L781 379L780 378L781 376ZM805 377L807 378L805 378L804 378L805 377ZM837 153L839 154L840 156L839 158L837 158L834 156L837 153ZM1005 159L1007 159L1007 160L1007 160L1005 160L1005 159ZM925 217L927 216L929 218L927 219L925 217ZM993 219L997 218L1001 219L1002 220L1003 222L1003 224L1001 225L999 226L993 225L991 222L993 219ZM957 223L961 222L965 223L969 223L970 224L971 226L967 228L965 228L956 226L956 224L957 223ZM1011 225L1015 224L1023 224L1027 228L1027 230L1023 234L1015 237L1013 236L1008 234L1007 230L1007 228L1011 225ZM981 227L983 226L984 228L983 231L981 231L980 230L981 227ZM1041 227L1043 226L1046 227L1046 230L1045 232L1043 233L1041 233L1039 232L1041 227ZM1103 251L1106 254L1107 258L1104 262L1099 263L1097 260L1097 257L1099 254L1103 251ZM1167 324L1168 326L1167 326L1166 326L1167 324ZM837 154L839 156L837 157L836 156L837 154ZM995 219L999 219L1000 220L1001 222L999 224L995 224L993 222L995 219ZM1015 225L1021 226L1025 228L1025 230L1023 233L1015 235L1009 234L1008 232L1009 228L1015 225ZM1103 253L1104 256L1103 260L1099 261L1098 258L1099 256L1103 253ZM997 221L999 222L997 222L996 222L997 221ZM1013 227L1023 228L1024 230L1023 232L1018 234L1015 234L1011 233L1009 232L1009 230L1011 228L1013 227ZM1011 229L1019 228L1021 228L1022 230L1021 232L1015 233L1011 232L1011 229Z"/><path fill="none" stroke="#000" stroke-width="1" stroke-linejoin="round" d="M680.0 78.5L817.0 78.5L820.0 75.5L826.0 75.5L829.0 78.5L860.0 78.5L863.0 75.5L869.0 75.5L872.0 78.5L996.0 78.5L999.0 81.5L1005.0 81.5L1008.0 78.5L1033.0 78.5L1036.0 81.5L1042.0 81.5L1045.0 78.5L1109.0 78.5L1112.0 81.5L1118.0 81.5L1121.0 78.5L1210.0 78.5L1218.0 86.5L1218.0 164.5L1215.0 167.5L1215.0 173.5L1218.0 176.5L1218.0 212.5L1215.0 215.5L1215.0 221.5L1218.0 224.5L1218.0 277.5L1215.0 280.5L1215.0 286.5L1218.0 289.5L1218.0 322.5L1221.0 325.5L1221.0 331.5L1218.0 334.5L1218.0 368.5L1215.0 371.5L1215.0 377.5L1218.0 380.5L1218.0 399.0L1210.0 407.0L1185.0 407.0L1182.0 404.0L1176.0 404.0L1173.0 407.0L1109.0 407.0L1106.0 410.0L1100.0 410.0L1097.0 407.0L1032.0 407.0L1029.0 410.0L1023.0 410.0L1020.0 407.0L932.0 407.0L929.0 404.0L923.0 404.0L920.0 407.0L887.0 407.0L884.0 410.0L878.0 410.0L875.0 407.0L797.0 407.0L794.0 410.0L788.0 410.0L785.0 407.0L718.0 407.0L715.0 404.0L709.0 404.0L706.0 407.0L680.0 407.0L672.0 399.0L672.0 373.0L675.0 370.0L675.0 364.0L672.0 361.0L672.0 332.0L669.0 329.0L669.0 323.0L672.0 320.0L672.0 291.0L675.0 288.0L675.0 282.0L672.0 279.0L672.0 226.0L675.0 223.0L675.0 217.0L672.0 214.0L672.0 132.0L675.0 129.0L675.0 123.0L672.0 120.0L672.0 86.5ZM736.0 241.3L757.3 241.3L761.3 236.0L778.7 235.3L783.3 231.3L783.3 226.7L792.0 222.7L800.0 222.7L804.0 226.0L817.3 226.0L822.7 222.7L830.0 226.0L851.3 226.0L856.0 229.3L860.0 229.3L864.0 232.0L876.7 232.0L876.7 241.3L872.7 244.0L872.7 260.0L876.7 262.7L876.7 268.7L880.7 272.0L876.7 274.7L876.7 278.0L868.0 278.7L860.0 282.0L855.3 284.7L855.3 300.7L872.7 312.7L872.7 322.7L876.7 325.3L876.7 343.3L868.0 343.3L864.0 346.7L838.7 346.7L842.7 343.3L842.7 330.7L837.3 328.0L830.7 324.7L817.3 324.7L813.3 328.0L796.0 328.0L790.7 331.3L778.7 331.3L770.7 328.0L770.7 315.3L765.3 312.7L757.3 312.7L757.3 297.3L753.3 294.0L757.3 291.3L757.3 272.7L752.7 269.3L732.0 269.3L732.0 266.7L740.0 266.7L744.7 263.3L744.7 244.0L740.0 242.0ZM987.2 250.6L1021.7 250.6L1030.0 244.4L1035.6 247.8L1051.1 247.8L1055.6 244.4L1059.4 244.4L1059.4 247.8L1063.9 250.6L1067.8 250.6L1075.6 256.7L1080.6 256.7L1080.6 260.0L1085.6 264.4L1085.6 275.0L1093.3 281.7L1089.4 284.4L1089.4 293.9L1081.1 300.0L1085.6 303.9L1085.6 310.0L1089.4 312.2L1089.4 314.4L1079.4 321.1L1072.8 321.1L1067.8 324.4L1067.8 327.8L1063.9 331.1L1041.7 331.1L1037.8 333.9L1037.8 340.0L1034.4 340.0L1034.4 336.7L1025.6 331.1L1012.8 331.1L1004.4 337.2L1004.4 331.1L991.7 324.4L991.7 315.6L983.3 309.4L983.3 281.1L979.4 278.3L987.2 271.7Z"/><text x="164.0" y="283.0" font-size="28" font-weight="bold" fill="#fff">C<tspan font-style="italic">c</tspan></text><text x="367.0" y="283.0" font-size="28" font-weight="bold" fill="#fff">C<tspan font-style="italic">c</tspan><tspan font-style="italic" font-size="20" dy="6">1</tspan></text><text x="806.0" y="292.0" font-size="28" font-weight="bold" fill="#fff">C<tspan font-style="italic">c</tspan></text><text x="1007.0" y="292.0" font-size="28" font-weight="bold" fill="#fff">C<tspan font-style="italic">c</tspan><tspan font-style="italic" font-size="20" dy="6">1</tspan></text><defs><filter id="fb" x="-0.02" y="-0.02" width="1.04" height="1.04"><feGaussianBlur stdDeviation="3"/></filter></defs><clipPath id="cpc"><rect x="1.0" y="526.0" width="612.0" height="379.0"/></clipPath><rect x="1.0" y="526.0" width="612.0" height="379.0" fill="#80ffb4"/><g clip-path="url(#cpc)"><g filter="url(#fb)"><path fill="#71febc" d="M205 616h24v6h-24zm-30 6h84v6h-84zm-18 6h114v6h-114zm-12 6h138v6h-138zm-6 6h150v6h-150zm-12 6h168v6h-168zm-6 6h174v6h-174zm-6 6h186v6h-186zm-6 6h192v6h-192zm0 6h192v6h-192zm-6 6h204v6h-204zm252 0h48v6h-48zm-258 6h210v6h-210zm246 0h66v6h-66zm-246 6h210v6h-210zm240 0h72v6h-72zm-246 6h216v6h-216zm246 0h78v6h-78zm-246 6h216v6h-216zm246 0h72v6h-72zm-252 6h222v6h-222zm258 0h54v6h-54zm-258 6h222v6h-222zm0 6h222v6h-222zm0 6h222v6h-222zm-6 6h240v6h-240zm0 6h252v6h-252zm0 6h264v6h-264zm0 6h270v6h-270zm0 6h276v6h-276zm0 6h276v6h-276zm6 6h270v6h-270zm0 6h270v6h-270zm0 6h270v6h-270zm0 6h264v6h-264zm6 6h246v6h-246zm0 6h204v6h-204zm6 6h192v6h-192zm0 6h192v6h-192zm6 6h186v6h-186zm6 6h180v6h-180zm0 6h180v6h-180zm6 6h168v6h-168zm6 6h162v6h-162zm12 6h150v6h-150zm6 6h138v6h-138zm6 6h132v6h-132zm12 6h114v6h-114zm18 6h78v6h-78zm30 6h24v6h-24z"/><path fill="#8efeac" d="M355 610h24v6h-24zm-18 6h60v6h-60zm-12 6h78v6h-78zm-6 6h90v6h-90zm0 6h96v6h-96zm0 6h102v6h-102zm0 6h108v6h-108zm0 6h114v6h-114zm0 6h132v6h-132zm0 6h144v6h-144zm6 6h150v6h-150zm-6 6h24v6h-24zm90 0h78v6h-78zm-90 6h12v6h-12zm96 0h78v6h-78zm-96 6h6v6h-6zm96 0h84v6h-84zm-102 6h12v6h-12zm102 0h90v6h-90zm-102 6h18v6h-18zm96 0h102v6h-102zm-96 6h24v6h-24zm90 0h114v6h-114zm-90 6h36v6h-36zm54 0h156v6h-156zm-54 6h210v6h-210zm6 6h210v6h-210zm12 6h198v6h-198zm6 6h198v6h-198zm6 6h192v6h-192zm12 6h180v6h-180zm0 6h180v6h-180zm0 6h180v6h-180zm6 6h174v6h-174zm-6 6h180v6h-180zm0 6h180v6h-180zm-6 6h186v6h-186zm-6 6h186v6h-186zm-12 6h198v6h-198zm-30 6h222v6h-222zm0 6h222v6h-222zm0 6h216v6h-216zm0 6h210v6h-210zm0 6h204v6h-204zm6 6h192v6h-192zm6 6h180v6h-180zm0 6h174v6h-174zm12 6h150v6h-150zm6 6h132v6h-132zm6 6h108v6h-108zm24 6h60v6h-60z"/><path fill="#63fbc3" d="M205 646h24v6h-24zm-30 6h78v6h-78zm-12 6h108v6h-108zm-12 6h126v6h-126zm-6 6h138v6h-138zm-6 6h150v6h-150zm228 0h24v6h-24zm-234 6h156v6h-156zm216 0h54v6h-54zm-222 6h168v6h-168zm216 0h66v6h-66zm-222 6h174v6h-174zm216 0h72v6h-72zm-216 6h174v6h-174zm222 0h60v6h-60zm-228 6h186v6h-186zm234 0h48v6h-48zm-234 6h186v6h-186zm-6 6h192v6h-192zm0 6h192v6h-192zm0 6h198v6h-198zm0 6h210v6h-210zm0 6h234v6h-234zm0 6h240v6h-240zm0 6h246v6h-246zm0 6h246v6h-246zm0 6h246v6h-246zm6 6h240v6h-240zm0 6h240v6h-240zm0 6h228v6h-228zm6 6h174v6h-174zm6 6h162v6h-162zm0 6h156v6h-156zm6 6h150v6h-150zm6 6h138v6h-138zm6 6h126v6h-126zm12 6h108v6h-108zm12 6h90v6h-90zm12 6h66v6h-66z"/><path fill="#9cfba4" d="M349 622h30v6h-30zm-12 6h54v6h-54zm-6 6h66v6h-66zm0 6h72v6h-72zm0 6h72v6h-72zm0 6h78v6h-78zm0 6h78v6h-78zm6 6h78v6h-78zm0 6h18v6h-18zm72 0h12v6h-12zm12 6h24v6h-24zm0 6h36v6h-36zm0 6h48v6h-48zm0 6h54v6h-54zm-6 6h66v6h-66zm-96 6h12v6h-12zm84 0h84v6h-84zm-84 6h18v6h-18zm54 0h120v6h-120zm-54 6h180v6h-180zm6 6h180v6h-180zm12 6h168v6h-168zm6 6h168v6h-168zm6 6h162v6h-162zm6 6h156v6h-156zm0 6h156v6h-156zm6 6h150v6h-150zm0 6h150v6h-150zm-6 6h156v6h-156zm0 6h156v6h-156zm-6 6h162v6h-162zm-6 6h162v6h-162zm0 6h162v6h-162zm-18 6h174v6h-174zm-12 6h180v6h-180zm0 6h174v6h-174zm0 6h168v6h-168zm6 6h156v6h-156zm6 6h144v6h-144zm12 6h120v6h-120zm6 6h102v6h-102zm18 6h60v6h-60z"/><path fill="#55f6ca" d="M181 664h72v6h-72zm-12 6h96v6h-96zm-12 6h114v6h-114zm-6 6h126v6h-126zm204 0h42v6h-42zm-210 6h138v6h-138zm198 0h60v6h-60zm-204 6h150v6h-150zm204 0h66v6h-66zm-210 6h156v6h-156zm210 0h60v6h-60zm-210 6h162v6h-162zm222 0h42v6h-42zm-228 6h168v6h-168zm0 6h168v6h-168zm-6 6h180v6h-180zm0 6h180v6h-180zm0 6h186v6h-186zm0 6h216v6h-216zm0 6h228v6h-228zm0 6h234v6h-234zm0 6h234v6h-234zm0 6h234v6h-234zm6 6h228v6h-228zm0 6h222v6h-222zm6 6h156v6h-156zm186 0h24v6h-24zm-180 6h144v6h-144zm0 6h144v6h-144zm6 6h132v6h-132zm6 6h120v6h-120zm12 6h102v6h-102zm12 6h84v6h-84zm12 6h54v6h-54z"/><path fill="#aaf69b" d="M349 628h30v6h-30zm-6 6h42v6h-42zm-6 6h54v6h-54zm0 6h60v6h-60zm0 6h60v6h-60zm6 6h54v6h-54zm0 6h42v6h-42zm90 24h12v6h-12zm-6 6h30v6h-30zm-6 6h42v6h-42zm-12 6h66v6h-66zm-30 6h102v6h-102zm-36 6h138v6h-138zm-6 6h150v6h-150zm6 6h150v6h-150zm0 6h150v6h-150zm6 6h150v6h-150zm6 6h144v6h-144zm0 6h144v6h-144zm6 6h138v6h-138zm0 6h138v6h-138zm-6 6h144v6h-144zm0 6h144v6h-144zm-6 6h144v6h-144zm0 6h144v6h-144zm-6 6h144v6h-144zm0 6h138v6h-138zm-12 6h150v6h-150zm-6 6h150v6h-150zm0 6h138v6h-138zm6 6h126v6h-126zm12 6h102v6h-102zm12 6h72v6h-72zm24 6h18v6h-18z"/><path fill="#47f0d1" d="M187 670h60v6h-60zm-12 6h84v6h-84zm-12 6h108v6h-108zm198 0h30v6h-30zm-204 6h120v6h-120zm192 0h54v6h-54zm-198 6h132v6h-132zm198 0h54v6h-54zm-204 6h144v6h-144zm204 0h54v6h-54zm-210 6h150v6h-150zm216 0h36v6h-36zm-222 6h162v6h-162zm0 6h162v6h-162zm0 6h162v6h-162zm-6 6h174v6h-174zm0 6h174v6h-174zm0 6h180v6h-180zm0 6h222v6h-222zm0 6h228v6h-228zm0 6h228v6h-228zm6 6h222v6h-222zm0 6h222v6h-222zm6 6h150v6h-150zm174 0h36v6h-36zm-174 6h144v6h-144zm6 6h138v6h-138zm6 6h126v6h-126zm6 6h114v6h-114zm12 6h96v6h-96zm12 6h72v6h-72zm18 6h36v6h-36z"/><path fill="#b8f092" d="M355 634h24v6h-24zm-12 6h42v6h-42zm0 6h42v6h-42zm0 6h42v6h-42zm6 6h36v6h-36zm84 36h6v6h-6zm-6 6h24v6h-24zm-12 6h48v6h-48zm-30 6h84v6h-84zm-30 6h120v6h-120zm-6 6h132v6h-132zm-6 6h138v6h-138zm6 6h138v6h-138zm0 6h138v6h-138zm6 6h132v6h-132zm0 6h132v6h-132zm6 6h132v6h-132zm0 6h126v6h-126zm0 6h126v6h-126zm-6 6h132v6h-132zm-6 6h138v6h-138zm0 6h132v6h-132zm0 6h132v6h-132zm0 6h126v6h-126zm-6 6h126v6h-126zm0 6h120v6h-120zm-6 6h114v6h-114zm12 6h90v6h-90zm6 6h66v6h-66zm24 6h18v6h-18z"/><path fill="#39e7d7" d="M187 676h60v6h-60zm-12 6h84v6h-84zm192 0h18v6h-18zm-204 6h108v6h-108zm192 0h42v6h-42zm-198 6h120v6h-120zm192 0h54v6h-54zm-198 6h132v6h-132zm198 0h54v6h-54zm-204 6h144v6h-144zm216 0h30v6h-30zm-222 6h150v6h-150zm0 6h156v6h-156zm0 6h156v6h-156zm-6 6h162v6h-162zm0 6h162v6h-162zm0 6h168v6h-168zm0 6h168v6h-168zm186 0h30v6h-30zm-186 6h222v6h-222zm0 6h222v6h-222zm6 6h162v6h-162zm168 0h48v6h-48zm-168 6h156v6h-156zm174 0h42v6h-42zm-168 6h144v6h-144zm174 0h30v6h-30zm-174 6h138v6h-138zm6 6h126v6h-126zm6 6h114v6h-114zm12 6h96v6h-96zm6 6h78v6h-78zm18 6h48v6h-48z"/><path fill="#c6e789" d="M355 640h18v6h-18zm0 6h24v6h-24zm0 6h18v6h-18zm72 54h18v6h-18zm-42 6h72v6h-72zm-24 6h102v6h-102zm-12 6h120v6h-120zm0 6h120v6h-120zm0 6h126v6h-126zm0 6h126v6h-126zm6 6h126v6h-126zm0 6h126v6h-126zm6 6h120v6h-120zm0 6h120v6h-120zm0 6h120v6h-120zm-6 6h120v6h-120zm0 6h120v6h-120zm-6 6h120v6h-120zm0 6h120v6h-120zm0 6h114v6h-114zm0 6h108v6h-108zm0 6h96v6h-96zm0 6h84v6h-84zm12 6h60v6h-60zm12 6h30v6h-30z"/><path fill="#2bdddd" d="M205 676h30v6h-30zm-24 6h72v6h-72zm-12 6h96v6h-96zm186 0h42v6h-42zm-192 6h108v6h-108zm192 0h42v6h-42zm-198 6h120v6h-120zm198 0h42v6h-42zm-204 6h132v6h-132zm210 0h30v6h-30zm-216 6h144v6h-144zm0 6h144v6h-144zm-6 6h156v6h-156zm0 6h156v6h-156zm0 6h156v6h-156zm0 6h156v6h-156zm0 6h156v6h-156zm186 0h24v6h-24zm-186 6h162v6h-162zm180 0h36v6h-36zm-180 6h156v6h-156zm174 0h42v6h-42zm-174 6h156v6h-156zm174 0h42v6h-42zm-168 6h144v6h-144zm174 0h36v6h-36zm-168 6h132v6h-132zm174 0h24v6h-24zm-174 6h126v6h-126zm6 6h114v6h-114zm6 6h102v6h-102zm12 6h84v6h-84zm12 6h60v6h-60z"/><path fill="#d4dd80" d="M391 712h54v6h-54zm-30 6h90v6h-90zm-6 6h102v6h-102zm-6 6h114v6h-114zm0 6h114v6h-114zm0 6h120v6h-120zm6 6h114v6h-114zm6 6h108v6h-108zm0 6h114v6h-114zm0 6h108v6h-108zm0 6h108v6h-108zm-6 6h114v6h-114zm0 6h108v6h-108zm0 6h108v6h-108zm0 6h102v6h-102zm0 6h96v6h-96zm0 6h90v6h-90zm0 6h78v6h-78zm6 6h60v6h-60zm12 6h30v6h-30z"/><path fill="#1cd1e2" d="M193 682h54v6h-54zm-18 6h84v6h-84zm186 0h30v6h-30zm-192 6h102v6h-102zm186 0h42v6h-42zm-198 6h120v6h-120zm198 0h42v6h-42zm-198 6h126v6h-126zm204 0h30v6h-30zm-210 6h132v6h-132zm-6 6h144v6h-144zm0 6h144v6h-144zm-6 6h156v6h-156zm0 6h156v6h-156zm0 6h156v6h-156zm0 6h156v6h-156zm192 0h18v6h-18zm-192 6h156v6h-156zm180 0h36v6h-36zm-174 6h150v6h-150zm174 0h36v6h-36zm-174 6h144v6h-144zm174 0h36v6h-36zm-174 6h144v6h-144zm174 0h36v6h-36zm-168 6h132v6h-132zm174 0h24v6h-24zm-168 6h120v6h-120zm6 6h108v6h-108zm6 6h96v6h-96zm12 6h72v6h-72zm18 6h36v6h-36z"/><path fill="#e3d176" d="M367 718h72v6h-72zm-12 6h96v6h-96zm-6 6h108v6h-108zm0 6h108v6h-108zm6 6h108v6h-108zm0 6h108v6h-108zm6 6h102v6h-102zm0 6h102v6h-102zm0 6h102v6h-102zm0 6h102v6h-102zm-6 6h108v6h-108zm0 6h102v6h-102zm0 6h102v6h-102zm0 6h96v6h-96zm0 6h84v6h-84zm0 6h78v6h-78zm6 6h60v6h-60zm6 6h42v6h-42z"/><path fill="#0ec3e7" d="M199 682h36v6h-36zm-18 6h72v6h-72zm180 0h30v6h-30zm-192 6h96v6h-96zm186 0h42v6h-42zm-192 6h108v6h-108zm192 0h42v6h-42zm-198 6h120v6h-120zm204 0h30v6h-30zm-210 6h132v6h-132zm0 6h138v6h-138zm-6 6h144v6h-144zm0 6h144v6h-144zm0 6h150v6h-150zm-6 6h156v6h-156zm6 6h150v6h-150zm186 0h12v6h-12zm-186 6h150v6h-150zm180 0h30v6h-30zm-180 6h144v6h-144zm174 0h36v6h-36zm-174 6h144v6h-144zm174 0h36v6h-36zm-168 6h132v6h-132zm174 0h30v6h-30zm-168 6h120v6h-120zm174 0h18v6h-18zm-174 6h120v6h-120zm12 6h96v6h-96zm6 6h84v6h-84zm12 6h60v6h-60z"/><path fill="#f1c36c" d="M367 718h66v6h-66zm-12 6h84v6h-84zm0 6h90v6h-90zm0 6h96v6h-96zm0 6h102v6h-102zm0 6h102v6h-102zm6 6h96v6h-96zm0 6h96v6h-96zm0 6h96v6h-96zm0 6h96v6h-96zm0 6h96v6h-96zm-6 6h96v6h-96zm0 6h90v6h-90zm0 6h84v6h-84zm6 6h72v6h-72zm0 6h60v6h-60zm6 6h48v6h-48zm6 6h30v6h-30z"/><path fill="#00b4ec" d="M211 682h12v6h-12zm-24 6h66v6h-66zm174 0h30v6h-30zm-186 6h90v6h-90zm180 0h42v6h-42zm-192 6h108v6h-108zm192 0h42v6h-42zm-198 6h120v6h-120zm204 0h30v6h-30zm-204 6h126v6h-126zm-6 6h132v6h-132zm-6 6h144v6h-144zm0 6h144v6h-144zm0 6h144v6h-144zm0 6h150v6h-150zm0 6h150v6h-150zm186 0h12v6h-12zm-186 6h144v6h-144zm180 0h30v6h-30zm-180 6h144v6h-144zm174 0h36v6h-36zm-168 6h138v6h-138zm168 0h36v6h-36zm-168 6h132v6h-132zm174 0h30v6h-30zm-168 6h120v6h-120zm174 0h12v6h-12zm-168 6h108v6h-108zm6 6h96v6h-96zm12 6h78v6h-78zm12 6h48v6h-48z"/><path fill="#ffb462" d="M373 718h54v6h-54zm-12 6h72v6h-72zm-6 6h90v6h-90zm0 6h90v6h-90zm0 6h96v6h-96zm0 6h96v6h-96zm6 6h96v6h-96zm0 6h96v6h-96zm0 6h96v6h-96zm0 6h90v6h-90zm0 6h90v6h-90zm-6 6h90v6h-90zm0 6h90v6h-90zm6 6h72v6h-72zm0 6h66v6h-66zm6 6h54v6h-54zm0 6h42v6h-42z"/><path fill="#0ea4f0" d="M193 688h54v6h-54zm174 0h24v6h-24zm-192 6h84v6h-84zm186 0h36v6h-36zm-192 6h102v6h-102zm192 0h36v6h-36zm-198 6h114v6h-114zm204 0h18v6h-18zm-210 6h126v6h-126zm-6 6h132v6h-132zm0 6h138v6h-138zm-6 6h144v6h-144zm0 6h144v6h-144zm0 6h144v6h-144zm0 6h144v6h-144zm192 0h6v6h-6zm-192 6h144v6h-144zm180 0h24v6h-24zm-174 6h138v6h-138zm168 0h36v6h-36zm-168 6h132v6h-132zm168 0h36v6h-36zm-162 6h126v6h-126zm168 0h30v6h-30zm-168 6h120v6h-120zm180 0h6v6h-6zm-174 6h108v6h-108zm12 6h90v6h-90zm6 6h72v6h-72zm18 6h36v6h-36z"/><path fill="#ffa457" d="M373 718h48v6h-48zm-12 6h72v6h-72zm-6 6h84v6h-84zm0 6h90v6h-90zm0 6h90v6h-90zm0 6h96v6h-96zm6 6h90v6h-90zm0 6h90v6h-90zm0 6h90v6h-90zm0 6h90v6h-90zm0 6h84v6h-84zm0 6h84v6h-84zm0 6h78v6h-78zm0 6h72v6h-72zm0 6h60v6h-60zm6 6h48v6h-48zm6 6h30v6h-30z"/><path fill="#1c92f3" d="M193 688h48v6h-48zm174 0h24v6h-24zm-186 6h78v6h-78zm180 0h36v6h-36zm-192 6h96v6h-96zm192 0h36v6h-36zm-198 6h108v6h-108zm204 0h18v6h-18zm-210 6h120v6h-120zm0 6h126v6h-126zm-6 6h132v6h-132zm0 6h138v6h-138zm-6 6h144v6h-144zm0 6h144v6h-144zm0 6h144v6h-144zm6 6h138v6h-138zm174 0h24v6h-24zm-174 6h138v6h-138zm174 0h30v6h-30zm-174 6h132v6h-132zm174 0h30v6h-30zm-168 6h120v6h-120zm168 0h24v6h-24zm-162 6h114v6h-114zm6 6h102v6h-102zm6 6h84v6h-84zm12 6h60v6h-60zm24 6h12v6h-12z"/><path fill="#ff924d" d="M379 718h36v6h-36zm-18 6h66v6h-66zm0 6h72v6h-72zm-6 6h84v6h-84zm0 6h90v6h-90zm6 6h84v6h-84zm0 6h90v6h-90zm0 6h90v6h-90zm0 6h90v6h-90zm0 6h84v6h-84zm0 6h84v6h-84zm0 6h78v6h-78zm0 6h72v6h-72zm0 6h66v6h-66zm6 6h54v6h-54zm0 6h42v6h-42zm12 6h12v6h-12z"/><path fill="#2a80f6" d="M199 688h42v6h-42zm168 0h18v6h-18zm-186 6h72v6h-72zm180 0h36v6h-36zm-186 6h90v6h-90zm186 0h36v6h-36zm-198 6h108v6h-108zm204 0h18v6h-18zm-210 6h120v6h-120zm0 6h126v6h-126zm-6 6h132v6h-132zm0 6h138v6h-138zm0 6h138v6h-138zm0 6h138v6h-138zm0 6h138v6h-138zm0 6h138v6h-138zm174 0h24v6h-24zm-174 6h132v6h-132zm174 0h30v6h-30zm-168 6h126v6h-126zm168 0h30v6h-30zm-168 6h120v6h-120zm168 0h24v6h-24zm-162 6h108v6h-108zm6 6h96v6h-96zm6 6h84v6h-84zm18 6h54v6h-54z"/><path fill="#ff8042" d="M379 718h30v6h-30zm-12 6h54v6h-54zm-6 6h72v6h-72zm-6 6h84v6h-84zm0 6h84v6h-84zm6 6h84v6h-84zm0 6h84v6h-84zm0 6h84v6h-84zm0 6h84v6h-84zm0 6h84v6h-84zm0 6h78v6h-78zm0 6h78v6h-78zm0 6h72v6h-72zm0 6h60v6h-60zm6 6h48v6h-48zm6 6h30v6h-30z"/><path fill="#396cf9" d="M205 688h30v6h-30zm162 0h18v6h-18zm-180 6h66v6h-66zm174 0h36v6h-36zm-186 6h90v6h-90zm186 0h30v6h-30zm-192 6h102v6h-102zm198 0h18v6h-18zm-204 6h114v6h-114zm-6 6h126v6h-126zm-6 6h132v6h-132zm0 6h132v6h-132zm0 6h138v6h-138zm0 6h138v6h-138zm0 6h138v6h-138zm0 6h138v6h-138zm180 0h18v6h-18zm-180 6h132v6h-132zm174 0h30v6h-30zm-168 6h126v6h-126zm168 0h30v6h-30zm-168 6h120v6h-120zm174 0h18v6h-18zm-168 6h108v6h-108zm6 6h96v6h-96zm12 6h78v6h-78zm12 6h48v6h-48z"/><path fill="#ff6c37" d="M385 718h18v6h-18zm-18 6h54v6h-54zm-6 6h66v6h-66zm0 6h72v6h-72zm0 6h78v6h-78zm0 6h78v6h-78zm0 6h84v6h-84zm0 6h84v6h-84zm0 6h84v6h-84zm0 6h78v6h-78zm0 6h78v6h-78zm0 6h72v6h-72zm0 6h66v6h-66zm6 6h54v6h-54zm0 6h48v6h-48zm6 6h30v6h-30z"/><path fill="#4757fb" d="M211 688h18v6h-18zm162 0h12v6h-12zm-186 6h66v6h-66zm174 0h30v6h-30zm-186 6h90v6h-90zm186 0h30v6h-30zm-192 6h102v6h-102zm204 0h12v6h-12zm-210 6h114v6h-114zm-6 6h120v6h-120zm0 6h126v6h-126zm-6 6h132v6h-132zm0 6h138v6h-138zm0 6h138v6h-138zm0 6h138v6h-138zm0 6h132v6h-132zm180 0h18v6h-18zm-180 6h132v6h-132zm174 0h30v6h-30zm-168 6h126v6h-126zm168 0h30v6h-30zm-162 6h114v6h-114zm168 0h18v6h-18zm-168 6h108v6h-108zm12 6h90v6h-90zm6 6h72v6h-72zm18 6h42v6h-42z"/><path fill="#ff572c" d="M391 718h6v6h-6zm-24 6h48v6h-48zm-6 6h66v6h-66zm0 6h72v6h-72zm0 6h72v6h-72zm0 6h78v6h-78zm0 6h78v6h-78zm0 6h78v6h-78zm0 6h78v6h-78zm0 6h78v6h-78zm0 6h72v6h-72zm0 6h72v6h-72zm0 6h66v6h-66zm6 6h48v6h-48zm6 6h36v6h-36zm6 6h18v6h-18z"/><path fill="#5542fd" d="M373 688h12v6h-12zm-186 6h60v6h-60zm174 0h30v6h-30zm-186 6h84v6h-84zm186 0h30v6h-30zm-192 6h102v6h-102zm204 0h6v6h-6zm-210 6h114v6h-114zm-6 6h120v6h-120zm0 6h126v6h-126zm-6 6h132v6h-132zm0 6h132v6h-132zm0 6h138v6h-138zm0 6h138v6h-138zm0 6h132v6h-132zm180 0h18v6h-18zm-174 6h126v6h-126zm168 0h30v6h-30zm-168 6h126v6h-126zm168 0h30v6h-30zm-162 6h114v6h-114zm168 0h18v6h-18zm-162 6h102v6h-102zm6 6h90v6h-90zm12 6h66v6h-66zm18 6h30v6h-30z"/><path fill="#ff4221" d="M373 724h42v6h-42zm-12 6h60v6h-60zm0 6h66v6h-66zm0 6h72v6h-72zm0 6h78v6h-78zm0 6h78v6h-78zm0 6h78v6h-78zm0 6h78v6h-78zm0 6h78v6h-78zm0 6h72v6h-72zm0 6h66v6h-66zm6 6h54v6h-54zm0 6h48v6h-48zm6 6h36v6h-36z"/><path fill="#632cfe" d="M193 694h54v6h-54zm168 0h30v6h-30zm-180 6h78v6h-78zm180 0h30v6h-30zm-192 6h96v6h-96zm204 0h6v6h-6zm-210 6h108v6h-108zm0 6h114v6h-114zm-6 6h126v6h-126zm0 6h126v6h-126zm-6 6h132v6h-132zm0 6h132v6h-132zm0 6h132v6h-132zm0 6h132v6h-132zm180 0h18v6h-18zm-174 6h126v6h-126zm168 0h30v6h-30zm-168 6h120v6h-120zm168 0h30v6h-30zm-162 6h114v6h-114zm168 0h18v6h-18zm-162 6h102v6h-102zm6 6h90v6h-90zm12 6h66v6h-66zm24 6h18v6h-18z"/><path fill="#ff2c16" d="M373 724h36v6h-36zm-6 6h54v6h-54zm-6 6h66v6h-66zm0 6h72v6h-72zm0 6h72v6h-72zm0 6h78v6h-78zm0 6h78v6h-78zm0 6h78v6h-78zm0 6h72v6h-72zm0 6h72v6h-72zm0 6h66v6h-66zm6 6h54v6h-54zm0 6h48v6h-48zm6 6h30v6h-30z"/><path fill="#7116ff" d="M193 694h54v6h-54zm168 0h30v6h-30zm-180 6h78v6h-78zm180 0h30v6h-30zm-192 6h96v6h-96zm-6 6h108v6h-108zm0 6h114v6h-114zm-6 6h126v6h-126zm0 6h126v6h-126zm-6 6h132v6h-132zm0 6h132v6h-132zm0 6h132v6h-132zm6 6h126v6h-126zm174 0h18v6h-18zm-174 6h126v6h-126zm174 0h24v6h-24zm-174 6h120v6h-120zm174 0h24v6h-24zm-168 6h114v6h-114zm168 0h18v6h-18zm-162 6h102v6h-102zm6 6h84v6h-84zm12 6h66v6h-66z"/><path fill="#ff160b" d="M373 724h36v6h-36zm-6 6h54v6h-54zm-6 6h66v6h-66zm0 6h66v6h-66zm0 6h72v6h-72zm0 6h72v6h-72zm0 6h72v6h-72zm0 6h72v6h-72zm0 6h72v6h-72zm0 6h66v6h-66zm6 6h60v6h-60zm0 6h54v6h-54zm6 6h36v6h-36zm6 6h24v6h-24z"/><path fill="#8000ff" d="M199 694h42v6h-42zm168 0h24v6h-24zm-186 6h78v6h-78zm180 0h30v6h-30zm-186 6h90v6h-90zm-6 6h102v6h-102zm-6 6h114v6h-114zm-6 6h126v6h-126zm0 6h126v6h-126zm0 6h126v6h-126zm-6 6h132v6h-132zm0 6h132v6h-132zm6 6h126v6h-126zm180 0h12v6h-12zm-180 6h126v6h-126zm174 0h24v6h-24zm-174 6h120v6h-120zm174 0h24v6h-24zm-168 6h114v6h-114zm168 0h18v6h-18zm-162 6h102v6h-102zm12 6h78v6h-78zm12 6h54v6h-54z"/><path fill="#ff0000" d="M373 724h36v6h-36zm-6 6h48v6h-48zm-6 6h60v6h-60zm0 6h66v6h-66zm0 6h72v6h-72zm0 6h72v6h-72zm0 6h72v6h-72zm0 6h72v6h-72zm0 6h72v6h-72zm0 6h66v6h-66zm6 6h54v6h-54zm0 6h48v6h-48zm6 6h36v6h-36zm6 6h18v6h-18z"/></g><path fill="none" stroke="#000" stroke-width="0.9" d="M207.0 670.0L225.0 669.7L243.0 672.8L259.0 678.8L271.0 686.4L281.0 695.6L288.0 706.0L303.0 744.0L311.0 748.7L327.0 746.3L339.0 746.5L345.0 748.3L351.0 752.6L355.0 758.3L356.9 766.0L356.2 772.0L353.0 778.3L345.0 784.7L339.0 786.2L331.0 786.3L319.0 783.1L305.0 775.3L297.0 775.8L285.0 786.6L275.0 799.1L263.0 810.3L247.0 819.0L229.0 823.8L211.0 824.5L193.0 821.6L175.0 814.9L161.0 806.3L144.1 790.0L137.4 780.0L132.0 768.0L129.4 758.0L128.3 746.0L131.7 726.0L135.9 716.0L142.2 706.0L149.0 697.9L159.0 689.0L169.0 682.3L181.0 676.5L193.0 672.5L207.0 670.0M363.0 683.9L377.0 682.1L391.0 684.2L397.0 687.3L401.8 692.0L403.3 696.0L402.7 700.0L397.0 707.1L387.0 711.5L373.0 713.0L361.0 710.9L351.7 706.0L348.6 702.0L347.7 698.0L348.5 694.0L351.2 690.0L355.0 687.1L363.0 683.9M203.0 683.6L217.0 682.3L231.0 683.2L245.0 686.3L257.0 691.1L269.0 698.5L277.3 706.0L284.7 716.0L290.0 728.0L293.3 740.0L294.0 752.0L292.1 762.0L287.3 772.0L276.0 786.0L267.0 794.4L257.0 801.1L243.0 807.0L227.0 810.4L213.0 810.8L199.0 808.9L181.0 802.6L169.0 795.5L157.0 784.9L149.0 774.0L143.7 762.0L141.4 750.0L142.3 736.0L146.2 724.0L153.6 712.0L163.0 702.1L175.0 693.6L189.0 687.2L203.0 683.6M369.0 688.0L381.0 686.9L391.0 689.8L397.9 696.0L398.2 702.0L392.3 708.0L383.0 711.1L373.0 711.7L363.0 709.3L356.6 704.0L355.6 698.0L357.7 694.0L361.0 691.1L369.0 688.0M333.0 749.9L339.0 749.3L345.0 750.8L351.0 754.9L355.2 762.0L355.8 768.0L353.9 774.0L349.0 779.7L343.0 782.7L337.0 783.3L329.0 781.0L322.8 776.0L319.6 770.0L319.1 764.0L321.2 758.0L327.0 752.4L333.0 749.9M215.0 688.0L229.0 688.5L243.0 691.3L257.0 697.0L267.0 703.3L275.0 710.6L281.9 720.0L286.4 730.0L289.3 744.0L289.0 754.0L286.2 764.0L280.2 774.0L271.8 784.0L263.0 791.4L253.0 797.2L243.0 801.2L229.0 804.2L215.0 804.7L201.0 803.0L187.0 798.7L175.0 792.4L164.4 784.0L156.0 774.0L150.0 762.0L147.7 752.0L147.8 740.0L150.2 730.0L156.4 718.0L165.0 708.1L177.0 699.1L189.0 693.3L203.0 689.3L215.0 688.0M371.0 689.6L381.0 689.0L389.0 691.2L394.9 696.0L395.6 702.0L391.0 706.9L383.0 709.9L373.0 710.4L364.3 708.0L359.7 704.0L358.9 698.0L363.0 693.0L371.0 689.6M337.0 751.8L343.0 752.3L349.0 755.2L353.0 759.6L354.6 764.0L354.3 770.0L351.0 775.7L347.0 778.7L341.0 780.6L335.0 780.2L329.0 777.4L325.0 773.2L323.0 768.0L323.5 762.0L325.6 758.0L331.0 753.6L337.0 751.8M211.0 691.9L223.0 691.5L235.0 692.9L247.0 696.2L257.0 700.7L267.0 707.5L273.9 714.0L279.8 722.0L284.3 732.0L286.4 742.0L286.4 752.0L283.8 762.0L279.6 770.0L271.7 780.0L263.0 787.5L245.0 796.7L231.0 799.9L217.0 800.7L203.0 799.1L189.0 795.0L177.0 789.0L167.0 781.3L159.3 772.0L153.4 760.0L151.4 750.0L152.0 738.0L156.1 726.0L162.6 716.0L171.0 707.7L183.0 699.9L197.0 694.5L211.0 691.9M369.0 691.9L379.0 690.5L387.0 692.3L392.2 696.0L393.2 702.0L389.8 706.0L383.0 708.8L375.0 709.5L368.2 708.0L362.4 704.0L361.1 700.0L363.0 695.8L369.0 691.9M339.0 753.9L345.0 754.7L349.0 756.9L353.0 762.0L353.8 766.0L353.2 770.0L350.7 774.0L347.0 776.9L341.0 778.5L335.0 777.6L331.0 775.4L327.9 772.0L326.1 766.0L326.9 762.0L329.6 758.0L333.0 755.6L339.0 753.9M377.0 691.9L385.0 693.1L389.7 696.0L391.6 700.0L390.0 704.0L385.0 707.2L377.0 708.5L369.0 707.0L365.0 704.2L363.5 700.0L365.5 696.0L371.0 692.9L377.0 691.9M215.0 694.0L237.0 695.5L249.0 699.2L259.0 704.2L267.1 710.0L274.8 718.0L280.0 726.0L283.7 736.0L284.7 746.0L283.8 756.0L279.9 766.0L274.6 774.0L267.0 781.9L257.0 789.0L247.0 793.6L235.0 796.9L221.0 798.3L207.0 797.3L195.0 794.5L183.0 789.5L173.0 783.1L163.7 774.0L157.6 764.0L154.4 754.0L153.8 742.0L156.1 732.0L159.8 724.0L167.5 714.0L177.0 706.1L189.0 699.8L203.0 695.5L215.0 694.0M339.0 755.7L347.0 757.1L350.5 760.0L352.6 764.0L352.7 768.0L350.8 772.0L347.0 775.2L343.0 776.6L335.0 775.3L331.1 772.0L329.2 768.0L329.2 764.0L331.2 760.0L335.0 757.0L339.0 755.7M373.0 693.7L379.0 693.1L385.0 694.6L389.1 698.0L389.5 702.0L387.0 704.9L381.0 707.4L375.0 707.5L369.7 706.0L366.9 704.0L365.4 700.0L368.0 696.0L373.0 693.7M211.0 695.8L230.4 696.0L245.0 699.3L255.0 703.5L267.0 711.8L271.1 716.0L278.8 730.0L280.9 740.0L281.0 750.0L279.1 760.0L274.7 770.0L269.1 778.0L261.9 784.0L245.0 792.7L230.5 796.0L221.0 796.8L209.0 796.0L195.0 792.9L185.0 788.8L173.0 781.0L164.3 772.0L158.5 762.0L155.8 750.0L156.2 738.0L158.6 730.0L165.0 719.2L173.0 711.1L185.0 703.3L195.0 699.2L211.0 695.8M339.0 757.3L347.0 758.5L351.6 764.0L350.9 770.0L345.0 774.7L337.0 774.2L333.8 772.0L331.5 768.0L332.4 762.0L335.0 759.1L339.0 757.3M371.0 695.7L377.0 694.2L383.0 695.0L387.4 698.0L388.0 702.0L385.0 705.0L381.0 706.5L372.3 706.0L367.4 702.0L368.0 698.0L371.0 695.7M207.0 699.9L227.0 699.3L237.0 701.0L247.0 704.5L255.0 708.7L263.0 715.0L271.9 728.0L275.0 737.9L275.7 746.0L272.4 762.0L267.9 770.0L261.0 778.0L247.0 787.3L235.0 791.4L223.0 793.2L211.0 792.9L199.0 790.5L187.0 785.7L177.0 779.1L169.0 770.9L163.6 762.0L160.6 752.0L160.4 742.0L162.9 732.0L167.1 724.0L173.8 716.0L183.0 708.9L195.0 703.1L207.0 699.9M337.0 759.8L343.0 758.4L349.0 761.3L350.9 766.0L349.0 770.9L343.0 773.8L336.4 772.0L333.2 766.0L334.5 762.0L337.0 759.8M373.0 696.0L379.0 695.1L383.0 696.1L385.8 698.0L386.6 702.0L381.0 705.8L373.0 705.3L370.5 704.0L368.7 700.0L373.0 696.0M207.0 705.8L225.0 704.8L241.0 708.4L255.0 716.2L265.2 728.0L269.6 742.0L269.5 750.0L267.5 758.0L259.0 771.6L247.0 780.8L237.0 784.9L225.0 787.3L213.0 787.3L203.0 785.5L193.0 781.8L183.3 776.0L176.9 770.0L171.3 762.0L168.3 754.0L167.4 744.0L168.9 736.0L172.6 728.0L179.0 720.0L187.0 713.7L197.0 708.7L207.0 705.8M341.0 759.6L347.0 760.8L349.7 764.0L349.0 769.3L345.0 772.3L339.0 771.9L335.3 768.0L335.3 764.0L336.5 762.0L341.0 759.6M373.0 697.0L379.0 696.0L383.0 697.1L385.6 700.0L385.4 702.0L381.0 705.1L373.0 704.5L370.2 702.0L370.0 700.0L373.0 697.0M213.0 710.0L229.0 710.4L245.0 715.9L255.5 724.0L262.7 736.0L264.0 742.0L263.9 750.0L259.6 762.0L250.9 772.0L237.0 779.6L227.0 782.0L217.0 782.5L199.0 778.8L184.8 770.0L179.5 764.0L175.3 756.0L173.7 748.0L174.2 740.0L177.2 732.0L181.2 726.0L187.5 720.0L195.0 715.3L203.0 712.1L213.0 710.0M339.0 761.7L343.0 760.6L347.1 762.0L349.2 766.0L347.2 770.0L343.0 771.6L338.4 770.0L336.4 766.0L339.0 761.7M373.0 698.0L377.0 696.7L381.0 697.2L384.4 700.0L384.2 702.0L381.0 704.3L375.0 704.5L371.4 702.0L371.3 700.0L373.0 698.0M207.0 715.6L221.0 714.0L233.0 715.9L245.0 721.3L254.1 730.0L258.6 740.0L258.5 752.0L253.9 762.0L245.0 770.6L237.0 774.8L229.0 777.2L213.0 777.7L197.0 772.7L190.1 768.0L184.5 762.0L181.1 756.0L179.2 748.0L179.9 740.0L182.1 734.0L186.2 728.0L192.9 722.0L207.0 715.6M341.0 761.9L345.0 761.8L347.0 763.1L348.4 766.0L347.0 769.0L343.0 770.6L338.3 768.0L338.4 764.0L341.0 761.9M375.0 697.9L381.1 698.0L383.4 700.0L383.2 702.0L379.0 704.2L375.0 703.7L372.6 702.0L372.4 700.0L375.0 697.9M219.0 718.0L233.0 720.1L244.2 726.0L252.4 736.0L254.6 746.0L252.3 756.0L245.0 765.3L235.0 771.2L221.0 774.2L207.0 772.4L195.0 766.3L187.0 757.1L184.1 746.0L186.5 736.0L194.8 726.0L205.0 720.5L219.0 718.0M341.0 763.0L345.0 762.7L346.8 764.0L346.9 768.0L343.0 769.7L339.7 768.0L339.0 766.0L341.0 763.0M375.0 698.7L381.0 698.8L382.4 700.0L382.2 702.0L379.0 703.6L375.0 703.0L373.5 700.0L375.0 698.7M217.0 722.0L227.0 722.7L237.0 726.5L245.0 733.5L248.9 742.0L248.4 752.0L243.8 760.0L235.0 766.7L225.0 769.9L213.0 769.9L202.0 766.0L193.0 758.1L189.4 750.0L190.0 740.0L195.0 731.8L205.0 724.8L217.0 722.0M343.0 763.2L345.7 764.0L346.8 766.0L345.0 768.5L341.2 768.0L340.1 766.0L343.0 763.2M375.0 699.6L379.0 698.7L381.4 700.0L381.2 702.0L377.0 703.1L374.6 702.0L375.0 699.6M215.0 727.6L223.0 727.5L231.0 729.7L237.4 734.0L241.6 740.0L242.9 746.0L241.6 752.0L237.5 758.0L231.0 762.4L221.0 764.9L211.0 763.7L203.0 759.7L197.0 752.0L196.0 744.0L199.6 736.0L207.0 730.1L215.0 727.6M343.0 764.1L346.1 766.0L345.0 767.6L343.0 768.0L341.2 766.0L343.0 764.1M377.0 699.2L380.4 700.0L380.2 702.0L375.7 702.0L375.5 700.0L377.0 699.2M213.0 733.3L219.0 732.3L225.0 733.0L233.5 738.0L236.0 742.0L236.6 748.0L235.1 752.0L231.5 756.0L225.0 759.2L217.0 759.8L210.5 758.0L205.2 754.0L202.3 748.0L202.9 742.0L207.0 736.5L213.0 733.3M343.0 765.1L345.4 766.0L343.0 766.9L342.2 766.0L343.0 765.1M377.0 699.8L379.3 700.0L379.1 702.0L376.8 702.0L377.0 699.8M215.0 737.7L223.0 737.3L229.0 740.8L231.1 746.0L228.3 752.0L225.0 754.2L219.0 755.3L215.0 754.6L210.6 752.0L208.2 748.0L208.3 744.0L210.9 740.0L215.0 737.7M217.0 741.7L223.0 742.0L225.2 744.0L225.0 748.4L221.0 750.8L215.0 749.3L213.5 746.0L217.0 741.7M208.0 526.0C212.7 532.0 227.5 549.8 236.0 562.0C244.5 574.2 251.4 587.7 259.0 599.0C266.6 610.3 274.0 618.2 281.5 630.0C289.0 641.8 297.9 660.8 304.0 670.0C310.1 679.2 314.7 681.2 318.0 685.0C321.3 688.8 323.1 689.7 323.8 693.0C324.5 696.3 323.3 699.7 322.0 705.0C320.7 710.3 318.4 719.3 316.0 725.0C313.6 730.7 309.2 735.1 307.8 739.3C306.4 743.5 306.6 748.2 307.8 750.0C309.0 751.8 311.9 750.6 314.9 750.0C317.9 749.4 321.5 747.1 325.6 746.4C329.8 745.7 337.4 745.7 339.8 745.6M352.2 786.4C350.1 787.7 343.5 790.5 339.8 794.4C336.1 798.3 332.5 804.8 330.0 810.0C327.5 815.2 326.0 817.0 324.6 825.7C323.2 834.4 320.4 848.8 321.5 862.0C322.6 875.2 329.8 897.8 331.4 905.0"/><path fill="none" stroke="#000" stroke-width="0.9" stroke-dasharray="3 2" d="M381.0 725.4L370.7 730.0L365.4 736.0L363.8 740.0L361.8 750.0L364.0 780.0L367.9 792.0L373.8 800.0L383.0 805.3L391.0 806.1L405.0 800.9L420.7 788.0L430.0 774.0L431.8 768.0L432.1 760.0L430.0 752.0L425.6 744.0L411.7 730.0L397.0 724.7L389.0 724.1L381.0 725.4M385.0 721.9L375.0 724.6L366.1 730.0L361.5 736.0L359.7 748.0L362.5 766.0L362.2 784.0L364.9 794.0L369.8 802.0L375.0 806.9L381.0 810.1L389.0 811.1L397.0 809.6L407.0 804.9L426.2 790.0L436.3 776.0L438.4 770.0L439.2 762.0L437.8 754.0L434.2 746.0L428.1 738.0L419.0 729.7L405.0 723.4L395.0 721.7L385.0 721.9M383.0 719.7L371.0 723.2L363.0 727.8L358.0 734.0L356.8 740.0L356.9 746.0L361.4 766.0L359.4 784.0L360.7 794.0L366.0 806.0L374.4 814.0L385.0 817.1L395.0 816.1L407.0 811.5L421.0 802.8L434.2 792.0L442.3 782.0L446.7 772.0L447.9 762.0L446.1 752.0L442.3 744.0L435.0 734.8L424.6 726.0L409.0 720.5L395.0 718.9L383.0 719.7M401.0 716.0L381.0 717.6L367.0 721.3L358.0 726.0L352.6 734.0L353.1 744.0L357.8 754.0L360.1 764.0L359.5 776.0L355.8 788.0L356.4 798.0L358.6 808.0L365.0 819.1L371.0 822.6L379.0 825.3L389.0 826.1L401.0 823.8L413.0 818.5L431.0 807.9L443.0 799.1L450.0 792.0L456.6 782.0L460.2 772.0L460.9 760.0L458.3 748.0L454.4 740.0L445.0 728.7L435.0 720.8L429.0 717.9L401.0 716.0M359.0 635.5L351.0 638.8L346.1 644.0L345.0 650.6L348.4 658.0L355.0 663.4L361.0 665.4L373.0 664.8L379.8 662.0L383.1 658.0L384.9 652.0L384.1 646.0L381.7 642.0L377.0 638.1L371.7 636.0L359.0 635.5M437.0 697.7L431.0 702.2L417.0 709.5L369.0 717.3L348.0 724.0L344.2 730.0L344.3 732.0L348.7 744.0L355.0 751.8L356.9 756.0L359.1 768.0L357.9 776.0L351.4 788.0L347.5 804.0L343.2 810.0L341.5 816.0L338.5 820.0L341.2 824.0L348.9 830.0L365.0 837.1L381.0 840.6L397.0 840.5L415.0 837.0L436.0 830.0L455.0 820.2L467.8 810.0L479.0 796.6L485.0 785.3L489.0 770.0L489.0 755.6L485.0 740.7L477.0 726.4L465.6 714.0L449.0 702.2L437.0 697.7"/><ellipse cx="182.0" cy="762.0" rx="9.0" ry="8.0" fill="#000"/><ellipse cx="222.0" cy="757.0" rx="10.0" ry="8.0" fill="#000"/><ellipse cx="252.0" cy="760.0" rx="9.0" ry="8.0" fill="#000"/><ellipse cx="203.0" cy="760.0" rx="9.0" ry="3.0" fill="#000"/><ellipse cx="346.0" cy="764.0" rx="8.0" ry="10.0" fill="#000"/><ellipse cx="357.0" cy="772.0" rx="5.0" ry="5.0" fill="#000"/><ellipse cx="377.0" cy="707.0" rx="7.0" ry="5.0" fill="#000"/></g><clipPath id="cpd"><rect x="641.7" y="528.0" width="607.0" height="376.0"/></clipPath><rect x="641.7" y="528.0" width="607.0" height="376.0" fill="#80ffb4"/><g clip-path="url(#cpd)"><g filter="url(#fb)"><path fill="#71febc" d="M822 660h36v6h-36zm-24 6h84v6h-84zm-12 6h108v6h-108zm-12 6h132v6h-132zm-6 6h144v6h-144zm-6 6h150v6h-150zm-6 6h162v6h-162zm0 6h168v6h-168zm-6 6h174v6h-174zm0 6h180v6h-180zm0 6h180v6h-180zm0 6h180v6h-180zm0 6h186v6h-186zm0 6h186v6h-186zm0 6h192v6h-192zm6 6h192v6h-192zm0 6h198v6h-198zm204 0h18v6h-18zm-204 6h228v6h-228zm6 6h186v6h-186zm6 6h174v6h-174zm6 6h162v6h-162zm6 6h150v6h-150zm6 6h144v6h-144zm6 6h132v6h-132zm12 6h120v6h-120zm12 6h102v6h-102zm12 6h78v6h-78zm18 6h48v6h-48z"/><path fill="#8efeac" d="M996 636h78v6h-78zm-24 6h126v6h-126zm-12 6h156v6h-156zm-12 6h180v6h-180zm-6 6h192v6h-192zm-6 6h210v6h-210zm-6 6h222v6h-222zm0 6h228v6h-228zm0 6h228v6h-228zm0 6h234v6h-234zm0 6h234v6h-234zm0 6h240v6h-240zm0 6h240v6h-240zm6 6h240v6h-240zm0 6h240v6h-240zm0 6h240v6h-240zm0 6h240v6h-240zm6 6h234v6h-234zm0 6h234v6h-234zm6 6h228v6h-228zm30 6h198v6h-198zm6 6h192v6h-192zm-30 6h12v6h-12zm24 0h198v6h-198zm-30 6h222v6h-222zm-6 6h228v6h-228zm-6 6h234v6h-234zm0 6h228v6h-228zm0 6h228v6h-228zm0 6h222v6h-222zm0 6h216v6h-216zm0 6h210v6h-210zm0 6h204v6h-204zm6 6h192v6h-192zm6 6h180v6h-180zm6 6h162v6h-162zm6 6h144v6h-144zm18 6h114v6h-114zm18 6h72v6h-72z"/><path fill="#63fbc3" d="M816 678h60v6h-60zm-18 6h90v6h-90zm-6 6h108v6h-108zm-6 6h120v6h-120zm-6 6h132v6h-132zm-6 6h144v6h-144zm0 6h150v6h-150zm0 6h150v6h-150zm-6 6h162v6h-162zm0 6h162v6h-162zm0 6h162v6h-162zm6 6h162v6h-162zm0 6h168v6h-168zm0 6h174v6h-174zm192 0h12v6h-12zm-186 6h174v6h-174zm180 0h24v6h-24zm-174 6h162v6h-162zm6 6h144v6h-144zm6 6h132v6h-132zm6 6h120v6h-120zm6 6h114v6h-114zm12 6h96v6h-96zm18 6h66v6h-66zm24 6h18v6h-18z"/><path fill="#9cfba4" d="M1002 654h72v6h-72zm-24 6h114v6h-114zm-12 6h138v6h-138zm-6 6h156v6h-156zm-6 6h168v6h-168zm-6 6h180v6h-180zm-6 6h192v6h-192zm0 6h198v6h-198zm0 6h198v6h-198zm0 6h204v6h-204zm0 6h204v6h-204zm0 6h204v6h-204zm0 6h210v6h-210zm0 6h210v6h-210zm0 6h210v6h-210zm6 6h204v6h-204zm6 6h198v6h-198zm30 6h168v6h-168zm0 6h168v6h-168zm-6 6h168v6h-168zm-24 6h192v6h-192zm-6 6h198v6h-198zm-6 6h198v6h-198zm6 6h192v6h-192zm0 6h186v6h-186zm0 6h180v6h-180zm6 6h168v6h-168zm6 6h156v6h-156zm6 6h138v6h-138zm6 6h126v6h-126zm12 6h96v6h-96zm24 6h54v6h-54z"/><path fill="#55f6ca" d="M822 684h48v6h-48zm-12 6h78v6h-78zm-12 6h102v6h-102zm-6 6h114v6h-114zm-6 6h126v6h-126zm0 6h132v6h-132zm-6 6h144v6h-144zm0 6h144v6h-144zm0 6h144v6h-144zm0 6h150v6h-150zm0 6h150v6h-150zm6 6h156v6h-156zm0 6h162v6h-162zm180 0h12v6h-12zm-174 6h156v6h-156zm174 0h12v6h-12zm-174 6h150v6h-150zm6 6h138v6h-138zm12 6h120v6h-120zm6 6h108v6h-108zm12 6h90v6h-90zm12 6h66v6h-66zm30 6h12v6h-12z"/><path fill="#aaf69b" d="M1026 660h24v6h-24zm-30 6h84v6h-84zm-18 6h114v6h-114zm-12 6h138v6h-138zm-6 6h150v6h-150zm-6 6h162v6h-162zm0 6h168v6h-168zm-6 6h180v6h-180zm0 6h180v6h-180zm0 6h186v6h-186zm0 6h186v6h-186zm0 6h186v6h-186zm0 6h192v6h-192zm0 6h192v6h-192zm6 6h186v6h-186zm6 6h180v6h-180zm24 6h156v6h-156zm0 6h156v6h-156zm-6 6h156v6h-156zm-24 6h180v6h-180zm0 6h174v6h-174zm-6 6h180v6h-180zm6 6h168v6h-168zm0 6h162v6h-162zm6 6h150v6h-150zm6 6h138v6h-138zm6 6h126v6h-126zm12 6h102v6h-102zm18 6h66v6h-66z"/><path fill="#47f0d1" d="M822 690h54v6h-54zm-12 6h78v6h-78zm-12 6h102v6h-102zm-6 6h114v6h-114zm0 6h120v6h-120zm-6 6h132v6h-132zm0 6h132v6h-132zm0 6h138v6h-138zm0 6h138v6h-138zm0 6h144v6h-144zm6 6h144v6h-144zm0 6h150v6h-150zm6 6h150v6h-150zm168 0h12v6h-12zm-162 6h132v6h-132zm6 6h120v6h-120zm6 6h108v6h-108zm12 6h90v6h-90zm12 6h72v6h-72zm18 6h36v6h-36z"/><path fill="#b8f092" d="M1002 672h72v6h-72zm-18 6h102v6h-102zm-12 6h126v6h-126zm-6 6h138v6h-138zm-6 6h150v6h-150zm0 6h156v6h-156zm-6 6h168v6h-168zm0 6h168v6h-168zm0 6h174v6h-174zm-6 6h180v6h-180zm0 6h180v6h-180zm6 6h174v6h-174zm0 6h174v6h-174zm12 6h162v6h-162zm18 6h144v6h-144zm0 6h144v6h-144zm0 6h144v6h-144zm-24 6h162v6h-162zm0 6h162v6h-162zm0 6h156v6h-156zm0 6h156v6h-156zm6 6h144v6h-144zm6 6h126v6h-126zm6 6h114v6h-114zm12 6h90v6h-90zm18 6h54v6h-54z"/><path fill="#39e7d7" d="M822 696h54v6h-54zm-12 6h84v6h-84zm-6 6h96v6h-96zm-6 6h108v6h-108zm0 6h114v6h-114zm-6 6h126v6h-126zm0 6h126v6h-126zm0 6h126v6h-126zm0 6h132v6h-132zm6 6h132v6h-132zm0 6h144v6h-144zm6 6h138v6h-138zm162 0h12v6h-12zm-156 6h126v6h-126zm6 6h108v6h-108zm6 6h96v6h-96zm12 6h78v6h-78zm18 6h54v6h-54z"/><path fill="#c6e789" d="M1032 672h6v6h-6zm-30 6h72v6h-72zm-12 6h96v6h-96zm-12 6h6v6h-6zm24 0h96v6h-96zm-30 6h132v6h-132zm-6 6h144v6h-144zm-6 6h150v6h-150zm0 6h156v6h-156zm0 6h156v6h-156zm-6 6h168v6h-168zm0 6h168v6h-168zm0 6h168v6h-168zm6 6h162v6h-162zm12 6h150v6h-150zm12 6h138v6h-138zm0 6h138v6h-138zm0 6h132v6h-132zm-12 6h144v6h-144zm-6 6h144v6h-144zm0 6h144v6h-144zm0 6h138v6h-138zm6 6h126v6h-126zm12 6h102v6h-102zm6 6h90v6h-90zm18 6h54v6h-54z"/><path fill="#2bdddd" d="M834 696h30v6h-30zm-18 6h66v6h-66zm-6 6h84v6h-84zm-6 6h96v6h-96zm-6 6h108v6h-108zm0 6h114v6h-114zm0 6h114v6h-114zm0 6h120v6h-120zm0 6h126v6h-126zm6 6h126v6h-126zm0 6h132v6h-132zm6 6h126v6h-126zm156 0h12v6h-12zm-150 6h114v6h-114zm6 6h102v6h-102zm12 6h78v6h-78zm12 6h60v6h-60zm12 6h36v6h-36z"/><path fill="#d4dd80" d="M1020 678h30v6h-30zm-12 6h66v6h-66zm0 6h78v6h-78zm-24 6h108v6h-108zm-12 6h126v6h-126zm-6 6h138v6h-138zm0 6h144v6h-144zm-6 6h150v6h-150zm0 6h150v6h-150zm0 6h156v6h-156zm0 6h156v6h-156zm0 6h156v6h-156zm12 6h144v6h-144zm12 6h132v6h-132zm6 6h126v6h-126zm-6 6h126v6h-126zm-12 6h138v6h-138zm0 6h132v6h-132zm0 6h126v6h-126zm6 6h114v6h-114zm6 6h102v6h-102zm6 6h84v6h-84zm18 6h54v6h-54z"/><path fill="#1cd1e2" d="M828 702h48v6h-48zm-12 6h72v6h-72zm-6 6h90v6h-90zm-6 6h102v6h-102zm0 6h102v6h-102zm0 6h108v6h-108zm0 6h108v6h-108zm0 6h114v6h-114zm0 6h120v6h-120zm6 6h126v6h-126zm6 6h120v6h-120zm156 0h6v6h-6zm-150 6h108v6h-108zm6 6h90v6h-90zm12 6h72v6h-72zm12 6h48v6h-48z"/><path fill="#e3d176" d="M1020 684h36v6h-36zm-6 6h60v6h-60zm-12 6h84v6h-84zm-24 6h114v6h-114zm0 6h120v6h-120zm-6 6h126v6h-126zm-6 6h138v6h-138zm0 6h138v6h-138zm0 6h144v6h-144zm0 6h144v6h-144zm0 6h144v6h-144zm12 6h132v6h-132zm6 6h126v6h-126zm6 6h120v6h-120zm-6 6h120v6h-120zm-6 6h126v6h-126zm-6 6h126v6h-126zm6 6h114v6h-114zm6 6h102v6h-102zm6 6h90v6h-90zm12 6h60v6h-60z"/><path fill="#0ec3e7" d="M840 702h24v6h-24zm-18 6h60v6h-60zm-6 6h78v6h-78zm-6 6h90v6h-90zm0 6h96v6h-96zm-6 6h102v6h-102zm0 6h108v6h-108zm6 6h108v6h-108zm0 6h114v6h-114zm6 6h114v6h-114zm0 6h114v6h-114zm12 6h96v6h-96zm6 6h84v6h-84zm12 6h60v6h-60zm12 6h42v6h-42z"/><path fill="#f1c36c" d="M1020 690h42v6h-42zm-12 6h66v6h-66zm-18 6h96v6h-96zm-6 6h108v6h-108zm-6 6h114v6h-114zm-6 6h126v6h-126zm0 6h126v6h-126zm-6 6h138v6h-138zm0 6h138v6h-138zm6 6h132v6h-132zm6 6h126v6h-126zm12 6h114v6h-114zm0 6h114v6h-114zm0 6h108v6h-108zm-6 6h114v6h-114zm-6 6h114v6h-114zm6 6h102v6h-102zm6 6h90v6h-90zm12 6h66v6h-66zm18 6h30v6h-30z"/><path fill="#00b4ec" d="M828 708h48v6h-48zm-6 6h66v6h-66zm-6 6h78v6h-78zm-6 6h90v6h-90zm0 6h96v6h-96zm0 6h96v6h-96zm0 6h102v6h-102zm6 6h102v6h-102zm0 6h108v6h-108zm6 6h108v6h-108zm6 6h90v6h-90zm12 6h72v6h-72zm12 6h54v6h-54zm12 6h30v6h-30z"/><path fill="#ffb462" d="M1014 696h48v6h-48zm-18 6h78v6h-78zm-6 6h96v6h-96zm-6 6h102v6h-102zm-6 6h114v6h-114zm-6 6h126v6h-126zm0 6h126v6h-126zm0 6h126v6h-126zm0 6h126v6h-126zm12 6h114v6h-114zm6 6h108v6h-108zm0 6h108v6h-108zm0 6h108v6h-108zm-6 6h108v6h-108zm0 6h102v6h-102zm6 6h90v6h-90zm6 6h78v6h-78zm12 6h54v6h-54z"/><path fill="#0ea4f0" d="M840 708h24v6h-24zm-18 6h60v6h-60zm-6 6h78v6h-78zm0 6h84v6h-84zm-6 6h96v6h-96zm0 6h96v6h-96zm6 6h96v6h-96zm0 6h102v6h-102zm6 6h102v6h-102zm6 6h96v6h-96zm6 6h84v6h-84zm12 6h60v6h-60zm12 6h42v6h-42z"/><path fill="#ffa457" d="M1020 696h30v6h-30zm-18 6h66v6h-66zm-6 6h84v6h-84zm-12 6h102v6h-102zm0 6h102v6h-102zm-6 6h114v6h-114zm0 6h114v6h-114zm-6 6h126v6h-126zm6 6h120v6h-120zm6 6h114v6h-114zm12 6h102v6h-102zm0 6h102v6h-102zm-6 6h102v6h-102zm0 6h96v6h-96zm0 6h96v6h-96zm6 6h78v6h-78zm6 6h66v6h-66zm18 6h30v6h-30z"/><path fill="#1c92f3" d="M828 714h48v6h-48zm-6 6h66v6h-66zm-6 6h84v6h-84zm0 6h84v6h-84zm0 6h90v6h-90zm0 6h90v6h-90zm6 6h90v6h-90zm0 6h96v6h-96zm6 6h90v6h-90zm12 6h72v6h-72zm6 6h60v6h-60zm18 6h30v6h-30z"/><path fill="#ff924d" d="M1014 702h48v6h-48zm-18 6h78v6h-78zm-6 6h90v6h-90zm-6 6h102v6h-102zm0 6h102v6h-102zm-6 6h114v6h-114zm0 6h114v6h-114zm0 6h114v6h-114zm12 6h102v6h-102zm6 6h96v6h-96zm0 6h96v6h-96zm0 6h90v6h-90zm-6 6h96v6h-96zm6 6h84v6h-84zm6 6h72v6h-72zm6 6h54v6h-54z"/><path fill="#2a80f6" d="M834 714h42v6h-42zm-12 6h66v6h-66zm-6 6h78v6h-78zm0 6h84v6h-84zm0 6h84v6h-84zm0 6h90v6h-90zm6 6h90v6h-90zm6 6h90v6h-90zm6 6h84v6h-84zm6 6h72v6h-72zm12 6h54v6h-54zm18 6h24v6h-24z"/><path fill="#ff8042" d="M1020 702h30v6h-30zm-18 6h66v6h-66zm-6 6h78v6h-78zm-6 6h90v6h-90zm-6 6h102v6h-102zm0 6h102v6h-102zm0 6h108v6h-108zm0 6h108v6h-108zm12 6h96v6h-96zm6 6h90v6h-90zm0 6h84v6h-84zm-6 6h90v6h-90zm0 6h84v6h-84zm0 6h78v6h-78zm6 6h66v6h-66zm12 6h36v6h-36z"/><path fill="#396cf9" d="M834 714h36v6h-36zm-12 6h66v6h-66zm0 6h72v6h-72zm-6 6h84v6h-84zm0 6h84v6h-84zm6 6h84v6h-84zm0 6h84v6h-84zm6 6h84v6h-84zm6 6h78v6h-78zm12 6h60v6h-60zm12 6h42v6h-42zm18 6h6v6h-6z"/><path fill="#ff6c37" d="M1008 708h54v6h-54zm-6 6h66v6h-66zm-6 6h78v6h-78zm-6 6h90v6h-90zm-6 6h102v6h-102zm0 6h102v6h-102zm6 6h96v6h-96zm12 6h84v6h-84zm0 6h84v6h-84zm0 6h84v6h-84zm0 6h84v6h-84zm0 6h78v6h-78zm0 6h72v6h-72zm6 6h54v6h-54zm18 6h18v6h-18z"/><path fill="#4757fb" d="M834 714h36v6h-36zm-6 6h54v6h-54zm-6 6h72v6h-72zm0 6h78v6h-78zm0 6h78v6h-78zm0 6h78v6h-78zm0 6h84v6h-84zm6 6h78v6h-78zm6 6h78v6h-78zm12 6h60v6h-60zm18 6h30v6h-30z"/><path fill="#ff572c" d="M1020 708h30v6h-30zm-18 6h66v6h-66zm-6 6h78v6h-78zm-6 6h90v6h-90zm0 6h90v6h-90zm0 6h96v6h-96zm6 6h90v6h-90zm6 6h84v6h-84zm0 6h84v6h-84zm0 6h84v6h-84zm0 6h78v6h-78zm0 6h72v6h-72zm0 6h66v6h-66zm12 6h42v6h-42z"/><path fill="#5542fd" d="M840 714h30v6h-30zm-12 6h54v6h-54zm-6 6h72v6h-72zm0 6h78v6h-78zm0 6h78v6h-78zm0 6h78v6h-78zm0 6h84v6h-84zm6 6h78v6h-78zm6 6h72v6h-72zm12 6h54v6h-54zm18 6h30v6h-30z"/><path fill="#ff4221" d="M1026 708h18v6h-18zm-18 6h54v6h-54zm-6 6h66v6h-66zm-6 6h78v6h-78zm0 6h84v6h-84zm0 6h84v6h-84zm0 6h90v6h-90zm6 6h84v6h-84zm0 6h84v6h-84zm0 6h78v6h-78zm0 6h78v6h-78zm0 6h72v6h-72zm6 6h60v6h-60zm6 6h42v6h-42z"/><path fill="#632cfe" d="M840 714h24v6h-24zm-12 6h54v6h-54zm-6 6h72v6h-72zm0 6h72v6h-72zm0 6h78v6h-78zm0 6h78v6h-78zm6 6h72v6h-72zm0 6h78v6h-78zm12 6h66v6h-66zm6 6h54v6h-54zm30 6h12v6h-12z"/><path fill="#ff2c16" d="M1014 714h42v6h-42zm-12 6h66v6h-66zm-6 6h78v6h-78zm0 6h84v6h-84zm0 6h84v6h-84zm6 6h78v6h-78zm0 6h78v6h-78zm0 6h78v6h-78zm0 6h78v6h-78zm0 6h72v6h-72zm6 6h60v6h-60zm0 6h54v6h-54zm12 6h30v6h-30z"/><path fill="#7116ff" d="M840 714h24v6h-24zm-12 6h54v6h-54zm-6 6h66v6h-66zm0 6h72v6h-72zm0 6h78v6h-78zm0 6h78v6h-78zm6 6h72v6h-72zm6 6h66v6h-66zm6 6h60v6h-60zm12 6h42v6h-42z"/><path fill="#ff160b" d="M1020 714h30v6h-30zm-12 6h54v6h-54zm-6 6h66v6h-66zm-6 6h78v6h-78zm6 6h78v6h-78zm0 6h78v6h-78zm0 6h78v6h-78zm6 6h72v6h-72zm0 6h72v6h-72zm0 6h66v6h-66zm0 6h60v6h-60zm6 6h48v6h-48z"/><path fill="#8000ff" d="M846 714h18v6h-18zm-18 6h54v6h-54zm-6 6h66v6h-66zm0 6h72v6h-72zm0 6h78v6h-78zm0 6h78v6h-78zm6 6h72v6h-72zm6 6h66v6h-66zm6 6h60v6h-60zm12 6h42v6h-42z"/><path fill="#ff0000" d="M1026 714h18v6h-18zm-18 6h54v6h-54zm-6 6h66v6h-66zm0 6h72v6h-72zm0 6h72v6h-72zm0 6h78v6h-78zm0 6h78v6h-78zm6 6h72v6h-72zm0 6h66v6h-66zm0 6h66v6h-66zm0 6h60v6h-60zm6 6h42v6h-42z"/></g><path fill="none" stroke="#000" stroke-width="0.9" d="M837.7 689.9L855.7 689.7L870.3 692.0L883.7 696.6L897.7 704.4L905.7 710.9L913.3 720.0L927.1 746.0L943.7 760.0L944.8 764.0L943.9 766.0L925.5 780.0L909.7 794.5L899.7 799.4L885.7 802.6L869.7 802.8L849.7 798.9L827.7 790.1L811.7 780.0L797.7 766.1L789.7 752.3L786.5 738.0L787.7 725.1L793.7 712.7L804.4 702.0L819.7 694.0L837.7 689.9M969.7 759.7L973.7 759.4L977.7 761.0L979.6 764.0L979.1 766.0L973.7 768.9L967.7 767.7L964.9 764.0L965.7 762.0L969.7 759.7M841.7 703.8L855.7 703.4L869.7 705.7L881.7 710.1L893.7 717.0L905.0 728.0L916.9 748.0L931.3 760.0L932.4 764.0L931.3 766.0L901.7 787.7L893.7 791.2L883.7 793.1L871.7 792.8L857.7 789.4L841.7 782.6L827.7 774.3L816.0 764.0L809.0 754.0L805.3 744.0L805.1 732.0L809.1 722.0L816.3 714.0L827.7 707.4L841.7 703.8M971.7 763.4L975.0 764.0L973.7 765.2L971.7 764.7L971.7 763.4M835.7 714.0L845.7 712.2L861.7 712.7L875.7 716.5L887.7 722.2L898.9 732.0L907.7 749.2L918.3 760.0L919.1 764.0L918.0 766.0L899.7 780.5L891.7 784.4L883.7 786.1L873.7 785.8L865.7 784.0L841.7 772.4L831.7 765.4L824.2 758.0L817.5 748.0L814.9 740.0L815.4 732.0L819.5 724.0L825.7 718.4L835.7 714.0M841.7 715.9L853.7 714.8L867.7 716.8L879.7 721.0L889.7 727.1L896.5 734.0L900.6 742.0L903.7 755.5L907.3 762.0L904.9 768.0L891.7 777.2L885.7 779.1L877.7 779.6L863.7 777.0L851.7 773.3L841.7 768.6L833.7 763.1L826.6 756.0L822.6 750.0L820.2 744.0L819.4 736.0L821.0 730.0L825.7 723.7L831.7 719.4L841.7 715.9M841.7 717.7L851.7 716.8L865.2 718.0L877.6 722.0L889.7 729.3L896.8 738.0L899.5 746.0L900.4 758.0L896.9 766.0L887.7 772.6L879.7 774.8L869.7 775.2L857.7 773.2L849.7 770.4L835.4 762.0L825.0 750.0L822.0 742.0L821.7 736.0L823.5 730.0L827.7 724.6L833.7 720.5L841.7 717.7M839.7 720.0L847.7 719.2L859.7 720.8L877.7 725.1L887.7 730.0L893.6 736.0L897.2 746.0L898.0 756.0L894.8 764.0L889.7 768.6L881.7 772.1L875.7 773.1L865.7 772.5L861.7 771.8L851.7 766.7L835.7 755.5L825.7 745.2L823.7 741.0L823.6 736.0L825.6 730.0L828.7 726.0L839.7 720.0M837.7 723.5L845.7 722.3L853.7 723.0L875.7 727.7L885.7 732.2L891.1 738.0L893.1 744.0L892.3 758.0L890.2 764.0L885.7 767.5L881.7 768.8L869.7 768.2L855.7 762.8L835.7 750.2L829.3 744.0L826.6 736.0L829.7 728.5L837.7 723.5M839.7 725.6L851.7 725.4L875.7 730.4L883.7 733.9L887.8 738.0L889.8 744.0L889.1 750.0L886.3 756.0L879.7 761.5L869.7 762.4L857.7 758.9L839.7 749.0L831.8 742.0L829.9 736.0L832.3 730.0L839.7 725.6M841.7 727.7L849.7 727.7L879.7 734.3L884.5 738.0L886.5 742.0L885.3 750.0L879.7 755.8L873.7 757.8L863.7 757.1L853.7 753.1L839.7 745.5L834.1 740.0L833.1 736.0L834.5 732.0L841.7 727.7M845.7 729.9L877.7 735.9L880.8 738.0L883.4 742.0L882.7 748.0L877.7 752.8L871.7 754.6L863.7 754.0L855.7 751.0L841.7 743.3L836.9 738.0L837.2 734.0L838.8 732.0L845.7 729.9M843.7 733.7L847.7 733.3L873.7 737.2L878.7 740.0L880.0 742.0L879.9 746.0L877.7 748.8L873.7 751.0L867.7 751.8L861.7 750.9L843.2 740.0L841.4 736.0L843.7 733.7M855.7 739.7L869.7 739.4L873.7 740.7L875.9 744.0L871.7 748.1L861.7 748.5L855.3 744.0L854.4 742.0L855.7 739.7M859.7 743.8L861.7 742.8L865.5 744.0L861.7 746.1L859.7 743.8M862.0 528.0C863.7 533.3 867.3 548.0 872.0 560.0C876.7 572.0 884.3 586.0 890.0 600.0C895.7 614.0 899.3 630.2 906.0 644.0C912.7 657.8 925.0 673.0 930.0 683.0C935.0 693.0 934.1 696.7 936.0 704.0C937.9 711.3 938.7 720.2 941.5 727.0C944.3 733.8 947.1 740.5 953.0 745.0C958.9 749.5 971.0 752.0 977.0 754.0C983.0 756.0 986.5 755.0 989.0 757.0C991.5 759.0 992.5 763.0 992.0 766.0C991.5 769.0 990.0 770.0 986.0 775.0C982.0 780.0 972.5 789.2 968.0 796.0C963.5 802.8 962.0 805.3 959.0 816.0C956.0 826.7 954.7 845.3 950.0 860.0C945.3 874.7 934.2 896.7 931.0 904.0"/><path fill="none" stroke="#000" stroke-width="0.9" stroke-dasharray="3 2" d="M1023.7 717.7L1015.7 720.1L1008.7 724.0L1004.4 728.0L1001.3 734.0L1001.2 740.0L1007.6 772.0L1009.7 777.7L1017.7 784.1L1031.7 786.9L1045.7 785.7L1059.7 780.3L1069.8 772.0L1076.4 760.0L1077.2 748.0L1072.7 736.0L1063.7 726.1L1051.7 719.6L1037.7 716.7L1023.7 717.7M1021.7 711.7L1011.7 715.0L1003.1 720.0L997.0 726.0L992.7 734.0L992.4 740.0L999.7 749.5L1002.3 756.0L1004.4 780.0L1007.7 784.4L1013.2 788.0L1027.7 791.8L1045.7 791.0L1061.7 785.4L1074.1 776.0L1078.7 770.0L1082.4 762.0L1083.8 748.0L1079.2 734.0L1069.7 722.7L1055.7 714.3L1039.7 710.6L1021.7 711.7M1027.7 701.8L1007.7 707.3L993.7 715.8L987.7 722.0L982.5 730.0L979.4 738.0L978.9 744.0L982.8 750.0L995.7 755.0L997.7 757.0L999.0 764.0L993.8 776.0L993.6 780.0L997.3 786.0L1001.9 790.0L1011.7 795.2L1025.7 798.5L1037.7 798.9L1051.7 796.8L1069.7 789.3L1077.7 783.3L1084.4 776.0L1089.1 768.0L1092.2 758.0L1092.8 750.0L1091.3 740.0L1088.3 732.0L1083.5 724.0L1076.0 716.0L1067.7 710.0L1049.7 702.9L1037.7 701.4L1027.7 701.8M1021.7 689.9L1007.7 699.0L984.7 706.0L977.7 712.9L970.8 724.0L966.6 738.0L968.0 746.0L972.3 750.0L986.4 758.0L989.9 764.0L987.5 770.0L977.5 780.0L977.5 784.0L981.8 790.0L991.8 798.0L1001.7 803.2L1015.7 807.6L1027.7 809.3L1041.7 809.1L1053.7 807.3L1065.7 803.6L1075.7 798.8L1085.7 792.0L1093.7 784.0L1100.5 774.0L1104.4 764.0L1106.3 752.0L1105.4 740.0L1102.6 730.0L1097.7 719.9L1090.3 710.0L1081.7 702.3L1071.7 696.2L1059.7 691.5L1045.7 688.7L1031.7 688.2L1021.7 689.9M1015.7 671.7L993.7 677.5L973.7 688.2L966.6 694.0L959.8 702.0L952.9 716.0L951.0 736.0L954.4 746.0L961.4 752.0L979.7 756.7L985.1 762.0L985.3 766.0L981.7 770.9L977.7 773.3L961.7 777.7L957.9 784.0L958.6 790.0L963.0 798.0L977.4 812.0L987.7 818.0L997.7 822.0L1013.5 826.0L1025.7 827.4L1037.7 827.7L1053.7 826.1L1076.0 820.0L1098.0 808.0L1107.6 800.0L1115.7 790.6L1125.7 771.9L1128.3 762.0L1129.3 750.0L1127.2 732.0L1120.5 714.0L1111.1 700.0L1097.7 687.9L1079.7 678.2L1059.7 672.3L1037.7 670.1L1015.7 671.7"/></g><clipPath id="cpe"><rect x="1.0" y="982.0" width="613.0" height="380.0"/></clipPath><rect x="1.0" y="982.0" width="613.0" height="380.0" fill="#80ffb4"/><g clip-path="url(#cpe)"><g filter="url(#fb)"><path fill="#71febc" d="M163 1108h18v6h-18zm-18 6h54v6h-54zm-12 6h78v6h-78zm-6 6h90v6h-90zm0 6h102v6h-102zm-6 6h126v6h-126zm0 6h144v6h-144zm0 6h150v6h-150zm0 6h162v6h-162zm0 6h168v6h-168zm0 6h174v6h-174zm0 6h174v6h-174zm0 6h180v6h-180zm0 6h180v6h-180zm-6 6h186v6h-186zm0 6h192v6h-192zm0 6h186v6h-186zm6 6h180v6h-180zm0 6h180v6h-180zm0 6h180v6h-180zm6 6h168v6h-168zm6 6h162v6h-162zm6 6h156v6h-156zm12 6h138v6h-138zm12 6h126v6h-126zm12 6h108v6h-108zm18 6h78v6h-78zm30 6h24v6h-24z"/><path fill="#8efeac" d="M205 1018h48v6h-48zm-6 6h72v6h-72zm-6 6h90v6h-90zm0 6h102v6h-102zm0 6h114v6h-114zm0 6h126v6h-126zm0 6h132v6h-132zm6 6h138v6h-138zm0 6h144v6h-144zm0 6h156v6h-156zm6 6h156v6h-156zm0 6h162v6h-162zm6 6h168v6h-168zm6 6h168v6h-168zm0 6h174v6h-174zm6 6h174v6h-174zm6 6h180v6h-180zm12 6h180v6h-180zm6 6h186v6h-186zm6 6h192v6h-192zm12 6h192v6h-192zm6 6h192v6h-192zm12 6h192v6h-192zm6 6h192v6h-192zm6 6h192v6h-192zm6 6h192v6h-192zm0 6h192v6h-192zm6 6h192v6h-192zm0 6h198v6h-198zm0 6h198v6h-198zm0 6h198v6h-198zm0 6h204v6h-204zm0 6h204v6h-204zm0 6h204v6h-204zm-6 6h210v6h-210zm0 6h210v6h-210zm0 6h210v6h-210zm0 6h210v6h-210zm0 6h210v6h-210zm6 6h198v6h-198zm0 6h198v6h-198zm0 6h192v6h-192zm6 6h186v6h-186zm0 6h180v6h-180zm6 6h168v6h-168zm12 6h144v6h-144zm6 6h126v6h-126zm12 6h102v6h-102zm24 6h54v6h-54z"/><path fill="#63fbc3" d="M151 1126h42v6h-42zm-6 6h60v6h-60zm-6 6h78v6h-78zm0 6h108v6h-108zm0 6h126v6h-126zm0 6h132v6h-132zm0 6h66v6h-66zm72 0h72v6h-72zm-72 6h66v6h-66zm78 0h72v6h-72zm-78 6h150v6h-150zm-6 6h162v6h-162zm0 6h162v6h-162zm0 6h168v6h-168zm0 6h168v6h-168zm0 6h168v6h-168zm0 6h168v6h-168zm6 6h156v6h-156zm0 6h156v6h-156zm6 6h144v6h-144zm12 6h132v6h-132zm6 6h120v6h-120zm18 6h96v6h-96zm18 6h66v6h-66z"/><path fill="#9cfba4" d="M235 1048h36v6h-36zm-6 6h60v6h-60zm0 6h72v6h-72zm0 6h84v6h-84zm0 6h96v6h-96zm0 6h102v6h-102zm6 6h108v6h-108zm0 6h114v6h-114zm6 6h120v6h-120zm0 6h126v6h-126zm6 6h126v6h-126zm6 6h126v6h-126zm6 6h132v6h-132zm6 6h132v6h-132zm6 6h138v6h-138zm6 6h144v6h-144zm6 6h150v6h-150zm6 6h156v6h-156zm6 6h162v6h-162zm6 6h162v6h-162zm6 6h162v6h-162zm0 6h168v6h-168zm6 6h168v6h-168zm0 6h168v6h-168zm0 6h174v6h-174zm0 6h174v6h-174zm0 6h180v6h-180zm0 6h180v6h-180zm-6 6h186v6h-186zm0 6h186v6h-186zm0 6h186v6h-186zm0 6h186v6h-186zm6 6h180v6h-180zm0 6h174v6h-174zm6 6h168v6h-168zm0 6h162v6h-162zm6 6h150v6h-150zm6 6h138v6h-138zm6 6h126v6h-126zm12 6h102v6h-102zm12 6h72v6h-72z"/><path fill="#55f6ca" d="M163 1132h24v6h-24zm-12 6h48v6h-48zm0 6h72v6h-72zm-6 6h102v6h-102zm0 6h120v6h-120zm0 6h54v6h-54zm84 0h48v6h-48zm-84 6h54v6h-54zm78 0h60v6h-60zm-78 6h144v6h-144zm0 6h144v6h-144zm0 6h150v6h-150zm-6 6h156v6h-156zm0 6h156v6h-156zm0 6h156v6h-156zm6 6h150v6h-150zm0 6h150v6h-150zm6 6h138v6h-138zm6 6h126v6h-126zm12 6h114v6h-114zm12 6h90v6h-90zm24 6h54v6h-54z"/><path fill="#aaf69b" d="M259 1066h24v6h-24zm-6 6h48v6h-48zm0 6h60v6h-60zm0 6h72v6h-72zm0 6h78v6h-78zm0 6h90v6h-90zm6 6h90v6h-90zm0 6h102v6h-102zm6 6h102v6h-102zm6 6h102v6h-102zm6 6h108v6h-108zm6 6h108v6h-108zm6 6h114v6h-114zm6 6h120v6h-120zm6 6h126v6h-126zm6 6h132v6h-132zm0 6h144v6h-144zm6 6h144v6h-144zm0 6h150v6h-150zm6 6h150v6h-150zm0 6h156v6h-156zm0 6h156v6h-156zm0 6h162v6h-162zm0 6h162v6h-162zm-6 6h168v6h-168zm0 6h168v6h-168zm0 6h168v6h-168zm0 6h168v6h-168zm0 6h168v6h-168zm6 6h162v6h-162zm0 6h156v6h-156zm6 6h150v6h-150zm6 6h138v6h-138zm6 6h126v6h-126zm6 6h114v6h-114zm12 6h90v6h-90zm18 6h54v6h-54z"/><path fill="#47f0d1" d="M169 1138h12v6h-12zm-6 6h30v6h-30zm-6 6h42v6h-42zm48 0h24v6h-24zm-48 6h36v6h-36zm48 0h48v6h-48zm-48 6h36v6h-36zm78 0h36v6h-36zm-78 6h36v6h-36zm72 0h48v6h-48zm-72 6h126v6h-126zm-6 6h138v6h-138zm0 6h138v6h-138zm0 6h138v6h-138zm0 6h144v6h-144zm0 6h138v6h-138zm0 6h138v6h-138zm6 6h132v6h-132zm6 6h120v6h-120zm6 6h114v6h-114zm12 6h90v6h-90zm18 6h66v6h-66z"/><path fill="#b8f092" d="M271 1084h30v6h-30zm0 6h48v6h-48zm0 6h54v6h-54zm0 6h66v6h-66zm0 6h72v6h-72zm6 6h78v6h-78zm6 6h78v6h-78zm0 6h84v6h-84zm6 6h90v6h-90zm6 6h96v6h-96zm6 6h102v6h-102zm6 6h108v6h-108zm6 6h114v6h-114zm6 6h120v6h-120zm0 6h132v6h-132zm0 6h138v6h-138zm6 6h138v6h-138zm0 6h138v6h-138zm0 6h144v6h-144zm0 6h150v6h-150zm0 6h150v6h-150zm-6 6h156v6h-156zm0 6h156v6h-156zm-6 6h162v6h-162zm0 6h162v6h-162zm6 6h156v6h-156zm6 6h150v6h-150zm6 6h138v6h-138zm0 6h132v6h-132zm6 6h126v6h-126zm12 6h102v6h-102zm6 6h90v6h-90zm12 6h60v6h-60z"/><path fill="#39e7d7" d="M211 1150h18v6h-18zm-42 6h12v6h-12zm42 0h18v6h-18zm-42 6h12v6h-12zm72 0h18v6h-18zm-78 6h24v6h-24zm72 0h36v6h-36zm-72 6h42v6h-42zm54 0h60v6h-60zm-60 6h126v6h-126zm0 6h126v6h-126zm0 6h132v6h-132zm0 6h132v6h-132zm0 6h132v6h-132zm0 6h132v6h-132zm6 6h120v6h-120zm6 6h114v6h-114zm12 6h96v6h-96zm12 6h72v6h-72zm18 6h42v6h-42z"/><path fill="#c6e789" d="M295 1096h6v6h-6zm-6 6h30v6h-30zm0 6h42v6h-42zm0 6h48v6h-48zm6 6h54v6h-54zm0 6h60v6h-60zm6 6h66v6h-66zm6 6h72v6h-72zm6 6h78v6h-78zm0 6h90v6h-90zm6 6h102v6h-102zm6 6h108v6h-108zm0 6h114v6h-114zm6 6h120v6h-120zm0 6h126v6h-126zm0 6h126v6h-126zm0 6h132v6h-132zm0 6h138v6h-138zm-6 6h144v6h-144zm0 6h144v6h-144zm-6 6h150v6h-150zm0 6h150v6h-150zm0 6h150v6h-150zm0 6h150v6h-150zm6 6h144v6h-144zm12 6h126v6h-126zm6 6h114v6h-114zm6 6h102v6h-102zm6 6h90v6h-90zm18 6h54v6h-54z"/><path fill="#2bdddd" d="M211 1150h12v6h-12zm0 6h12v6h-12zm24 12h30v6h-30zm-66 6h24v6h-24zm54 0h48v6h-48zm-60 6h114v6h-114zm0 6h120v6h-120zm0 6h120v6h-120zm-6 6h126v6h-126zm6 6h120v6h-120zm0 6h120v6h-120zm6 6h108v6h-108zm6 6h102v6h-102zm12 6h84v6h-84zm18 6h54v6h-54z"/><path fill="#d4dd80" d="M307 1120h24v6h-24zm6 6h30v6h-30zm0 6h42v6h-42zm6 6h42v6h-42zm0 6h54v6h-54zm6 6h66v6h-66zm6 6h78v6h-78zm0 6h90v6h-90zm0 6h102v6h-102zm0 6h108v6h-108zm0 6h114v6h-114zm0 6h120v6h-120zm0 6h126v6h-126zm0 6h132v6h-132zm0 6h132v6h-132zm0 6h132v6h-132zm-6 6h138v6h-138zm-6 6h144v6h-144zm0 6h144v6h-144zm6 6h138v6h-138zm6 6h126v6h-126zm12 6h114v6h-114zm6 6h102v6h-102zm6 6h90v6h-90zm12 6h66v6h-66zm30 6h6v6h-6z"/><path fill="#1cd1e2" d="M211 1150h12v6h-12zm0 6h12v6h-12zm30 12h18v6h-18zm-12 6h42v6h-42zm-54 6h102v6h-102zm-6 6h108v6h-108zm-6 6h120v6h-120zm0 6h120v6h-120zm0 6h120v6h-120zm6 6h108v6h-108zm6 6h102v6h-102zm6 6h90v6h-90zm12 6h72v6h-72zm24 6h30v6h-30z"/><path fill="#e3d176" d="M343 1144h12v6h-12zm-6 6h42v6h-42zm0 6h60v6h-60zm0 6h78v6h-78zm0 6h84v6h-84zm0 6h96v6h-96zm0 6h102v6h-102zm0 6h108v6h-108zm0 6h114v6h-114zm0 6h120v6h-120zm0 6h120v6h-120zm-6 6h126v6h-126zm0 6h126v6h-126zm-6 6h132v6h-132zm0 6h132v6h-132zm6 6h126v6h-126zm12 6h108v6h-108zm6 6h102v6h-102zm6 6h90v6h-90zm12 6h66v6h-66zm18 6h30v6h-30z"/><path fill="#0ec3e7" d="M217 1150h6v6h-6zm0 6h6v6h-6zm12 18h36v6h-36zm-48 6h90v6h-90zm-6 6h102v6h-102zm-6 6h108v6h-108zm0 6h108v6h-108zm0 6h108v6h-108zm6 6h102v6h-102zm6 6h90v6h-90zm6 6h78v6h-78zm18 6h54v6h-54z"/><path fill="#f1c36c" d="M355 1156h30v6h-30zm-6 6h54v6h-54zm0 6h66v6h-66zm-6 6h84v6h-84zm0 6h90v6h-90zm0 6h96v6h-96zm0 6h102v6h-102zm0 6h108v6h-108zm0 6h108v6h-108zm-6 6h120v6h-120zm-6 6h126v6h-126zm0 6h126v6h-126zm0 6h126v6h-126zm6 6h114v6h-114zm12 6h102v6h-102zm6 6h90v6h-90zm6 6h78v6h-78zm12 6h54v6h-54z"/><path fill="#00b4ec" d="M235 1174h24v6h-24zm-36 6h66v6h-66zm-18 6h90v6h-90zm-6 6h102v6h-102zm0 6h102v6h-102zm0 6h102v6h-102zm6 6h90v6h-90zm6 6h84v6h-84zm12 6h66v6h-66zm18 6h36v6h-36z"/><path fill="#ffb462" d="M361 1162h24v6h-24zm-6 6h54v6h-54zm-6 6h72v6h-72zm0 6h78v6h-78zm0 6h90v6h-90zm0 6h96v6h-96zm0 6h96v6h-96zm-6 6h108v6h-108zm0 6h108v6h-108zm-6 6h114v6h-114zm-6 6h120v6h-120zm0 6h120v6h-120zm12 6h108v6h-108zm12 6h90v6h-90zm6 6h78v6h-78zm6 6h66v6h-66zm18 6h30v6h-30z"/><path fill="#0ea4f0" d="M217 1180h48v6h-48zm-30 6h84v6h-84zm-6 6h90v6h-90zm0 6h90v6h-90zm0 6h90v6h-90zm0 6h90v6h-90zm12 6h72v6h-72zm12 6h54v6h-54zm24 6h6v6h-6z"/><path fill="#ffa457" d="M367 1168h30v6h-30zm-6 6h54v6h-54zm-6 6h72v6h-72zm0 6h78v6h-78zm-6 6h90v6h-90zm0 6h96v6h-96zm0 6h96v6h-96zm-6 6h108v6h-108zm0 6h108v6h-108zm-6 6h114v6h-114zm0 6h108v6h-108zm12 6h96v6h-96zm6 6h84v6h-84zm6 6h72v6h-72zm12 6h54v6h-54z"/><path fill="#1c92f3" d="M217 1180h42v6h-42zm-24 6h72v6h-72zm-6 6h78v6h-78zm-6 6h90v6h-90zm6 6h84v6h-84zm0 6h78v6h-78zm12 6h60v6h-60zm12 6h42v6h-42z"/><path fill="#ff924d" d="M367 1174h36v6h-36zm-6 6h60v6h-60zm0 6h66v6h-66zm-6 6h78v6h-78zm0 6h84v6h-84zm-6 6h96v6h-96zm0 6h96v6h-96zm-6 6h102v6h-102zm0 6h102v6h-102zm0 6h102v6h-102zm12 6h84v6h-84zm6 6h78v6h-78zm6 6h66v6h-66zm12 6h42v6h-42z"/><path fill="#2a80f6" d="M223 1180h30v6h-30zm-24 6h66v6h-66zm-6 6h72v6h-72zm-6 6h78v6h-78zm0 6h78v6h-78zm6 6h72v6h-72zm12 6h54v6h-54zm18 6h18v6h-18z"/><path fill="#ff8042" d="M367 1180h48v6h-48zm-6 6h66v6h-66zm0 6h72v6h-72zm-6 6h84v6h-84zm0 6h84v6h-84zm-6 6h96v6h-96zm0 6h96v6h-96zm0 6h96v6h-96zm0 6h90v6h-90zm6 6h84v6h-84zm6 6h72v6h-72zm12 6h54v6h-54zm12 6h24v6h-24z"/><path fill="#396cf9" d="M229 1180h24v6h-24zm-24 6h54v6h-54zm-12 6h72v6h-72zm0 6h72v6h-72zm0 6h72v6h-72zm6 6h60v6h-60zm12 6h42v6h-42z"/><path fill="#ff6c37" d="M373 1180h36v6h-36zm-6 6h54v6h-54zm-6 6h66v6h-66zm0 6h72v6h-72zm-6 6h84v6h-84zm0 6h84v6h-84zm0 6h84v6h-84zm-6 6h90v6h-90zm6 6h84v6h-84zm6 6h72v6h-72zm6 6h66v6h-66zm12 6h42v6h-42z"/><path fill="#4757fb" d="M229 1180h18v6h-18zm-18 6h48v6h-48zm-12 6h60v6h-60zm0 6h60v6h-60zm0 6h60v6h-60zm6 6h54v6h-54zm12 6h30v6h-30z"/><path fill="#ff572c" d="M385 1180h12v6h-12zm-12 6h42v6h-42zm-6 6h60v6h-60zm-6 6h72v6h-72zm0 6h72v6h-72zm-6 6h84v6h-84zm0 6h84v6h-84zm0 6h84v6h-84zm0 6h84v6h-84zm6 6h72v6h-72zm12 6h54v6h-54zm6 6h36v6h-36z"/><path fill="#5542fd" d="M217 1186h36v6h-36zm-12 6h54v6h-54zm0 6h54v6h-54zm0 6h54v6h-54zm6 6h42v6h-42zm12 6h18v6h-18z"/><path fill="#ff4221" d="M373 1186h42v6h-42zm-6 6h54v6h-54zm0 6h60v6h-60zm-6 6h72v6h-72zm0 6h72v6h-72zm0 6h78v6h-78zm-6 6h84v6h-84zm6 6h72v6h-72zm6 6h66v6h-66zm6 6h54v6h-54zm12 6h30v6h-30z"/><path fill="#632cfe" d="M217 1186h36v6h-36zm-6 6h48v6h-48zm-6 6h54v6h-54zm6 6h48v6h-48zm6 6h36v6h-36z"/><path fill="#ff2c16" d="M379 1186h30v6h-30zm-6 6h48v6h-48zm-6 6h60v6h-60zm0 6h66v6h-66zm-6 6h72v6h-72zm0 6h72v6h-72zm0 6h72v6h-72zm0 6h72v6h-72zm6 6h60v6h-60zm12 6h42v6h-42zm18 6h6v6h-6z"/><path fill="#7116ff" d="M223 1186h30v6h-30zm-12 6h42v6h-42zm0 6h48v6h-48zm0 6h42v6h-42zm6 6h30v6h-30z"/><path fill="#ff160b" d="M373 1192h42v6h-42zm-6 6h60v6h-60zm0 6h60v6h-60zm0 6h66v6h-66zm-6 6h72v6h-72zm0 6h72v6h-72zm6 6h60v6h-60zm6 6h54v6h-54zm6 6h36v6h-36z"/><path fill="#8000ff" d="M223 1186h24v6h-24zm-6 6h36v6h-36zm-6 6h42v6h-42zm6 6h36v6h-36zm6 6h24v6h-24z"/><path fill="#ff0000" d="M379 1192h36v6h-36zm-6 6h48v6h-48zm-6 6h60v6h-60zm0 6h60v6h-60zm0 6h66v6h-66zm0 6h60v6h-60zm0 6h60v6h-60zm6 6h48v6h-48zm12 6h30v6h-30z"/></g><path fill="none" stroke="#000" stroke-width="0.9" d="M171.0 1141.8L177.0 1141.6L183.0 1143.3L195.0 1151.5L195.8 1156.0L191.5 1164.0L191.7 1168.0L195.4 1172.0L201.0 1174.8L213.0 1176.0L223.5 1174.0L230.5 1170.0L237.6 1160.0L243.0 1158.1L251.0 1158.5L259.0 1160.6L275.0 1169.5L286.0 1182.0L289.8 1190.0L291.6 1198.0L291.6 1206.0L289.9 1214.0L282.4 1228.0L273.0 1237.1L263.0 1242.8L249.0 1247.1L233.0 1248.5L215.0 1246.6L195.0 1241.2L177.0 1234.3L162.9 1226.0L156.3 1220.0L152.1 1214.0L149.2 1206.0L148.8 1198.0L156.5 1172.0L158.8 1152.0L163.0 1145.7L171.0 1141.8M211.0 1149.4L217.0 1148.4L223.0 1149.2L230.5 1154.0L232.2 1156.0L232.0 1158.0L230.0 1160.0L223.0 1162.3L211.0 1161.3L204.7 1156.0L206.2 1152.0L211.0 1149.4M213.0 1153.7L219.0 1152.1L223.0 1153.8L224.3 1156.0L221.0 1159.2L217.0 1159.6L213.0 1158.0L212.0 1156.0L213.0 1153.7M249.0 1171.8L259.0 1173.2L269.0 1179.4L275.6 1188.0L278.7 1198.0L278.2 1208.0L273.8 1218.0L266.7 1226.0L257.0 1232.0L247.0 1235.3L235.0 1236.8L223.0 1236.2L209.0 1233.3L193.0 1227.9L185.0 1223.5L175.2 1216.0L169.5 1208.0L168.1 1202.0L169.4 1194.0L174.7 1186.0L180.8 1182.0L187.0 1180.5L217.0 1180.0L249.0 1171.8M235.0 1179.8L245.0 1179.1L253.0 1180.6L261.0 1185.4L265.9 1192.0L268.0 1200.0L266.9 1208.0L262.3 1216.0L255.0 1222.1L247.0 1225.7L239.0 1227.4L229.0 1227.7L219.0 1226.4L201.0 1219.9L192.2 1214.0L186.8 1208.0L184.8 1202.0L185.3 1198.0L187.5 1194.0L192.3 1190.0L199.0 1187.3L235.0 1179.8M231.0 1183.9L241.0 1183.2L249.0 1185.1L255.0 1189.0L258.6 1194.0L260.1 1200.0L259.2 1206.0L255.6 1212.0L249.0 1217.1L237.0 1220.5L225.0 1219.6L211.6 1214.0L203.6 1206.0L202.6 1200.0L206.5 1194.0L216.8 1188.0L231.0 1183.9M229.0 1187.5L241.0 1186.9L247.0 1189.1L250.8 1192.0L253.4 1196.0L254.2 1202.0L249.9 1210.0L243.0 1214.2L233.0 1215.6L223.0 1213.0L216.4 1208.0L213.6 1202.0L215.1 1196.0L221.0 1190.7L229.0 1187.5M229.0 1189.7L239.0 1188.7L247.0 1192.3L249.9 1196.0L250.8 1200.0L250.1 1204.0L247.1 1208.0L243.0 1210.8L235.0 1212.2L229.0 1211.2L223.6 1208.0L219.9 1202.0L220.1 1198.0L222.4 1194.0L229.0 1189.7M235.0 1189.9L241.0 1190.6L245.0 1192.7L247.9 1196.0L248.9 1200.0L248.0 1204.0L245.0 1207.5L237.0 1210.5L231.0 1209.9L226.9 1208.0L223.2 1204.0L222.3 1200.0L223.5 1196.0L227.0 1192.4L235.0 1189.9M231.0 1191.9L239.0 1191.4L245.0 1194.7L247.3 1200.0L244.6 1206.0L241.0 1208.2L235.0 1209.2L226.9 1206.0L224.3 1202.0L224.4 1198.0L227.0 1194.2L231.0 1191.9M231.0 1193.1L237.0 1192.2L243.0 1194.5L245.9 1200.0L244.6 1204.0L241.0 1206.9L237.0 1208.0L229.0 1206.0L225.6 1200.0L227.2 1196.0L231.0 1193.1M233.0 1193.5L239.0 1193.6L243.0 1196.1L244.3 1198.0L244.3 1202.0L241.0 1205.7L235.0 1207.0L228.6 1204.0L227.4 1202.0L227.4 1198.0L233.0 1193.5M231.0 1195.5L237.0 1194.1L241.0 1195.6L243.0 1198.0L243.1 1202.0L241.0 1204.5L237.0 1206.0L231.0 1204.7L228.2 1200.0L231.0 1195.5M233.0 1195.4L237.0 1194.9L241.0 1196.9L242.5 1200.0L241.0 1203.2L237.0 1205.2L231.0 1203.4L229.3 1200.0L229.9 1198.0L233.0 1195.4M235.0 1195.7L239.0 1196.4L240.9 1198.0L241.0 1201.7L239.0 1203.7L235.0 1204.4L230.9 1202.0L231.0 1198.0L235.0 1195.7M233.0 1197.2L237.0 1196.4L239.0 1197.3L240.6 1200.0L239.9 1202.0L237.0 1203.6L233.0 1202.9L231.3 1200.0L233.0 1197.2M235.0 1197.1L238.8 1198.0L239.8 1200.0L238.8 1202.0L235.0 1203.0L233.1 1202.0L232.1 1200.0L235.0 1197.1M235.0 1197.7L237.5 1198.0L239.0 1200.0L237.0 1202.3L234.4 1202.0L232.9 1200.0L235.0 1197.7M235.0 1198.4L237.0 1198.5L238.3 1200.0L237.0 1201.6L235.0 1201.6L233.6 1200.0L235.0 1198.4M235.0 1199.2L237.7 1200.0L235.0 1200.8L235.0 1199.2M127.0 982.0C134.2 990.0 155.5 1013.7 170.0 1030.0C184.5 1046.3 199.0 1062.8 214.0 1080.0C229.0 1097.2 245.7 1116.3 260.0 1133.0C274.3 1149.7 290.7 1168.7 300.0 1180.0C309.3 1191.3 316.0 1192.7 316.0 1201.0C316.0 1209.3 304.3 1222.5 300.0 1230.0C295.7 1237.5 293.7 1236.0 290.0 1246.0C286.3 1256.0 281.3 1274.3 278.0 1290.0C274.7 1305.7 271.7 1328.0 270.0 1340.0C268.3 1352.0 268.3 1358.3 268.0 1362.0"/><path fill="none" stroke="#000" stroke-width="0.9" stroke-dasharray="3 2" d="M393.0 1191.9L381.0 1195.4L373.0 1202.1L367.2 1214.0L366.3 1220.0L367.3 1226.0L374.5 1236.0L385.0 1242.6L397.0 1245.2L411.0 1243.1L420.4 1238.0L427.0 1230.0L429.4 1222.0L428.0 1212.0L423.2 1204.0L415.0 1197.3L403.0 1192.6L393.0 1191.9M383.0 1185.8L371.4 1192.0L363.7 1202.0L357.7 1220.0L357.9 1226.0L359.7 1230.0L364.6 1236.0L373.0 1243.1L381.0 1247.5L389.0 1250.1L397.0 1251.1L407.0 1250.5L415.0 1248.3L423.3 1244.0L431.7 1236.0L436.3 1226.0L436.2 1214.0L431.8 1204.0L422.0 1194.0L409.0 1187.3L395.0 1184.6L383.0 1185.8M375.0 1175.7L365.0 1181.6L358.1 1192.0L344.6 1224.0L345.9 1230.0L369.0 1249.0L377.0 1253.3L387.0 1256.6L399.0 1257.9L411.0 1256.6L421.0 1253.5L431.0 1247.7L441.0 1236.5L445.2 1224.0L443.7 1210.0L437.1 1198.0L425.0 1187.0L409.0 1179.1L389.0 1174.8L375.0 1175.7M353.0 1155.5L347.8 1160.0L345.0 1167.8L342.5 1178.0L341.8 1196.0L339.9 1206.0L327.1 1226.0L327.4 1230.0L330.2 1234.0L369.0 1259.5L379.0 1263.6L389.0 1265.8L405.0 1266.4L419.0 1264.0L433.0 1258.3L444.3 1250.0L449.5 1244.0L454.0 1236.0L456.4 1228.0L456.9 1220.0L455.9 1212.0L453.2 1204.0L448.8 1196.0L442.3 1188.0L433.1 1180.0L423.0 1173.5L393.0 1160.4L367.0 1155.1L353.0 1155.5M277.0 1085.9L272.7 1090.0L271.1 1096.0L272.3 1104.0L275.4 1112.0L285.8 1128.0L315.0 1161.7L319.8 1170.0L323.5 1180.0L324.7 1190.0L324.0 1202.0L321.6 1210.0L315.2 1224.0L315.3 1232.0L321.0 1241.1L341.0 1261.7L354.8 1272.0L367.9 1278.0L383.0 1282.0L403.0 1283.1L421.0 1280.8L435.0 1276.5L450.9 1268.0L462.5 1258.0L468.5 1250.0L473.3 1240.0L475.7 1230.0L476.1 1218.0L473.7 1206.0L469.5 1196.0L463.1 1186.0L455.0 1177.1L445.0 1169.0L433.0 1161.6L379.3 1136.0L335.0 1104.9L317.0 1094.1L305.0 1088.7L293.0 1085.1L283.0 1084.4L277.0 1085.9"/><ellipse cx="229.0" cy="1201.0" rx="8.0" ry="7.0" fill="#000"/></g><clipPath id="cpf"><rect x="640.7" y="981.3" width="606.9" height="380.3"/></clipPath><rect x="640.7" y="981.3" width="606.9" height="380.3" fill="#80ffb4"/><g clip-path="url(#cpf)"><g filter="url(#fb)"><path fill="#71febc" d="M797 1113h36v6h-36zm-24 6h84v6h-84zm-12 6h108v6h-108zm-6 6h126v6h-126zm-6 6h138v6h-138zm-6 6h150v6h-150zm0 6h156v6h-156zm-6 6h168v6h-168zm0 6h174v6h-174zm-6 6h186v6h-186zm0 6h186v6h-186zm0 6h192v6h-192zm0 6h192v6h-192zm-6 6h198v6h-198zm0 6h198v6h-198zm0 6h198v6h-198zm-6 6h204v6h-204zm0 6h204v6h-204zm0 6h204v6h-204zm0 6h204v6h-204zm0 6h198v6h-198zm0 6h198v6h-198zm0 6h198v6h-198zm6 6h186v6h-186zm0 6h186v6h-186zm6 6h174v6h-174zm12 6h156v6h-156zm6 6h138v6h-138zm12 6h114v6h-114zm18 6h78v6h-78z"/><path fill="#8efeac" d="M869 1017h18v6h-18zm-12 6h54v6h-54zm-6 6h78v6h-78zm-6 6h96v6h-96zm0 6h108v6h-108zm0 6h120v6h-120zm6 6h120v6h-120zm0 6h132v6h-132zm0 6h138v6h-138zm0 6h150v6h-150zm6 6h150v6h-150zm0 6h156v6h-156zm6 6h156v6h-156zm6 6h162v6h-162zm0 6h168v6h-168zm6 6h168v6h-168zm6 6h168v6h-168zm6 6h174v6h-174zm6 6h174v6h-174zm6 6h180v6h-180zm6 6h186v6h-186zm6 6h186v6h-186zm6 6h192v6h-192zm6 6h192v6h-192zm6 6h192v6h-192zm0 6h198v6h-198zm6 6h198v6h-198zm0 6h204v6h-204zm0 6h210v6h-210zm0 6h210v6h-210zm0 6h216v6h-216zm0 6h216v6h-216zm0 6h216v6h-216zm0 6h222v6h-222zm0 6h222v6h-222zm0 6h222v6h-222zm0 6h222v6h-222zm0 6h222v6h-222zm0 6h222v6h-222zm0 6h216v6h-216zm0 6h216v6h-216zm6 6h210v6h-210zm0 6h204v6h-204zm6 6h192v6h-192zm6 6h180v6h-180zm6 6h168v6h-168zm6 6h150v6h-150zm12 6h126v6h-126zm12 6h102v6h-102zm18 6h60v6h-60z"/><path fill="#63fbc3" d="M809 1125h18v6h-18zm-24 6h72v6h-72zm-12 6h96v6h-96zm-6 6h114v6h-114zm-6 6h126v6h-126zm-6 6h138v6h-138zm0 6h144v6h-144zm-6 6h156v6h-156zm0 6h156v6h-156zm0 6h162v6h-162zm0 6h162v6h-162zm0 6h162v6h-162zm-6 6h174v6h-174zm0 6h174v6h-174zm0 6h168v6h-168zm0 6h168v6h-168zm0 6h168v6h-168zm0 6h168v6h-168zm0 6h162v6h-162zm0 6h162v6h-162zm6 6h150v6h-150zm0 6h144v6h-144zm6 6h132v6h-132zm12 6h108v6h-108zm12 6h84v6h-84zm24 6h36v6h-36z"/><path fill="#9cfba4" d="M899 1047h12v6h-12zm-12 6h48v6h-48zm-6 6h66v6h-66zm0 6h78v6h-78zm0 6h90v6h-90zm0 6h96v6h-96zm6 6h102v6h-102zm0 6h108v6h-108zm6 6h114v6h-114zm0 6h120v6h-120zm6 6h120v6h-120zm6 6h120v6h-120zm0 6h132v6h-132zm6 6h132v6h-132zm6 6h132v6h-132zm6 6h138v6h-138zm6 6h144v6h-144zm6 6h144v6h-144zm0 6h156v6h-156zm6 6h156v6h-156zm6 6h162v6h-162zm0 6h168v6h-168zm0 6h174v6h-174zm0 6h174v6h-174zm0 6h180v6h-180zm0 6h186v6h-186zm0 6h186v6h-186zm0 6h186v6h-186zm0 6h192v6h-192zm0 6h192v6h-192zm0 6h192v6h-192zm0 6h192v6h-192zm0 6h192v6h-192zm0 6h186v6h-186zm6 6h180v6h-180zm0 6h174v6h-174zm6 6h168v6h-168zm6 6h156v6h-156zm6 6h144v6h-144zm6 6h126v6h-126zm12 6h102v6h-102zm12 6h78v6h-78zm30 6h12v6h-12z"/><path fill="#55f6ca" d="M791 1137h60v6h-60zm-12 6h90v6h-90zm-6 6h102v6h-102zm-6 6h120v6h-120zm-6 6h132v6h-132zm0 6h132v6h-132zm0 6h138v6h-138zm0 6h144v6h-144zm0 6h144v6h-144zm-6 6h150v6h-150zm0 6h150v6h-150zm0 6h150v6h-150zm0 6h150v6h-150zm0 6h150v6h-150zm0 6h144v6h-144zm0 6h144v6h-144zm0 6h138v6h-138zm6 6h132v6h-132zm0 6h126v6h-126zm6 6h108v6h-108zm12 6h90v6h-90zm12 6h60v6h-60z"/><path fill="#aaf69b" d="M905 1071h42v6h-42zm0 6h54v6h-54zm0 6h66v6h-66zm0 6h78v6h-78zm0 6h84v6h-84zm6 6h84v6h-84zm0 6h96v6h-96zm6 6h96v6h-96zm6 6h96v6h-96zm0 6h108v6h-108zm6 6h108v6h-108zm6 6h108v6h-108zm6 6h114v6h-114zm6 6h120v6h-120zm0 6h126v6h-126zm6 6h132v6h-132zm6 6h132v6h-132zm0 6h144v6h-144zm0 6h150v6h-150zm0 6h156v6h-156zm0 6h156v6h-156zm0 6h162v6h-162zm0 6h162v6h-162zm-6 6h174v6h-174zm0 6h174v6h-174zm0 6h174v6h-174zm0 6h174v6h-174zm0 6h174v6h-174zm0 6h174v6h-174zm6 6h162v6h-162zm0 6h162v6h-162zm6 6h150v6h-150zm6 6h138v6h-138zm6 6h126v6h-126zm6 6h114v6h-114zm12 6h90v6h-90zm12 6h60v6h-60z"/><path fill="#47f0d1" d="M803 1137h36v6h-36zm-12 6h66v6h-66zm-12 6h90v6h-90zm-6 6h102v6h-102zm0 6h114v6h-114zm-6 6h120v6h-120zm0 6h126v6h-126zm0 6h132v6h-132zm0 6h132v6h-132zm0 6h132v6h-132zm0 6h132v6h-132zm0 6h132v6h-132zm0 6h132v6h-132zm0 6h132v6h-132zm0 6h126v6h-126zm0 6h126v6h-126zm0 6h120v6h-120zm0 6h114v6h-114zm6 6h96v6h-96zm12 6h78v6h-78zm12 6h48v6h-48z"/><path fill="#b8f092" d="M929 1083h18v6h-18zm-6 6h42v6h-42zm0 6h54v6h-54zm0 6h60v6h-60zm0 6h72v6h-72zm6 6h72v6h-72zm0 6h78v6h-78zm6 6h84v6h-84zm6 6h84v6h-84zm6 6h84v6h-84zm6 6h90v6h-90zm0 6h102v6h-102zm6 6h102v6h-102zm6 6h108v6h-108zm0 6h120v6h-120zm0 6h126v6h-126zm0 6h132v6h-132zm0 6h138v6h-138zm0 6h144v6h-144zm0 6h150v6h-150zm0 6h150v6h-150zm0 6h12v6h-12zm24 0h132v6h-132zm-30 6h162v6h-162zm0 6h162v6h-162zm0 6h162v6h-162zm0 6h162v6h-162zm6 6h156v6h-156zm0 6h150v6h-150zm0 6h150v6h-150zm6 6h138v6h-138zm6 6h126v6h-126zm6 6h114v6h-114zm12 6h90v6h-90zm12 6h66v6h-66z"/><path fill="#39e7d7" d="M803 1143h42v6h-42zm-12 6h72v6h-72zm-12 6h90v6h-90zm0 6h96v6h-96zm-6 6h108v6h-108zm0 6h114v6h-114zm0 6h120v6h-120zm0 6h120v6h-120zm0 6h120v6h-120zm0 6h120v6h-120zm0 6h120v6h-120zm0 6h120v6h-120zm0 6h120v6h-120zm0 6h114v6h-114zm0 6h108v6h-108zm6 6h96v6h-96zm0 6h90v6h-90zm6 6h72v6h-72zm18 6h42v6h-42z"/><path fill="#c6e789" d="M941 1101h24v6h-24zm0 6h36v6h-36zm0 6h48v6h-48zm0 6h54v6h-54zm6 6h60v6h-60zm6 6h60v6h-60zm0 6h66v6h-66zm6 6h72v6h-72zm6 6h78v6h-78zm6 6h84v6h-84zm0 6h96v6h-96zm0 6h102v6h-102zm6 6h108v6h-108zm0 6h114v6h-114zm-6 6h126v6h-126zm0 6h132v6h-132zm6 6h132v6h-132zm12 6h120v6h-120zm6 6h120v6h-120zm-6 6h126v6h-126zm-18 6h144v6h-144zm-6 6h150v6h-150zm6 6h144v6h-144zm0 6h144v6h-144zm0 6h138v6h-138zm6 6h126v6h-126zm6 6h120v6h-120zm6 6h102v6h-102zm6 6h90v6h-90zm12 6h66v6h-66z"/><path fill="#2bdddd" d="M797 1149h54v6h-54zm-6 6h72v6h-72zm-6 6h84v6h-84zm-6 6h102v6h-102zm0 6h102v6h-102zm0 6h108v6h-108zm-6 6h114v6h-114zm0 6h114v6h-114zm0 6h120v6h-120zm6 6h108v6h-108zm0 6h108v6h-108zm0 6h108v6h-108zm0 6h102v6h-102zm6 6h90v6h-90zm0 6h84v6h-84zm6 6h66v6h-66zm12 6h42v6h-42z"/><path fill="#d4dd80" d="M959 1119h18v6h-18zm0 6h30v6h-30zm6 6h36v6h-36zm0 6h42v6h-42zm6 6h48v6h-48zm6 6h54v6h-54zm0 6h66v6h-66zm6 6h72v6h-72zm0 6h84v6h-84zm0 6h96v6h-96zm0 6h102v6h-102zm-6 6h114v6h-114zm0 6h120v6h-120zm6 6h120v6h-120zm12 6h108v6h-108zm0 6h114v6h-114zm0 6h114v6h-114zm-12 6h126v6h-126zm-6 6h132v6h-132zm0 6h132v6h-132zm0 6h126v6h-126zm0 6h126v6h-126zm6 6h114v6h-114zm6 6h102v6h-102zm6 6h90v6h-90zm12 6h66v6h-66zm24 6h18v6h-18z"/><path fill="#1cd1e2" d="M809 1149h30v6h-30zm-12 6h60v6h-60zm-6 6h78v6h-78zm-6 6h90v6h-90zm0 6h96v6h-96zm-6 6h102v6h-102zm0 6h108v6h-108zm0 6h108v6h-108zm0 6h108v6h-108zm0 6h108v6h-108zm6 6h96v6h-96zm0 6h96v6h-96zm0 6h90v6h-90zm6 6h78v6h-78zm6 6h66v6h-66zm6 6h42v6h-42z"/><path fill="#e3d176" d="M989 1149h24v6h-24zm0 6h42v6h-42zm0 6h60v6h-60zm0 6h72v6h-72zm0 6h78v6h-78zm-6 6h96v6h-96zm0 6h102v6h-102zm6 6h102v6h-102zm0 6h108v6h-108zm6 6h102v6h-102zm0 6h108v6h-108zm0 6h108v6h-108zm-6 6h114v6h-114zm-6 6h120v6h-120zm0 6h120v6h-120zm0 6h114v6h-114zm0 6h114v6h-114zm6 6h102v6h-102zm6 6h90v6h-90zm12 6h66v6h-66zm12 6h42v6h-42z"/><path fill="#0ec3e7" d="M803 1155h48v6h-48zm-12 6h72v6h-72zm0 6h78v6h-78zm-6 6h90v6h-90zm0 6h96v6h-96zm0 6h96v6h-96zm0 6h96v6h-96zm0 6h96v6h-96zm0 6h96v6h-96zm0 6h96v6h-96zm6 6h84v6h-84zm6 6h72v6h-72zm0 6h66v6h-66zm12 6h42v6h-42z"/><path fill="#f1c36c" d="M1001 1161h36v6h-36zm-6 6h54v6h-54zm0 6h66v6h-66zm0 6h78v6h-78zm-6 6h90v6h-90zm0 6h96v6h-96zm6 6h96v6h-96zm0 6h96v6h-96zm0 6h102v6h-102zm0 6h102v6h-102zm-6 6h108v6h-108zm-6 6h114v6h-114zm0 6h114v6h-114zm6 6h108v6h-108zm0 6h102v6h-102zm6 6h90v6h-90zm6 6h78v6h-78zm12 6h54v6h-54z"/><path fill="#00b4ec" d="M809 1155h36v6h-36zm-12 6h60v6h-60zm-6 6h78v6h-78zm0 6h84v6h-84zm0 6h90v6h-90zm0 6h90v6h-90zm0 6h90v6h-90zm0 6h84v6h-84zm0 6h84v6h-84zm0 6h84v6h-84zm6 6h72v6h-72zm6 6h60v6h-60zm6 6h48v6h-48z"/><path fill="#ffb462" d="M1007 1167h30v6h-30zm-6 6h54v6h-54zm0 6h66v6h-66zm-6 6h78v6h-78zm0 6h84v6h-84zm0 6h90v6h-90zm6 6h90v6h-90zm0 6h90v6h-90zm-6 6h96v6h-96zm0 6h102v6h-102zm-6 6h108v6h-108zm0 6h102v6h-102zm0 6h102v6h-102zm6 6h90v6h-90zm6 6h78v6h-78zm6 6h66v6h-66zm12 6h36v6h-36z"/><path fill="#0ea4f0" d="M815 1155h24v6h-24zm-12 6h54v6h-54zm-6 6h66v6h-66zm-6 6h84v6h-84zm0 6h90v6h-90zm0 6h90v6h-90zm0 6h84v6h-84zm0 6h84v6h-84zm6 6h78v6h-78zm0 6h72v6h-72zm6 6h60v6h-60zm6 6h48v6h-48zm12 6h24v6h-24z"/><path fill="#ffa457" d="M1013 1173h30v6h-30zm-6 6h48v6h-48zm-6 6h66v6h-66zm0 6h72v6h-72zm0 6h78v6h-78zm0 6h84v6h-84zm0 6h90v6h-90zm0 6h90v6h-90zm-6 6h96v6h-96zm-6 6h102v6h-102zm0 6h102v6h-102zm6 6h90v6h-90zm0 6h90v6h-90zm6 6h72v6h-72zm12 6h54v6h-54z"/><path fill="#1c92f3" d="M803 1161h48v6h-48zm-6 6h66v6h-66zm0 6h72v6h-72zm-6 6h84v6h-84zm0 6h84v6h-84zm6 6h78v6h-78zm0 6h78v6h-78zm6 6h66v6h-66zm0 6h60v6h-60zm6 6h48v6h-48zm6 6h30v6h-30z"/><path fill="#ff924d" d="M1013 1179h36v6h-36zm-6 6h54v6h-54zm0 6h66v6h-66zm-6 6h78v6h-78zm0 6h84v6h-84zm0 6h84v6h-84zm0 6h84v6h-84zm-6 6h96v6h-96zm0 6h90v6h-90zm0 6h90v6h-90zm0 6h90v6h-90zm6 6h78v6h-78zm6 6h66v6h-66zm12 6h42v6h-42z"/><path fill="#2a80f6" d="M809 1161h42v6h-42zm-6 6h54v6h-54zm-6 6h72v6h-72zm0 6h78v6h-78zm0 6h78v6h-78zm0 6h78v6h-78zm6 6h66v6h-66zm0 6h66v6h-66zm6 6h54v6h-54zm6 6h36v6h-36z"/><path fill="#ff8042" d="M1013 1185h42v6h-42zm-6 6h60v6h-60zm0 6h66v6h-66zm0 6h72v6h-72zm-6 6h84v6h-84zm0 6h84v6h-84zm0 6h84v6h-84zm-6 6h90v6h-90zm0 6h90v6h-90zm6 6h78v6h-78zm0 6h72v6h-72zm12 6h54v6h-54zm12 6h30v6h-30z"/><path fill="#396cf9" d="M809 1161h36v6h-36zm-6 6h54v6h-54zm-6 6h66v6h-66zm0 6h78v6h-78zm0 6h78v6h-78zm0 6h72v6h-72zm6 6h66v6h-66zm6 6h54v6h-54zm6 6h42v6h-42zm12 6h18v6h-18z"/><path fill="#ff6c37" d="M1019 1185h30v6h-30zm-6 6h48v6h-48zm-6 6h66v6h-66zm0 6h72v6h-72zm0 6h72v6h-72zm-6 6h84v6h-84zm0 6h84v6h-84zm0 6h84v6h-84zm0 6h78v6h-78zm0 6h78v6h-78zm6 6h66v6h-66zm6 6h48v6h-48z"/><path fill="#4757fb" d="M809 1161h36v6h-36zm-6 6h54v6h-54zm-6 6h66v6h-66zm0 6h78v6h-78zm0 6h78v6h-78zm6 6h66v6h-66zm0 6h66v6h-66zm6 6h54v6h-54zm12 6h30v6h-30z"/><path fill="#ff572c" d="M1019 1191h42v6h-42zm-6 6h54v6h-54zm-6 6h66v6h-66zm0 6h72v6h-72zm0 6h72v6h-72zm-6 6h78v6h-78zm0 6h78v6h-78zm0 6h78v6h-78zm6 6h66v6h-66zm0 6h60v6h-60zm12 6h42v6h-42z"/><path fill="#5542fd" d="M815 1161h30v6h-30zm-12 6h54v6h-54zm0 6h60v6h-60zm-6 6h78v6h-78zm6 6h66v6h-66zm0 6h66v6h-66zm6 6h54v6h-54zm6 6h48v6h-48zm12 6h24v6h-24z"/><path fill="#ff4221" d="M1019 1191h36v6h-36zm-6 6h54v6h-54zm-6 6h66v6h-66zm0 6h66v6h-66zm0 6h72v6h-72zm-6 6h78v6h-78zm0 6h78v6h-78zm0 6h72v6h-72zm6 6h66v6h-66zm6 6h54v6h-54zm12 6h30v6h-30z"/><path fill="#632cfe" d="M815 1161h24v6h-24zm-12 6h48v6h-48zm0 6h60v6h-60zm0 6h66v6h-66zm0 6h66v6h-66zm0 6h66v6h-66zm6 6h54v6h-54zm6 6h42v6h-42zm18 6h12v6h-12z"/><path fill="#ff2c16" d="M1031 1191h18v6h-18zm-12 6h42v6h-42zm-6 6h54v6h-54zm-6 6h66v6h-66zm0 6h66v6h-66zm0 6h72v6h-72zm0 6h66v6h-66zm0 6h66v6h-66zm0 6h60v6h-60zm12 6h42v6h-42zm12 6h12v6h-12z"/><path fill="#7116ff" d="M815 1161h24v6h-24zm-6 6h42v6h-42zm-6 6h54v6h-54zm0 6h66v6h-66zm0 6h66v6h-66zm0 6h60v6h-60zm6 6h54v6h-54zm6 6h42v6h-42z"/><path fill="#ff160b" d="M1019 1197h36v6h-36zm-6 6h54v6h-54zm0 6h60v6h-60zm-6 6h66v6h-66zm0 6h66v6h-66zm0 6h66v6h-66zm0 6h66v6h-66zm6 6h54v6h-54zm6 6h42v6h-42z"/><path fill="#8000ff" d="M821 1161h18v6h-18zm-12 6h42v6h-42zm-6 6h54v6h-54zm0 6h60v6h-60zm0 6h66v6h-66zm0 6h60v6h-60zm6 6h54v6h-54zm12 6h36v6h-36z"/><path fill="#ff0000" d="M1025 1197h30v6h-30zm-6 6h42v6h-42zm-6 6h54v6h-54zm0 6h60v6h-60zm-6 6h66v6h-66zm0 6h66v6h-66zm6 6h54v6h-54zm0 6h48v6h-48zm12 6h30v6h-30z"/></g><path fill="none" stroke="#000" stroke-width="0.9" d="M816.7 1139.3L830.7 1139.8L848.0 1143.3L862.7 1149.2L872.7 1155.1L882.7 1163.3L891.1 1173.3L897.2 1185.3L899.5 1195.3L899.1 1207.3L895.6 1219.3L889.9 1229.3L880.7 1240.1L870.7 1248.1L858.7 1254.8L844.7 1259.9L830.7 1262.6L818.7 1263.1L806.7 1262.0L794.7 1259.0L784.7 1254.6L777.0 1249.3L771.3 1243.3L767.0 1235.3L765.2 1227.3L765.9 1181.3L767.9 1171.3L771.3 1163.3L778.7 1153.9L788.7 1146.7L802.7 1141.3L816.7 1139.3M814.7 1153.1L832.7 1152.8L850.7 1157.7L864.7 1165.8L880.2 1179.3L882.0 1183.3L882.6 1189.3L882.2 1201.3L880.4 1209.3L873.8 1221.3L862.7 1231.7L852.7 1236.8L840.7 1240.7L830.7 1242.4L820.7 1242.3L812.7 1240.9L804.2 1237.3L798.7 1233.3L792.7 1225.9L785.3 1209.3L783.2 1189.3L784.7 1177.3L788.1 1169.3L794.7 1161.8L804.7 1155.9L814.7 1153.1M820.7 1159.3L834.7 1159.5L844.7 1162.1L872.7 1178.2L875.8 1181.3L876.7 1187.3L868.7 1206.2L862.7 1213.5L852.7 1220.4L836.7 1225.5L828.7 1225.7L820.7 1224.1L814.7 1221.2L808.7 1216.3L798.7 1201.8L794.0 1187.3L794.5 1179.3L796.7 1173.3L801.4 1167.3L806.7 1163.5L814.7 1160.2L820.7 1159.3M816.7 1162.9L828.7 1161.6L842.7 1164.3L850.7 1168.0L864.7 1178.7L870.8 1181.3L872.7 1185.7L862.7 1203.6L852.7 1210.9L846.7 1213.1L836.7 1214.5L822.7 1211.9L810.7 1204.5L804.1 1197.3L800.7 1191.3L799.0 1185.3L799.1 1179.3L801.4 1173.3L804.7 1169.3L810.3 1165.3L816.7 1162.9M816.7 1165.1L826.7 1163.7L838.7 1165.1L848.7 1169.1L854.8 1173.3L867.0 1185.3L864.0 1195.3L860.7 1201.3L850.7 1208.4L838.7 1210.7L824.7 1208.5L812.7 1202.1L803.7 1191.3L801.8 1181.3L802.7 1177.1L806.3 1171.3L816.7 1165.1M820.7 1167.2L828.7 1166.3L838.7 1167.9L846.9 1171.3L854.9 1177.3L862.4 1185.3L862.7 1187.3L860.3 1195.3L856.6 1201.3L846.7 1207.3L834.7 1208.1L822.7 1205.4L812.7 1199.0L806.2 1189.3L805.8 1179.3L811.5 1171.3L820.7 1167.2M824.7 1169.1L832.7 1169.1L840.7 1171.1L846.7 1174.0L852.9 1179.3L856.9 1185.3L857.6 1189.3L856.2 1195.3L852.7 1200.1L844.7 1204.4L832.7 1205.1L822.7 1202.1L813.6 1195.3L809.2 1187.3L809.5 1179.3L814.7 1172.8L824.7 1169.1M826.7 1171.1L838.7 1172.5L849.7 1179.3L853.6 1185.3L854.3 1189.3L853.6 1193.3L850.7 1197.7L842.7 1202.0L832.7 1202.5L822.7 1199.1L815.5 1193.3L811.8 1185.3L812.8 1179.3L818.7 1173.4L826.7 1171.1M826.7 1173.0L836.7 1173.8L846.7 1179.3L851.4 1187.3L851.3 1191.3L848.7 1195.9L842.7 1199.5L834.7 1200.4L826.7 1198.6L818.7 1193.3L815.0 1187.3L814.9 1181.3L818.7 1176.1L826.7 1173.0M824.7 1175.3L834.7 1175.0L844.0 1179.3L848.5 1185.3L849.1 1189.3L847.7 1193.3L842.7 1197.2L836.7 1198.5L828.7 1197.3L822.7 1194.2L818.3 1189.3L816.9 1183.3L818.7 1179.1L824.7 1175.3M824.7 1177.1L834.7 1176.5L842.7 1180.4L846.9 1187.3L844.9 1193.3L840.7 1195.9L834.7 1196.7L824.5 1193.3L820.5 1189.3L819.1 1185.3L819.8 1181.3L824.7 1177.1M824.7 1178.9L832.7 1177.6L840.7 1180.7L844.5 1185.3L844.0 1191.3L840.7 1194.0L836.7 1195.1L826.7 1192.9L822.6 1189.3L821.0 1185.3L822.0 1181.3L824.7 1178.9M828.7 1179.0L834.7 1179.2L840.7 1182.5L843.2 1187.3L841.6 1191.3L838.0 1193.3L832.7 1193.6L824.7 1189.4L823.1 1183.3L824.7 1180.9L828.7 1179.0M826.7 1181.2L830.7 1179.9L837.0 1181.3L841.1 1185.3L841.0 1189.3L836.7 1192.2L828.7 1190.9L824.5 1185.3L826.7 1181.2M830.7 1181.1L838.0 1183.3L840.0 1187.3L839.1 1189.3L834.7 1191.2L828.4 1189.3L826.0 1185.3L826.7 1183.2L830.7 1181.1M828.7 1183.1L834.7 1182.5L838.1 1185.3L838.5 1187.3L834.7 1190.1L830.7 1189.4L827.5 1185.3L828.7 1183.1M830.7 1183.3L834.7 1183.6L836.7 1185.3L837.0 1187.3L834.7 1189.0L830.7 1188.2L828.9 1185.3L830.7 1183.3M830.7 1184.7L834.7 1184.7L835.5 1187.3L831.2 1187.3L830.7 1184.7M832.7 1184.8L833.8 1185.3L832.7 1186.8L831.8 1185.3L832.7 1184.8M1003.0 1214.0C1002.9 1214.5 1002.8 1215.9 1002.6 1216.8C1002.3 1217.8 1001.8 1218.7 1001.3 1219.5C1000.7 1220.3 1000.0 1221.1 999.2 1221.8C998.4 1222.4 997.5 1223.1 996.5 1223.5C995.5 1224.0 994.4 1224.4 993.4 1224.6C992.3 1224.9 991.1 1225.0 990.0 1225.0C988.9 1225.0 987.7 1224.9 986.6 1224.6C985.6 1224.4 984.5 1224.0 983.5 1223.5C982.5 1223.1 981.6 1222.4 980.8 1221.8C980.0 1221.1 979.3 1220.3 978.7 1219.5C978.2 1218.7 977.7 1217.8 977.4 1216.8C977.2 1215.9 977.0 1214.9 977.0 1214.0C977.0 1213.1 977.2 1212.1 977.4 1211.2C977.7 1210.2 978.2 1209.3 978.7 1208.5C979.3 1207.7 980.0 1206.9 980.8 1206.2C981.6 1205.6 982.5 1204.9 983.5 1204.5C984.5 1204.0 985.6 1203.6 986.6 1203.4C987.7 1203.1 988.9 1203.0 990.0 1203.0C991.1 1203.0 992.3 1203.1 993.4 1203.4C994.4 1203.6 995.5 1204.0 996.5 1204.5C997.5 1204.9 998.4 1205.6 999.2 1206.2C1000.0 1206.9 1000.7 1207.7 1001.3 1208.5C1001.8 1209.3 1002.3 1210.2 1002.6 1211.2C1002.8 1212.1 1002.9 1213.5 1003.0 1214.0M718.0 981.0C725.0 989.2 747.2 1015.2 760.0 1030.0C772.8 1044.8 787.5 1060.5 795.0 1070.0C802.5 1079.5 804.2 1081.2 805.0 1087.0C805.8 1092.8 801.2 1099.2 800.0 1105.0C798.8 1110.8 795.7 1114.7 798.0 1122.0C800.3 1129.3 806.8 1144.0 814.0 1149.0C821.2 1154.0 833.7 1157.0 841.0 1152.0C848.3 1147.0 853.2 1125.2 858.0 1119.0C862.8 1112.8 862.0 1113.0 870.0 1115.0C878.0 1117.0 896.8 1122.8 906.0 1131.0C915.2 1139.2 923.0 1150.2 925.0 1164.0C927.0 1177.8 919.7 1196.8 918.0 1214.0C916.3 1231.2 917.0 1249.3 915.0 1267.0C913.0 1284.7 908.3 1304.2 906.0 1320.0C903.7 1335.8 901.8 1355.0 901.0 1362.0"/><path fill="none" stroke="#000" stroke-width="0.9" stroke-dasharray="3 2" d="M1030.7 1199.1L1020.7 1203.5L1016.6 1207.3L1012.7 1213.3L1009.6 1221.3L1008.7 1227.3L1009.4 1233.3L1011.3 1237.3L1018.7 1244.9L1026.7 1248.8L1032.7 1250.2L1044.7 1250.2L1056.7 1246.1L1065.0 1239.3L1069.5 1231.3L1070.3 1223.3L1067.9 1215.3L1061.6 1207.3L1052.7 1201.5L1040.7 1198.4L1030.7 1199.1M1028.7 1191.3L1018.5 1195.3L1010.5 1203.3L1002.1 1229.3L1002.5 1235.3L1004.2 1239.3L1013.7 1249.3L1028.7 1255.6L1044.7 1256.2L1060.7 1251.3L1070.7 1243.7L1076.2 1235.3L1078.3 1225.3L1075.4 1213.3L1068.0 1203.3L1056.7 1195.5L1042.7 1191.0L1028.7 1191.3M1020.7 1181.0L1010.7 1187.4L1003.7 1197.3L1001.4 1215.3L994.1 1233.3L995.1 1239.3L998.5 1245.3L1004.7 1251.8L1012.7 1257.2L1022.7 1261.2L1032.7 1263.1L1042.7 1263.3L1052.7 1261.8L1062.7 1258.4L1070.7 1253.9L1081.5 1243.3L1086.6 1231.3L1086.2 1217.3L1080.5 1205.3L1068.7 1193.4L1052.7 1184.6L1034.7 1179.9L1020.7 1181.0M1004.7 1157.2L1000.7 1158.7L998.0 1161.3L990.8 1177.3L989.7 1193.3L995.6 1205.3L996.7 1213.3L994.4 1219.3L985.2 1229.3L983.1 1235.3L985.1 1243.3L990.3 1251.3L1000.7 1260.9L1010.7 1266.5L1022.7 1270.4L1034.7 1272.1L1046.7 1271.7L1060.7 1268.9L1072.7 1264.0L1082.7 1257.6L1093.9 1245.3L1097.7 1237.3L1099.4 1229.3L1099.3 1221.3L1097.6 1213.3L1094.1 1205.3L1088.8 1197.3L1080.7 1188.6L1070.7 1180.8L1044.7 1166.3L1018.7 1158.4L1004.7 1157.2M928.7 1087.2L924.7 1090.5L922.9 1095.3L923.5 1103.3L926.3 1111.3L935.8 1127.3L960.7 1159.3L965.1 1167.3L967.6 1175.3L967.7 1187.3L960.4 1225.3L960.7 1234.9L962.7 1243.3L966.7 1252.2L972.8 1261.3L980.7 1269.3L988.8 1275.3L1000.2 1281.3L1011.1 1285.3L1020.7 1287.5L1038.7 1289.1L1064.7 1285.7L1076.7 1281.6L1088.7 1275.7L1098.7 1268.7L1106.4 1261.3L1112.4 1253.3L1117.1 1243.3L1119.3 1233.3L1119.4 1223.3L1117.6 1213.3L1113.8 1203.3L1102.8 1187.3L1088.7 1174.5L1076.7 1166.4L1032.8 1141.3L980.7 1103.3L964.7 1094.2L950.7 1088.4L938.7 1085.8L928.7 1087.2M980.7 1207.3L984.7 1207.4L988.7 1210.2L989.3 1213.3L986.7 1217.3L980.7 1218.6L974.9 1215.3L974.2 1211.3L975.8 1209.3L980.7 1207.3"/><ellipse cx="829.0" cy="1180.0" rx="9.0" ry="7.0" fill="#000"/><ellipse cx="850.0" cy="1195.0" rx="8.0" ry="6.0" fill="#000"/></g><text x="229.0" y="24.5" font-size="30.0" font-weight="bold">C<tspan font-style="italic">c</tspan> - C<tspan font-style="italic">c</tspan><tspan font-size="20.4" dy="6.6">1</tspan></text><text x="800.0" y="23.5" font-size="30.5" font-weight="bold">Y48<tspan font-style="italic">p</tspan>CMF C<tspan font-style="italic">c</tspan> - C<tspan font-style="italic">c</tspan><tspan font-size="20.7" dy="6.7">1</tspan></text><text x="229.0" y="503.3" font-size="30.0" font-weight="bold">C<tspan font-style="italic">c</tspan> - C<tspan font-style="italic">c</tspan><tspan font-size="20.4" dy="6.6">1</tspan></text><text x="808.0" y="507.2" font-size="30.5" font-weight="bold">Y48<tspan font-style="italic">p</tspan>CMF C<tspan font-style="italic">c</tspan> - C<tspan font-style="italic">c</tspan><tspan font-size="20.7" dy="6.7">1</tspan></text><text x="155.5" y="972.2" font-size="30.5" font-weight="bold">pY48 C<tspan font-style="italic">c</tspan> (q<tspan font-size="20.7" dy="-12.8">-1</tspan><tspan dy="12.8">)</tspan> - C<tspan font-style="italic">c</tspan><tspan font-size="20.7" dy="6.7">1</tspan></text><text x="801.5" y="970.2" font-size="30.5" font-weight="bold">pY48 C<tspan font-style="italic">c</tspan> (q<tspan font-size="20.7" dy="-12.8">-2</tspan><tspan dy="12.8">)</tspan> - C<tspan font-style="italic">c</tspan><tspan font-size="20.7" dy="6.7">1</tspan></text><rect x="1270.5" y="53.5" width="37" height="376" fill="url(#gNa)" stroke="#555" stroke-width="0.8"/><line x1="1307.5" y1="429.6" x2="1311" y2="429.6" stroke="#333" stroke-width="1"/><text x="1312.5" y="434.8" font-size="14.5">0.0</text><line x1="1307.5" y1="375.8" x2="1311" y2="375.8" stroke="#333" stroke-width="1"/><text x="1312.5" y="381.0" font-size="14.5">0.1</text><line x1="1307.5" y1="322.0" x2="1311" y2="322.0" stroke="#333" stroke-width="1"/><text x="1312.5" y="327.2" font-size="14.5">0.2</text><line x1="1307.5" y1="268.2" x2="1311" y2="268.2" stroke="#333" stroke-width="1"/><text x="1312.5" y="273.4" font-size="14.5">0.3</text><line x1="1307.5" y1="214.4" x2="1311" y2="214.4" stroke="#333" stroke-width="1"/><text x="1312.5" y="219.6" font-size="14.5">0.4</text><line x1="1307.5" y1="160.6" x2="1311" y2="160.6" stroke="#333" stroke-width="1"/><text x="1312.5" y="165.8" font-size="14.5">0.5</text><line x1="1307.5" y1="106.8" x2="1311" y2="106.8" stroke="#333" stroke-width="1"/><text x="1312.5" y="112.0" font-size="14.5">0.6</text><line x1="1307.5" y1="53.0" x2="1311" y2="53.0" stroke="#333" stroke-width="1"/><text x="1312.5" y="58.2" font-size="14.5">0.7</text><text x="1262" y="37.5" font-size="22"><tspan font-weight="bold">[Na<tspan font-size="14" dy="-8">+</tspan><tspan dy="8">]</tspan></tspan> (M)</text><rect x="1263.8" y="527.4" width="38" height="376.0" fill="url(#gU)" stroke="#555" stroke-width="0.8"/><line x1="1301.8" y1="527.4" x2="1305.3" y2="527.4" stroke="#333" stroke-width="1"/><text x="1305.8" y="532.6" font-size="14.5">1.0</text><line x1="1301.8" y1="621.4" x2="1305.3" y2="621.4" stroke="#333" stroke-width="1"/><text x="1305.8" y="626.6" font-size="14.5">0.5</text><line x1="1301.8" y1="715.4" x2="1305.3" y2="715.4" stroke="#333" stroke-width="1"/><text x="1305.8" y="720.6" font-size="14.5">0.0</text><line x1="1301.8" y1="809.4" x2="1305.3" y2="809.4" stroke="#333" stroke-width="1"/><text x="1305.8" y="814.6" font-size="14.5">−0.5</text><line x1="1301.8" y1="903.4" x2="1305.3" y2="903.4" stroke="#333" stroke-width="1"/><text x="1305.8" y="908.6" font-size="14.5">−1.0</text><rect x="1263.3" y="981.5" width="38" height="380.0" fill="url(#gU)" stroke="#555" stroke-width="0.8"/><line x1="1301.3" y1="981.5" x2="1304.8" y2="981.5" stroke="#333" stroke-width="1"/><text x="1305.3" y="986.7" font-size="14.5">1.0</text><line x1="1301.3" y1="1076.5" x2="1304.8" y2="1076.5" stroke="#333" stroke-width="1"/><text x="1305.3" y="1081.7" font-size="14.5">0.5</text><line x1="1301.3" y1="1171.5" x2="1304.8" y2="1171.5" stroke="#333" stroke-width="1"/><text x="1305.3" y="1176.7" font-size="14.5">0.0</text><line x1="1301.3" y1="1266.5" x2="1304.8" y2="1266.5" stroke="#333" stroke-width="1"/><text x="1305.3" y="1271.7" font-size="14.5">−0.5</text><line x1="1301.3" y1="1361.5" x2="1304.8" y2="1361.5" stroke="#333" stroke-width="1"/><text x="1305.3" y="1366.7" font-size="14.5">−1.0</text><text x="1243.5" y="516" font-size="32"><tspan font-weight="bold">U</tspan>(<tspan font-style="italic">k</tspan>T/<tspan font-style="italic">e</tspan>)</text><defs><radialGradient id="sg1" cx="0.38" cy="0.35" r="0.7"><stop offset="0" stop-color="#7be07b"/><stop offset="0.45" stop-color="#1fa81f"/><stop offset="1" stop-color="#0b5d0b"/></radialGradient><radialGradient id="sg2" cx="0.38" cy="0.35" r="0.7"><stop offset="0" stop-color="#b4ecb4"/><stop offset="0.5" stop-color="#6cc86c"/><stop offset="1" stop-color="#3f9a3f"/></radialGradient><radialGradient id="sg3" cx="0.38" cy="0.35" r="0.7"><stop offset="0" stop-color="#d8f4d8"/><stop offset="0.5" stop-color="#9cdc9c"/><stop offset="1" stop-color="#72b872"/></radialGradient><radialGradient id="rb" cx="0.4" cy="0.35" r="0.7"><stop offset="0" stop-color="#ff9a9a"/><stop offset="0.5" stop-color="#e03030"/><stop offset="1" stop-color="#901010"/></radialGradient><filter id="pb" x="-0.2" y="-0.2" width="1.4" height="1.4"><feGaussianBlur stdDeviation="4"/></filter><filter id="pb2" x="-0.2" y="-0.2" width="1.4" height="1.4"><feGaussianBlur stdDeviation="1.5"/></filter><filter id="pb3" x="-0.1" y="-0.1" width="1.2" height="1.2"><feGaussianBlur stdDeviation="0.8"/></filter></defs><rect x="4" y="1445" width="425" height="477" fill="#f7f7f7"/><path fill="#dcdcdc" fill-opacity="0.8" filter="url(#pb2)" d="M17.5 1712.5C17.8 1702.9 19.7 1698.0 22.9 1691.5C26.1 1684.9 31.2 1679.5 36.5 1673.4C41.7 1667.3 46.4 1658.4 54.5 1654.8C62.6 1651.2 75.3 1650.7 84.9 1652.0C94.5 1653.3 105.2 1659.1 112.2 1662.7C119.2 1666.3 122.5 1668.6 127.1 1673.4C131.6 1678.2 136.9 1683.9 139.5 1691.5C142.1 1699.0 142.8 1710.2 142.6 1718.8C142.3 1727.4 135.5 1736.8 138.0 1743.1C140.6 1749.4 153.8 1749.3 157.8 1756.6C161.7 1763.9 164.0 1780.3 161.5 1786.9C158.9 1793.5 149.5 1793.9 142.6 1796.2C135.6 1798.5 127.4 1798.1 119.8 1800.6C112.2 1803.1 104.7 1809.2 97.1 1811.2C89.5 1813.3 81.9 1813.5 74.3 1812.7C66.7 1812.0 57.9 1809.7 51.6 1806.7C45.3 1803.7 40.8 1800.4 36.5 1794.6C32.2 1788.8 28.4 1779.4 25.9 1771.8C23.3 1764.2 22.7 1759.0 21.3 1749.1C19.9 1739.2 17.2 1722.1 17.5 1712.5Z"/><path fill="#c8c8c8" fill-opacity="0.45" filter="url(#pb)" d="M33.4 1716.9C33.6 1709.4 35.2 1705.6 37.6 1700.6C40.0 1695.6 44.0 1691.4 48.1 1686.6C52.2 1681.9 55.8 1675.0 62.1 1672.2C68.3 1669.5 78.2 1669.1 85.6 1670.1C93.1 1671.1 101.3 1675.6 106.7 1678.4C112.2 1681.1 114.7 1682.9 118.2 1686.6C121.8 1690.3 125.9 1694.8 127.9 1700.6C129.9 1706.5 130.5 1715.1 130.3 1721.8C130.1 1728.4 124.8 1735.7 126.7 1740.6C128.7 1745.5 139.0 1745.4 142.0 1751.1C145.0 1756.7 146.8 1769.4 144.9 1774.5C142.9 1779.6 135.6 1779.9 130.3 1781.7C124.9 1783.5 118.5 1783.2 112.6 1785.1C106.8 1787.1 100.9 1791.8 95.1 1793.3C89.2 1794.9 83.3 1795.1 77.4 1794.5C71.5 1793.9 64.7 1792.2 59.8 1789.8C55.0 1787.5 51.4 1785.0 48.1 1780.5C44.8 1776.0 41.9 1768.7 39.9 1762.8C37.9 1756.9 37.5 1752.9 36.4 1745.2C35.3 1737.6 33.2 1724.3 33.4 1716.9Z"/><g fill="#d0d0d0" fill-opacity="0.35" stroke="#a0a0a0" stroke-opacity="0.3" stroke-width="1.2" filter="url(#pb3)"><circle cx="18" cy="1716" r="13"/><circle cx="25" cy="1701" r="9"/><circle cx="27" cy="1690" r="8"/><circle cx="32" cy="1682" r="10"/><circle cx="39" cy="1675" r="8"/><circle cx="45" cy="1666" r="8"/><circle cx="54" cy="1660" r="10"/><circle cx="69" cy="1655" r="13"/><circle cx="85" cy="1653" r="10"/><circle cx="101" cy="1658" r="9"/><circle cx="113" cy="1664" r="11"/><circle cx="120" cy="1668" r="9"/><circle cx="126" cy="1673" r="9"/><circle cx="129" cy="1683" r="13"/><circle cx="140" cy="1694" r="11"/><circle cx="142" cy="1705" r="8"/><circle cx="139" cy="1719" r="10"/><circle cx="137" cy="1728" r="11"/><circle cx="138" cy="1742" r="9"/><circle cx="144" cy="1751" r="10"/><circle cx="155" cy="1757" r="13"/><circle cx="159" cy="1770" r="11"/><circle cx="159" cy="1785" r="13"/><circle cx="152" cy="1787" r="10"/><circle cx="140" cy="1795" r="12"/><circle cx="130" cy="1795" r="8"/><circle cx="116" cy="1800" r="9"/><circle cx="107" cy="1806" r="11"/><circle cx="97" cy="1806" r="11"/><circle cx="86" cy="1808" r="12"/><circle cx="73" cy="1808" r="10"/><circle cx="65" cy="1806" r="11"/><circle cx="55" cy="1805" r="13"/><circle cx="47" cy="1798" r="14"/><circle cx="41" cy="1793" r="11"/><circle cx="33" cy="1781" r="8"/><circle cx="27" cy="1768" r="10"/><circle cx="24" cy="1761" r="13"/><circle cx="26" cy="1751" r="11"/><circle cx="21" cy="1734" r="10"/></g><path fill="#dcdcdc" fill-opacity="0.8" filter="url(#pb2)" d="M292.0 1520.5C296.3 1520.8 297.7 1521.6 301.3 1525.2C304.8 1528.7 309.8 1535.4 313.4 1541.9C316.9 1548.4 318.1 1558.7 322.7 1564.2C327.2 1569.7 337.2 1569.9 340.7 1574.9C344.2 1580.0 339.2 1590.0 343.8 1594.5C348.3 1599.1 362.9 1598.4 368.0 1602.2C373.0 1605.9 373.6 1610.9 374.1 1617.2C374.6 1623.5 370.3 1632.9 371.0 1640.0C371.8 1647.1 377.5 1650.9 378.5 1659.7C379.5 1668.6 376.5 1683.0 377.1 1693.1C377.6 1703.2 381.6 1712.9 381.6 1720.5C381.6 1728.0 377.6 1732.5 377.1 1738.6C376.5 1744.6 377.7 1750.2 378.5 1756.7C379.2 1763.3 382.4 1770.9 381.6 1777.9C380.9 1785.0 379.2 1796.1 374.1 1799.1C369.0 1802.2 358.9 1797.2 351.3 1796.2C343.7 1795.1 336.2 1794.3 328.6 1793.0C321.1 1791.7 313.0 1787.3 305.9 1788.3C298.8 1789.4 292.5 1797.8 286.1 1799.1C279.8 1800.4 272.6 1799.2 267.8 1796.2C263.0 1793.1 260.4 1788.5 257.4 1780.9C254.4 1773.3 253.0 1759.2 249.8 1750.7C246.5 1742.1 242.2 1736.5 237.7 1729.5C233.1 1722.4 224.8 1716.9 222.5 1708.3C220.2 1699.6 222.3 1686.5 224.1 1677.7C225.9 1668.8 229.9 1662.2 233.1 1655.2C236.4 1648.1 240.8 1641.8 243.6 1635.4C246.4 1629.1 251.0 1622.3 249.8 1617.2C248.5 1612.2 239.0 1609.7 236.2 1605.1C233.4 1600.6 230.8 1596.0 233.1 1590.0C235.4 1583.9 246.5 1575.4 249.8 1568.9C253.1 1562.3 250.9 1556.5 252.9 1550.6C255.0 1544.8 258.2 1538.4 261.9 1533.9C265.7 1529.3 270.5 1525.5 275.5 1523.3C280.5 1521.1 287.7 1520.2 292.0 1520.5Z"/><path fill="#c8c8c8" fill-opacity="0.45" filter="url(#pb)" d="M294.9 1552.0C298.2 1552.2 299.4 1552.8 302.1 1555.6C304.9 1558.4 308.7 1563.5 311.5 1568.6C314.2 1573.6 315.2 1581.6 318.7 1585.8C322.2 1590.1 329.9 1590.2 332.6 1594.1C335.4 1598.0 331.5 1605.8 335.0 1609.3C338.5 1612.8 349.8 1612.3 353.7 1615.2C357.7 1618.1 358.1 1622.0 358.5 1626.9C358.9 1631.8 355.6 1639.0 356.1 1644.5C356.7 1650.0 361.1 1652.9 361.9 1659.8C362.7 1666.6 360.4 1677.8 360.8 1685.6C361.2 1693.5 364.3 1700.9 364.3 1706.8C364.3 1712.7 361.2 1716.2 360.8 1720.8C360.4 1725.5 361.3 1729.8 361.9 1734.9C362.5 1740.0 364.9 1745.8 364.3 1751.3C363.8 1756.8 362.4 1765.4 358.5 1767.7C354.6 1770.1 346.7 1766.2 340.9 1765.4C335.0 1764.6 329.1 1764.0 323.3 1763.0C317.4 1762.0 311.2 1758.6 305.7 1759.4C300.2 1760.2 295.3 1766.7 290.4 1767.7C285.5 1768.7 279.9 1767.8 276.2 1765.4C272.5 1763.1 270.5 1759.5 268.1 1753.6C265.8 1747.7 264.8 1736.8 262.2 1730.2C259.7 1723.6 256.4 1719.3 252.9 1713.8C249.4 1708.3 242.9 1704.1 241.1 1697.4C239.4 1690.7 241.0 1680.5 242.4 1673.7C243.7 1666.8 246.8 1661.7 249.3 1656.3C251.9 1650.8 255.3 1645.9 257.5 1641.0C259.6 1636.1 263.2 1630.8 262.2 1626.9C261.3 1623.0 253.9 1621.0 251.7 1617.5C249.6 1614.0 247.6 1610.5 249.3 1605.8C251.1 1601.1 259.7 1594.5 262.2 1589.4C264.8 1584.4 263.1 1579.8 264.7 1575.3C266.3 1570.8 268.7 1565.9 271.7 1562.4C274.6 1558.8 278.3 1555.9 282.2 1554.2C286.1 1552.4 291.6 1551.8 294.9 1552.0Z"/><g fill="#d0d0d0" fill-opacity="0.35" stroke="#a0a0a0" stroke-opacity="0.3" stroke-width="1.2" filter="url(#pb3)"><circle cx="295" cy="1525" r="9"/><circle cx="297" cy="1528" r="12"/><circle cx="299" cy="1531" r="10"/><circle cx="309" cy="1539" r="12"/><circle cx="313" cy="1548" r="13"/><circle cx="316" cy="1557" r="11"/><circle cx="323" cy="1570" r="8"/><circle cx="329" cy="1570" r="10"/><circle cx="341" cy="1580" r="10"/><circle cx="341" cy="1585" r="13"/><circle cx="344" cy="1595" r="10"/><circle cx="355" cy="1598" r="13"/><circle cx="367" cy="1601" r="13"/><circle cx="368" cy="1608" r="11"/><circle cx="371" cy="1619" r="14"/><circle cx="373" cy="1631" r="11"/><circle cx="370" cy="1638" r="12"/><circle cx="372" cy="1653" r="14"/><circle cx="379" cy="1660" r="14"/><circle cx="376" cy="1675" r="11"/><circle cx="374" cy="1693" r="12"/><circle cx="379" cy="1704" r="12"/><circle cx="379" cy="1717" r="8"/><circle cx="378" cy="1730" r="14"/><circle cx="377" cy="1739" r="12"/><circle cx="375" cy="1748" r="8"/><circle cx="377" cy="1753" r="13"/><circle cx="378" cy="1763" r="9"/><circle cx="379" cy="1777" r="13"/><circle cx="374" cy="1782" r="9"/><circle cx="373" cy="1793" r="9"/><circle cx="361" cy="1792" r="10"/><circle cx="351" cy="1792" r="10"/><circle cx="338" cy="1790" r="12"/><circle cx="326" cy="1790" r="13"/><circle cx="315" cy="1788" r="12"/><circle cx="308" cy="1785" r="9"/><circle cx="296" cy="1789" r="12"/><circle cx="284" cy="1792" r="11"/><circle cx="275" cy="1793" r="8"/><circle cx="271" cy="1790" r="14"/><circle cx="267" cy="1784" r="11"/><circle cx="260" cy="1778" r="12"/><circle cx="255" cy="1764" r="9"/><circle cx="253" cy="1746" r="8"/><circle cx="243" cy="1736" r="9"/><circle cx="242" cy="1728" r="11"/><circle cx="234" cy="1720" r="9"/><circle cx="225" cy="1709" r="9"/><circle cx="226" cy="1693" r="9"/><circle cx="226" cy="1678" r="14"/><circle cx="229" cy="1665" r="12"/><circle cx="236" cy="1657" r="12"/><circle cx="240" cy="1645" r="9"/><circle cx="246" cy="1638" r="14"/><circle cx="249" cy="1629" r="12"/><circle cx="249" cy="1620" r="12"/><circle cx="244" cy="1612" r="12"/><circle cx="238" cy="1606" r="11"/><circle cx="235" cy="1598" r="9"/><circle cx="234" cy="1593" r="10"/><circle cx="243" cy="1581" r="10"/><circle cx="251" cy="1573" r="8"/><circle cx="252" cy="1566" r="11"/><circle cx="252" cy="1557" r="13"/><circle cx="257" cy="1544" r="11"/><circle cx="264" cy="1535" r="14"/><circle cx="268" cy="1532" r="8"/><circle cx="276" cy="1527" r="12"/><circle cx="284" cy="1528" r="12"/></g><g fill="#9a9a9a" fill-opacity="0.22" filter="url(#pb)"><ellipse cx="70" cy="1760" rx="30" ry="35"/><ellipse cx="110" cy="1700" rx="25" ry="22"/><ellipse cx="290" cy="1565" rx="30" ry="35"/><ellipse cx="300" cy="1690" rx="45" ry="50"/><ellipse cx="320" cy="1760" rx="40" ry="25"/></g><path fill="none" stroke="#4a949c" stroke-width="2.6" stroke-linecap="round" d="M97 1768Q93 1777 98 1781Q105 1782 111 1786Q117 1790 127 1791M154 1778Q161 1775 163 1782Q156 1786 153 1795Q139 1796 127 1792M143 1711Q138 1715 133 1724Q123 1729 120 1739Q111 1749 102 1749Q96 1759 104 1769Q105 1779 110 1788Q118 1798 129 1804M34 1698Q30 1687 31 1676Q37 1673 38 1666Q48 1666 57 1656Q67 1652 75 1654Q78 1666 75 1675Q64 1680 51 1679M98 1680Q110 1686 113 1692Q118 1701 127 1703Q139 1698 145 1704M52 1694Q52 1702 48 1715Q46 1721 52 1725Q50 1735 43 1738Q38 1749 29 1749Q24 1761 26 1773M142 1772Q138 1781 132 1787Q122 1785 113 1778Q105 1766 93 1765Q87 1768 80 1777M49 1767Q60 1760 68 1762Q77 1760 84 1759Q91 1766 92 1774Q82 1779 73 1790Q61 1795 61 1801M127 1699Q117 1698 109 1701Q98 1694 85 1693Q77 1696 73 1704Q80 1716 87 1725Q83 1732 79 1740M104 1668Q110 1668 114 1660Q113 1671 115 1678Q118 1686 119 1693M254 1771Q256 1762 259 1749Q268 1743 276 1745Q280 1750 287 1751M367 1667Q360 1672 358 1680Q362 1686 355 1698Q356 1704 366 1710M304 1702Q315 1707 326 1704Q336 1702 339 1695Q338 1685 333 1680Q335 1672 336 1666Q333 1658 339 1652Q343 1644 339 1633M375 1715Q363 1719 363 1727Q365 1734 361 1742Q354 1749 342 1756Q337 1752 336 1743M304 1798Q295 1799 284 1793Q270 1789 261 1786Q256 1792 264 1781Q272 1775 274 1764Q284 1756 287 1744Q279 1735 284 1724M318 1610Q314 1617 312 1629Q320 1635 321 1643Q328 1645 337 1636M356 1753Q355 1745 356 1737Q360 1732 360 1725Q372 1720 385 1721M342 1625Q352 1628 363 1630Q376 1632 372 1639Q363 1647 349 1648Q343 1654 338 1662Q336 1671 333 1679M240 1605Q240 1596 248 1590Q254 1592 264 1586Q270 1579 268 1572M297 1763Q303 1768 313 1772Q318 1781 331 1784Q338 1791 342 1800M375 1783Q373 1769 374 1762Q365 1756 357 1758Q351 1754 341 1753Q332 1748 322 1738M373 1789Q379 1792 375 1799Q364 1800 352 1797Q346 1791 337 1796Q324 1796 312 1790Q304 1791 294 1795Q287 1787 291 1776M297 1602Q300 1607 305 1612Q312 1611 322 1607Q328 1602 326 1594Q326 1581 321 1571Q317 1562 308 1562Q305 1573 300 1578M257 1681Q262 1688 268 1690Q277 1701 289 1697Q295 1696 298 1686M234 1599Q236 1592 242 1582Q248 1583 260 1588Q267 1592 274 1594Q275 1604 267 1610Q256 1606 257 1596M243 1721Q247 1710 244 1698Q235 1689 226 1686Q223 1677 224 1668Q233 1664 240 1659Q242 1651 239 1643Q244 1631 254 1630M370 1686Q372 1678 379 1676Q376 1683 369 1687Q369 1696 374 1700M285 1765Q272 1770 262 1774Q256 1770 249 1769Q247 1761 247 1751Q246 1740 251 1734M361 1788Q368 1791 374 1797Q377 1804 368 1800Q364 1794 359 1781Q352 1781 339 1782Q328 1786 323 1792Q314 1799 309 1796M296 1776Q294 1782 294 1788Q299 1794 291 1795Q281 1796 277 1803Q270 1806 264 1806M306 1743Q300 1743 292 1748Q282 1749 274 1753Q264 1758 254 1767M240 1733Q230 1729 228 1716Q227 1703 228 1697Q226 1685 232 1675Q224 1667 228 1660Q234 1656 248 1659Q258 1652 264 1640"/><path fill="none" stroke="#4e9ea6" stroke-width="6.5" stroke-linejoin="round" d="M53.0 1789.7L57.7 1790.6L60.9 1791.4L62.0 1791.7L61.0 1790.9L58.1 1788.9L54.5 1785.9L51.2 1782.3L49.3 1778.8L49.6 1775.8L52.0 1773.9L56.2 1773.2L61.2 1773.6L65.7 1774.4L68.7 1775.3L69.5 1775.4L68.2 1774.5L65.2 1772.4L61.5 1769.3L58.3 1765.6L56.7 1762.1L57.3 1759.3L60.0 1757.5L64.3 1757.0L69.3 1757.4L73.6 1758.3L76.4 1759.1L77.0 1759.1L75.4 1758.0L72.2 1755.8L68.6 1752.6L65.5 1748.9L64.2 1745.4L65.0 1742.7L68.0 1741.1L72.4 1740.7L77.4 1741.3L81.6 1742.2L84.1 1742.9M82.3 1784.9L84.7 1787.6L86.3 1789.7L86.9 1790.5L86.6 1789.6L85.9 1787.0L85.4 1783.4L85.5 1779.5L86.5 1776.2L88.5 1774.2L91.3 1773.9L94.5 1775.2L97.6 1777.6L100.1 1780.3L101.6 1782.4L102.2 1783.1L101.9 1782.2L101.3 1779.7L100.7 1776.1L100.8 1772.2L101.8 1768.8L103.8 1766.9L106.6 1766.5L109.8 1767.9L112.9 1770.3L115.4 1772.9L117.0 1775.0L117.5 1775.8L117.3 1774.9L116.6 1772.4L116.1 1768.7L116.1 1764.8L117.1 1761.5L119.1 1759.5L122.0 1759.2L125.2 1760.5L128.3 1762.9M59.3 1677.1L61.5 1680.1L62.8 1682.3L63.2 1683.2L63.0 1682.3L62.5 1679.7L62.3 1676.1L62.6 1672.2L63.9 1669.0L66.0 1667.2L68.7 1667.2L71.8 1668.8L74.5 1671.5L76.7 1674.5L78.0 1676.7L78.4 1677.6L78.2 1676.7L77.7 1674.1L77.5 1670.5L77.8 1666.6L79.1 1663.4L81.2 1661.6L83.9 1661.6L87.0 1663.2L89.7 1665.9L91.9 1668.9L93.2 1671.1L93.6 1672.0L93.4 1671.1L92.9 1668.5L92.7 1664.9M36.7 1702.4L34.2 1704.6L32.4 1706.0L31.8 1706.7L32.7 1707.0L35.0 1707.1L38.3 1707.6L41.8 1708.7L44.6 1710.6L46.2 1713.3L46.3 1716.4L45.0 1719.5L42.7 1722.4L40.2 1724.6L38.4 1726.0L37.8 1726.7L38.7 1727.0L41.0 1727.1L44.3 1727.6L47.8 1728.7L50.6 1730.6L52.2 1733.3L52.3 1736.4L51.0 1739.5L48.7 1742.4M260.4 1649.3L262.8 1653.4L264.3 1656.4L265.0 1657.4L265.0 1656.2L264.8 1652.8L264.8 1648.2L265.5 1643.3L267.1 1639.5L269.5 1637.6L272.6 1638.0L275.9 1640.5L278.9 1644.3L281.3 1648.4L282.8 1651.4L283.5 1652.4L283.5 1651.2L283.3 1647.8L283.3 1643.2L284.0 1638.3L285.6 1634.5L288.0 1632.6L291.1 1633.0L294.4 1635.5L297.4 1639.3M312.2 1653.9L315.2 1657.4L317.1 1660.2L317.8 1661.2L317.4 1660.0L316.3 1656.9L315.3 1652.4L314.8 1647.6L315.4 1643.6L317.2 1641.3L320.1 1641.2L323.7 1643.1L327.2 1646.4L330.2 1649.9L332.1 1652.7L332.8 1653.7L332.4 1652.5L331.3 1649.4L330.3 1644.9L329.8 1640.1L330.4 1636.1L332.2 1633.8L335.1 1633.7L338.7 1635.6L342.2 1638.9M302.2 1721.1L301.5 1725.2L300.7 1728.1L300.4 1729.2L301.1 1728.3L302.9 1725.9L305.8 1722.9L309.2 1720.1L312.6 1718.6L315.6 1718.8L317.5 1721.0L318.4 1724.7L318.2 1729.1L317.5 1733.2L316.7 1736.1L316.4 1737.2L317.1 1736.3L318.9 1733.9L321.8 1730.9L325.2 1728.1L328.6 1726.6L331.6 1726.8L333.5 1729.0L334.4 1732.7L334.2 1737.1L333.5 1741.2L332.7 1744.1L332.4 1745.2L333.1 1744.3L334.9 1741.9L337.8 1738.9M272.5 1575.4L273.2 1579.1L273.6 1581.7L273.8 1582.7L274.4 1581.9L275.6 1579.5L277.5 1576.3L280.1 1573.1L283.1 1571.0L286.2 1570.6L288.9 1572.0L291.0 1575.0L292.5 1578.7L293.2 1582.4L293.6 1585.1L293.8 1586.1L294.4 1585.2L295.6 1582.8L297.5 1579.6M332.0 1681.6L331.2 1684.8L330.5 1687.1L330.4 1688.0L331.3 1687.7L333.4 1686.5L336.4 1685.1L339.9 1684.1L343.4 1684.1L346.2 1685.3L348.1 1687.8L348.8 1691.2L348.6 1694.9L347.9 1698.1L347.2 1700.4L347.1 1701.4L348.0 1701.1L350.0 1699.9L353.0 1698.4M257.1 1701.4L256.1 1704.9L255.2 1707.4L254.9 1708.3L255.6 1707.7L257.5 1705.9L260.4 1703.6L263.9 1701.7L267.3 1700.9L270.1 1701.7L271.9 1704.0L272.5 1707.5L272.1 1711.4L271.1 1714.9L270.2 1717.4L269.9 1718.3L270.6 1717.7L272.5 1715.9L275.4 1713.6L278.9 1711.7L282.3 1710.9L285.1 1711.7L286.9 1714.0L287.5 1717.5L287.1 1721.4"/><path fill="none" stroke="#8fd8e0" stroke-width="1.5" d="M53.0 1789.7L57.7 1790.6L60.9 1791.4L62.0 1791.7L61.0 1790.9L58.1 1788.9L54.5 1785.9L51.2 1782.3L49.3 1778.8L49.6 1775.8L52.0 1773.9L56.2 1773.2L61.2 1773.6L65.7 1774.4L68.7 1775.3L69.5 1775.4L68.2 1774.5L65.2 1772.4L61.5 1769.3L58.3 1765.6L56.7 1762.1L57.3 1759.3L60.0 1757.5L64.3 1757.0L69.3 1757.4L73.6 1758.3L76.4 1759.1L77.0 1759.1L75.4 1758.0L72.2 1755.8L68.6 1752.6L65.5 1748.9L64.2 1745.4L65.0 1742.7L68.0 1741.1L72.4 1740.7L77.4 1741.3L81.6 1742.2L84.1 1742.9M82.3 1784.9L84.7 1787.6L86.3 1789.7L86.9 1790.5L86.6 1789.6L85.9 1787.0L85.4 1783.4L85.5 1779.5L86.5 1776.2L88.5 1774.2L91.3 1773.9L94.5 1775.2L97.6 1777.6L100.1 1780.3L101.6 1782.4L102.2 1783.1L101.9 1782.2L101.3 1779.7L100.7 1776.1L100.8 1772.2L101.8 1768.8L103.8 1766.9L106.6 1766.5L109.8 1767.9L112.9 1770.3L115.4 1772.9L117.0 1775.0L117.5 1775.8L117.3 1774.9L116.6 1772.4L116.1 1768.7L116.1 1764.8L117.1 1761.5L119.1 1759.5L122.0 1759.2L125.2 1760.5L128.3 1762.9M59.3 1677.1L61.5 1680.1L62.8 1682.3L63.2 1683.2L63.0 1682.3L62.5 1679.7L62.3 1676.1L62.6 1672.2L63.9 1669.0L66.0 1667.2L68.7 1667.2L71.8 1668.8L74.5 1671.5L76.7 1674.5L78.0 1676.7L78.4 1677.6L78.2 1676.7L77.7 1674.1L77.5 1670.5L77.8 1666.6L79.1 1663.4L81.2 1661.6L83.9 1661.6L87.0 1663.2L89.7 1665.9L91.9 1668.9L93.2 1671.1L93.6 1672.0L93.4 1671.1L92.9 1668.5L92.7 1664.9M36.7 1702.4L34.2 1704.6L32.4 1706.0L31.8 1706.7L32.7 1707.0L35.0 1707.1L38.3 1707.6L41.8 1708.7L44.6 1710.6L46.2 1713.3L46.3 1716.4L45.0 1719.5L42.7 1722.4L40.2 1724.6L38.4 1726.0L37.8 1726.7L38.7 1727.0L41.0 1727.1L44.3 1727.6L47.8 1728.7L50.6 1730.6L52.2 1733.3L52.3 1736.4L51.0 1739.5L48.7 1742.4M260.4 1649.3L262.8 1653.4L264.3 1656.4L265.0 1657.4L265.0 1656.2L264.8 1652.8L264.8 1648.2L265.5 1643.3L267.1 1639.5L269.5 1637.6L272.6 1638.0L275.9 1640.5L278.9 1644.3L281.3 1648.4L282.8 1651.4L283.5 1652.4L283.5 1651.2L283.3 1647.8L283.3 1643.2L284.0 1638.3L285.6 1634.5L288.0 1632.6L291.1 1633.0L294.4 1635.5L297.4 1639.3M312.2 1653.9L315.2 1657.4L317.1 1660.2L317.8 1661.2L317.4 1660.0L316.3 1656.9L315.3 1652.4L314.8 1647.6L315.4 1643.6L317.2 1641.3L320.1 1641.2L323.7 1643.1L327.2 1646.4L330.2 1649.9L332.1 1652.7L332.8 1653.7L332.4 1652.5L331.3 1649.4L330.3 1644.9L329.8 1640.1L330.4 1636.1L332.2 1633.8L335.1 1633.7L338.7 1635.6L342.2 1638.9M302.2 1721.1L301.5 1725.2L300.7 1728.1L300.4 1729.2L301.1 1728.3L302.9 1725.9L305.8 1722.9L309.2 1720.1L312.6 1718.6L315.6 1718.8L317.5 1721.0L318.4 1724.7L318.2 1729.1L317.5 1733.2L316.7 1736.1L316.4 1737.2L317.1 1736.3L318.9 1733.9L321.8 1730.9L325.2 1728.1L328.6 1726.6L331.6 1726.8L333.5 1729.0L334.4 1732.7L334.2 1737.1L333.5 1741.2L332.7 1744.1L332.4 1745.2L333.1 1744.3L334.9 1741.9L337.8 1738.9M272.5 1575.4L273.2 1579.1L273.6 1581.7L273.8 1582.7L274.4 1581.9L275.6 1579.5L277.5 1576.3L280.1 1573.1L283.1 1571.0L286.2 1570.6L288.9 1572.0L291.0 1575.0L292.5 1578.7L293.2 1582.4L293.6 1585.1L293.8 1586.1L294.4 1585.2L295.6 1582.8L297.5 1579.6M332.0 1681.6L331.2 1684.8L330.5 1687.1L330.4 1688.0L331.3 1687.7L333.4 1686.5L336.4 1685.1L339.9 1684.1L343.4 1684.1L346.2 1685.3L348.1 1687.8L348.8 1691.2L348.6 1694.9L347.9 1698.1L347.2 1700.4L347.1 1701.4L348.0 1701.1L350.0 1699.9L353.0 1698.4M257.1 1701.4L256.1 1704.9L255.2 1707.4L254.9 1708.3L255.6 1707.7L257.5 1705.9L260.4 1703.6L263.9 1701.7L267.3 1700.9L270.1 1701.7L271.9 1704.0L272.5 1707.5L272.1 1711.4L271.1 1714.9L270.2 1717.4L269.9 1718.3L270.6 1717.7L272.5 1715.9L275.4 1713.6L278.9 1711.7L282.3 1710.9L285.1 1711.7L286.9 1714.0L287.5 1717.5L287.1 1721.4"/><path stroke="#e0e0e0" stroke-width="2.5" fill="none" d="M75 1725l30 -5l28 4M90 1732l35 2M100 1712l5 25M275 1690l40 -3l20 8M290 1700l30 8M300 1680l5 30"/><circle cx="104" cy="1725" r="3.2" fill="#c03030"/><circle cx="296" cy="1687" r="3.2" fill="#b03030"/><path stroke="#4040f0" stroke-width="1.6" fill="none" d="M101.7 1658.3L291.7 1636.7M118.3 1685.0L306.7 1663.3M101.7 1658.3L118.3 1685.0M291.7 1636.7L306.7 1663.3M101.7 1658.3L106.0 1740.0M118.3 1685.0L120.0 1768.3M306.7 1663.3L308.3 1745.0M291.7 1636.7L292.7 1716.7M106.0 1740.0L292.7 1716.7M120.0 1768.3L308.3 1745.0M106.0 1740.0L120.0 1768.3M292.7 1716.7L308.3 1745.0"/><circle cx="158.3" cy="1459.3" r="6.3" fill="url(#sg1)"/><circle cx="210.7" cy="1505.0" r="6.3" fill="url(#sg1)"/><circle cx="98.3" cy="1515.0" r="6.3" fill="url(#sg2)"/><circle cx="93.3" cy="1545.7" r="6.3" fill="url(#sg2)"/><circle cx="260.7" cy="1555.7" r="6.3" fill="url(#sg1)"/><circle cx="394.3" cy="1572.7" r="6.3" fill="url(#sg2)"/><circle cx="305.0" cy="1581.0" r="6.3" fill="url(#sg1)"/><circle cx="232.3" cy="1587.7" r="6.3" fill="url(#sg2)"/><circle cx="243.3" cy="1599.0" r="6.3" fill="url(#sg1)"/><circle cx="246.7" cy="1605.7" r="6.3" fill="url(#sg1)"/><circle cx="140.7" cy="1619.0" r="6.3" fill="url(#sg1)"/><circle cx="371.7" cy="1629.0" r="6.3" fill="url(#sg2)"/><circle cx="372.7" cy="1644.0" r="6.3" fill="url(#sg2)"/><circle cx="413.3" cy="1643.3" r="6.3" fill="url(#sg1)"/><circle cx="18.3" cy="1678.3" r="6.3" fill="url(#sg2)"/><circle cx="407.3" cy="1679.0" r="6.3" fill="url(#sg3)"/><circle cx="178.3" cy="1688.3" r="6.3" fill="url(#sg1)"/><circle cx="265.0" cy="1684.0" r="6.3" fill="url(#sg1)"/><circle cx="389.3" cy="1754.0" r="6.3" fill="url(#sg2)"/><circle cx="350.7" cy="1758.3" r="6.3" fill="url(#sg2)"/><circle cx="379.3" cy="1771.7" r="6.3" fill="url(#sg3)"/><circle cx="194.0" cy="1790.7" r="6.3" fill="url(#sg2)"/><circle cx="241.0" cy="1822.7" r="6.3" fill="url(#sg2)"/><circle cx="282.3" cy="1822.7" r="6.3" fill="url(#sg1)"/><circle cx="131.7" cy="1859.0" r="6.3" fill="url(#sg1)"/><circle cx="156.7" cy="1872.7" r="6.3" fill="url(#sg1)"/><circle cx="294.0" cy="1865.7" r="6.3" fill="url(#sg3)"/><path d="M58 1870L60 1836" stroke="#4848d8" stroke-width="5"/><ellipse cx="60" cy="1836" rx="11" ry="3.5" fill="#4b4bd8"/><path d="M49 1836L71 1836L60 1829Z" fill="#5a5ae0"/><path d="M62 1872L98 1868" stroke="#3cb43c" stroke-width="5"/><path d="M97 1861L107 1868L97 1875Z" fill="#2ea02e"/><path d="M60 1872L68 1885" stroke="#c03030" stroke-width="5"/><circle cx="70" cy="1888" r="10" fill="url(#rb)"/><text x="60" y="1829" font-size="10" fill="#888">z</text><text x="114" y="1870" font-size="10" fill="#888">y</text><rect x="595.0" y="1816.9" width="49.8" height="70.4" fill="#ff0000"/><rect x="659.8" y="1620.0" width="49.5" height="267.3" fill="#5858f8"/><rect x="724.3" y="1712.5" width="50.3" height="174.8" fill="#0000ff"/><rect x="789.2" y="1677.3" width="49.5" height="210.0" fill="#0000bb"/><path d="M587 1478V1889.5M571.7 1888.3H849" stroke="#000" stroke-width="3.2" fill="none"/><path d="M571.7 1887.3H587M579.5 1846.4H587M579.5 1805.4H587M579.5 1764.5H587M579.5 1723.6H587M571.7 1682.6H587M579.5 1641.7H587M579.5 1600.8H587M579.5 1559.9H587M579.5 1518.9H587M571.7 1478.0H587" stroke="#000" stroke-width="3" fill="none"/><text x="568.5" y="1489.5" font-size="31" text-anchor="end">100</text><text x="568.5" y="1694.1" font-size="31" text-anchor="end">50</text><text x="568.5" y="1898.8" font-size="31" text-anchor="end">0</text><text transform="translate(512 1676) rotate(-90)" font-size="35" text-anchor="middle"><tspan font-weight="bold">[ Na<tspan font-size="24" dy="-14">+</tspan><tspan dy="14"> ]</tspan></tspan> (mM)</text><text transform="translate(623.0 1924.0) rotate(-35)" font-size="27" font-weight="bold" text-anchor="end">Cc</text><text transform="translate(686.0 1924.0) rotate(-35)" font-size="27" font-weight="bold" text-anchor="end">Y48 pCMF Cc</text><text transform="translate(752.0 1928.0) rotate(-35)" font-size="27" font-weight="bold" text-anchor="end">pY48 Cc (q<tspan font-size="18" dy="-11">-1</tspan><tspan dy="11">)</tspan></text><text transform="translate(817.0 1930.0) rotate(-35)" font-size="27" font-weight="bold" text-anchor="end">pY48 Cc (q<tspan font-size="18" dy="-11">-2</tspan><tspan dy="11">)</tspan></text><rect x="973.3" y="1452.6" width="314.5" height="457.4" fill="none" stroke="#000" stroke-width="2.2"/><path d="M1036.3 1467.4V1910" stroke="#808080" stroke-width="1.6" stroke-dasharray="17 16"/><path d="M1235.8 1467.4V1910" stroke="#808080" stroke-width="1.6" stroke-dasharray="17 16"/><path d="M966.5 1910.0H973.3M969.5 1878.7H973.3M969.5 1860.4H973.3M969.5 1847.4H973.3M969.5 1837.3H973.3M969.5 1829.1H973.3M969.5 1822.1H973.3M969.5 1816.1H973.3M969.5 1810.8H973.3M966.5 1806.0H973.3M969.5 1774.7H973.3M969.5 1756.4H973.3M969.5 1743.4H973.3M969.5 1733.3H973.3M969.5 1725.1H973.3M969.5 1718.1H973.3M969.5 1712.1H973.3M969.5 1706.8H973.3M966.5 1702.0H973.3M969.5 1670.7H973.3M969.5 1652.4H973.3M969.5 1639.4H973.3M969.5 1629.3H973.3M969.5 1621.1H973.3M969.5 1614.1H973.3M969.5 1608.1H973.3M969.5 1602.8H973.3M966.5 1598.0H973.3M969.5 1566.7H973.3M969.5 1548.4H973.3M969.5 1535.4H973.3M969.5 1525.3H973.3M969.5 1517.1H973.3M969.5 1510.1H973.3M969.5 1504.1H973.3M969.5 1498.8H973.3M966.5 1494.0H973.3M969.5 1462.7H973.3M973.3 1910V1916.5M1025.8 1910V1914.0M1078.3 1910V1916.5M1130.8 1910V1914.0M1183.3 1910V1916.5M1235.8 1910V1914.0M1288.3 1910V1916.5" stroke="#000" stroke-width="1.6" fill="none"/><text x="941" y="1921.0" font-size="25" text-anchor="end">10</text><text x="943" y="1909.0" font-size="18">6</text><text x="941" y="1817.0" font-size="25" text-anchor="end">10</text><text x="943" y="1805.0" font-size="18">7</text><text x="941" y="1713.0" font-size="25" text-anchor="end">10</text><text x="943" y="1701.0" font-size="18">8</text><text x="941" y="1609.0" font-size="25" text-anchor="end">10</text><text x="943" y="1597.0" font-size="18">9</text><text x="941" y="1505.0" font-size="25" text-anchor="end">10</text><text x="943" y="1493.0" font-size="18">10</text><text x="973.3" y="1946" font-size="25" text-anchor="middle">0</text><text x="1078.3" y="1946" font-size="25" text-anchor="middle">10</text><text x="1183.3" y="1946" font-size="25" text-anchor="middle">20</text><text x="1288.3" y="1946" font-size="25" text-anchor="middle">30</text><text x="1136.5" y="1984" font-size="26" text-anchor="middle">Cut-off (Å)</text><text transform="translate(903 1697) rotate(-90)" font-size="28" text-anchor="middle"><tspan font-style="italic">k</tspan><tspan dy="15">on</tspan><tspan dy="-15">(M</tspan><tspan font-size="19" dy="-12">-1</tspan><tspan dy="12" xml:space="preserve">  s</tspan><tspan font-size="19" dy="-12">-1</tspan><tspan dy="12">)</tspan></text><path d="M1004.9 1850.7V1794.6M1002.4 1794.6H1007.4M1010.2 1814.4V1773.0M1007.7 1773.0H1012.7M1015.4 1785.4V1754.5M1012.9 1754.5H1017.9M1020.7 1762.2V1738.9M1018.2 1738.9H1023.2M1025.9 1739.7V1721.9M1023.4 1721.9H1028.4M1031.2 1714.5V1700.6M1028.7 1700.6H1033.7M1036.4 1690.4V1679.2M1033.9 1679.2H1038.9M1041.7 1670.0V1660.8M1039.2 1660.8H1044.2M1046.9 1652.0V1644.2M1044.4 1644.2H1049.4M1052.2 1636.5V1629.8M1049.7 1629.8H1054.7M1057.4 1622.7V1616.7M1054.9 1616.7H1059.9M1062.7 1610.6V1605.1M1060.2 1605.1H1065.2M1067.9 1600.2V1595.1M1065.4 1595.1H1070.4M1073.2 1591.2V1586.4M1070.7 1586.4H1075.7M1078.4 1583.2V1578.5M1075.9 1578.5H1080.9M1083.7 1576.1V1571.6M1081.2 1571.6H1086.2M1088.9 1570.0V1565.6M1086.4 1565.6H1091.4M1094.2 1564.4V1560.1M1091.7 1560.1H1096.7M1099.4 1559.3V1555.0M1096.9 1555.0H1101.9M1104.7 1554.7V1550.4M1102.2 1550.4H1107.2M1109.9 1550.7V1546.5M1107.4 1546.5H1112.4M1115.2 1547.4V1543.2M1112.7 1543.2H1117.7M1120.4 1544.6V1540.4M1117.9 1540.4H1122.9M1125.7 1542.1V1537.9M1123.2 1537.9H1128.2M1130.9 1539.8V1535.6M1128.4 1535.6H1133.4M1136.2 1537.7V1533.5M1133.7 1533.5H1138.7M1141.4 1535.8V1531.6M1138.9 1531.6H1143.9M1146.7 1533.9V1529.7M1144.2 1529.7H1149.2M1151.9 1532.0V1527.8M1149.4 1527.8H1154.4M1157.2 1530.2V1526.0M1154.7 1526.0H1159.7M1162.4 1528.5V1524.3M1159.9 1524.3H1164.9M1167.7 1526.9V1522.7M1165.2 1522.7H1170.2M1172.9 1525.4V1521.2M1170.4 1521.2H1175.4M1178.2 1523.9V1519.8M1175.7 1519.8H1180.7M1183.4 1522.6V1518.4M1180.9 1518.4H1185.9M1188.7 1521.3V1517.1M1186.2 1517.1H1191.2M1193.9 1520.1V1515.9M1191.4 1515.9H1196.4M1199.2 1518.9V1514.7M1196.7 1514.7H1201.7M1204.4 1517.8V1513.6M1201.9 1513.6H1206.9M1209.7 1516.7V1512.5M1207.2 1512.5H1212.2M1214.9 1515.6V1511.5M1212.4 1511.5H1217.4M1220.2 1514.6V1510.5M1217.7 1510.5H1222.7M1225.4 1513.6V1509.4M1222.9 1509.4H1227.9M1230.7 1512.6V1508.4M1228.2 1508.4H1233.2M1235.9 1511.6V1507.4M1233.4 1507.4H1238.4M1241.2 1510.6V1506.4M1238.7 1506.4H1243.7M1246.4 1509.6V1505.4M1243.9 1505.4H1248.9M1251.7 1508.6V1504.5M1249.2 1504.5H1254.2M1256.9 1507.7V1503.5M1254.4 1503.5H1259.4M1262.2 1506.7V1502.6M1259.7 1502.6H1264.7M1267.4 1505.8V1501.6M1264.9 1501.6H1269.9M1272.7 1504.9V1500.7M1270.2 1500.7H1275.2M1277.9 1504.0V1499.9M1275.4 1499.9H1280.4M1283.2 1503.2V1499.0M1280.7 1499.0H1285.7" stroke="#f08888" stroke-width="1" fill="none"/><path d="M1004.9 1850.7L1007.3 1833.6L1009.7 1817.5L1012.0 1802.9L1014.4 1790.2L1016.8 1778.8L1019.2 1768.3L1021.6 1758.3L1024.0 1748.3L1026.3 1737.8L1028.7 1726.5L1031.1 1714.8L1033.5 1703.3L1035.9 1692.6L1038.2 1683.0L1040.6 1673.9L1043.0 1665.1L1045.4 1656.9L1047.8 1649.2L1050.2 1642.1L1052.5 1635.5L1054.9 1629.1L1057.3 1623.0L1059.7 1617.2L1062.1 1611.9L1064.4 1606.8L1066.8 1602.2L1069.2 1597.9L1071.6 1593.8L1074.0 1589.9L1076.3 1586.2L1078.7 1582.7L1081.1 1579.4L1083.5 1576.3L1085.9 1573.4L1088.3 1570.7L1090.6 1568.1L1093.0 1565.6L1095.4 1563.2L1097.8 1560.8L1100.2 1558.6L1102.5 1556.5L1104.9 1554.5L1107.3 1552.6L1109.7 1550.9L1112.1 1549.3L1114.5 1547.8L1116.8 1546.5L1119.2 1545.2L1121.6 1544.0L1124.0 1542.8L1126.4 1541.7L1128.7 1540.7L1131.1 1539.7L1133.5 1538.7L1135.9 1537.8L1138.3 1536.9L1140.6 1536.0L1143.0 1535.2L1145.4 1534.3L1147.8 1533.5L1150.2 1532.6L1152.6 1531.8L1154.9 1530.9L1157.3 1530.1L1159.7 1529.4L1162.1 1528.6L1164.5 1527.9L1166.8 1527.1L1169.2 1526.4L1171.6 1525.7L1174.0 1525.0L1176.4 1524.4L1178.8 1523.8L1181.1 1523.1L1183.5 1522.5L1185.9 1522.0L1188.3 1521.4L1190.7 1520.8L1193.0 1520.3L1195.4 1519.7L1197.8 1519.2L1200.2 1518.7L1202.6 1518.2L1204.9 1517.7L1207.3 1517.2L1209.7 1516.7L1212.1 1516.2L1214.5 1515.7L1216.9 1515.3L1219.2 1514.8L1221.6 1514.3L1224.0 1513.9L1226.4 1513.4L1228.8 1513.0L1231.1 1512.5L1233.5 1512.0L1235.9 1511.6L1238.3 1511.1L1240.7 1510.7L1243.1 1510.2L1245.4 1509.8L1247.8 1509.3L1250.2 1508.9L1252.6 1508.5L1255.0 1508.0L1257.3 1507.6L1259.7 1507.2L1262.1 1506.7L1264.5 1506.3L1266.9 1505.9L1269.2 1505.5L1271.6 1505.1L1274.0 1504.7L1276.4 1504.3L1278.8 1503.9L1281.2 1503.5L1283.5 1503.1L1285.9 1502.7L1288.3 1502.3" stroke="#dd1111" stroke-width="2.6" fill="none"/><path d="M1025.1 1904.8V1848.6M1022.6 1848.6H1027.6M1030.3 1845.2V1803.8M1027.8 1803.8H1032.8M1035.6 1796.5V1765.7M1033.1 1765.7H1038.1M1040.8 1774.5V1751.2M1038.3 1751.2H1043.3M1046.1 1755.1V1737.2M1043.6 1737.2H1048.6M1051.3 1740.3V1726.3M1048.8 1726.3H1053.8M1056.6 1729.5V1718.3M1054.1 1718.3H1059.1M1061.8 1720.0V1710.8M1059.3 1710.8H1064.3M1067.1 1709.5V1701.8M1064.6 1701.8H1069.6M1072.3 1698.7V1692.0M1069.8 1692.0H1074.8M1077.6 1688.4V1682.4M1075.1 1682.4H1080.1M1082.8 1679.2V1673.7M1080.3 1673.7H1085.3M1088.1 1670.7V1665.6M1085.6 1665.6H1090.6M1093.3 1662.8V1657.9M1090.8 1657.9H1095.8M1098.6 1655.5V1650.8M1096.1 1650.8H1101.1M1103.8 1648.8V1644.3M1101.3 1644.3H1106.3M1109.1 1642.7V1638.3M1106.6 1638.3H1111.6M1114.3 1636.9V1632.6M1111.8 1632.6H1116.8M1119.6 1631.4V1627.1M1117.1 1627.1H1122.1M1124.8 1625.9V1621.7M1122.3 1621.7H1127.3M1130.1 1620.4V1616.2M1127.6 1616.2H1132.6M1135.3 1614.7V1610.5M1132.8 1610.5H1137.8M1140.6 1609.1V1604.9M1138.1 1604.9H1143.1M1145.8 1603.5V1599.4M1143.3 1599.4H1148.3M1151.1 1598.2V1594.0M1148.6 1594.0H1153.6M1156.3 1593.1V1588.9M1153.8 1588.9H1158.8M1161.6 1588.4V1584.2M1159.1 1584.2H1164.1M1166.8 1583.9V1579.7M1164.3 1579.7H1169.3M1172.1 1579.5V1575.4M1169.6 1575.4H1174.6M1177.3 1575.4V1571.2M1174.8 1571.2H1179.8M1182.6 1571.3V1567.2M1180.1 1567.2H1185.1M1187.8 1567.5V1563.4M1185.3 1563.4H1190.3M1193.1 1563.9V1559.7M1190.6 1559.7H1195.6M1198.3 1560.5V1556.4M1195.8 1556.4H1200.8M1203.6 1557.4V1553.2M1201.1 1553.2H1206.1M1208.8 1554.4V1550.2M1206.3 1550.2H1211.3M1214.1 1551.6V1547.4M1211.6 1547.4H1216.6M1219.3 1548.9V1544.8M1216.8 1544.8H1221.8M1224.6 1546.4V1542.3M1222.1 1542.3H1227.1M1229.8 1544.1V1540.0M1227.3 1540.0H1232.3M1235.1 1542.0V1537.8M1232.6 1537.8H1237.6M1240.3 1539.9V1535.8M1237.8 1535.8H1242.8M1245.6 1538.0V1533.8M1243.1 1533.8H1248.1M1250.8 1536.0V1531.9M1248.3 1531.9H1253.3M1256.1 1534.2V1530.1M1253.6 1530.1H1258.6M1261.3 1532.5V1528.3M1258.8 1528.3H1263.8M1266.6 1530.8V1526.6M1264.1 1526.6H1269.1M1271.8 1529.3V1525.1M1269.3 1525.1H1274.3M1277.1 1527.8V1523.7M1274.6 1523.7H1279.6M1282.3 1526.5V1522.4M1279.8 1522.4H1284.8" stroke="#8888f4" stroke-width="1" fill="none"/><path d="M1025.1 1904.8L1027.3 1880.5L1029.5 1855.3L1031.7 1826.6L1033.9 1806.0L1036.1 1793.8L1038.3 1784.4L1040.5 1775.6L1042.8 1766.9L1045.0 1758.8L1047.2 1751.5L1049.4 1745.0L1051.6 1739.6L1053.8 1734.8L1056.0 1730.5L1058.2 1726.4L1060.5 1722.5L1062.7 1718.4L1064.9 1714.0L1067.1 1709.5L1069.3 1704.9L1071.5 1700.4L1073.7 1695.9L1075.9 1691.5L1078.2 1687.3L1080.4 1683.3L1082.6 1679.6L1084.8 1675.9L1087.0 1672.3L1089.2 1668.9L1091.4 1665.5L1093.6 1662.3L1095.9 1659.2L1098.1 1656.1L1100.3 1653.2L1102.5 1650.4L1104.7 1647.7L1106.9 1645.1L1109.1 1642.6L1111.3 1640.2L1113.5 1637.8L1115.8 1635.4L1118.0 1633.1L1120.2 1630.8L1122.4 1628.5L1124.6 1626.2L1126.8 1623.8L1129.0 1621.5L1131.2 1619.1L1133.5 1616.7L1135.7 1614.4L1137.9 1612.0L1140.1 1609.6L1142.3 1607.2L1144.5 1604.9L1146.7 1602.6L1148.9 1600.3L1151.2 1598.1L1153.4 1595.9L1155.6 1593.8L1157.8 1591.7L1160.0 1589.7L1162.2 1587.8L1164.4 1585.9L1166.6 1584.0L1168.8 1582.2L1171.1 1580.4L1173.3 1578.6L1175.5 1576.8L1177.7 1575.1L1179.9 1573.3L1182.1 1571.7L1184.3 1570.0L1186.5 1568.4L1188.8 1566.8L1191.0 1565.3L1193.2 1563.8L1195.4 1562.4L1197.6 1561.0L1199.8 1559.6L1202.0 1558.3L1204.2 1557.0L1206.5 1555.7L1208.7 1554.5L1210.9 1553.3L1213.1 1552.1L1215.3 1550.9L1217.5 1549.8L1219.7 1548.7L1221.9 1547.7L1224.2 1546.6L1226.4 1545.6L1228.6 1544.6L1230.8 1543.7L1233.0 1542.8L1235.2 1541.9L1237.4 1541.0L1239.6 1540.2L1241.8 1539.4L1244.1 1538.5L1246.3 1537.7L1248.5 1536.9L1250.7 1536.1L1252.9 1535.3L1255.1 1534.5L1257.3 1533.8L1259.5 1533.0L1261.8 1532.3L1264.0 1531.6L1266.2 1530.9L1268.4 1530.3L1270.6 1529.6L1272.8 1529.0L1275.0 1528.4L1277.2 1527.8L1279.5 1527.2L1281.7 1526.7L1283.9 1526.2L1286.1 1525.7L1288.3 1525.2" stroke="#1111ee" stroke-width="2.6" fill="none"/></svg></body></html>
